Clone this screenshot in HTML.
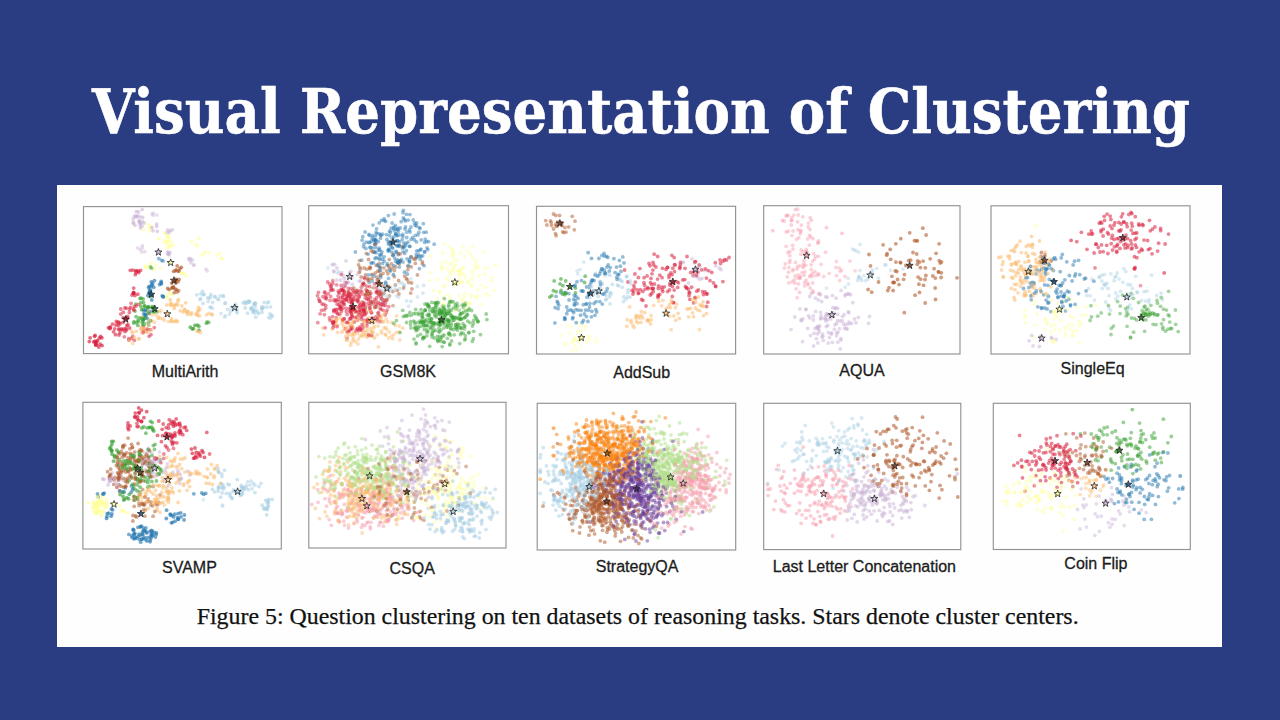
<!DOCTYPE html>
<html lang="en"><head><meta charset="utf-8"><title>Visual Representation of Clustering</title>
<style>
html,body{margin:0;padding:0}
body{width:1280px;height:720px;overflow:hidden;background:#2a3c82;position:relative;font-family:"Liberation Sans",sans-serif}
.panel{position:absolute;left:57px;top:184.5px;width:1165px;height:462.5px;background:#fefefe}
svg{position:absolute;left:0;top:0}
.ttl{stroke:#fff;stroke-width:.5px;font:bold 61px "DejaVu Serif Condensed","DejaVu Serif","Liberation Serif",serif;fill:#fff}
.c0{fill:#c9b1d6;fill-opacity:0.55}.c1{fill:#c9b1d6;fill-opacity:0.4}.c2{fill:#c9b1d6;fill-opacity:0.5}.c3{fill:#ffff99;fill-opacity:0.6}.c4{fill:#ffff99;fill-opacity:0.7}.c5{fill:#ffff99;fill-opacity:0.5}.c6{fill:#ffff99;fill-opacity:0.55}.c7{fill:#d91d3a;fill-opacity:0.6}.c8{fill:#d91d3a;fill-opacity:0.55}.c9{fill:#d91d3a;fill-opacity:0.65}.c10{fill:#d91d3a;fill-opacity:0.5}.c11{fill:#2577b0;fill-opacity:0.65}.c12{fill:#2577b0;fill-opacity:0.6}.c13{fill:#2577b0;fill-opacity:0.5}.c14{fill:#b05a2c;fill-opacity:0.65}.c15{fill:#b05a2c;fill-opacity:0.6}.c16{fill:#37a030;fill-opacity:0.6}.c17{fill:#37a030;fill-opacity:0.55}.c18{fill:#37a030;fill-opacity:0.65}.c19{fill:#37a030;fill-opacity:0.5}.c20{fill:#fbbe72;fill-opacity:0.6}.c21{fill:#fbbe72;fill-opacity:0.55}.c22{fill:#fbbe72;fill-opacity:0.5}.c23{fill:#a6cee3;fill-opacity:0.55}.c24{fill:#a6cee3;fill-opacity:0.5}.c25{fill:#a6cee3;fill-opacity:0.6}.c26{fill:#a6cee3;fill-opacity:0.45}.c27{fill:#ffff99;fill-opacity:0.42}.c28{fill:#a6cee3;fill-opacity:0.4}.c29{fill:#b05a2c;fill-opacity:0.5}.c30{fill:#b05a2c;fill-opacity:0.45}.c31{fill:#2577b0;fill-opacity:0.47}.c32{fill:#2577b0;fill-opacity:0.45}.c33{fill:#d91d3a;fill-opacity:0.48}.c34{fill:#37a030;fill-opacity:0.48}.c35{fill:#ffff99;fill-opacity:0.38}.c36{fill:#f79cab;fill-opacity:0.45}.c37{fill:#f79cab;fill-opacity:0.42}.c38{fill:#f79cab;fill-opacity:0.5}.c39{fill:#ffff99;fill-opacity:0.4}.c40{fill:#b05a2c;fill-opacity:0.55}.c41{fill:#37a030;fill-opacity:0.45}.c42{fill:#d91d3a;fill-opacity:0.4}.c43{fill:#ffff99;fill-opacity:0.65}.c44{fill:#37a030;fill-opacity:0.58}.c45{fill:#2577b0;fill-opacity:0.55}.c46{fill:#b2df8a;fill-opacity:0.5}.c47{fill:#c9b1d6;fill-opacity:0.48}.c48{fill:#6a3d9a;fill-opacity:0.5}.c49{fill:#b05a2c;fill-opacity:0.52}.c50{fill:#f98210;fill-opacity:0.5}.c51{fill:#f98210;fill-opacity:0.6}.c52{fill:#b05a2c;fill-opacity:0.57}.c53{fill:#fbbe72;fill-opacity:0.45}.c54{fill:#c9b1d6;fill-opacity:0.45}
.lab{font:16px "Liberation Sans",sans-serif;fill:#1c1c1c;stroke:#1c1c1c;stroke-width:.3px}
.cap{font:23.87px "Liberation Serif",serif;fill:#111;stroke:#111;stroke-width:.25px}
</style></head><body>
<div class="panel"></div>
<svg width="1280" height="720" viewBox="0 0 1280 720">
<defs><filter id="bl" x="0" y="0" width="100%" height="100%" filterUnits="userSpaceOnUse"><feGaussianBlur stdDeviation="0.45"/></filter></defs>
<text class="ttl" x="92" y="132.5" textLength="1098" lengthAdjust="spacingAndGlyphs">Visual Representation of Clustering</text>
<g class="plots" filter="url(#bl)">
<rect x="83.5" y="206.6" width="198.5" height="147.0" fill="#fff" stroke="#929292" stroke-width="1.15"/>
<g class="c24"><circle cx="262.4" cy="308.0" r="1.9"/><circle cx="266.8" cy="307.2" r="1.9"/></g>
<g class="c16"><circle cx="135.0" cy="311.1" r="1.9"/><circle cx="136.5" cy="322.8" r="1.9"/><circle cx="143.0" cy="320.9" r="1.9"/><circle cx="142.7" cy="317.3" r="1.9"/></g>
<g class="c18"><circle cx="190.3" cy="327.2" r="1.9"/></g>
<g class="c6"><circle cx="160.5" cy="268.6" r="1.9"/><circle cx="155.5" cy="265.3" r="1.9"/><circle cx="145.5" cy="265.9" r="1.9"/><circle cx="147.1" cy="268.0" r="1.9"/><circle cx="145.7" cy="266.9" r="1.9"/><circle cx="148.2" cy="266.7" r="1.9"/></g>
<g class="c8"><circle cx="129.4" cy="312.5" r="1.9"/><circle cx="127.7" cy="318.0" r="1.9"/><circle cx="129.4" cy="309.2" r="1.9"/><circle cx="126.2" cy="308.1" r="1.9"/><circle cx="123.3" cy="312.2" r="1.9"/><circle cx="127.5" cy="316.4" r="1.9"/></g>
<g class="c24"><circle cx="218.7" cy="299.6" r="1.9"/><circle cx="223.0" cy="295.7" r="1.9"/><circle cx="224.9" cy="303.4" r="1.9"/><circle cx="220.1" cy="295.9" r="1.9"/><circle cx="223.5" cy="296.4" r="1.9"/><circle cx="225.4" cy="303.0" r="1.9"/></g>
<g class="c1"><circle cx="151.9" cy="213.9" r="1.9"/><circle cx="153.4" cy="213.1" r="1.9"/><circle cx="156.8" cy="214.9" r="1.9"/><circle cx="153.1" cy="215.3" r="1.9"/></g>
<g class="c21"><circle cx="212.1" cy="314.9" r="1.9"/><circle cx="206.6" cy="314.7" r="1.9"/><circle cx="211.9" cy="314.1" r="1.9"/><circle cx="209.2" cy="313.3" r="1.9"/></g>
<g class="c7"><circle cx="137.8" cy="294.2" r="1.9"/><circle cx="132.0" cy="295.1" r="1.9"/><circle cx="133.4" cy="293.3" r="1.9"/><circle cx="133.6" cy="293.1" r="1.9"/><circle cx="133.9" cy="292.9" r="1.9"/><circle cx="133.7" cy="288.1" r="1.9"/></g>
<g class="c23"><circle cx="252.9" cy="312.1" r="1.9"/><circle cx="254.4" cy="313.0" r="1.9"/><circle cx="255.8" cy="317.2" r="1.9"/><circle cx="253.4" cy="311.1" r="1.9"/><circle cx="253.9" cy="310.3" r="1.9"/><circle cx="247.4" cy="313.2" r="1.9"/></g>
<g class="c21"><circle cx="141.8" cy="333.0" r="1.9"/><circle cx="141.3" cy="329.0" r="1.9"/><circle cx="147.1" cy="328.5" r="1.9"/><circle cx="132.8" cy="332.8" r="1.9"/><circle cx="136.3" cy="331.3" r="1.9"/><circle cx="145.8" cy="331.2" r="1.9"/></g>
<g class="c0"><circle cx="144.2" cy="222.9" r="1.9"/><circle cx="139.7" cy="222.5" r="1.9"/><circle cx="140.4" cy="228.0" r="1.9"/><circle cx="136.0" cy="216.2" r="1.9"/><circle cx="139.1" cy="220.7" r="1.9"/><circle cx="133.4" cy="223.5" r="1.9"/></g>
<g class="c7"><circle cx="135.5" cy="270.8" r="1.9"/><circle cx="138.2" cy="271.2" r="1.9"/><circle cx="136.8" cy="270.8" r="1.9"/></g>
<g class="c10"><circle cx="150.3" cy="329.6" r="1.9"/><circle cx="149.1" cy="336.3" r="1.9"/><circle cx="151.0" cy="334.7" r="1.9"/><circle cx="154.3" cy="327.6" r="1.9"/><circle cx="143.5" cy="326.6" r="1.9"/><circle cx="143.4" cy="329.8" r="1.9"/></g>
<g class="c14"><circle cx="172.7" cy="287.5" r="1.9"/><circle cx="169.2" cy="289.6" r="1.9"/><circle cx="172.8" cy="287.8" r="1.9"/><circle cx="173.6" cy="286.9" r="1.9"/><circle cx="171.9" cy="287.9" r="1.9"/><circle cx="167.7" cy="288.4" r="1.9"/></g>
<g class="c26"><circle cx="229.4" cy="314.2" r="1.9"/><circle cx="220.9" cy="313.6" r="1.9"/><circle cx="225.3" cy="315.9" r="1.9"/><circle cx="224.7" cy="316.9" r="1.9"/></g>
<g class="c24"><circle cx="227.6" cy="309.3" r="1.9"/><circle cx="237.1" cy="312.8" r="1.9"/></g>
<g class="c16"><circle cx="143.5" cy="302.6" r="1.9"/><circle cx="143.0" cy="309.7" r="1.9"/><circle cx="147.1" cy="311.0" r="1.9"/><circle cx="147.2" cy="307.7" r="1.9"/><circle cx="141.0" cy="302.7" r="1.9"/><circle cx="135.8" cy="304.1" r="1.9"/></g>
<g class="c20"><circle cx="183.2" cy="312.1" r="1.9"/><circle cx="191.7" cy="312.9" r="1.9"/><circle cx="187.3" cy="311.7" r="1.9"/><circle cx="186.7" cy="312.5" r="1.9"/><circle cx="187.8" cy="314.4" r="1.9"/><circle cx="197.6" cy="315.3" r="1.9"/></g>
<g class="c7"><circle cx="120.1" cy="323.7" r="1.9"/><circle cx="122.4" cy="329.9" r="1.9"/><circle cx="115.5" cy="334.7" r="1.9"/><circle cx="121.4" cy="329.0" r="1.9"/></g>
<g class="c25"><circle cx="249.3" cy="302.1" r="1.9"/><circle cx="245.3" cy="303.6" r="1.9"/><circle cx="243.2" cy="302.8" r="1.9"/><circle cx="255.3" cy="303.3" r="1.9"/><circle cx="249.4" cy="301.3" r="1.9"/><circle cx="254.8" cy="304.4" r="1.9"/></g>
<g class="c21"><circle cx="131.6" cy="331.4" r="1.9"/><circle cx="142.9" cy="330.2" r="1.9"/><circle cx="147.8" cy="332.3" r="1.9"/><circle cx="143.5" cy="327.9" r="1.9"/><circle cx="141.0" cy="327.5" r="1.9"/><circle cx="141.0" cy="329.0" r="1.9"/></g>
<g class="c16"><circle cx="144.7" cy="306.0" r="1.9"/><circle cx="141.6" cy="309.7" r="1.9"/><circle cx="144.5" cy="306.2" r="1.9"/><circle cx="143.1" cy="299.0" r="1.9"/><circle cx="140.9" cy="306.4" r="1.9"/><circle cx="141.1" cy="298.2" r="1.9"/></g>
<g class="c1"><circle cx="207.1" cy="270.9" r="1.9"/><circle cx="205.9" cy="269.1" r="1.9"/></g>
<g class="c11"><circle cx="161.2" cy="282.8" r="1.9"/><circle cx="161.4" cy="283.8" r="1.9"/><circle cx="161.2" cy="281.3" r="1.9"/><circle cx="159.6" cy="284.5" r="1.9"/></g>
<g class="c13"><circle cx="158.8" cy="258.6" r="1.9"/><circle cx="161.6" cy="260.3" r="1.9"/><circle cx="163.0" cy="260.9" r="1.9"/></g>
<g class="c9"><circle cx="100.1" cy="344.2" r="1.9"/><circle cx="102.1" cy="345.6" r="1.9"/><circle cx="101.9" cy="337.8" r="1.9"/><circle cx="89.3" cy="341.6" r="1.9"/><circle cx="96.4" cy="341.1" r="1.9"/><circle cx="96.1" cy="342.8" r="1.9"/></g>
<g class="c1"><circle cx="193.8" cy="265.2" r="1.9"/><circle cx="193.9" cy="265.0" r="1.9"/></g>
<g class="c3"><circle cx="149.5" cy="230.5" r="1.9"/><circle cx="149.9" cy="227.3" r="1.9"/><circle cx="148.3" cy="224.6" r="1.9"/><circle cx="143.9" cy="229.3" r="1.9"/><circle cx="151.2" cy="226.4" r="1.9"/></g>
<g class="c23"><circle cx="261.9" cy="309.6" r="1.9"/><circle cx="255.2" cy="306.1" r="1.9"/><circle cx="257.5" cy="312.0" r="1.9"/><circle cx="261.7" cy="308.1" r="1.9"/></g>
<g class="c14"><circle cx="175.4" cy="270.8" r="1.9"/><circle cx="178.1" cy="271.0" r="1.9"/></g>
<g class="c3"><circle cx="171.8" cy="294.8" r="1.9"/><circle cx="166.5" cy="296.7" r="1.9"/><circle cx="170.5" cy="293.9" r="1.9"/><circle cx="167.2" cy="297.8" r="1.9"/><circle cx="168.9" cy="292.6" r="1.9"/><circle cx="165.2" cy="296.3" r="1.9"/></g>
<g class="c11"><circle cx="154.4" cy="280.6" r="1.9"/><circle cx="152.0" cy="285.0" r="1.9"/></g>
<g class="c22"><circle cx="154.4" cy="322.2" r="1.9"/><circle cx="151.6" cy="320.8" r="1.9"/><circle cx="142.1" cy="317.6" r="1.9"/><circle cx="162.9" cy="318.7" r="1.9"/></g>
<g class="c18"><circle cx="197.4" cy="325.1" r="1.9"/><circle cx="192.3" cy="329.0" r="1.9"/><circle cx="193.4" cy="328.6" r="1.9"/><circle cx="198.9" cy="326.2" r="1.9"/><circle cx="194.9" cy="325.3" r="1.9"/><circle cx="198.9" cy="330.2" r="1.9"/></g>
<g class="c21"><circle cx="146.4" cy="331.7" r="1.9"/><circle cx="151.4" cy="330.3" r="1.9"/></g>
<g class="c3"><circle cx="191.5" cy="241.3" r="1.9"/><circle cx="198.8" cy="238.5" r="1.9"/><circle cx="196.3" cy="244.4" r="1.9"/><circle cx="196.7" cy="245.6" r="1.9"/></g>
<g class="c10"><circle cx="143.3" cy="332.5" r="1.9"/><circle cx="147.2" cy="329.3" r="1.9"/></g>
<g class="c20"><circle cx="170.8" cy="305.4" r="1.9"/><circle cx="166.8" cy="305.0" r="1.9"/><circle cx="174.9" cy="305.5" r="1.9"/><circle cx="170.3" cy="299.9" r="1.9"/><circle cx="173.8" cy="305.6" r="1.9"/><circle cx="174.2" cy="308.4" r="1.9"/></g>
<g class="c8"><circle cx="120.8" cy="309.0" r="1.9"/><circle cx="133.6" cy="308.9" r="1.9"/><circle cx="120.7" cy="314.1" r="1.9"/><circle cx="130.4" cy="307.5" r="1.9"/><circle cx="123.1" cy="317.7" r="1.9"/><circle cx="124.9" cy="307.9" r="1.9"/></g>
<g class="c23"><circle cx="200.0" cy="299.6" r="1.9"/><circle cx="201.0" cy="293.8" r="1.9"/><circle cx="209.4" cy="298.2" r="1.9"/><circle cx="203.6" cy="294.7" r="1.9"/><circle cx="203.9" cy="294.4" r="1.9"/><circle cx="196.9" cy="294.8" r="1.9"/></g>
<g class="c24"><circle cx="210.4" cy="307.1" r="1.9"/><circle cx="212.7" cy="302.5" r="1.9"/><circle cx="210.3" cy="307.3" r="1.9"/><circle cx="212.3" cy="308.3" r="1.9"/></g>
<g class="c9"><circle cx="94.6" cy="336.3" r="1.9"/><circle cx="95.6" cy="344.9" r="1.9"/><circle cx="94.8" cy="341.5" r="1.9"/><circle cx="97.6" cy="340.9" r="1.9"/><circle cx="93.7" cy="341.9" r="1.9"/><circle cx="98.8" cy="347.0" r="1.9"/></g>
<g class="c23"><circle cx="251.0" cy="308.3" r="1.9"/><circle cx="250.9" cy="309.0" r="1.9"/><circle cx="252.6" cy="308.9" r="1.9"/><circle cx="258.5" cy="313.5" r="1.9"/><circle cx="261.9" cy="312.6" r="1.9"/><circle cx="256.0" cy="310.1" r="1.9"/></g>
<g class="c20"><circle cx="184.5" cy="309.9" r="1.9"/><circle cx="177.9" cy="301.5" r="1.9"/></g>
<g class="c12"><circle cx="145.5" cy="309.9" r="1.9"/><circle cx="143.5" cy="319.5" r="1.9"/><circle cx="146.1" cy="316.1" r="1.9"/><circle cx="143.7" cy="313.8" r="1.9"/></g>
<g class="c17"><circle cx="207.1" cy="322.0" r="1.9"/><circle cx="206.4" cy="323.3" r="1.9"/><circle cx="208.7" cy="322.4" r="1.9"/></g>
<g class="c20"><circle cx="196.6" cy="313.4" r="1.9"/><circle cx="188.3" cy="311.7" r="1.9"/><circle cx="191.1" cy="314.6" r="1.9"/></g>
<g class="c24"><circle cx="210.9" cy="294.5" r="1.9"/><circle cx="210.6" cy="296.6" r="1.9"/><circle cx="215.0" cy="296.4" r="1.9"/><circle cx="217.4" cy="298.9" r="1.9"/><circle cx="214.7" cy="296.9" r="1.9"/><circle cx="208.2" cy="301.6" r="1.9"/></g>
<g class="c22"><circle cx="196.6" cy="331.0" r="1.9"/><circle cx="200.5" cy="332.5" r="1.9"/><circle cx="198.3" cy="331.8" r="1.9"/></g>
<g class="c2"><circle cx="168.6" cy="253.7" r="1.9"/><circle cx="167.5" cy="251.8" r="1.9"/><circle cx="168.2" cy="254.2" r="1.9"/><circle cx="169.2" cy="254.7" r="1.9"/><circle cx="170.0" cy="252.3" r="1.9"/><circle cx="168.0" cy="253.1" r="1.9"/></g>
<g class="c10"><circle cx="134.4" cy="340.3" r="1.9"/><circle cx="128.7" cy="338.6" r="1.9"/><circle cx="132.7" cy="336.3" r="1.9"/><circle cx="128.9" cy="340.1" r="1.9"/><circle cx="131.6" cy="338.5" r="1.9"/><circle cx="124.3" cy="336.8" r="1.9"/></g>
<g class="c7"><circle cx="134.9" cy="295.5" r="1.9"/><circle cx="133.6" cy="292.4" r="1.9"/></g>
<g class="c11"><circle cx="149.7" cy="290.4" r="1.9"/><circle cx="150.6" cy="289.8" r="1.9"/><circle cx="147.9" cy="295.5" r="1.9"/><circle cx="151.8" cy="299.9" r="1.9"/><circle cx="149.9" cy="292.2" r="1.9"/><circle cx="149.6" cy="292.1" r="1.9"/></g>
<g class="c4"><circle cx="164.5" cy="241.0" r="1.9"/><circle cx="167.5" cy="235.3" r="1.9"/><circle cx="158.8" cy="238.8" r="1.9"/><circle cx="167.7" cy="240.7" r="1.9"/><circle cx="164.7" cy="232.9" r="1.9"/><circle cx="166.1" cy="243.4" r="1.9"/></g>
<g class="c17"><circle cx="148.4" cy="322.3" r="1.9"/><circle cx="150.6" cy="320.7" r="1.9"/><circle cx="144.7" cy="323.9" r="1.9"/><circle cx="144.8" cy="318.1" r="1.9"/><circle cx="148.7" cy="325.0" r="1.9"/></g>
<g class="c22"><circle cx="132.7" cy="343.4" r="1.9"/><circle cx="139.1" cy="339.0" r="1.9"/><circle cx="134.3" cy="337.4" r="1.9"/><circle cx="129.2" cy="340.7" r="1.9"/><circle cx="138.7" cy="338.4" r="1.9"/></g>
<g class="c12"><circle cx="148.8" cy="313.0" r="1.9"/><circle cx="145.5" cy="314.4" r="1.9"/><circle cx="144.2" cy="310.7" r="1.9"/><circle cx="150.3" cy="311.5" r="1.9"/><circle cx="145.2" cy="314.8" r="1.9"/><circle cx="147.4" cy="318.6" r="1.9"/></g>
<g class="c24"><circle cx="272.4" cy="316.0" r="1.9"/><circle cx="270.6" cy="318.1" r="1.9"/><circle cx="268.7" cy="317.6" r="1.9"/><circle cx="269.9" cy="313.8" r="1.9"/><circle cx="271.3" cy="315.2" r="1.9"/></g>
<g class="c7"><circle cx="118.8" cy="329.0" r="1.9"/><circle cx="114.7" cy="328.8" r="1.9"/><circle cx="124.2" cy="329.0" r="1.9"/><circle cx="126.7" cy="330.1" r="1.9"/><circle cx="119.9" cy="332.8" r="1.9"/><circle cx="108.4" cy="327.8" r="1.9"/></g>
<g class="c7"><circle cx="123.2" cy="322.3" r="1.9"/><circle cx="126.9" cy="325.4" r="1.9"/><circle cx="119.3" cy="329.8" r="1.9"/><circle cx="125.0" cy="331.5" r="1.9"/><circle cx="110.5" cy="327.0" r="1.9"/><circle cx="115.9" cy="325.0" r="1.9"/></g>
<g class="c2"><circle cx="170.4" cy="230.4" r="1.9"/><circle cx="169.3" cy="232.4" r="1.9"/><circle cx="167.6" cy="229.9" r="1.9"/><circle cx="167.2" cy="232.4" r="1.9"/><circle cx="172.5" cy="229.8" r="1.9"/></g>
<g class="c14"><circle cx="176.1" cy="269.9" r="1.9"/><circle cx="181.3" cy="267.3" r="1.9"/><circle cx="180.0" cy="268.6" r="1.9"/><circle cx="177.2" cy="265.9" r="1.9"/><circle cx="173.7" cy="271.3" r="1.9"/><circle cx="179.1" cy="271.1" r="1.9"/></g>
<g class="c11"><circle cx="151.3" cy="282.0" r="1.9"/><circle cx="148.6" cy="287.6" r="1.9"/><circle cx="151.1" cy="286.2" r="1.9"/><circle cx="153.7" cy="287.2" r="1.9"/><circle cx="152.6" cy="283.4" r="1.9"/><circle cx="149.2" cy="286.5" r="1.9"/></g>
<g class="c0"><circle cx="157.3" cy="231.3" r="1.9"/><circle cx="156.6" cy="226.4" r="1.9"/><circle cx="151.8" cy="227.5" r="1.9"/><circle cx="156.6" cy="224.2" r="1.9"/><circle cx="152.9" cy="230.7" r="1.9"/></g>
<g class="c0"><circle cx="133.4" cy="222.2" r="1.9"/><circle cx="136.3" cy="211.7" r="1.9"/><circle cx="133.3" cy="218.8" r="1.9"/><circle cx="137.7" cy="215.8" r="1.9"/><circle cx="140.5" cy="223.6" r="1.9"/><circle cx="140.2" cy="224.9" r="1.9"/></g>
<g class="c0"><circle cx="138.5" cy="212.0" r="1.9"/><circle cx="140.0" cy="216.9" r="1.9"/><circle cx="134.4" cy="216.2" r="1.9"/><circle cx="142.2" cy="209.6" r="1.9"/></g>
<g class="c11"><circle cx="152.1" cy="295.3" r="1.9"/><circle cx="148.9" cy="292.8" r="1.9"/></g>
<g class="c7"><circle cx="132.9" cy="270.1" r="1.9"/><circle cx="138.8" cy="272.5" r="1.9"/><circle cx="135.3" cy="274.7" r="1.9"/><circle cx="140.6" cy="270.3" r="1.9"/><circle cx="136.1" cy="272.6" r="1.9"/><circle cx="130.3" cy="270.3" r="1.9"/></g>
<g class="c2"><circle cx="190.2" cy="258.4" r="1.9"/><circle cx="189.8" cy="260.2" r="1.9"/><circle cx="190.9" cy="262.8" r="1.9"/><circle cx="192.3" cy="260.0" r="1.9"/><circle cx="188.5" cy="258.7" r="1.9"/></g>
<g class="c25"><circle cx="251.8" cy="307.7" r="1.9"/><circle cx="253.8" cy="303.9" r="1.9"/></g>
<g class="c14"><circle cx="179.0" cy="279.5" r="1.9"/></g>
<g class="c12"><circle cx="163.4" cy="297.0" r="1.9"/><circle cx="163.0" cy="296.4" r="1.9"/><circle cx="162.2" cy="295.8" r="1.9"/></g>
<g class="c21"><circle cx="199.4" cy="315.9" r="1.9"/><circle cx="197.9" cy="310.5" r="1.9"/><circle cx="199.8" cy="309.2" r="1.9"/><circle cx="198.7" cy="311.2" r="1.9"/><circle cx="196.3" cy="314.3" r="1.9"/><circle cx="198.5" cy="307.3" r="1.9"/></g>
<g class="c9"><circle cx="99.3" cy="338.2" r="1.9"/><circle cx="100.6" cy="336.5" r="1.9"/><circle cx="95.1" cy="335.3" r="1.9"/><circle cx="95.9" cy="344.2" r="1.9"/><circle cx="90.1" cy="337.8" r="1.9"/><circle cx="96.1" cy="345.1" r="1.9"/></g>
<g class="c22"><circle cx="148.6" cy="324.9" r="1.9"/><circle cx="158.0" cy="318.2" r="1.9"/><circle cx="148.6" cy="312.4" r="1.9"/><circle cx="164.3" cy="320.3" r="1.9"/><circle cx="160.9" cy="310.5" r="1.9"/><circle cx="168.7" cy="321.6" r="1.9"/></g>
<g class="c20"><circle cx="184.7" cy="309.4" r="1.9"/><circle cx="180.3" cy="310.8" r="1.9"/><circle cx="185.7" cy="302.8" r="1.9"/><circle cx="177.7" cy="304.8" r="1.9"/><circle cx="181.9" cy="306.0" r="1.9"/><circle cx="178.4" cy="299.4" r="1.9"/></g>
<g class="c23"><circle cx="200.7" cy="298.5" r="1.9"/><circle cx="203.0" cy="303.4" r="1.9"/><circle cx="202.5" cy="291.3" r="1.9"/><circle cx="207.6" cy="297.8" r="1.9"/></g>
<g class="c10"><circle cx="138.6" cy="304.3" r="1.9"/><circle cx="134.3" cy="306.3" r="1.9"/><circle cx="136.2" cy="306.1" r="1.9"/><circle cx="131.1" cy="303.3" r="1.9"/></g>
<g class="c6"><circle cx="150.9" cy="263.5" r="1.9"/><circle cx="154.2" cy="269.5" r="1.9"/></g>
<g class="c0"><circle cx="136.6" cy="216.9" r="1.9"/><circle cx="135.0" cy="225.3" r="1.9"/><circle cx="142.3" cy="221.6" r="1.9"/><circle cx="139.4" cy="221.4" r="1.9"/><circle cx="142.0" cy="226.2" r="1.9"/><circle cx="142.7" cy="217.5" r="1.9"/></g>
<g class="c20"><circle cx="172.2" cy="321.6" r="1.9"/><circle cx="177.4" cy="321.7" r="1.9"/><circle cx="176.0" cy="320.5" r="1.9"/><circle cx="174.5" cy="321.6" r="1.9"/><circle cx="171.7" cy="318.6" r="1.9"/><circle cx="170.9" cy="321.0" r="1.9"/></g>
<g class="c19"><circle cx="151.6" cy="268.2" r="1.9"/><circle cx="150.5" cy="266.8" r="1.9"/></g>
<g class="c5"><circle cx="183.4" cy="273.4" r="1.9"/><circle cx="186.2" cy="275.7" r="1.9"/><circle cx="181.6" cy="273.4" r="1.9"/><circle cx="184.0" cy="273.6" r="1.9"/><circle cx="181.5" cy="273.3" r="1.9"/></g>
<g class="c24"><circle cx="237.0" cy="308.9" r="1.9"/><circle cx="236.9" cy="311.3" r="1.9"/><circle cx="235.5" cy="304.2" r="1.9"/><circle cx="231.3" cy="307.2" r="1.9"/><circle cx="230.8" cy="311.2" r="1.9"/><circle cx="234.8" cy="305.5" r="1.9"/></g>
<g class="c7"><circle cx="116.3" cy="321.4" r="1.9"/><circle cx="126.2" cy="328.5" r="1.9"/><circle cx="112.5" cy="324.1" r="1.9"/><circle cx="128.0" cy="324.8" r="1.9"/><circle cx="117.9" cy="322.1" r="1.9"/><circle cx="110.1" cy="328.7" r="1.9"/></g>
<g class="c16"><circle cx="142.2" cy="322.5" r="1.9"/><circle cx="139.4" cy="317.8" r="1.9"/><circle cx="136.1" cy="316.7" r="1.9"/><circle cx="143.0" cy="319.6" r="1.9"/><circle cx="138.0" cy="320.1" r="1.9"/><circle cx="137.9" cy="325.4" r="1.9"/></g>
<g class="c5"><circle cx="221.7" cy="258.2" r="1.9"/><circle cx="222.5" cy="258.8" r="1.9"/><circle cx="219.7" cy="253.6" r="1.9"/><circle cx="216.6" cy="255.1" r="1.9"/></g>
<g class="c16"><circle cx="140.1" cy="298.5" r="1.9"/><circle cx="148.9" cy="307.3" r="1.9"/><circle cx="150.2" cy="296.6" r="1.9"/><circle cx="148.2" cy="307.4" r="1.9"/></g>
<g class="c16"><circle cx="152.3" cy="307.8" r="1.9"/><circle cx="152.0" cy="306.6" r="1.9"/></g>
<g class="c1"><circle cx="137.7" cy="247.8" r="1.9"/><circle cx="142.4" cy="245.7" r="1.9"/><circle cx="142.3" cy="248.0" r="1.9"/><circle cx="140.0" cy="249.4" r="1.9"/><circle cx="141.7" cy="252.0" r="1.9"/><circle cx="144.8" cy="251.7" r="1.9"/></g>
<g class="c24"><circle cx="261.9" cy="306.9" r="1.9"/><circle cx="267.3" cy="302.9" r="1.9"/><circle cx="264.1" cy="302.5" r="1.9"/><circle cx="263.7" cy="307.1" r="1.9"/><circle cx="268.6" cy="302.0" r="1.9"/><circle cx="270.6" cy="306.8" r="1.9"/></g>
<g class="c16"><circle cx="138.2" cy="321.6" r="1.9"/><circle cx="144.9" cy="318.1" r="1.9"/><circle cx="142.8" cy="324.8" r="1.9"/><circle cx="134.1" cy="321.7" r="1.9"/><circle cx="133.7" cy="323.1" r="1.9"/><circle cx="141.3" cy="318.8" r="1.9"/></g>
<g class="c16"><circle cx="148.2" cy="306.7" r="1.9"/><circle cx="149.0" cy="313.4" r="1.9"/><circle cx="154.1" cy="306.7" r="1.9"/><circle cx="157.0" cy="311.7" r="1.9"/><circle cx="154.2" cy="312.0" r="1.9"/><circle cx="153.5" cy="311.7" r="1.9"/></g>
<g class="c5"><circle cx="209.6" cy="252.6" r="1.9"/><circle cx="204.9" cy="252.1" r="1.9"/><circle cx="202.5" cy="255.3" r="1.9"/><circle cx="204.7" cy="252.9" r="1.9"/></g>
<g class="c8"><circle cx="133.8" cy="310.2" r="1.9"/><circle cx="124.8" cy="318.4" r="1.9"/></g>
<g class="c14"><circle cx="176.2" cy="279.5" r="1.9"/><circle cx="171.7" cy="283.1" r="1.9"/><circle cx="175.8" cy="283.0" r="1.9"/><circle cx="178.0" cy="281.7" r="1.9"/><circle cx="174.8" cy="280.8" r="1.9"/><circle cx="176.0" cy="280.9" r="1.9"/></g>
<g class="c7"><circle cx="119.0" cy="322.5" r="1.9"/><circle cx="109.8" cy="327.7" r="1.9"/><circle cx="119.0" cy="335.0" r="1.9"/><circle cx="118.3" cy="325.3" r="1.9"/><circle cx="129.7" cy="328.0" r="1.9"/><circle cx="113.6" cy="331.8" r="1.9"/></g>
<g class="c3"><circle cx="169.7" cy="246.6" r="1.9"/><circle cx="170.6" cy="241.6" r="1.9"/><circle cx="173.1" cy="245.1" r="1.9"/><circle cx="167.4" cy="247.9" r="1.9"/><circle cx="169.6" cy="245.5" r="1.9"/></g>
<g class="c20"><circle cx="175.9" cy="304.3" r="1.9"/><circle cx="171.3" cy="303.6" r="1.9"/><circle cx="170.5" cy="304.0" r="1.9"/></g>
<g class="c4"><circle cx="169.0" cy="237.2" r="1.9"/><circle cx="167.3" cy="236.9" r="1.9"/></g>
<g class="c22"><circle cx="158.9" cy="317.0" r="1.9"/><circle cx="160.1" cy="318.4" r="1.9"/><circle cx="159.5" cy="311.7" r="1.9"/><circle cx="151.9" cy="315.0" r="1.9"/><circle cx="156.0" cy="315.0" r="1.9"/><circle cx="149.1" cy="320.1" r="1.9"/></g>
<g class="c15"><circle cx="178.6" cy="290.7" r="1.9"/><circle cx="175.5" cy="289.2" r="1.9"/><circle cx="176.2" cy="289.7" r="1.9"/><circle cx="174.2" cy="292.7" r="1.9"/><circle cx="177.1" cy="292.0" r="1.9"/></g>
<g class="c25"><circle cx="255.0" cy="302.8" r="1.9"/><circle cx="248.0" cy="301.5" r="1.9"/><circle cx="247.2" cy="302.8" r="1.9"/><circle cx="249.2" cy="301.3" r="1.9"/><circle cx="244.9" cy="301.9" r="1.9"/><circle cx="245.2" cy="307.9" r="1.9"/></g>
<polygon points="158.4,248.5 159.3,251.0 162.0,251.1 159.9,252.7 160.6,255.3 158.4,253.7 156.2,255.3 157.0,252.7 154.9,251.1 157.6,251.0" fill="#c9b1d6" fill-opacity=".85" stroke="#262626" stroke-width=".8"/>
<polygon points="170.7,258.9 171.5,261.5 174.2,261.5 172.1,263.1 172.9,265.7 170.7,264.2 168.5,265.7 169.2,263.1 167.1,261.5 169.8,261.5" fill="#ffff99" fill-opacity=".85" stroke="#262626" stroke-width=".8"/>
<polygon points="174.0,276.7 174.9,279.2 177.6,279.3 175.4,280.9 176.2,283.5 174.0,281.9 171.8,283.5 172.6,280.9 170.4,279.3 173.1,279.2" fill="#6d371b" fill-opacity=".85" stroke="#262626" stroke-width=".8"/>
<polygon points="151.3,290.7 152.2,293.2 154.9,293.3 152.8,294.9 153.5,297.5 151.3,295.9 149.1,297.5 149.9,294.9 147.8,293.3 150.5,293.2" fill="#16496d" fill-opacity=".85" stroke="#262626" stroke-width=".8"/>
<polygon points="154.7,305.1 155.5,307.7 158.2,307.7 156.1,309.4 156.9,311.9 154.7,310.4 152.5,311.9 153.2,309.4 151.1,307.7 153.8,307.7" fill="#22631d" fill-opacity=".85" stroke="#262626" stroke-width=".8"/>
<polygon points="167.3,310.2 168.2,312.8 170.9,312.8 168.8,314.5 169.5,317.0 167.3,315.5 165.1,317.0 165.9,314.5 163.8,312.8 166.5,312.8" fill="#fbbe72" fill-opacity=".85" stroke="#262626" stroke-width=".8"/>
<polygon points="125.8,315.6 126.7,318.1 129.3,318.2 127.2,319.8 128.0,322.4 125.8,320.8 123.6,322.4 124.4,319.8 122.2,318.2 124.9,318.1" fill="#861123" fill-opacity=".85" stroke="#262626" stroke-width=".8"/>
<polygon points="234.7,304.0 235.5,306.6 238.2,306.6 236.1,308.2 236.9,310.8 234.7,309.3 232.5,310.8 233.2,308.2 231.1,306.6 233.8,306.6" fill="#a6cee3" fill-opacity=".85" stroke="#262626" stroke-width=".8"/>
<rect x="308.7" y="205.7" width="199.8" height="148.1" fill="#fff" stroke="#929292" stroke-width="1.15"/>
<g class="c33"><circle cx="376.2" cy="292.1" r="1.9"/><circle cx="352.3" cy="302.6" r="1.9"/><circle cx="364.9" cy="303.4" r="1.9"/><circle cx="367.6" cy="320.4" r="1.9"/><circle cx="370.2" cy="310.1" r="1.9"/><circle cx="342.8" cy="297.7" r="1.9"/></g>
<g class="c33"><circle cx="319.8" cy="301.4" r="1.9"/><circle cx="332.8" cy="280.7" r="1.9"/><circle cx="371.3" cy="312.3" r="1.9"/><circle cx="367.4" cy="291.6" r="1.9"/><circle cx="335.6" cy="299.8" r="1.9"/><circle cx="347.0" cy="332.1" r="1.9"/></g>
<g class="c22"><circle cx="342.5" cy="321.5" r="1.9"/><circle cx="351.2" cy="342.3" r="1.9"/><circle cx="373.4" cy="336.7" r="1.9"/><circle cx="373.6" cy="328.0" r="1.9"/><circle cx="322.8" cy="328.1" r="1.9"/><circle cx="343.7" cy="326.6" r="1.9"/></g>
<g class="c29"><circle cx="366.3" cy="253.6" r="1.9"/><circle cx="407.7" cy="266.1" r="1.9"/><circle cx="395.4" cy="284.9" r="1.9"/><circle cx="400.2" cy="253.9" r="1.9"/><circle cx="376.3" cy="265.4" r="1.9"/><circle cx="394.4" cy="270.5" r="1.9"/></g>
<g class="c30"><circle cx="381.7" cy="294.4" r="1.9"/><circle cx="375.8" cy="301.2" r="1.9"/><circle cx="377.8" cy="313.5" r="1.9"/><circle cx="366.2" cy="294.1" r="1.9"/><circle cx="369.5" cy="293.9" r="1.9"/><circle cx="389.5" cy="296.0" r="1.9"/></g>
<g class="c27"><circle cx="460.6" cy="271.7" r="1.9"/><circle cx="450.4" cy="264.4" r="1.9"/><circle cx="464.7" cy="256.8" r="1.9"/><circle cx="443.7" cy="286.1" r="1.9"/><circle cx="446.1" cy="261.4" r="1.9"/><circle cx="480.7" cy="285.1" r="1.9"/></g>
<g class="c34"><circle cx="457.0" cy="303.3" r="1.9"/><circle cx="441.3" cy="311.1" r="1.9"/><circle cx="449.9" cy="343.9" r="1.9"/><circle cx="423.9" cy="325.6" r="1.9"/><circle cx="454.1" cy="317.9" r="1.9"/><circle cx="439.4" cy="309.0" r="1.9"/></g>
<g class="c31"><circle cx="400.0" cy="261.2" r="1.9"/><circle cx="416.6" cy="222.9" r="1.9"/><circle cx="408.2" cy="220.1" r="1.9"/><circle cx="375.9" cy="243.7" r="1.9"/><circle cx="409.4" cy="261.4" r="1.9"/><circle cx="372.9" cy="247.9" r="1.9"/></g>
<g class="c22"><circle cx="371.5" cy="331.8" r="1.9"/><circle cx="364.3" cy="313.8" r="1.9"/><circle cx="371.4" cy="330.7" r="1.9"/><circle cx="352.2" cy="334.1" r="1.9"/><circle cx="353.8" cy="320.6" r="1.9"/><circle cx="336.1" cy="321.2" r="1.9"/></g>
<g class="c22"><circle cx="335.1" cy="326.2" r="1.9"/><circle cx="368.8" cy="317.7" r="1.9"/><circle cx="356.1" cy="308.8" r="1.9"/><circle cx="402.7" cy="328.2" r="1.9"/><circle cx="347.5" cy="322.4" r="1.9"/><circle cx="348.9" cy="323.7" r="1.9"/></g>
<g class="c33"><circle cx="346.3" cy="322.6" r="1.9"/><circle cx="331.4" cy="285.7" r="1.9"/><circle cx="344.2" cy="294.4" r="1.9"/><circle cx="345.2" cy="286.1" r="1.9"/><circle cx="339.6" cy="301.5" r="1.9"/><circle cx="357.0" cy="294.2" r="1.9"/></g>
<g class="c32"><circle cx="371.8" cy="262.8" r="1.9"/><circle cx="380.3" cy="275.0" r="1.9"/><circle cx="371.2" cy="274.8" r="1.9"/><circle cx="388.5" cy="278.4" r="1.9"/><circle cx="385.6" cy="282.2" r="1.9"/><circle cx="372.3" cy="281.0" r="1.9"/></g>
<g class="c29"><circle cx="376.8" cy="283.1" r="1.9"/><circle cx="370.5" cy="267.8" r="1.9"/><circle cx="383.0" cy="273.4" r="1.9"/><circle cx="380.8" cy="275.4" r="1.9"/><circle cx="394.3" cy="276.7" r="1.9"/><circle cx="383.3" cy="285.9" r="1.9"/></g>
<g class="c33"><circle cx="381.1" cy="309.3" r="1.9"/><circle cx="359.1" cy="297.1" r="1.9"/><circle cx="351.0" cy="326.3" r="1.9"/><circle cx="325.1" cy="298.1" r="1.9"/><circle cx="365.0" cy="314.9" r="1.9"/><circle cx="358.3" cy="312.1" r="1.9"/></g>
<g class="c34"><circle cx="441.3" cy="337.5" r="1.9"/><circle cx="465.3" cy="335.7" r="1.9"/><circle cx="422.7" cy="338.9" r="1.9"/><circle cx="462.1" cy="305.1" r="1.9"/><circle cx="472.3" cy="341.4" r="1.9"/><circle cx="429.0" cy="306.5" r="1.9"/></g>
<g class="c34"><circle cx="430.1" cy="327.7" r="1.9"/><circle cx="455.3" cy="304.8" r="1.9"/><circle cx="440.2" cy="313.4" r="1.9"/><circle cx="431.1" cy="328.6" r="1.9"/><circle cx="438.4" cy="302.7" r="1.9"/><circle cx="445.9" cy="311.0" r="1.9"/></g>
<g class="c33"><circle cx="351.0" cy="298.4" r="1.9"/><circle cx="357.3" cy="301.1" r="1.9"/><circle cx="353.9" cy="292.1" r="1.9"/><circle cx="379.8" cy="303.5" r="1.9"/><circle cx="359.7" cy="306.5" r="1.9"/><circle cx="328.3" cy="293.7" r="1.9"/></g>
<g class="c32"><circle cx="387.2" cy="263.6" r="1.9"/><circle cx="369.3" cy="282.4" r="1.9"/></g>
<g class="c31"><circle cx="415.4" cy="235.4" r="1.9"/><circle cx="395.3" cy="225.4" r="1.9"/><circle cx="402.3" cy="239.4" r="1.9"/><circle cx="410.9" cy="227.0" r="1.9"/><circle cx="403.5" cy="246.5" r="1.9"/><circle cx="413.2" cy="220.0" r="1.9"/></g>
<g class="c29"><circle cx="388.5" cy="286.3" r="1.9"/><circle cx="353.8" cy="288.0" r="1.9"/><circle cx="400.2" cy="261.0" r="1.9"/><circle cx="392.2" cy="268.1" r="1.9"/><circle cx="369.7" cy="295.1" r="1.9"/><circle cx="389.2" cy="267.9" r="1.9"/></g>
<g class="c29"><circle cx="411.2" cy="266.9" r="1.9"/><circle cx="407.2" cy="279.8" r="1.9"/><circle cx="393.0" cy="255.2" r="1.9"/><circle cx="371.3" cy="250.8" r="1.9"/><circle cx="371.9" cy="278.4" r="1.9"/><circle cx="378.0" cy="271.0" r="1.9"/></g>
<g class="c34"><circle cx="435.3" cy="330.2" r="1.9"/><circle cx="460.7" cy="313.7" r="1.9"/><circle cx="444.2" cy="342.3" r="1.9"/><circle cx="443.0" cy="336.0" r="1.9"/><circle cx="444.0" cy="317.1" r="1.9"/><circle cx="437.7" cy="340.3" r="1.9"/></g>
<g class="c33"><circle cx="353.4" cy="299.2" r="1.9"/><circle cx="350.7" cy="318.1" r="1.9"/><circle cx="341.4" cy="311.5" r="1.9"/><circle cx="343.7" cy="302.7" r="1.9"/><circle cx="336.8" cy="300.3" r="1.9"/><circle cx="341.6" cy="309.5" r="1.9"/></g>
<g class="c31"><circle cx="382.5" cy="259.2" r="1.9"/><circle cx="395.7" cy="240.9" r="1.9"/><circle cx="403.8" cy="243.0" r="1.9"/><circle cx="374.1" cy="252.2" r="1.9"/><circle cx="388.9" cy="251.1" r="1.9"/></g>
<g class="c2"><circle cx="359.1" cy="281.1" r="1.9"/><circle cx="359.6" cy="271.5" r="1.9"/><circle cx="334.1" cy="271.9" r="1.9"/><circle cx="352.2" cy="277.2" r="1.9"/><circle cx="344.4" cy="282.0" r="1.9"/><circle cx="341.8" cy="272.6" r="1.9"/></g>
<g class="c33"><circle cx="358.0" cy="299.6" r="1.9"/><circle cx="352.9" cy="290.3" r="1.9"/><circle cx="377.1" cy="293.0" r="1.9"/><circle cx="329.6" cy="283.9" r="1.9"/><circle cx="343.8" cy="285.5" r="1.9"/><circle cx="351.2" cy="311.2" r="1.9"/></g>
<g class="c22"><circle cx="352.7" cy="322.8" r="1.9"/><circle cx="363.6" cy="325.8" r="1.9"/><circle cx="355.7" cy="341.8" r="1.9"/><circle cx="384.3" cy="328.0" r="1.9"/><circle cx="342.2" cy="321.0" r="1.9"/><circle cx="342.3" cy="323.9" r="1.9"/></g>
<g class="c22"><circle cx="363.7" cy="321.8" r="1.9"/><circle cx="368.6" cy="334.4" r="1.9"/><circle cx="323.7" cy="334.8" r="1.9"/><circle cx="382.9" cy="321.7" r="1.9"/><circle cx="353.2" cy="338.7" r="1.9"/><circle cx="335.4" cy="323.3" r="1.9"/></g>
<g class="c29"><circle cx="415.0" cy="259.4" r="1.9"/><circle cx="411.2" cy="256.6" r="1.9"/><circle cx="422.4" cy="261.8" r="1.9"/><circle cx="422.4" cy="263.9" r="1.9"/><circle cx="415.3" cy="263.4" r="1.9"/><circle cx="416.7" cy="256.9" r="1.9"/></g>
<g class="c31"><circle cx="405.0" cy="229.1" r="1.9"/><circle cx="410.0" cy="232.0" r="1.9"/><circle cx="362.2" cy="240.2" r="1.9"/><circle cx="394.1" cy="227.1" r="1.9"/><circle cx="369.0" cy="234.4" r="1.9"/><circle cx="396.3" cy="234.8" r="1.9"/></g>
<g class="c33"><circle cx="348.6" cy="301.6" r="1.9"/><circle cx="334.6" cy="321.4" r="1.9"/><circle cx="336.2" cy="317.8" r="1.9"/><circle cx="370.6" cy="297.5" r="1.9"/><circle cx="385.2" cy="315.1" r="1.9"/><circle cx="342.7" cy="290.4" r="1.9"/></g>
<g class="c31"><circle cx="418.0" cy="234.8" r="1.9"/><circle cx="392.0" cy="242.6" r="1.9"/><circle cx="397.8" cy="228.2" r="1.9"/><circle cx="399.3" cy="267.1" r="1.9"/><circle cx="399.0" cy="245.8" r="1.9"/><circle cx="372.7" cy="235.4" r="1.9"/></g>
<g class="c34"><circle cx="440.4" cy="318.1" r="1.9"/><circle cx="451.0" cy="325.4" r="1.9"/><circle cx="427.9" cy="306.4" r="1.9"/><circle cx="423.6" cy="325.6" r="1.9"/><circle cx="460.1" cy="319.5" r="1.9"/><circle cx="438.5" cy="314.4" r="1.9"/></g>
<g class="c29"><circle cx="365.5" cy="275.0" r="1.9"/><circle cx="369.9" cy="267.1" r="1.9"/><circle cx="398.9" cy="294.0" r="1.9"/><circle cx="411.9" cy="288.9" r="1.9"/><circle cx="392.9" cy="291.5" r="1.9"/><circle cx="417.4" cy="274.9" r="1.9"/></g>
<g class="c31"><circle cx="374.6" cy="244.4" r="1.9"/><circle cx="420.0" cy="228.6" r="1.9"/><circle cx="403.0" cy="262.1" r="1.9"/><circle cx="397.0" cy="235.8" r="1.9"/><circle cx="389.1" cy="249.4" r="1.9"/><circle cx="381.5" cy="220.4" r="1.9"/></g>
<g class="c33"><circle cx="330.0" cy="300.4" r="1.9"/><circle cx="386.2" cy="312.5" r="1.9"/><circle cx="340.8" cy="297.3" r="1.9"/><circle cx="333.7" cy="300.0" r="1.9"/><circle cx="360.4" cy="328.4" r="1.9"/><circle cx="360.7" cy="290.6" r="1.9"/></g>
<g class="c22"><circle cx="386.3" cy="319.1" r="1.9"/><circle cx="342.9" cy="330.7" r="1.9"/><circle cx="362.2" cy="336.3" r="1.9"/><circle cx="354.4" cy="333.0" r="1.9"/><circle cx="381.1" cy="319.3" r="1.9"/><circle cx="362.0" cy="334.6" r="1.9"/></g>
<g class="c22"><circle cx="391.8" cy="322.5" r="1.9"/><circle cx="399.2" cy="331.8" r="1.9"/><circle cx="372.7" cy="321.3" r="1.9"/><circle cx="395.2" cy="325.4" r="1.9"/><circle cx="367.5" cy="330.9" r="1.9"/><circle cx="374.7" cy="338.1" r="1.9"/></g>
<g class="c33"><circle cx="347.1" cy="314.6" r="1.9"/><circle cx="346.3" cy="311.5" r="1.9"/><circle cx="340.7" cy="307.2" r="1.9"/><circle cx="323.7" cy="304.3" r="1.9"/><circle cx="350.9" cy="288.6" r="1.9"/><circle cx="354.5" cy="322.1" r="1.9"/></g>
<g class="c29"><circle cx="389.3" cy="259.6" r="1.9"/><circle cx="359.3" cy="272.4" r="1.9"/><circle cx="368.0" cy="280.5" r="1.9"/><circle cx="402.0" cy="246.6" r="1.9"/><circle cx="368.9" cy="279.7" r="1.9"/><circle cx="378.8" cy="282.2" r="1.9"/></g>
<g class="c27"><circle cx="472.5" cy="275.0" r="1.9"/><circle cx="460.5" cy="282.4" r="1.9"/><circle cx="475.6" cy="266.9" r="1.9"/><circle cx="462.5" cy="273.3" r="1.9"/><circle cx="453.4" cy="254.3" r="1.9"/><circle cx="468.7" cy="281.0" r="1.9"/></g>
<g class="c33"><circle cx="338.7" cy="292.6" r="1.9"/><circle cx="317.8" cy="322.7" r="1.9"/><circle cx="360.3" cy="305.0" r="1.9"/><circle cx="368.2" cy="298.6" r="1.9"/><circle cx="348.5" cy="293.4" r="1.9"/><circle cx="361.3" cy="319.2" r="1.9"/></g>
<g class="c33"><circle cx="338.1" cy="314.3" r="1.9"/><circle cx="348.6" cy="331.4" r="1.9"/><circle cx="320.1" cy="313.8" r="1.9"/><circle cx="331.2" cy="288.4" r="1.9"/><circle cx="352.9" cy="296.2" r="1.9"/><circle cx="326.4" cy="298.9" r="1.9"/></g>
<g class="c34"><circle cx="448.5" cy="313.1" r="1.9"/><circle cx="427.8" cy="331.5" r="1.9"/><circle cx="443.7" cy="328.1" r="1.9"/><circle cx="417.8" cy="329.6" r="1.9"/><circle cx="442.4" cy="312.7" r="1.9"/><circle cx="437.3" cy="302.5" r="1.9"/></g>
<g class="c34"><circle cx="456.6" cy="328.4" r="1.9"/><circle cx="447.8" cy="321.2" r="1.9"/><circle cx="477.6" cy="320.7" r="1.9"/><circle cx="450.1" cy="301.3" r="1.9"/><circle cx="429.7" cy="318.1" r="1.9"/><circle cx="423.8" cy="322.2" r="1.9"/></g>
<g class="c34"><circle cx="443.8" cy="342.0" r="1.9"/><circle cx="430.4" cy="322.0" r="1.9"/><circle cx="444.0" cy="308.8" r="1.9"/><circle cx="457.8" cy="306.1" r="1.9"/><circle cx="396.4" cy="320.6" r="1.9"/><circle cx="445.1" cy="325.0" r="1.9"/></g>
<g class="c26"><circle cx="399.7" cy="288.6" r="1.9"/><circle cx="423.7" cy="285.4" r="1.9"/></g>
<g class="c34"><circle cx="436.5" cy="317.0" r="1.9"/><circle cx="439.4" cy="313.5" r="1.9"/><circle cx="438.5" cy="331.7" r="1.9"/><circle cx="418.5" cy="327.6" r="1.9"/><circle cx="443.1" cy="308.8" r="1.9"/><circle cx="432.0" cy="322.1" r="1.9"/></g>
<g class="c30"><circle cx="371.3" cy="302.6" r="1.9"/><circle cx="352.2" cy="300.9" r="1.9"/><circle cx="375.2" cy="307.6" r="1.9"/><circle cx="382.3" cy="299.2" r="1.9"/><circle cx="362.0" cy="301.8" r="1.9"/><circle cx="371.8" cy="304.3" r="1.9"/></g>
<g class="c22"><circle cx="374.6" cy="326.3" r="1.9"/><circle cx="350.6" cy="345.2" r="1.9"/><circle cx="358.5" cy="339.1" r="1.9"/><circle cx="368.3" cy="336.6" r="1.9"/><circle cx="370.5" cy="335.3" r="1.9"/><circle cx="332.4" cy="329.3" r="1.9"/></g>
<g class="c34"><circle cx="420.3" cy="322.7" r="1.9"/><circle cx="414.0" cy="339.1" r="1.9"/><circle cx="467.1" cy="314.4" r="1.9"/><circle cx="424.0" cy="322.6" r="1.9"/><circle cx="448.6" cy="304.9" r="1.9"/><circle cx="424.2" cy="329.5" r="1.9"/></g>
<g class="c29"><circle cx="388.6" cy="265.7" r="1.9"/><circle cx="379.3" cy="294.3" r="1.9"/><circle cx="378.4" cy="279.9" r="1.9"/><circle cx="360.3" cy="269.2" r="1.9"/><circle cx="387.9" cy="273.7" r="1.9"/><circle cx="372.8" cy="274.3" r="1.9"/></g>
<g class="c33"><circle cx="375.8" cy="316.9" r="1.9"/><circle cx="367.2" cy="321.3" r="1.9"/><circle cx="367.2" cy="295.7" r="1.9"/><circle cx="340.0" cy="305.8" r="1.9"/><circle cx="333.0" cy="322.5" r="1.9"/><circle cx="353.7" cy="299.9" r="1.9"/></g>
<g class="c34"><circle cx="457.3" cy="326.2" r="1.9"/><circle cx="420.4" cy="320.8" r="1.9"/><circle cx="417.3" cy="326.6" r="1.9"/><circle cx="393.8" cy="323.4" r="1.9"/><circle cx="450.5" cy="335.3" r="1.9"/><circle cx="456.0" cy="325.0" r="1.9"/></g>
<g class="c26"><circle cx="390.6" cy="288.0" r="1.9"/><circle cx="381.5" cy="299.4" r="1.9"/><circle cx="417.5" cy="296.9" r="1.9"/><circle cx="410.9" cy="278.8" r="1.9"/><circle cx="422.9" cy="293.1" r="1.9"/><circle cx="403.8" cy="285.8" r="1.9"/></g>
<g class="c34"><circle cx="452.9" cy="320.4" r="1.9"/><circle cx="461.2" cy="318.8" r="1.9"/><circle cx="440.0" cy="323.6" r="1.9"/><circle cx="439.0" cy="328.5" r="1.9"/><circle cx="434.4" cy="311.3" r="1.9"/><circle cx="425.2" cy="310.7" r="1.9"/></g>
<g class="c31"><circle cx="409.4" cy="230.0" r="1.9"/><circle cx="402.7" cy="236.2" r="1.9"/><circle cx="372.0" cy="237.7" r="1.9"/><circle cx="407.1" cy="258.9" r="1.9"/><circle cx="378.3" cy="241.6" r="1.9"/><circle cx="401.4" cy="259.5" r="1.9"/></g>
<g class="c34"><circle cx="418.2" cy="322.5" r="1.9"/><circle cx="447.4" cy="338.3" r="1.9"/><circle cx="435.7" cy="306.8" r="1.9"/><circle cx="426.8" cy="329.9" r="1.9"/><circle cx="467.4" cy="314.8" r="1.9"/><circle cx="425.0" cy="310.2" r="1.9"/></g>
<g class="c31"><circle cx="406.7" cy="232.2" r="1.9"/><circle cx="397.6" cy="240.6" r="1.9"/><circle cx="363.9" cy="244.1" r="1.9"/><circle cx="390.4" cy="232.2" r="1.9"/><circle cx="403.1" cy="251.8" r="1.9"/><circle cx="374.2" cy="240.2" r="1.9"/></g>
<g class="c33"><circle cx="363.3" cy="305.4" r="1.9"/><circle cx="326.3" cy="297.4" r="1.9"/><circle cx="361.3" cy="306.8" r="1.9"/><circle cx="332.8" cy="322.6" r="1.9"/><circle cx="352.0" cy="329.1" r="1.9"/><circle cx="372.0" cy="318.2" r="1.9"/></g>
<g class="c34"><circle cx="465.9" cy="316.5" r="1.9"/><circle cx="480.5" cy="334.7" r="1.9"/><circle cx="441.7" cy="311.7" r="1.9"/><circle cx="435.2" cy="324.4" r="1.9"/><circle cx="442.5" cy="306.0" r="1.9"/><circle cx="448.5" cy="322.0" r="1.9"/></g>
<g class="c34"><circle cx="448.2" cy="325.1" r="1.9"/><circle cx="426.7" cy="319.4" r="1.9"/><circle cx="447.9" cy="327.2" r="1.9"/><circle cx="425.6" cy="325.7" r="1.9"/><circle cx="460.4" cy="319.3" r="1.9"/><circle cx="440.7" cy="310.3" r="1.9"/></g>
<g class="c33"><circle cx="349.5" cy="318.9" r="1.9"/><circle cx="337.2" cy="304.2" r="1.9"/><circle cx="350.4" cy="329.4" r="1.9"/><circle cx="322.8" cy="296.7" r="1.9"/><circle cx="349.0" cy="331.1" r="1.9"/><circle cx="343.4" cy="304.2" r="1.9"/></g>
<g class="c31"><circle cx="421.1" cy="256.3" r="1.9"/><circle cx="402.7" cy="234.5" r="1.9"/><circle cx="373.0" cy="225.1" r="1.9"/><circle cx="388.6" cy="244.3" r="1.9"/><circle cx="387.2" cy="265.3" r="1.9"/><circle cx="405.4" cy="221.0" r="1.9"/></g>
<g class="c34"><circle cx="455.3" cy="327.5" r="1.9"/><circle cx="437.0" cy="305.1" r="1.9"/><circle cx="420.6" cy="334.3" r="1.9"/><circle cx="440.3" cy="321.5" r="1.9"/><circle cx="463.4" cy="307.5" r="1.9"/><circle cx="464.7" cy="339.9" r="1.9"/></g>
<g class="c2"><circle cx="334.6" cy="264.3" r="1.9"/><circle cx="349.5" cy="272.6" r="1.9"/><circle cx="345.9" cy="284.3" r="1.9"/><circle cx="360.5" cy="269.3" r="1.9"/><circle cx="347.4" cy="282.3" r="1.9"/><circle cx="342.9" cy="286.4" r="1.9"/></g>
<g class="c31"><circle cx="399.1" cy="235.0" r="1.9"/><circle cx="395.4" cy="233.8" r="1.9"/><circle cx="420.4" cy="249.9" r="1.9"/><circle cx="389.3" cy="242.8" r="1.9"/><circle cx="374.8" cy="252.0" r="1.9"/><circle cx="409.9" cy="214.6" r="1.9"/></g>
<g class="c22"><circle cx="353.6" cy="340.4" r="1.9"/><circle cx="365.8" cy="334.7" r="1.9"/><circle cx="336.2" cy="319.8" r="1.9"/><circle cx="348.4" cy="335.2" r="1.9"/><circle cx="336.5" cy="319.9" r="1.9"/><circle cx="341.8" cy="332.3" r="1.9"/></g>
<g class="c34"><circle cx="452.4" cy="318.0" r="1.9"/><circle cx="422.6" cy="317.3" r="1.9"/><circle cx="428.0" cy="322.6" r="1.9"/><circle cx="439.7" cy="331.8" r="1.9"/><circle cx="443.9" cy="306.2" r="1.9"/><circle cx="417.6" cy="335.9" r="1.9"/></g>
<g class="c22"><circle cx="337.7" cy="325.1" r="1.9"/><circle cx="349.2" cy="323.7" r="1.9"/><circle cx="368.3" cy="321.1" r="1.9"/><circle cx="373.2" cy="332.5" r="1.9"/><circle cx="379.6" cy="316.8" r="1.9"/><circle cx="370.4" cy="328.3" r="1.9"/></g>
<g class="c26"><circle cx="383.8" cy="303.1" r="1.9"/><circle cx="386.2" cy="285.0" r="1.9"/><circle cx="382.3" cy="295.4" r="1.9"/><circle cx="410.9" cy="301.3" r="1.9"/><circle cx="404.3" cy="285.0" r="1.9"/><circle cx="383.1" cy="301.7" r="1.9"/></g>
<g class="c27"><circle cx="485.0" cy="274.3" r="1.9"/><circle cx="447.7" cy="269.2" r="1.9"/><circle cx="437.5" cy="298.9" r="1.9"/><circle cx="430.2" cy="256.4" r="1.9"/><circle cx="459.5" cy="278.7" r="1.9"/><circle cx="441.4" cy="267.0" r="1.9"/></g>
<g class="c27"><circle cx="457.9" cy="270.4" r="1.9"/><circle cx="481.1" cy="304.6" r="1.9"/><circle cx="471.5" cy="294.8" r="1.9"/><circle cx="444.4" cy="303.1" r="1.9"/><circle cx="450.1" cy="298.2" r="1.9"/><circle cx="494.0" cy="290.3" r="1.9"/></g>
<g class="c34"><circle cx="449.8" cy="345.1" r="1.9"/><circle cx="475.8" cy="317.6" r="1.9"/><circle cx="403.3" cy="316.6" r="1.9"/><circle cx="452.2" cy="317.7" r="1.9"/><circle cx="428.1" cy="304.3" r="1.9"/><circle cx="453.4" cy="308.1" r="1.9"/></g>
<g class="c27"><circle cx="450.2" cy="272.0" r="1.9"/><circle cx="455.4" cy="264.8" r="1.9"/><circle cx="439.5" cy="291.6" r="1.9"/><circle cx="462.8" cy="281.9" r="1.9"/><circle cx="453.9" cy="283.4" r="1.9"/><circle cx="462.0" cy="268.3" r="1.9"/></g>
<g class="c31"><circle cx="427.0" cy="247.8" r="1.9"/><circle cx="411.2" cy="239.4" r="1.9"/><circle cx="392.1" cy="238.2" r="1.9"/><circle cx="395.6" cy="261.3" r="1.9"/><circle cx="408.7" cy="265.9" r="1.9"/><circle cx="386.9" cy="239.5" r="1.9"/></g>
<g class="c34"><circle cx="460.6" cy="327.6" r="1.9"/><circle cx="426.6" cy="325.6" r="1.9"/><circle cx="455.7" cy="317.9" r="1.9"/><circle cx="432.4" cy="331.6" r="1.9"/><circle cx="436.1" cy="309.7" r="1.9"/><circle cx="447.7" cy="324.3" r="1.9"/></g>
<g class="c34"><circle cx="449.6" cy="333.9" r="1.9"/><circle cx="473.6" cy="320.4" r="1.9"/><circle cx="432.5" cy="311.4" r="1.9"/><circle cx="432.8" cy="308.6" r="1.9"/><circle cx="455.5" cy="324.7" r="1.9"/><circle cx="486.9" cy="319.6" r="1.9"/></g>
<g class="c33"><circle cx="318.4" cy="292.4" r="1.9"/><circle cx="360.9" cy="317.1" r="1.9"/><circle cx="334.0" cy="310.3" r="1.9"/><circle cx="332.8" cy="283.4" r="1.9"/><circle cx="347.0" cy="338.3" r="1.9"/><circle cx="359.3" cy="303.2" r="1.9"/></g>
<g class="c27"><circle cx="479.3" cy="296.1" r="1.9"/><circle cx="489.3" cy="295.6" r="1.9"/><circle cx="458.8" cy="273.6" r="1.9"/><circle cx="470.5" cy="303.1" r="1.9"/><circle cx="453.1" cy="250.4" r="1.9"/><circle cx="458.7" cy="270.8" r="1.9"/></g>
<g class="c33"><circle cx="349.2" cy="296.5" r="1.9"/><circle cx="344.8" cy="291.9" r="1.9"/><circle cx="324.8" cy="291.9" r="1.9"/><circle cx="369.6" cy="305.2" r="1.9"/><circle cx="357.6" cy="290.5" r="1.9"/><circle cx="331.9" cy="289.6" r="1.9"/></g>
<g class="c33"><circle cx="351.2" cy="309.5" r="1.9"/><circle cx="376.3" cy="287.8" r="1.9"/><circle cx="367.4" cy="291.0" r="1.9"/><circle cx="339.6" cy="292.9" r="1.9"/><circle cx="342.8" cy="295.6" r="1.9"/><circle cx="364.9" cy="278.7" r="1.9"/></g>
<g class="c31"><circle cx="415.1" cy="225.3" r="1.9"/><circle cx="378.6" cy="250.0" r="1.9"/><circle cx="381.9" cy="251.8" r="1.9"/><circle cx="408.0" cy="242.1" r="1.9"/><circle cx="418.8" cy="232.3" r="1.9"/><circle cx="376.3" cy="257.7" r="1.9"/></g>
<g class="c33"><circle cx="383.2" cy="310.3" r="1.9"/><circle cx="346.4" cy="308.5" r="1.9"/><circle cx="348.4" cy="288.5" r="1.9"/><circle cx="330.7" cy="296.5" r="1.9"/><circle cx="385.4" cy="305.6" r="1.9"/><circle cx="368.5" cy="303.3" r="1.9"/></g>
<g class="c28"><circle cx="328.0" cy="267.9" r="1.9"/><circle cx="337.8" cy="273.2" r="1.9"/><circle cx="338.2" cy="271.7" r="1.9"/><circle cx="333.3" cy="264.6" r="1.9"/></g>
<g class="c26"><circle cx="408.6" cy="306.1" r="1.9"/><circle cx="388.1" cy="297.4" r="1.9"/><circle cx="385.9" cy="289.6" r="1.9"/><circle cx="399.2" cy="282.7" r="1.9"/><circle cx="385.6" cy="295.2" r="1.9"/><circle cx="406.1" cy="271.7" r="1.9"/></g>
<g class="c2"><circle cx="340.5" cy="280.0" r="1.9"/><circle cx="332.2" cy="264.7" r="1.9"/></g>
<g class="c30"><circle cx="369.7" cy="308.0" r="1.9"/><circle cx="348.1" cy="291.9" r="1.9"/><circle cx="355.6" cy="290.4" r="1.9"/><circle cx="365.9" cy="295.2" r="1.9"/><circle cx="361.6" cy="311.5" r="1.9"/><circle cx="393.0" cy="305.7" r="1.9"/></g>
<g class="c29"><circle cx="410.7" cy="293.1" r="1.9"/><circle cx="375.5" cy="272.8" r="1.9"/><circle cx="364.1" cy="268.0" r="1.9"/><circle cx="403.6" cy="288.0" r="1.9"/><circle cx="379.4" cy="271.3" r="1.9"/><circle cx="377.2" cy="277.2" r="1.9"/></g>
<g class="c34"><circle cx="465.3" cy="338.8" r="1.9"/><circle cx="441.4" cy="312.2" r="1.9"/><circle cx="427.5" cy="325.6" r="1.9"/><circle cx="459.0" cy="310.0" r="1.9"/><circle cx="415.7" cy="309.5" r="1.9"/><circle cx="458.9" cy="318.2" r="1.9"/></g>
<g class="c27"><circle cx="471.8" cy="284.6" r="1.9"/><circle cx="476.5" cy="260.4" r="1.9"/><circle cx="495.5" cy="265.8" r="1.9"/><circle cx="439.3" cy="292.6" r="1.9"/><circle cx="458.2" cy="309.1" r="1.9"/><circle cx="451.3" cy="263.1" r="1.9"/></g>
<g class="c33"><circle cx="380.6" cy="305.1" r="1.9"/><circle cx="355.7" cy="311.1" r="1.9"/><circle cx="363.7" cy="283.2" r="1.9"/><circle cx="359.4" cy="310.1" r="1.9"/><circle cx="321.5" cy="310.3" r="1.9"/><circle cx="380.6" cy="293.5" r="1.9"/></g>
<g class="c34"><circle cx="406.5" cy="316.2" r="1.9"/><circle cx="451.5" cy="310.0" r="1.9"/><circle cx="473.3" cy="323.5" r="1.9"/><circle cx="445.1" cy="316.2" r="1.9"/><circle cx="459.0" cy="324.7" r="1.9"/><circle cx="435.8" cy="303.2" r="1.9"/></g>
<g class="c33"><circle cx="334.0" cy="310.0" r="1.9"/><circle cx="327.6" cy="282.0" r="1.9"/><circle cx="364.2" cy="277.6" r="1.9"/><circle cx="351.4" cy="302.9" r="1.9"/><circle cx="364.0" cy="294.6" r="1.9"/><circle cx="371.4" cy="335.5" r="1.9"/></g>
<g class="c33"><circle cx="335.3" cy="301.3" r="1.9"/><circle cx="382.9" cy="302.4" r="1.9"/><circle cx="378.5" cy="295.8" r="1.9"/><circle cx="364.0" cy="309.7" r="1.9"/><circle cx="346.5" cy="282.6" r="1.9"/><circle cx="350.8" cy="318.9" r="1.9"/></g>
<g class="c27"><circle cx="463.9" cy="267.5" r="1.9"/><circle cx="476.0" cy="268.8" r="1.9"/><circle cx="442.5" cy="266.9" r="1.9"/><circle cx="479.1" cy="275.5" r="1.9"/><circle cx="453.2" cy="269.7" r="1.9"/><circle cx="472.4" cy="279.0" r="1.9"/></g>
<g class="c33"><circle cx="345.4" cy="328.7" r="1.9"/><circle cx="357.4" cy="328.5" r="1.9"/><circle cx="339.9" cy="314.2" r="1.9"/><circle cx="324.3" cy="309.9" r="1.9"/><circle cx="378.5" cy="312.5" r="1.9"/><circle cx="352.8" cy="309.5" r="1.9"/></g>
<g class="c26"><circle cx="379.5" cy="289.0" r="1.9"/><circle cx="393.2" cy="274.9" r="1.9"/><circle cx="389.7" cy="291.4" r="1.9"/><circle cx="396.3" cy="295.8" r="1.9"/><circle cx="390.6" cy="287.5" r="1.9"/><circle cx="406.6" cy="300.8" r="1.9"/></g>
<g class="c27"><circle cx="462.0" cy="300.6" r="1.9"/><circle cx="448.2" cy="280.2" r="1.9"/><circle cx="467.0" cy="251.0" r="1.9"/><circle cx="486.3" cy="293.7" r="1.9"/><circle cx="462.1" cy="299.8" r="1.9"/><circle cx="475.4" cy="264.3" r="1.9"/></g>
<g class="c33"><circle cx="344.4" cy="304.5" r="1.9"/><circle cx="374.7" cy="307.0" r="1.9"/><circle cx="387.1" cy="310.1" r="1.9"/><circle cx="343.1" cy="308.0" r="1.9"/><circle cx="357.6" cy="320.0" r="1.9"/><circle cx="318.7" cy="298.9" r="1.9"/></g>
<g class="c27"><circle cx="445.9" cy="278.2" r="1.9"/><circle cx="452.9" cy="253.6" r="1.9"/></g>
<g class="c34"><circle cx="460.5" cy="334.5" r="1.9"/><circle cx="405.1" cy="315.7" r="1.9"/><circle cx="461.3" cy="332.8" r="1.9"/><circle cx="449.5" cy="311.3" r="1.9"/><circle cx="464.5" cy="328.8" r="1.9"/><circle cx="446.0" cy="319.3" r="1.9"/></g>
<g class="c29"><circle cx="383.6" cy="293.2" r="1.9"/><circle cx="406.3" cy="278.4" r="1.9"/></g>
<g class="c31"><circle cx="376.8" cy="233.8" r="1.9"/><circle cx="391.2" cy="228.2" r="1.9"/><circle cx="392.0" cy="247.2" r="1.9"/><circle cx="379.5" cy="254.8" r="1.9"/><circle cx="419.5" cy="227.6" r="1.9"/><circle cx="369.9" cy="247.3" r="1.9"/></g>
<g class="c31"><circle cx="418.6" cy="250.8" r="1.9"/><circle cx="424.4" cy="252.0" r="1.9"/><circle cx="361.7" cy="260.2" r="1.9"/><circle cx="386.4" cy="234.6" r="1.9"/><circle cx="379.4" cy="248.1" r="1.9"/><circle cx="396.1" cy="229.4" r="1.9"/></g>
<g class="c27"><circle cx="454.8" cy="259.7" r="1.9"/><circle cx="459.1" cy="275.3" r="1.9"/><circle cx="470.6" cy="254.2" r="1.9"/><circle cx="457.3" cy="260.1" r="1.9"/><circle cx="429.3" cy="280.3" r="1.9"/><circle cx="441.9" cy="269.0" r="1.9"/></g>
<g class="c33"><circle cx="325.7" cy="295.1" r="1.9"/><circle cx="329.4" cy="318.0" r="1.9"/><circle cx="356.0" cy="331.2" r="1.9"/><circle cx="342.9" cy="299.7" r="1.9"/><circle cx="339.5" cy="308.8" r="1.9"/><circle cx="344.0" cy="318.7" r="1.9"/></g>
<g class="c31"><circle cx="418.8" cy="254.8" r="1.9"/><circle cx="388.4" cy="215.6" r="1.9"/><circle cx="399.8" cy="241.7" r="1.9"/><circle cx="384.1" cy="218.7" r="1.9"/><circle cx="398.0" cy="262.3" r="1.9"/><circle cx="406.1" cy="243.4" r="1.9"/></g>
<g class="c33"><circle cx="341.6" cy="290.2" r="1.9"/><circle cx="345.3" cy="299.4" r="1.9"/><circle cx="355.4" cy="296.6" r="1.9"/><circle cx="361.6" cy="330.5" r="1.9"/><circle cx="380.6" cy="291.4" r="1.9"/><circle cx="332.9" cy="323.3" r="1.9"/></g>
<g class="c27"><circle cx="483.8" cy="268.4" r="1.9"/><circle cx="460.9" cy="253.2" r="1.9"/><circle cx="458.8" cy="296.0" r="1.9"/><circle cx="470.8" cy="297.1" r="1.9"/><circle cx="454.2" cy="266.9" r="1.9"/><circle cx="469.1" cy="303.3" r="1.9"/></g>
<g class="c34"><circle cx="431.6" cy="318.8" r="1.9"/><circle cx="433.3" cy="308.8" r="1.9"/><circle cx="449.6" cy="302.5" r="1.9"/><circle cx="477.8" cy="321.8" r="1.9"/><circle cx="413.6" cy="313.7" r="1.9"/><circle cx="486.2" cy="314.0" r="1.9"/></g>
<g class="c34"><circle cx="434.9" cy="315.9" r="1.9"/><circle cx="464.2" cy="325.9" r="1.9"/><circle cx="441.3" cy="314.3" r="1.9"/><circle cx="429.7" cy="320.7" r="1.9"/><circle cx="414.9" cy="327.8" r="1.9"/><circle cx="478.2" cy="321.6" r="1.9"/></g>
<g class="c31"><circle cx="423.6" cy="232.3" r="1.9"/><circle cx="394.2" cy="214.0" r="1.9"/><circle cx="379.2" cy="233.6" r="1.9"/><circle cx="402.9" cy="212.7" r="1.9"/><circle cx="362.8" cy="236.7" r="1.9"/><circle cx="398.4" cy="231.2" r="1.9"/></g>
<g class="c34"><circle cx="432.7" cy="311.8" r="1.9"/><circle cx="444.5" cy="321.7" r="1.9"/><circle cx="448.4" cy="333.9" r="1.9"/><circle cx="424.9" cy="304.1" r="1.9"/><circle cx="428.1" cy="305.2" r="1.9"/><circle cx="434.3" cy="323.2" r="1.9"/></g>
<g class="c33"><circle cx="349.3" cy="297.8" r="1.9"/><circle cx="364.0" cy="320.1" r="1.9"/><circle cx="376.6" cy="291.6" r="1.9"/><circle cx="388.8" cy="306.6" r="1.9"/><circle cx="361.9" cy="291.8" r="1.9"/><circle cx="324.6" cy="292.6" r="1.9"/></g>
<g class="c29"><circle cx="399.3" cy="263.8" r="1.9"/><circle cx="379.2" cy="263.7" r="1.9"/><circle cx="380.2" cy="267.6" r="1.9"/><circle cx="364.1" cy="285.0" r="1.9"/><circle cx="369.7" cy="268.7" r="1.9"/><circle cx="395.7" cy="267.0" r="1.9"/></g>
<g class="c29"><circle cx="386.6" cy="270.8" r="1.9"/><circle cx="372.8" cy="251.9" r="1.9"/><circle cx="397.2" cy="290.4" r="1.9"/><circle cx="358.5" cy="292.7" r="1.9"/><circle cx="398.6" cy="280.4" r="1.9"/><circle cx="359.6" cy="260.6" r="1.9"/></g>
<g class="c22"><circle cx="366.8" cy="337.2" r="1.9"/><circle cx="366.9" cy="328.1" r="1.9"/><circle cx="370.1" cy="320.6" r="1.9"/><circle cx="340.2" cy="318.0" r="1.9"/><circle cx="381.7" cy="333.1" r="1.9"/><circle cx="378.3" cy="346.8" r="1.9"/></g>
<g class="c32"><circle cx="371.1" cy="263.1" r="1.9"/><circle cx="374.3" cy="276.2" r="1.9"/><circle cx="385.7" cy="283.4" r="1.9"/><circle cx="390.5" cy="271.1" r="1.9"/><circle cx="368.3" cy="274.8" r="1.9"/><circle cx="380.7" cy="277.6" r="1.9"/></g>
<g class="c33"><circle cx="362.4" cy="316.1" r="1.9"/><circle cx="344.1" cy="318.9" r="1.9"/><circle cx="352.0" cy="310.8" r="1.9"/><circle cx="364.4" cy="311.9" r="1.9"/><circle cx="347.5" cy="296.2" r="1.9"/><circle cx="350.1" cy="294.0" r="1.9"/></g>
<g class="c27"><circle cx="464.4" cy="296.4" r="1.9"/><circle cx="464.7" cy="293.3" r="1.9"/><circle cx="492.4" cy="277.4" r="1.9"/><circle cx="471.3" cy="285.8" r="1.9"/><circle cx="485.7" cy="287.3" r="1.9"/><circle cx="492.0" cy="281.0" r="1.9"/></g>
<g class="c34"><circle cx="416.2" cy="330.8" r="1.9"/><circle cx="476.5" cy="318.8" r="1.9"/><circle cx="437.7" cy="339.4" r="1.9"/><circle cx="429.8" cy="310.2" r="1.9"/><circle cx="421.0" cy="309.7" r="1.9"/><circle cx="411.0" cy="315.4" r="1.9"/></g>
<g class="c22"><circle cx="357.5" cy="333.2" r="1.9"/><circle cx="358.0" cy="343.9" r="1.9"/><circle cx="385.8" cy="335.0" r="1.9"/><circle cx="389.4" cy="332.1" r="1.9"/><circle cx="347.0" cy="340.1" r="1.9"/><circle cx="364.0" cy="335.0" r="1.9"/></g>
<g class="c34"><circle cx="461.8" cy="318.8" r="1.9"/><circle cx="427.0" cy="332.3" r="1.9"/><circle cx="432.9" cy="325.2" r="1.9"/><circle cx="439.8" cy="320.6" r="1.9"/><circle cx="439.4" cy="310.7" r="1.9"/><circle cx="459.7" cy="315.7" r="1.9"/></g>
<g class="c33"><circle cx="343.0" cy="288.8" r="1.9"/><circle cx="356.9" cy="317.4" r="1.9"/><circle cx="351.6" cy="314.1" r="1.9"/><circle cx="366.9" cy="286.2" r="1.9"/><circle cx="384.4" cy="300.0" r="1.9"/><circle cx="348.7" cy="292.0" r="1.9"/></g>
<g class="c33"><circle cx="354.9" cy="311.3" r="1.9"/><circle cx="341.7" cy="302.6" r="1.9"/><circle cx="351.8" cy="316.2" r="1.9"/><circle cx="341.0" cy="289.5" r="1.9"/><circle cx="330.6" cy="290.6" r="1.9"/><circle cx="336.6" cy="284.8" r="1.9"/></g>
<g class="c34"><circle cx="414.9" cy="322.2" r="1.9"/><circle cx="410.6" cy="321.6" r="1.9"/><circle cx="429.7" cy="346.3" r="1.9"/><circle cx="431.0" cy="322.1" r="1.9"/><circle cx="463.2" cy="333.3" r="1.9"/><circle cx="472.4" cy="326.1" r="1.9"/></g>
<g class="c33"><circle cx="353.4" cy="308.5" r="1.9"/><circle cx="350.1" cy="295.6" r="1.9"/><circle cx="353.5" cy="307.8" r="1.9"/><circle cx="365.8" cy="306.5" r="1.9"/><circle cx="382.2" cy="304.5" r="1.9"/><circle cx="363.4" cy="302.7" r="1.9"/></g>
<g class="c22"><circle cx="381.4" cy="330.8" r="1.9"/><circle cx="367.5" cy="311.0" r="1.9"/><circle cx="399.2" cy="326.0" r="1.9"/><circle cx="385.3" cy="334.3" r="1.9"/><circle cx="351.6" cy="325.8" r="1.9"/></g>
<g class="c31"><circle cx="404.4" cy="272.2" r="1.9"/><circle cx="414.7" cy="223.2" r="1.9"/><circle cx="426.6" cy="241.4" r="1.9"/><circle cx="399.3" cy="245.1" r="1.9"/><circle cx="434.2" cy="244.2" r="1.9"/><circle cx="418.9" cy="256.3" r="1.9"/></g>
<g class="c31"><circle cx="380.4" cy="270.3" r="1.9"/><circle cx="410.7" cy="257.2" r="1.9"/><circle cx="389.6" cy="231.2" r="1.9"/><circle cx="366.2" cy="242.1" r="1.9"/><circle cx="375.1" cy="242.6" r="1.9"/><circle cx="388.0" cy="250.7" r="1.9"/></g>
<g class="c34"><circle cx="440.7" cy="341.3" r="1.9"/><circle cx="450.9" cy="328.0" r="1.9"/><circle cx="445.6" cy="314.8" r="1.9"/><circle cx="418.9" cy="314.6" r="1.9"/><circle cx="469.9" cy="322.6" r="1.9"/><circle cx="444.0" cy="334.9" r="1.9"/></g>
<g class="c34"><circle cx="448.6" cy="320.8" r="1.9"/><circle cx="429.0" cy="313.9" r="1.9"/><circle cx="455.7" cy="309.3" r="1.9"/><circle cx="468.9" cy="332.8" r="1.9"/><circle cx="411.0" cy="327.9" r="1.9"/><circle cx="460.7" cy="327.9" r="1.9"/></g>
<g class="c2"><circle cx="336.9" cy="268.0" r="1.9"/><circle cx="352.4" cy="284.3" r="1.9"/><circle cx="333.6" cy="270.9" r="1.9"/><circle cx="344.5" cy="278.6" r="1.9"/><circle cx="336.8" cy="280.2" r="1.9"/><circle cx="357.2" cy="274.3" r="1.9"/></g>
<g class="c33"><circle cx="371.5" cy="312.9" r="1.9"/><circle cx="342.5" cy="290.4" r="1.9"/><circle cx="336.0" cy="309.7" r="1.9"/><circle cx="347.7" cy="322.2" r="1.9"/><circle cx="322.0" cy="304.0" r="1.9"/><circle cx="347.8" cy="295.2" r="1.9"/></g>
<g class="c33"><circle cx="333.0" cy="327.6" r="1.9"/><circle cx="357.1" cy="329.4" r="1.9"/><circle cx="361.4" cy="287.2" r="1.9"/><circle cx="353.6" cy="308.6" r="1.9"/><circle cx="367.3" cy="322.9" r="1.9"/><circle cx="346.1" cy="299.0" r="1.9"/></g>
<g class="c34"><circle cx="435.6" cy="306.6" r="1.9"/><circle cx="465.4" cy="302.8" r="1.9"/><circle cx="432.2" cy="333.9" r="1.9"/><circle cx="446.7" cy="327.1" r="1.9"/><circle cx="464.0" cy="304.7" r="1.9"/><circle cx="469.2" cy="308.6" r="1.9"/></g>
<g class="c31"><circle cx="416.6" cy="226.0" r="1.9"/><circle cx="393.9" cy="254.1" r="1.9"/><circle cx="388.2" cy="241.9" r="1.9"/><circle cx="378.8" cy="258.3" r="1.9"/><circle cx="379.2" cy="222.9" r="1.9"/><circle cx="369.3" cy="235.3" r="1.9"/></g>
<g class="c34"><circle cx="443.4" cy="321.7" r="1.9"/><circle cx="420.7" cy="326.4" r="1.9"/><circle cx="434.3" cy="338.0" r="1.9"/><circle cx="454.0" cy="320.3" r="1.9"/></g>
<g class="c22"><circle cx="360.1" cy="336.0" r="1.9"/><circle cx="376.9" cy="322.1" r="1.9"/><circle cx="391.3" cy="336.5" r="1.9"/><circle cx="352.4" cy="335.8" r="1.9"/><circle cx="363.8" cy="331.8" r="1.9"/><circle cx="364.7" cy="321.9" r="1.9"/></g>
<g class="c22"><circle cx="353.1" cy="333.1" r="1.9"/><circle cx="356.7" cy="318.1" r="1.9"/><circle cx="348.7" cy="333.8" r="1.9"/><circle cx="331.0" cy="319.6" r="1.9"/><circle cx="346.2" cy="328.6" r="1.9"/><circle cx="385.6" cy="327.6" r="1.9"/></g>
<g class="c33"><circle cx="366.9" cy="299.1" r="1.9"/><circle cx="342.7" cy="301.7" r="1.9"/><circle cx="337.0" cy="309.3" r="1.9"/><circle cx="333.2" cy="290.2" r="1.9"/><circle cx="350.9" cy="299.6" r="1.9"/><circle cx="332.6" cy="316.6" r="1.9"/></g>
<g class="c34"><circle cx="434.0" cy="331.1" r="1.9"/><circle cx="451.4" cy="301.5" r="1.9"/><circle cx="435.2" cy="312.0" r="1.9"/><circle cx="439.8" cy="336.5" r="1.9"/><circle cx="406.6" cy="322.5" r="1.9"/><circle cx="473.7" cy="331.3" r="1.9"/></g>
<g class="c22"><circle cx="393.6" cy="334.8" r="1.9"/><circle cx="383.0" cy="314.9" r="1.9"/><circle cx="378.1" cy="326.1" r="1.9"/><circle cx="354.4" cy="312.6" r="1.9"/><circle cx="380.9" cy="316.8" r="1.9"/><circle cx="396.4" cy="332.4" r="1.9"/></g>
<g class="c33"><circle cx="346.3" cy="300.1" r="1.9"/><circle cx="381.2" cy="298.8" r="1.9"/><circle cx="325.2" cy="327.8" r="1.9"/><circle cx="338.5" cy="299.1" r="1.9"/><circle cx="363.7" cy="310.9" r="1.9"/><circle cx="367.3" cy="319.4" r="1.9"/></g>
<g class="c27"><circle cx="454.5" cy="285.5" r="1.9"/><circle cx="430.1" cy="272.9" r="1.9"/><circle cx="478.1" cy="266.7" r="1.9"/><circle cx="475.7" cy="296.2" r="1.9"/><circle cx="452.8" cy="250.5" r="1.9"/><circle cx="467.6" cy="282.5" r="1.9"/></g>
<g class="c34"><circle cx="449.2" cy="320.6" r="1.9"/><circle cx="457.4" cy="330.2" r="1.9"/><circle cx="439.6" cy="325.1" r="1.9"/><circle cx="444.7" cy="309.2" r="1.9"/><circle cx="461.8" cy="328.6" r="1.9"/><circle cx="457.6" cy="324.0" r="1.9"/></g>
<g class="c34"><circle cx="429.1" cy="306.9" r="1.9"/><circle cx="440.9" cy="325.0" r="1.9"/><circle cx="448.6" cy="320.2" r="1.9"/><circle cx="446.7" cy="313.5" r="1.9"/><circle cx="445.5" cy="314.4" r="1.9"/><circle cx="422.7" cy="321.9" r="1.9"/></g>
<g class="c34"><circle cx="421.2" cy="322.3" r="1.9"/><circle cx="435.0" cy="314.5" r="1.9"/><circle cx="464.2" cy="317.8" r="1.9"/><circle cx="473.4" cy="338.7" r="1.9"/><circle cx="415.1" cy="327.9" r="1.9"/><circle cx="433.9" cy="323.2" r="1.9"/></g>
<g class="c33"><circle cx="359.0" cy="296.6" r="1.9"/><circle cx="366.3" cy="313.0" r="1.9"/><circle cx="385.5" cy="302.4" r="1.9"/><circle cx="379.1" cy="315.7" r="1.9"/><circle cx="351.6" cy="307.2" r="1.9"/><circle cx="362.0" cy="314.5" r="1.9"/></g>
<g class="c33"><circle cx="349.6" cy="308.6" r="1.9"/><circle cx="340.4" cy="306.6" r="1.9"/><circle cx="346.6" cy="296.2" r="1.9"/><circle cx="356.1" cy="311.8" r="1.9"/><circle cx="343.9" cy="290.9" r="1.9"/><circle cx="377.4" cy="318.6" r="1.9"/></g>
<g class="c33"><circle cx="353.2" cy="309.1" r="1.9"/><circle cx="350.5" cy="307.5" r="1.9"/><circle cx="357.0" cy="291.5" r="1.9"/><circle cx="319.6" cy="301.0" r="1.9"/><circle cx="338.0" cy="295.9" r="1.9"/><circle cx="325.8" cy="308.1" r="1.9"/></g>
<g class="c27"><circle cx="447.9" cy="294.6" r="1.9"/><circle cx="465.7" cy="277.4" r="1.9"/><circle cx="437.4" cy="279.6" r="1.9"/><circle cx="433.7" cy="290.5" r="1.9"/><circle cx="463.1" cy="246.9" r="1.9"/><circle cx="459.5" cy="282.4" r="1.9"/></g>
<g class="c34"><circle cx="464.9" cy="317.4" r="1.9"/><circle cx="431.5" cy="318.8" r="1.9"/><circle cx="448.8" cy="310.0" r="1.9"/><circle cx="441.0" cy="330.1" r="1.9"/><circle cx="415.0" cy="324.1" r="1.9"/><circle cx="440.3" cy="322.5" r="1.9"/></g>
<g class="c31"><circle cx="406.4" cy="250.7" r="1.9"/><circle cx="403.4" cy="210.3" r="1.9"/><circle cx="382.5" cy="263.4" r="1.9"/><circle cx="380.5" cy="238.3" r="1.9"/><circle cx="424.6" cy="242.4" r="1.9"/><circle cx="371.5" cy="240.9" r="1.9"/></g>
<g class="c34"><circle cx="441.7" cy="312.9" r="1.9"/><circle cx="454.3" cy="334.8" r="1.9"/><circle cx="453.0" cy="316.8" r="1.9"/><circle cx="435.8" cy="302.8" r="1.9"/><circle cx="438.0" cy="312.4" r="1.9"/><circle cx="447.8" cy="319.4" r="1.9"/></g>
<g class="c31"><circle cx="425.2" cy="239.1" r="1.9"/><circle cx="390.8" cy="245.8" r="1.9"/><circle cx="398.9" cy="260.7" r="1.9"/><circle cx="392.1" cy="223.0" r="1.9"/><circle cx="416.2" cy="257.7" r="1.9"/><circle cx="424.1" cy="265.7" r="1.9"/></g>
<g class="c27"><circle cx="463.5" cy="274.6" r="1.9"/><circle cx="472.8" cy="246.5" r="1.9"/><circle cx="454.6" cy="310.2" r="1.9"/><circle cx="444.4" cy="243.7" r="1.9"/><circle cx="450.6" cy="274.7" r="1.9"/><circle cx="468.5" cy="304.4" r="1.9"/></g>
<g class="c27"><circle cx="465.5" cy="308.1" r="1.9"/><circle cx="483.9" cy="251.6" r="1.9"/><circle cx="477.7" cy="290.0" r="1.9"/><circle cx="473.0" cy="258.0" r="1.9"/><circle cx="442.5" cy="304.2" r="1.9"/><circle cx="453.0" cy="271.1" r="1.9"/></g>
<g class="c34"><circle cx="444.3" cy="311.9" r="1.9"/><circle cx="452.7" cy="316.9" r="1.9"/><circle cx="422.0" cy="313.5" r="1.9"/><circle cx="437.7" cy="323.0" r="1.9"/><circle cx="439.1" cy="322.7" r="1.9"/><circle cx="426.8" cy="335.8" r="1.9"/></g>
<g class="c22"><circle cx="388.6" cy="338.0" r="1.9"/><circle cx="336.9" cy="319.4" r="1.9"/><circle cx="352.9" cy="322.5" r="1.9"/><circle cx="392.7" cy="338.8" r="1.9"/><circle cx="352.3" cy="325.9" r="1.9"/><circle cx="345.7" cy="336.4" r="1.9"/></g>
<g class="c33"><circle cx="343.9" cy="293.7" r="1.9"/><circle cx="364.6" cy="313.7" r="1.9"/><circle cx="378.2" cy="302.3" r="1.9"/><circle cx="355.2" cy="292.8" r="1.9"/><circle cx="351.5" cy="293.9" r="1.9"/><circle cx="333.6" cy="325.0" r="1.9"/></g>
<g class="c22"><circle cx="387.6" cy="322.0" r="1.9"/><circle cx="396.6" cy="315.9" r="1.9"/><circle cx="387.0" cy="329.4" r="1.9"/><circle cx="357.9" cy="320.7" r="1.9"/><circle cx="357.8" cy="314.8" r="1.9"/><circle cx="346.6" cy="340.2" r="1.9"/></g>
<g class="c29"><circle cx="359.9" cy="267.3" r="1.9"/><circle cx="383.8" cy="267.8" r="1.9"/><circle cx="377.2" cy="280.0" r="1.9"/><circle cx="358.5" cy="264.8" r="1.9"/><circle cx="411.6" cy="283.0" r="1.9"/><circle cx="404.7" cy="276.0" r="1.9"/></g>
<g class="c30"><circle cx="388.1" cy="287.3" r="1.9"/><circle cx="366.8" cy="292.3" r="1.9"/><circle cx="387.9" cy="287.5" r="1.9"/><circle cx="370.0" cy="291.7" r="1.9"/><circle cx="373.2" cy="287.8" r="1.9"/><circle cx="365.4" cy="308.4" r="1.9"/></g>
<g class="c31"><circle cx="397.5" cy="241.2" r="1.9"/><circle cx="379.8" cy="250.2" r="1.9"/><circle cx="393.5" cy="228.2" r="1.9"/><circle cx="404.7" cy="253.4" r="1.9"/><circle cx="398.1" cy="254.7" r="1.9"/><circle cx="428.6" cy="241.7" r="1.9"/></g>
<g class="c34"><circle cx="433.9" cy="322.8" r="1.9"/><circle cx="426.9" cy="304.0" r="1.9"/><circle cx="425.2" cy="310.0" r="1.9"/><circle cx="424.3" cy="337.5" r="1.9"/><circle cx="450.9" cy="329.2" r="1.9"/><circle cx="432.0" cy="337.0" r="1.9"/></g>
<g class="c33"><circle cx="370.7" cy="293.3" r="1.9"/><circle cx="366.9" cy="325.7" r="1.9"/><circle cx="349.9" cy="311.9" r="1.9"/><circle cx="386.3" cy="300.2" r="1.9"/><circle cx="370.9" cy="301.3" r="1.9"/><circle cx="333.7" cy="311.7" r="1.9"/></g>
<g class="c34"><circle cx="442.4" cy="314.8" r="1.9"/><circle cx="402.7" cy="310.3" r="1.9"/><circle cx="400.0" cy="332.6" r="1.9"/><circle cx="468.8" cy="332.4" r="1.9"/><circle cx="450.8" cy="315.9" r="1.9"/><circle cx="440.5" cy="339.3" r="1.9"/></g>
<g class="c22"><circle cx="342.3" cy="319.8" r="1.9"/><circle cx="371.2" cy="311.1" r="1.9"/><circle cx="354.4" cy="334.8" r="1.9"/><circle cx="365.7" cy="331.8" r="1.9"/><circle cx="337.5" cy="332.3" r="1.9"/><circle cx="346.3" cy="329.7" r="1.9"/></g>
<g class="c34"><circle cx="449.0" cy="332.9" r="1.9"/><circle cx="474.7" cy="315.7" r="1.9"/><circle cx="465.9" cy="310.7" r="1.9"/><circle cx="468.3" cy="310.4" r="1.9"/><circle cx="409.9" cy="312.3" r="1.9"/><circle cx="455.9" cy="306.7" r="1.9"/></g>
<g class="c34"><circle cx="422.2" cy="317.2" r="1.9"/><circle cx="453.6" cy="329.6" r="1.9"/><circle cx="448.7" cy="306.6" r="1.9"/><circle cx="416.0" cy="343.9" r="1.9"/><circle cx="431.5" cy="325.2" r="1.9"/><circle cx="453.2" cy="301.9" r="1.9"/></g>
<g class="c27"><circle cx="472.3" cy="271.2" r="1.9"/><circle cx="443.0" cy="253.0" r="1.9"/><circle cx="441.4" cy="262.8" r="1.9"/><circle cx="452.0" cy="256.4" r="1.9"/><circle cx="465.6" cy="302.0" r="1.9"/><circle cx="460.3" cy="270.0" r="1.9"/></g>
<g class="c31"><circle cx="422.7" cy="255.8" r="1.9"/><circle cx="397.6" cy="262.2" r="1.9"/><circle cx="393.7" cy="237.0" r="1.9"/><circle cx="421.2" cy="239.9" r="1.9"/><circle cx="385.7" cy="221.3" r="1.9"/><circle cx="377.5" cy="265.0" r="1.9"/></g>
<g class="c34"><circle cx="418.7" cy="313.1" r="1.9"/><circle cx="421.8" cy="320.9" r="1.9"/><circle cx="416.0" cy="329.2" r="1.9"/><circle cx="437.4" cy="336.5" r="1.9"/><circle cx="431.9" cy="302.4" r="1.9"/><circle cx="442.2" cy="346.6" r="1.9"/></g>
<g class="c31"><circle cx="409.6" cy="246.3" r="1.9"/><circle cx="381.3" cy="254.1" r="1.9"/><circle cx="380.6" cy="235.1" r="1.9"/><circle cx="407.5" cy="274.1" r="1.9"/><circle cx="409.8" cy="246.3" r="1.9"/><circle cx="376.0" cy="252.7" r="1.9"/></g>
<g class="c27"><circle cx="476.3" cy="298.6" r="1.9"/><circle cx="443.4" cy="296.1" r="1.9"/><circle cx="444.8" cy="286.0" r="1.9"/><circle cx="488.1" cy="267.8" r="1.9"/><circle cx="458.1" cy="283.5" r="1.9"/><circle cx="450.3" cy="247.6" r="1.9"/></g>
<g class="c31"><circle cx="396.5" cy="252.1" r="1.9"/><circle cx="397.0" cy="259.6" r="1.9"/><circle cx="384.2" cy="220.6" r="1.9"/><circle cx="403.3" cy="218.0" r="1.9"/><circle cx="426.2" cy="232.2" r="1.9"/><circle cx="389.5" cy="235.4" r="1.9"/></g>
<g class="c22"><circle cx="363.8" cy="325.1" r="1.9"/><circle cx="363.4" cy="321.4" r="1.9"/><circle cx="377.4" cy="320.2" r="1.9"/><circle cx="380.4" cy="318.1" r="1.9"/><circle cx="377.4" cy="334.7" r="1.9"/><circle cx="353.2" cy="327.6" r="1.9"/></g>
<g class="c31"><circle cx="395.8" cy="233.7" r="1.9"/><circle cx="380.8" cy="255.7" r="1.9"/><circle cx="384.2" cy="256.8" r="1.9"/><circle cx="396.6" cy="245.8" r="1.9"/><circle cx="405.6" cy="245.5" r="1.9"/><circle cx="392.8" cy="255.3" r="1.9"/></g>
<g class="c34"><circle cx="410.5" cy="324.6" r="1.9"/><circle cx="416.1" cy="342.8" r="1.9"/><circle cx="447.5" cy="313.9" r="1.9"/><circle cx="425.4" cy="321.1" r="1.9"/><circle cx="455.9" cy="317.4" r="1.9"/><circle cx="445.3" cy="312.8" r="1.9"/></g>
<g class="c34"><circle cx="413.6" cy="321.1" r="1.9"/><circle cx="467.6" cy="321.1" r="1.9"/><circle cx="459.8" cy="343.6" r="1.9"/><circle cx="444.3" cy="298.6" r="1.9"/><circle cx="451.6" cy="340.9" r="1.9"/><circle cx="463.7" cy="312.1" r="1.9"/></g>
<g class="c31"><circle cx="375.2" cy="239.9" r="1.9"/><circle cx="406.7" cy="237.5" r="1.9"/><circle cx="373.8" cy="239.5" r="1.9"/><circle cx="396.0" cy="251.4" r="1.9"/><circle cx="370.6" cy="247.5" r="1.9"/><circle cx="423.3" cy="223.7" r="1.9"/></g>
<g class="c22"><circle cx="372.3" cy="322.8" r="1.9"/><circle cx="384.6" cy="312.9" r="1.9"/><circle cx="399.8" cy="339.8" r="1.9"/><circle cx="383.3" cy="321.8" r="1.9"/><circle cx="347.2" cy="327.1" r="1.9"/><circle cx="372.2" cy="333.0" r="1.9"/></g>
<g class="c31"><circle cx="397.7" cy="263.2" r="1.9"/><circle cx="375.0" cy="258.5" r="1.9"/><circle cx="376.6" cy="228.8" r="1.9"/><circle cx="384.3" cy="261.1" r="1.9"/><circle cx="399.3" cy="262.5" r="1.9"/><circle cx="363.5" cy="246.8" r="1.9"/></g>
<g class="c34"><circle cx="460.6" cy="313.9" r="1.9"/><circle cx="428.7" cy="315.5" r="1.9"/><circle cx="435.0" cy="303.3" r="1.9"/><circle cx="458.1" cy="318.7" r="1.9"/><circle cx="423.6" cy="337.4" r="1.9"/><circle cx="422.9" cy="323.2" r="1.9"/></g>
<g class="c33"><circle cx="365.2" cy="298.1" r="1.9"/><circle cx="337.1" cy="326.7" r="1.9"/><circle cx="377.9" cy="290.9" r="1.9"/><circle cx="379.9" cy="321.7" r="1.9"/><circle cx="333.4" cy="321.4" r="1.9"/><circle cx="363.1" cy="304.5" r="1.9"/></g>
<g class="c34"><circle cx="407.8" cy="315.2" r="1.9"/><circle cx="423.2" cy="337.7" r="1.9"/><circle cx="451.4" cy="315.4" r="1.9"/><circle cx="457.3" cy="327.4" r="1.9"/><circle cx="443.7" cy="317.8" r="1.9"/><circle cx="451.1" cy="323.4" r="1.9"/></g>
<g class="c31"><circle cx="400.3" cy="228.0" r="1.9"/><circle cx="404.4" cy="219.5" r="1.9"/><circle cx="355.4" cy="252.0" r="1.9"/><circle cx="424.8" cy="251.7" r="1.9"/><circle cx="421.0" cy="249.1" r="1.9"/><circle cx="416.7" cy="251.0" r="1.9"/></g>
<g class="c34"><circle cx="443.4" cy="323.2" r="1.9"/><circle cx="429.1" cy="315.1" r="1.9"/><circle cx="471.6" cy="310.5" r="1.9"/><circle cx="415.8" cy="313.7" r="1.9"/><circle cx="438.6" cy="324.7" r="1.9"/><circle cx="422.7" cy="313.1" r="1.9"/></g>
<g class="c31"><circle cx="365.1" cy="232.0" r="1.9"/><circle cx="368.7" cy="242.5" r="1.9"/><circle cx="391.8" cy="252.1" r="1.9"/><circle cx="419.4" cy="268.7" r="1.9"/><circle cx="404.1" cy="247.3" r="1.9"/><circle cx="412.7" cy="237.5" r="1.9"/></g>
<g class="c34"><circle cx="433.0" cy="327.8" r="1.9"/><circle cx="464.9" cy="326.1" r="1.9"/><circle cx="463.0" cy="323.6" r="1.9"/><circle cx="422.3" cy="315.5" r="1.9"/><circle cx="427.2" cy="315.1" r="1.9"/><circle cx="465.4" cy="305.1" r="1.9"/></g>
<g class="c33"><circle cx="346.7" cy="299.5" r="1.9"/><circle cx="360.2" cy="313.0" r="1.9"/><circle cx="372.9" cy="318.3" r="1.9"/><circle cx="336.3" cy="312.3" r="1.9"/><circle cx="351.6" cy="302.9" r="1.9"/><circle cx="355.1" cy="317.3" r="1.9"/></g>
<g class="c26"><circle cx="417.3" cy="286.4" r="1.9"/><circle cx="383.1" cy="290.2" r="1.9"/><circle cx="398.7" cy="297.0" r="1.9"/><circle cx="402.0" cy="283.0" r="1.9"/><circle cx="395.3" cy="285.9" r="1.9"/><circle cx="395.0" cy="289.7" r="1.9"/></g>
<g class="c34"><circle cx="431.9" cy="334.5" r="1.9"/><circle cx="462.1" cy="313.2" r="1.9"/><circle cx="443.4" cy="319.5" r="1.9"/><circle cx="449.9" cy="313.3" r="1.9"/><circle cx="437.9" cy="341.6" r="1.9"/><circle cx="424.2" cy="320.1" r="1.9"/></g>
<g class="c31"><circle cx="368.2" cy="254.1" r="1.9"/><circle cx="376.1" cy="232.2" r="1.9"/><circle cx="382.5" cy="234.2" r="1.9"/><circle cx="393.8" cy="265.7" r="1.9"/><circle cx="397.7" cy="229.5" r="1.9"/><circle cx="414.5" cy="239.9" r="1.9"/></g>
<g class="c30"><circle cx="388.3" cy="287.6" r="1.9"/><circle cx="377.2" cy="305.0" r="1.9"/><circle cx="385.9" cy="289.5" r="1.9"/><circle cx="376.6" cy="307.0" r="1.9"/><circle cx="367.1" cy="291.2" r="1.9"/><circle cx="372.0" cy="301.6" r="1.9"/></g>
<g class="c33"><circle cx="317.5" cy="295.7" r="1.9"/><circle cx="358.0" cy="301.1" r="1.9"/><circle cx="338.7" cy="304.7" r="1.9"/><circle cx="360.1" cy="329.5" r="1.9"/><circle cx="368.6" cy="300.1" r="1.9"/><circle cx="351.5" cy="300.9" r="1.9"/></g>
<g class="c33"><circle cx="340.6" cy="308.4" r="1.9"/><circle cx="360.1" cy="310.0" r="1.9"/><circle cx="358.6" cy="314.9" r="1.9"/><circle cx="363.5" cy="309.9" r="1.9"/><circle cx="374.8" cy="299.4" r="1.9"/><circle cx="364.3" cy="310.4" r="1.9"/></g>
<g class="c33"><circle cx="368.5" cy="335.0" r="1.9"/><circle cx="362.6" cy="308.7" r="1.9"/><circle cx="330.1" cy="320.4" r="1.9"/><circle cx="362.5" cy="284.4" r="1.9"/><circle cx="362.1" cy="324.6" r="1.9"/><circle cx="363.3" cy="283.6" r="1.9"/></g>
<g class="c33"><circle cx="380.2" cy="308.5" r="1.9"/><circle cx="373.4" cy="302.6" r="1.9"/><circle cx="366.0" cy="289.6" r="1.9"/><circle cx="362.9" cy="328.0" r="1.9"/><circle cx="360.2" cy="294.5" r="1.9"/><circle cx="374.6" cy="283.9" r="1.9"/></g>
<g class="c31"><circle cx="405.5" cy="226.9" r="1.9"/><circle cx="402.6" cy="248.2" r="1.9"/><circle cx="388.5" cy="249.4" r="1.9"/><circle cx="375.9" cy="240.0" r="1.9"/><circle cx="416.5" cy="241.9" r="1.9"/><circle cx="376.0" cy="247.6" r="1.9"/></g>
<g class="c31"><circle cx="375.8" cy="240.3" r="1.9"/><circle cx="390.0" cy="270.2" r="1.9"/><circle cx="394.6" cy="258.1" r="1.9"/><circle cx="375.3" cy="236.1" r="1.9"/><circle cx="392.7" cy="248.3" r="1.9"/><circle cx="406.4" cy="214.3" r="1.9"/></g>
<g class="c31"><circle cx="401.2" cy="221.7" r="1.9"/><circle cx="390.7" cy="243.2" r="1.9"/><circle cx="416.2" cy="254.6" r="1.9"/><circle cx="379.8" cy="259.5" r="1.9"/><circle cx="409.4" cy="262.1" r="1.9"/><circle cx="379.1" cy="266.3" r="1.9"/></g>
<g class="c29"><circle cx="367.6" cy="278.3" r="1.9"/><circle cx="413.5" cy="258.7" r="1.9"/><circle cx="407.9" cy="269.7" r="1.9"/><circle cx="408.7" cy="282.4" r="1.9"/><circle cx="378.9" cy="292.5" r="1.9"/><circle cx="361.1" cy="277.0" r="1.9"/></g>
<g class="c29"><circle cx="398.6" cy="253.6" r="1.9"/><circle cx="391.5" cy="263.9" r="1.9"/><circle cx="366.8" cy="269.2" r="1.9"/><circle cx="387.2" cy="299.5" r="1.9"/><circle cx="368.5" cy="259.5" r="1.9"/><circle cx="375.2" cy="244.3" r="1.9"/></g>
<g class="c33"><circle cx="341.1" cy="285.4" r="1.9"/><circle cx="352.5" cy="316.7" r="1.9"/><circle cx="359.8" cy="327.0" r="1.9"/><circle cx="330.6" cy="286.4" r="1.9"/><circle cx="338.3" cy="291.0" r="1.9"/><circle cx="350.1" cy="310.9" r="1.9"/></g>
<g class="c31"><circle cx="373.5" cy="262.8" r="1.9"/><circle cx="394.1" cy="230.3" r="1.9"/><circle cx="397.5" cy="245.3" r="1.9"/><circle cx="370.0" cy="242.4" r="1.9"/><circle cx="365.9" cy="248.5" r="1.9"/><circle cx="420.2" cy="259.2" r="1.9"/></g>
<g class="c31"><circle cx="393.4" cy="274.7" r="1.9"/><circle cx="398.6" cy="246.4" r="1.9"/><circle cx="427.8" cy="249.6" r="1.9"/><circle cx="381.0" cy="235.5" r="1.9"/><circle cx="409.6" cy="259.8" r="1.9"/><circle cx="379.9" cy="267.8" r="1.9"/></g>
<g class="c2"><circle cx="348.4" cy="282.7" r="1.9"/><circle cx="342.4" cy="285.3" r="1.9"/><circle cx="351.0" cy="271.3" r="1.9"/><circle cx="343.6" cy="275.9" r="1.9"/><circle cx="360.7" cy="281.0" r="1.9"/><circle cx="346.0" cy="260.8" r="1.9"/></g>
<g class="c33"><circle cx="356.6" cy="299.8" r="1.9"/><circle cx="325.7" cy="305.3" r="1.9"/><circle cx="370.0" cy="307.9" r="1.9"/><circle cx="341.2" cy="274.6" r="1.9"/><circle cx="324.4" cy="314.7" r="1.9"/><circle cx="369.7" cy="286.7" r="1.9"/></g>
<g class="c33"><circle cx="351.8" cy="327.9" r="1.9"/><circle cx="342.9" cy="319.8" r="1.9"/><circle cx="375.8" cy="304.2" r="1.9"/><circle cx="381.1" cy="296.7" r="1.9"/><circle cx="383.5" cy="305.4" r="1.9"/><circle cx="337.2" cy="313.0" r="1.9"/></g>
<g class="c33"><circle cx="363.1" cy="305.0" r="1.9"/><circle cx="358.1" cy="307.2" r="1.9"/><circle cx="358.8" cy="330.6" r="1.9"/><circle cx="376.5" cy="298.0" r="1.9"/><circle cx="351.5" cy="314.0" r="1.9"/><circle cx="376.9" cy="319.8" r="1.9"/></g>
<polygon points="393.0,238.5 393.9,241.0 396.6,241.1 394.4,242.7 395.2,245.3 393.0,243.7 390.8,245.3 391.6,242.7 389.4,241.1 392.1,241.0" fill="#16496d" fill-opacity=".85" stroke="#262626" stroke-width=".8"/>
<polygon points="349.7,272.9 350.5,275.5 353.2,275.5 351.1,277.1 351.9,279.7 349.7,278.2 347.5,279.7 348.2,277.1 346.1,275.5 348.8,275.5" fill="#c9b1d6" fill-opacity=".85" stroke="#262626" stroke-width=".8"/>
<polygon points="379.2,280.2 380.1,282.8 382.8,282.8 380.6,284.5 381.4,287.0 379.2,285.5 377.0,287.0 377.8,284.5 375.7,282.8 378.3,282.8" fill="#6d371b" fill-opacity=".85" stroke="#262626" stroke-width=".8"/>
<polygon points="387.0,284.7 387.9,287.2 390.6,287.3 388.4,288.9 389.2,291.5 387.0,289.9 384.8,291.5 385.6,288.9 383.4,287.3 386.1,287.2" fill="#a6cee3" fill-opacity=".85" stroke="#262626" stroke-width=".8"/>
<polygon points="454.8,278.5 455.7,281.0 458.3,281.1 456.2,282.7 457.0,285.3 454.8,283.7 452.6,285.3 453.4,282.7 451.2,281.1 453.9,281.0" fill="#ffff99" fill-opacity=".85" stroke="#262626" stroke-width=".8"/>
<polygon points="353.0,302.9 353.9,305.5 356.6,305.5 354.4,307.1 355.2,309.7 353.0,308.2 350.8,309.7 351.6,307.1 349.4,305.5 352.1,305.5" fill="#861123" fill-opacity=".85" stroke="#262626" stroke-width=".8"/>
<polygon points="371.9,316.9 372.8,319.5 375.5,319.5 373.3,321.1 374.1,323.7 371.9,322.2 369.7,323.7 370.5,321.1 368.3,319.5 371.0,319.5" fill="#fbbe72" fill-opacity=".85" stroke="#262626" stroke-width=".8"/>
<polygon points="441.4,316.2 442.3,318.8 445.0,318.8 442.9,320.5 443.6,323.0 441.4,321.5 439.2,323.0 440.0,320.5 437.9,318.8 440.6,318.8" fill="#22631d" fill-opacity=".85" stroke="#262626" stroke-width=".8"/>
<rect x="536.5" y="206.3" width="199.1" height="147.7" fill="#fff" stroke="#929292" stroke-width="1.15"/>
<g class="c21"><circle cx="641.4" cy="311.5" r="1.9"/><circle cx="631.1" cy="320.4" r="1.9"/><circle cx="627.3" cy="319.7" r="1.9"/><circle cx="651.2" cy="319.8" r="1.9"/><circle cx="648.2" cy="320.5" r="1.9"/><circle cx="636.3" cy="321.4" r="1.9"/></g>
<g class="c21"><circle cx="695.6" cy="299.2" r="1.9"/><circle cx="694.9" cy="298.1" r="1.9"/><circle cx="687.0" cy="309.0" r="1.9"/><circle cx="703.5" cy="315.7" r="1.9"/><circle cx="671.3" cy="300.1" r="1.9"/><circle cx="675.8" cy="320.3" r="1.9"/></g>
<g class="c21"><circle cx="701.5" cy="305.9" r="1.9"/><circle cx="669.6" cy="316.2" r="1.9"/><circle cx="690.5" cy="308.3" r="1.9"/><circle cx="692.6" cy="313.0" r="1.9"/><circle cx="669.6" cy="304.3" r="1.9"/><circle cx="665.9" cy="308.8" r="1.9"/></g>
<g class="c13"><circle cx="586.1" cy="304.1" r="1.9"/><circle cx="591.1" cy="282.4" r="1.9"/><circle cx="564.7" cy="319.4" r="1.9"/><circle cx="577.0" cy="303.7" r="1.9"/><circle cx="565.6" cy="292.4" r="1.9"/><circle cx="581.5" cy="280.6" r="1.9"/></g>
<g class="c29"><circle cx="566.0" cy="232.2" r="1.9"/><circle cx="551.2" cy="222.5" r="1.9"/><circle cx="561.9" cy="223.0" r="1.9"/><circle cx="561.8" cy="225.6" r="1.9"/><circle cx="550.5" cy="220.8" r="1.9"/><circle cx="555.5" cy="233.6" r="1.9"/></g>
<g class="c24"><circle cx="604.4" cy="273.9" r="1.9"/><circle cx="626.0" cy="299.1" r="1.9"/><circle cx="628.2" cy="289.7" r="1.9"/><circle cx="600.7" cy="288.9" r="1.9"/><circle cx="610.3" cy="294.9" r="1.9"/><circle cx="611.2" cy="293.1" r="1.9"/></g>
<g class="c8"><circle cx="637.2" cy="289.9" r="1.9"/><circle cx="638.2" cy="293.6" r="1.9"/></g>
<g class="c24"><circle cx="623.5" cy="301.6" r="1.9"/><circle cx="609.4" cy="297.1" r="1.9"/><circle cx="627.9" cy="292.5" r="1.9"/><circle cx="589.9" cy="297.7" r="1.9"/><circle cx="612.4" cy="284.4" r="1.9"/><circle cx="592.4" cy="279.6" r="1.9"/></g>
<g class="c16"><circle cx="585.2" cy="276.2" r="1.9"/><circle cx="584.6" cy="282.5" r="1.9"/></g>
<g class="c8"><circle cx="690.7" cy="272.4" r="1.9"/><circle cx="669.9" cy="285.2" r="1.9"/><circle cx="715.5" cy="286.0" r="1.9"/><circle cx="644.1" cy="277.7" r="1.9"/><circle cx="648.0" cy="288.7" r="1.9"/><circle cx="707.2" cy="293.8" r="1.9"/></g>
<g class="c13"><circle cx="587.9" cy="321.4" r="1.9"/><circle cx="578.2" cy="310.1" r="1.9"/><circle cx="585.5" cy="310.1" r="1.9"/><circle cx="572.5" cy="310.8" r="1.9"/><circle cx="575.2" cy="285.1" r="1.9"/><circle cx="577.0" cy="281.7" r="1.9"/></g>
<g class="c8"><circle cx="715.3" cy="262.7" r="1.9"/><circle cx="698.4" cy="289.9" r="1.9"/><circle cx="693.2" cy="275.4" r="1.9"/><circle cx="685.4" cy="286.5" r="1.9"/><circle cx="658.0" cy="296.0" r="1.9"/><circle cx="689.9" cy="299.4" r="1.9"/></g>
<g class="c8"><circle cx="667.4" cy="267.4" r="1.9"/><circle cx="669.0" cy="277.5" r="1.9"/><circle cx="662.1" cy="277.7" r="1.9"/><circle cx="651.7" cy="284.3" r="1.9"/><circle cx="695.5" cy="261.7" r="1.9"/><circle cx="654.4" cy="284.0" r="1.9"/></g>
<g class="c2"><circle cx="696.2" cy="269.2" r="1.9"/><circle cx="704.3" cy="270.6" r="1.9"/><circle cx="683.5" cy="262.3" r="1.9"/><circle cx="696.1" cy="276.6" r="1.9"/><circle cx="699.4" cy="266.3" r="1.9"/><circle cx="709.7" cy="271.2" r="1.9"/></g>
<g class="c8"><circle cx="657.7" cy="256.5" r="1.9"/><circle cx="678.5" cy="282.8" r="1.9"/><circle cx="651.0" cy="278.4" r="1.9"/><circle cx="652.0" cy="273.8" r="1.9"/><circle cx="674.2" cy="257.6" r="1.9"/><circle cx="682.7" cy="279.9" r="1.9"/></g>
<g class="c8"><circle cx="650.1" cy="265.8" r="1.9"/><circle cx="654.2" cy="254.2" r="1.9"/><circle cx="673.6" cy="282.8" r="1.9"/><circle cx="689.7" cy="292.7" r="1.9"/><circle cx="689.1" cy="292.8" r="1.9"/><circle cx="672.8" cy="268.2" r="1.9"/></g>
<g class="c2"><circle cx="692.1" cy="258.8" r="1.9"/><circle cx="702.1" cy="278.4" r="1.9"/><circle cx="699.7" cy="279.3" r="1.9"/><circle cx="682.1" cy="262.5" r="1.9"/></g>
<g class="c13"><circle cx="557.9" cy="303.0" r="1.9"/><circle cx="572.9" cy="317.3" r="1.9"/><circle cx="560.6" cy="292.5" r="1.9"/><circle cx="575.3" cy="301.0" r="1.9"/><circle cx="583.1" cy="291.2" r="1.9"/><circle cx="586.6" cy="286.9" r="1.9"/></g>
<g class="c24"><circle cx="619.7" cy="278.9" r="1.9"/><circle cx="610.0" cy="275.4" r="1.9"/><circle cx="599.8" cy="286.9" r="1.9"/><circle cx="626.7" cy="276.9" r="1.9"/><circle cx="593.8" cy="294.8" r="1.9"/><circle cx="622.1" cy="281.5" r="1.9"/></g>
<g class="c13"><circle cx="574.3" cy="304.0" r="1.9"/><circle cx="583.3" cy="304.7" r="1.9"/><circle cx="602.9" cy="294.1" r="1.9"/><circle cx="584.5" cy="314.0" r="1.9"/><circle cx="589.5" cy="307.0" r="1.9"/><circle cx="564.6" cy="317.6" r="1.9"/></g>
<g class="c8"><circle cx="706.6" cy="294.0" r="1.9"/><circle cx="706.6" cy="306.5" r="1.9"/><circle cx="707.8" cy="302.2" r="1.9"/><circle cx="705.1" cy="292.0" r="1.9"/></g>
<g class="c28"><circle cx="577.9" cy="273.9" r="1.9"/><circle cx="577.1" cy="270.9" r="1.9"/><circle cx="583.7" cy="262.1" r="1.9"/><circle cx="580.1" cy="269.6" r="1.9"/></g>
<g class="c8"><circle cx="639.9" cy="268.6" r="1.9"/><circle cx="685.0" cy="268.3" r="1.9"/><circle cx="684.8" cy="279.6" r="1.9"/><circle cx="670.8" cy="273.0" r="1.9"/><circle cx="649.0" cy="263.5" r="1.9"/><circle cx="624.6" cy="270.0" r="1.9"/></g>
<g class="c35"><circle cx="577.4" cy="323.4" r="1.9"/><circle cx="589.6" cy="337.0" r="1.9"/><circle cx="578.2" cy="332.0" r="1.9"/><circle cx="587.4" cy="336.5" r="1.9"/><circle cx="565.9" cy="343.6" r="1.9"/><circle cx="573.4" cy="341.0" r="1.9"/></g>
<g class="c35"><circle cx="589.0" cy="340.3" r="1.9"/><circle cx="582.0" cy="336.5" r="1.9"/><circle cx="567.0" cy="325.4" r="1.9"/><circle cx="586.2" cy="341.6" r="1.9"/><circle cx="579.4" cy="331.3" r="1.9"/><circle cx="572.0" cy="327.0" r="1.9"/></g>
<g class="c13"><circle cx="616.5" cy="267.1" r="1.9"/><circle cx="607.7" cy="257.4" r="1.9"/><circle cx="602.3" cy="269.0" r="1.9"/><circle cx="617.2" cy="279.4" r="1.9"/><circle cx="600.2" cy="282.1" r="1.9"/><circle cx="618.8" cy="274.6" r="1.9"/></g>
<g class="c24"><circle cx="620.4" cy="280.3" r="1.9"/><circle cx="626.6" cy="276.2" r="1.9"/><circle cx="617.5" cy="285.1" r="1.9"/><circle cx="602.5" cy="283.5" r="1.9"/><circle cx="595.5" cy="273.5" r="1.9"/><circle cx="630.0" cy="297.1" r="1.9"/></g>
<g class="c8"><circle cx="680.3" cy="265.1" r="1.9"/><circle cx="691.6" cy="287.2" r="1.9"/><circle cx="662.8" cy="291.6" r="1.9"/><circle cx="702.6" cy="291.7" r="1.9"/><circle cx="687.0" cy="256.5" r="1.9"/><circle cx="674.5" cy="271.7" r="1.9"/></g>
<g class="c8"><circle cx="703.5" cy="294.7" r="1.9"/><circle cx="642.9" cy="300.4" r="1.9"/><circle cx="677.7" cy="287.4" r="1.9"/><circle cx="706.4" cy="278.1" r="1.9"/><circle cx="669.5" cy="289.9" r="1.9"/><circle cx="715.7" cy="286.6" r="1.9"/></g>
<g class="c21"><circle cx="644.9" cy="312.6" r="1.9"/><circle cx="647.2" cy="320.5" r="1.9"/><circle cx="650.4" cy="323.9" r="1.9"/><circle cx="632.9" cy="325.4" r="1.9"/><circle cx="638.9" cy="316.0" r="1.9"/><circle cx="636.2" cy="318.1" r="1.9"/></g>
<g class="c13"><circle cx="588.7" cy="293.8" r="1.9"/><circle cx="568.8" cy="293.6" r="1.9"/><circle cx="600.6" cy="284.4" r="1.9"/><circle cx="580.6" cy="315.2" r="1.9"/><circle cx="589.4" cy="287.7" r="1.9"/><circle cx="582.2" cy="322.5" r="1.9"/></g>
<g class="c8"><circle cx="658.4" cy="288.5" r="1.9"/><circle cx="633.9" cy="285.6" r="1.9"/><circle cx="662.2" cy="289.5" r="1.9"/><circle cx="671.9" cy="255.3" r="1.9"/><circle cx="642.8" cy="291.4" r="1.9"/><circle cx="675.1" cy="265.0" r="1.9"/></g>
<g class="c8"><circle cx="680.4" cy="262.5" r="1.9"/><circle cx="635.3" cy="282.1" r="1.9"/><circle cx="641.6" cy="299.4" r="1.9"/><circle cx="644.6" cy="285.2" r="1.9"/><circle cx="722.9" cy="281.6" r="1.9"/><circle cx="627.9" cy="282.0" r="1.9"/></g>
<g class="c8"><circle cx="729.1" cy="257.5" r="1.9"/><circle cx="724.5" cy="259.7" r="1.9"/><circle cx="720.0" cy="259.9" r="1.9"/><circle cx="723.1" cy="261.2" r="1.9"/><circle cx="726.5" cy="260.0" r="1.9"/><circle cx="720.6" cy="263.5" r="1.9"/></g>
<g class="c13"><circle cx="594.1" cy="280.6" r="1.9"/><circle cx="608.2" cy="264.9" r="1.9"/><circle cx="615.1" cy="272.6" r="1.9"/><circle cx="598.9" cy="258.5" r="1.9"/><circle cx="620.4" cy="266.2" r="1.9"/><circle cx="616.8" cy="277.2" r="1.9"/></g>
<g class="c13"><circle cx="570.7" cy="309.9" r="1.9"/><circle cx="557.2" cy="301.4" r="1.9"/><circle cx="591.7" cy="280.6" r="1.9"/><circle cx="591.4" cy="316.8" r="1.9"/><circle cx="582.4" cy="291.1" r="1.9"/><circle cx="573.7" cy="299.2" r="1.9"/></g>
<g class="c22"><circle cx="699.5" cy="329.5" r="1.9"/></g>
<g class="c29"><circle cx="555.8" cy="224.2" r="1.9"/><circle cx="551.5" cy="225.5" r="1.9"/></g>
<g class="c2"><circle cx="715.7" cy="265.8" r="1.9"/><circle cx="719.3" cy="268.0" r="1.9"/><circle cx="721.0" cy="269.7" r="1.9"/></g>
<g class="c16"><circle cx="565.7" cy="280.9" r="1.9"/><circle cx="575.4" cy="288.0" r="1.9"/><circle cx="551.8" cy="295.7" r="1.9"/><circle cx="561.1" cy="290.5" r="1.9"/></g>
<g class="c35"><circle cx="561.3" cy="335.5" r="1.9"/><circle cx="581.8" cy="326.7" r="1.9"/><circle cx="574.0" cy="337.4" r="1.9"/><circle cx="564.9" cy="344.5" r="1.9"/><circle cx="569.7" cy="333.4" r="1.9"/><circle cx="580.7" cy="346.8" r="1.9"/></g>
<g class="c21"><circle cx="670.3" cy="307.7" r="1.9"/><circle cx="703.5" cy="306.6" r="1.9"/><circle cx="695.3" cy="307.9" r="1.9"/><circle cx="678.1" cy="313.3" r="1.9"/><circle cx="693.6" cy="316.8" r="1.9"/><circle cx="688.7" cy="308.8" r="1.9"/></g>
<g class="c13"><circle cx="594.9" cy="315.3" r="1.9"/><circle cx="575.9" cy="309.7" r="1.9"/><circle cx="578.0" cy="298.4" r="1.9"/><circle cx="588.5" cy="310.2" r="1.9"/><circle cx="589.8" cy="285.2" r="1.9"/><circle cx="569.0" cy="300.0" r="1.9"/></g>
<g class="c8"><circle cx="646.0" cy="306.0" r="1.9"/><circle cx="658.3" cy="295.1" r="1.9"/><circle cx="652.9" cy="270.1" r="1.9"/><circle cx="669.9" cy="283.1" r="1.9"/><circle cx="689.0" cy="295.7" r="1.9"/><circle cx="701.6" cy="269.8" r="1.9"/></g>
<g class="c22"><circle cx="671.2" cy="329.7" r="1.9"/></g>
<g class="c24"><circle cx="600.0" cy="281.4" r="1.9"/><circle cx="605.2" cy="275.4" r="1.9"/><circle cx="623.7" cy="297.0" r="1.9"/><circle cx="597.9" cy="275.7" r="1.9"/><circle cx="618.6" cy="285.8" r="1.9"/><circle cx="598.2" cy="296.4" r="1.9"/></g>
<g class="c13"><circle cx="601.6" cy="269.0" r="1.9"/><circle cx="621.0" cy="271.4" r="1.9"/><circle cx="609.3" cy="271.1" r="1.9"/><circle cx="613.9" cy="258.7" r="1.9"/><circle cx="617.9" cy="274.3" r="1.9"/><circle cx="600.7" cy="271.4" r="1.9"/></g>
<g class="c16"><circle cx="562.5" cy="294.1" r="1.9"/><circle cx="566.1" cy="293.3" r="1.9"/><circle cx="554.2" cy="280.9" r="1.9"/><circle cx="549.8" cy="297.1" r="1.9"/><circle cx="553.4" cy="290.7" r="1.9"/><circle cx="564.1" cy="292.8" r="1.9"/></g>
<g class="c8"><circle cx="633.6" cy="291.6" r="1.9"/><circle cx="634.2" cy="288.2" r="1.9"/><circle cx="633.0" cy="294.0" r="1.9"/><circle cx="632.0" cy="290.3" r="1.9"/><circle cx="645.1" cy="289.1" r="1.9"/><circle cx="640.4" cy="289.6" r="1.9"/></g>
<g class="c21"><circle cx="634.1" cy="327.5" r="1.9"/><circle cx="648.1" cy="319.9" r="1.9"/><circle cx="636.1" cy="317.0" r="1.9"/><circle cx="640.9" cy="322.3" r="1.9"/><circle cx="648.5" cy="320.8" r="1.9"/><circle cx="626.8" cy="326.3" r="1.9"/></g>
<g class="c13"><circle cx="593.7" cy="290.8" r="1.9"/><circle cx="592.5" cy="280.2" r="1.9"/></g>
<g class="c13"><circle cx="619.4" cy="260.4" r="1.9"/><circle cx="622.8" cy="256.9" r="1.9"/><circle cx="624.0" cy="262.9" r="1.9"/></g>
<g class="c2"><circle cx="697.8" cy="277.1" r="1.9"/><circle cx="694.5" cy="262.8" r="1.9"/><circle cx="688.5" cy="283.0" r="1.9"/><circle cx="693.6" cy="276.0" r="1.9"/><circle cx="694.2" cy="270.1" r="1.9"/><circle cx="697.1" cy="267.9" r="1.9"/></g>
<g class="c8"><circle cx="655.9" cy="267.0" r="1.9"/><circle cx="674.5" cy="264.6" r="1.9"/><circle cx="647.7" cy="287.6" r="1.9"/><circle cx="651.7" cy="293.7" r="1.9"/><circle cx="653.2" cy="291.4" r="1.9"/><circle cx="676.9" cy="281.6" r="1.9"/></g>
<g class="c21"><circle cx="639.6" cy="318.0" r="1.9"/><circle cx="636.2" cy="315.5" r="1.9"/></g>
<g class="c21"><circle cx="651.0" cy="315.6" r="1.9"/><circle cx="629.7" cy="306.9" r="1.9"/><circle cx="631.1" cy="322.4" r="1.9"/><circle cx="637.9" cy="322.9" r="1.9"/><circle cx="641.6" cy="315.4" r="1.9"/><circle cx="642.7" cy="317.9" r="1.9"/></g>
<g class="c29"><circle cx="556.1" cy="235.7" r="1.9"/><circle cx="553.5" cy="214.0" r="1.9"/><circle cx="575.0" cy="221.2" r="1.9"/><circle cx="556.2" cy="225.9" r="1.9"/><circle cx="564.9" cy="227.5" r="1.9"/><circle cx="557.0" cy="226.2" r="1.9"/></g>
<g class="c8"><circle cx="653.1" cy="288.5" r="1.9"/><circle cx="661.7" cy="287.1" r="1.9"/><circle cx="711.8" cy="272.4" r="1.9"/><circle cx="659.7" cy="294.5" r="1.9"/><circle cx="694.9" cy="261.8" r="1.9"/><circle cx="666.0" cy="269.4" r="1.9"/></g>
<g class="c8"><circle cx="658.0" cy="297.5" r="1.9"/><circle cx="658.5" cy="285.8" r="1.9"/><circle cx="647.1" cy="275.9" r="1.9"/><circle cx="638.8" cy="292.8" r="1.9"/><circle cx="696.5" cy="275.0" r="1.9"/><circle cx="708.1" cy="270.6" r="1.9"/></g>
<g class="c13"><circle cx="606.9" cy="267.1" r="1.9"/><circle cx="599.7" cy="274.1" r="1.9"/></g>
<g class="c24"><circle cx="607.7" cy="273.6" r="1.9"/><circle cx="591.4" cy="286.4" r="1.9"/><circle cx="630.8" cy="283.8" r="1.9"/><circle cx="622.3" cy="287.3" r="1.9"/><circle cx="610.0" cy="303.9" r="1.9"/><circle cx="630.1" cy="280.8" r="1.9"/></g>
<g class="c16"><circle cx="575.4" cy="293.0" r="1.9"/><circle cx="560.0" cy="283.9" r="1.9"/><circle cx="556.2" cy="291.7" r="1.9"/><circle cx="564.8" cy="294.7" r="1.9"/><circle cx="560.9" cy="278.9" r="1.9"/><circle cx="562.9" cy="285.7" r="1.9"/></g>
<g class="c13"><circle cx="604.3" cy="270.2" r="1.9"/><circle cx="595.0" cy="275.1" r="1.9"/><circle cx="605.1" cy="273.0" r="1.9"/><circle cx="605.1" cy="273.4" r="1.9"/><circle cx="604.4" cy="256.1" r="1.9"/><circle cx="610.3" cy="267.6" r="1.9"/></g>
<g class="c13"><circle cx="576.2" cy="296.5" r="1.9"/><circle cx="596.1" cy="301.7" r="1.9"/><circle cx="558.7" cy="305.2" r="1.9"/><circle cx="602.3" cy="304.1" r="1.9"/><circle cx="586.4" cy="303.8" r="1.9"/><circle cx="586.4" cy="316.6" r="1.9"/></g>
<g class="c8"><circle cx="672.3" cy="296.5" r="1.9"/><circle cx="695.1" cy="297.4" r="1.9"/><circle cx="697.9" cy="272.1" r="1.9"/><circle cx="686.4" cy="287.9" r="1.9"/><circle cx="653.0" cy="288.6" r="1.9"/><circle cx="651.4" cy="288.3" r="1.9"/></g>
<g class="c13"><circle cx="574.3" cy="295.4" r="1.9"/><circle cx="583.5" cy="320.5" r="1.9"/><circle cx="576.2" cy="322.7" r="1.9"/><circle cx="607.3" cy="288.7" r="1.9"/><circle cx="572.6" cy="318.8" r="1.9"/><circle cx="581.1" cy="310.3" r="1.9"/></g>
<g class="c8"><circle cx="664.4" cy="286.8" r="1.9"/><circle cx="673.8" cy="302.7" r="1.9"/><circle cx="653.8" cy="265.1" r="1.9"/><circle cx="693.6" cy="302.8" r="1.9"/><circle cx="674.2" cy="290.1" r="1.9"/><circle cx="643.9" cy="282.7" r="1.9"/></g>
<g class="c35"><circle cx="573.8" cy="340.6" r="1.9"/><circle cx="575.8" cy="338.7" r="1.9"/><circle cx="572.2" cy="342.4" r="1.9"/><circle cx="571.9" cy="350.1" r="1.9"/><circle cx="585.4" cy="329.8" r="1.9"/><circle cx="579.4" cy="340.4" r="1.9"/></g>
<g class="c29"><circle cx="562.7" cy="231.8" r="1.9"/><circle cx="553.6" cy="229.0" r="1.9"/><circle cx="555.9" cy="215.4" r="1.9"/><circle cx="559.6" cy="215.5" r="1.9"/><circle cx="572.2" cy="216.3" r="1.9"/><circle cx="568.7" cy="226.9" r="1.9"/></g>
<g class="c8"><circle cx="693.8" cy="272.0" r="1.9"/><circle cx="713.5" cy="282.9" r="1.9"/><circle cx="659.8" cy="275.2" r="1.9"/><circle cx="686.7" cy="287.8" r="1.9"/><circle cx="669.0" cy="275.1" r="1.9"/><circle cx="679.8" cy="268.5" r="1.9"/></g>
<g class="c21"><circle cx="679.4" cy="318.5" r="1.9"/><circle cx="695.7" cy="302.5" r="1.9"/><circle cx="675.4" cy="307.7" r="1.9"/><circle cx="703.0" cy="301.9" r="1.9"/></g>
<g class="c13"><circle cx="574.5" cy="305.2" r="1.9"/><circle cx="573.7" cy="312.6" r="1.9"/><circle cx="588.5" cy="294.1" r="1.9"/><circle cx="566.7" cy="306.9" r="1.9"/><circle cx="567.9" cy="310.4" r="1.9"/><circle cx="555.1" cy="307.7" r="1.9"/></g>
<g class="c22"><circle cx="658.7" cy="301.2" r="1.9"/><circle cx="662.9" cy="300.5" r="1.9"/><circle cx="661.6" cy="305.8" r="1.9"/><circle cx="653.7" cy="305.3" r="1.9"/></g>
<g class="c8"><circle cx="705.3" cy="268.8" r="1.9"/><circle cx="673.0" cy="302.6" r="1.9"/><circle cx="638.4" cy="277.5" r="1.9"/><circle cx="688.5" cy="289.5" r="1.9"/><circle cx="650.3" cy="295.0" r="1.9"/><circle cx="657.6" cy="279.1" r="1.9"/></g>
<g class="c13"><circle cx="596.7" cy="312.0" r="1.9"/><circle cx="594.0" cy="303.4" r="1.9"/><circle cx="595.8" cy="309.6" r="1.9"/><circle cx="599.8" cy="301.6" r="1.9"/><circle cx="589.9" cy="303.5" r="1.9"/><circle cx="554.9" cy="322.9" r="1.9"/></g>
<g class="c21"><circle cx="698.4" cy="297.0" r="1.9"/><circle cx="673.8" cy="315.9" r="1.9"/><circle cx="671.6" cy="302.1" r="1.9"/><circle cx="701.9" cy="305.3" r="1.9"/><circle cx="700.0" cy="305.0" r="1.9"/><circle cx="699.8" cy="310.7" r="1.9"/></g>
<g class="c13"><circle cx="558.1" cy="308.7" r="1.9"/><circle cx="604.1" cy="293.9" r="1.9"/><circle cx="597.4" cy="292.8" r="1.9"/><circle cx="574.1" cy="286.2" r="1.9"/><circle cx="565.1" cy="318.7" r="1.9"/><circle cx="591.9" cy="311.3" r="1.9"/></g>
<g class="c29"><circle cx="574.3" cy="229.8" r="1.9"/><circle cx="546.9" cy="225.0" r="1.9"/><circle cx="563.7" cy="232.6" r="1.9"/><circle cx="561.2" cy="223.5" r="1.9"/><circle cx="545.7" cy="220.6" r="1.9"/><circle cx="557.6" cy="221.8" r="1.9"/></g>
<g class="c24"><circle cx="606.3" cy="299.1" r="1.9"/><circle cx="605.8" cy="299.9" r="1.9"/><circle cx="605.8" cy="295.3" r="1.9"/><circle cx="627.5" cy="296.8" r="1.9"/><circle cx="609.6" cy="292.6" r="1.9"/><circle cx="589.4" cy="287.4" r="1.9"/></g>
<g class="c8"><circle cx="650.5" cy="282.7" r="1.9"/><circle cx="699.2" cy="264.8" r="1.9"/><circle cx="696.8" cy="291.2" r="1.9"/><circle cx="667.6" cy="267.3" r="1.9"/><circle cx="672.0" cy="274.8" r="1.9"/><circle cx="653.0" cy="262.5" r="1.9"/></g>
<g class="c21"><circle cx="676.7" cy="304.1" r="1.9"/><circle cx="668.0" cy="307.2" r="1.9"/><circle cx="697.2" cy="309.8" r="1.9"/><circle cx="706.5" cy="313.6" r="1.9"/><circle cx="692.3" cy="299.8" r="1.9"/><circle cx="688.7" cy="316.9" r="1.9"/></g>
<g class="c13"><circle cx="566.8" cy="313.7" r="1.9"/><circle cx="597.6" cy="276.2" r="1.9"/><circle cx="587.0" cy="297.2" r="1.9"/><circle cx="556.1" cy="296.4" r="1.9"/><circle cx="606.1" cy="291.6" r="1.9"/><circle cx="581.2" cy="290.8" r="1.9"/></g>
<g class="c8"><circle cx="662.5" cy="268.3" r="1.9"/><circle cx="710.0" cy="280.7" r="1.9"/><circle cx="672.5" cy="286.5" r="1.9"/><circle cx="634.9" cy="274.0" r="1.9"/><circle cx="667.6" cy="291.6" r="1.9"/><circle cx="679.8" cy="267.3" r="1.9"/></g>
<g class="c13"><circle cx="588.2" cy="252.7" r="1.9"/><circle cx="604.1" cy="253.4" r="1.9"/><circle cx="601.9" cy="255.4" r="1.9"/><circle cx="591.5" cy="258.4" r="1.9"/><circle cx="606.7" cy="256.3" r="1.9"/></g>
<g class="c35"><circle cx="574.4" cy="345.6" r="1.9"/><circle cx="577.5" cy="340.2" r="1.9"/><circle cx="576.2" cy="350.3" r="1.9"/><circle cx="585.5" cy="326.2" r="1.9"/><circle cx="595.5" cy="342.0" r="1.9"/><circle cx="596.6" cy="338.7" r="1.9"/></g>
<polygon points="559.9,219.6 560.8,222.1 563.5,222.2 561.3,223.8 562.1,226.4 559.9,224.8 557.7,226.4 558.5,223.8 556.3,222.2 559.0,222.1" fill="#6d371b" fill-opacity=".85" stroke="#262626" stroke-width=".8"/>
<polygon points="569.9,282.9 570.8,285.5 573.5,285.5 571.3,287.1 572.1,289.7 569.9,288.2 567.7,289.7 568.5,287.1 566.3,285.5 569.0,285.5" fill="#22631d" fill-opacity=".85" stroke="#262626" stroke-width=".8"/>
<polygon points="590.6,289.6 591.4,292.1 594.1,292.2 592.0,293.8 592.8,296.4 590.6,294.8 588.4,296.4 589.1,293.8 587.0,292.2 589.7,292.1" fill="#16496d" fill-opacity=".85" stroke="#262626" stroke-width=".8"/>
<polygon points="598.8,287.4 599.7,289.9 602.3,290.0 600.2,291.6 601.0,294.1 598.8,292.6 596.6,294.1 597.4,291.6 595.2,290.0 597.9,289.9" fill="#a6cee3" fill-opacity=".85" stroke="#262626" stroke-width=".8"/>
<polygon points="672.8,278.0 673.7,280.6 676.3,280.6 674.2,282.2 675.0,284.8 672.8,283.3 670.6,284.8 671.4,282.2 669.2,280.6 671.9,280.6" fill="#861123" fill-opacity=".85" stroke="#262626" stroke-width=".8"/>
<polygon points="695.4,265.8 696.3,268.3 699.0,268.4 696.9,270.0 697.6,272.6 695.4,271.1 693.2,272.6 694.0,270.0 691.9,268.4 694.6,268.3" fill="#c9b1d6" fill-opacity=".85" stroke="#262626" stroke-width=".8"/>
<polygon points="666.1,309.6 667.0,312.1 669.7,312.2 667.5,313.8 668.3,316.4 666.1,314.8 663.9,316.4 664.7,313.8 662.5,312.2 665.2,312.1" fill="#fbbe72" fill-opacity=".85" stroke="#262626" stroke-width=".8"/>
<polygon points="581.4,334.0 582.3,336.6 585.0,336.6 582.9,338.2 583.6,340.8 581.4,339.3 579.2,340.8 580.0,338.2 577.9,336.6 580.6,336.6" fill="#ffff99" fill-opacity=".85" stroke="#262626" stroke-width=".8"/>
<rect x="763.7" y="205.7" width="196.3" height="148.3" fill="#fff" stroke="#929292" stroke-width="1.15"/>
<g class="c2"><circle cx="832.5" cy="295.6" r="1.9"/><circle cx="828.4" cy="332.5" r="1.9"/><circle cx="824.8" cy="318.2" r="1.9"/><circle cx="842.3" cy="320.8" r="1.9"/><circle cx="847.6" cy="294.0" r="1.9"/><circle cx="826.7" cy="313.7" r="1.9"/></g>
<g class="c36"><circle cx="818.4" cy="240.9" r="1.9"/><circle cx="810.5" cy="275.4" r="1.9"/><circle cx="793.0" cy="249.1" r="1.9"/><circle cx="810.6" cy="237.0" r="1.9"/><circle cx="800.4" cy="231.4" r="1.9"/><circle cx="786.1" cy="246.4" r="1.9"/></g>
<g class="c28"><circle cx="859.1" cy="277.3" r="1.9"/><circle cx="878.5" cy="278.2" r="1.9"/><circle cx="872.5" cy="271.9" r="1.9"/><circle cx="885.9" cy="264.8" r="1.9"/></g>
<g class="c2"><circle cx="817.9" cy="342.9" r="1.9"/><circle cx="810.5" cy="335.6" r="1.9"/><circle cx="837.8" cy="342.2" r="1.9"/><circle cx="827.2" cy="297.1" r="1.9"/><circle cx="841.0" cy="338.7" r="1.9"/><circle cx="833.3" cy="316.6" r="1.9"/></g>
<g class="c36"><circle cx="803.5" cy="265.8" r="1.9"/><circle cx="804.7" cy="282.4" r="1.9"/><circle cx="800.0" cy="265.8" r="1.9"/><circle cx="789.5" cy="262.7" r="1.9"/><circle cx="816.1" cy="275.5" r="1.9"/><circle cx="805.7" cy="265.3" r="1.9"/></g>
<g class="c36"><circle cx="793.9" cy="215.1" r="1.9"/><circle cx="797.5" cy="209.2" r="1.9"/><circle cx="791.9" cy="235.6" r="1.9"/><circle cx="808.2" cy="227.0" r="1.9"/><circle cx="782.3" cy="220.5" r="1.9"/><circle cx="798.2" cy="215.0" r="1.9"/></g>
<g class="c15"><circle cx="939.2" cy="260.6" r="1.9"/><circle cx="925.0" cy="279.5" r="1.9"/><circle cx="920.6" cy="279.2" r="1.9"/><circle cx="903.6" cy="279.3" r="1.9"/><circle cx="895.8" cy="243.8" r="1.9"/><circle cx="918.1" cy="277.1" r="1.9"/></g>
<g class="c2"><circle cx="822.8" cy="336.3" r="1.9"/><circle cx="817.0" cy="327.4" r="1.9"/><circle cx="820.6" cy="318.8" r="1.9"/><circle cx="846.2" cy="328.7" r="1.9"/><circle cx="822.0" cy="337.0" r="1.9"/><circle cx="802.9" cy="318.9" r="1.9"/></g>
<g class="c28"><circle cx="852.6" cy="249.1" r="1.9"/><circle cx="858.6" cy="252.2" r="1.9"/><circle cx="856.3" cy="250.8" r="1.9"/><circle cx="854.2" cy="250.0" r="1.9"/><circle cx="859.9" cy="244.4" r="1.9"/></g>
<g class="c2"><circle cx="827.6" cy="319.7" r="1.9"/><circle cx="837.7" cy="314.5" r="1.9"/><circle cx="848.9" cy="312.7" r="1.9"/><circle cx="825.8" cy="315.5" r="1.9"/><circle cx="839.4" cy="328.7" r="1.9"/><circle cx="815.2" cy="328.5" r="1.9"/></g>
<g class="c2"><circle cx="842.4" cy="316.6" r="1.9"/><circle cx="845.9" cy="324.5" r="1.9"/></g>
<g class="c36"><circle cx="810.1" cy="229.6" r="1.9"/><circle cx="802.9" cy="216.8" r="1.9"/><circle cx="791.3" cy="225.0" r="1.9"/><circle cx="786.2" cy="216.0" r="1.9"/><circle cx="791.4" cy="220.6" r="1.9"/><circle cx="788.2" cy="215.3" r="1.9"/></g>
<g class="c28"><circle cx="857.7" cy="280.4" r="1.9"/><circle cx="859.0" cy="276.1" r="1.9"/><circle cx="858.4" cy="277.7" r="1.9"/><circle cx="890.7" cy="270.4" r="1.9"/><circle cx="872.4" cy="269.8" r="1.9"/><circle cx="848.6" cy="283.9" r="1.9"/></g>
<g class="c36"><circle cx="804.9" cy="271.9" r="1.9"/><circle cx="798.8" cy="237.6" r="1.9"/><circle cx="818.3" cy="256.4" r="1.9"/><circle cx="821.1" cy="264.3" r="1.9"/><circle cx="803.4" cy="251.7" r="1.9"/><circle cx="787.3" cy="276.8" r="1.9"/></g>
<g class="c2"><circle cx="848.2" cy="311.8" r="1.9"/><circle cx="836.5" cy="335.8" r="1.9"/><circle cx="818.3" cy="300.0" r="1.9"/><circle cx="835.1" cy="307.9" r="1.9"/><circle cx="821.3" cy="318.4" r="1.9"/><circle cx="815.5" cy="298.1" r="1.9"/></g>
<g class="c36"><circle cx="818.7" cy="274.8" r="1.9"/><circle cx="800.1" cy="277.9" r="1.9"/><circle cx="788.4" cy="272.2" r="1.9"/><circle cx="813.1" cy="238.7" r="1.9"/><circle cx="790.1" cy="260.4" r="1.9"/><circle cx="812.8" cy="290.8" r="1.9"/></g>
<g class="c15"><circle cx="894.2" cy="282.3" r="1.9"/><circle cx="889.0" cy="287.6" r="1.9"/><circle cx="887.8" cy="290.5" r="1.9"/><circle cx="878.5" cy="282.0" r="1.9"/><circle cx="868.1" cy="289.5" r="1.9"/><circle cx="871.7" cy="292.2" r="1.9"/></g>
<g class="c28"><circle cx="864.1" cy="275.6" r="1.9"/><circle cx="861.1" cy="278.6" r="1.9"/><circle cx="884.8" cy="265.0" r="1.9"/><circle cx="845.1" cy="287.2" r="1.9"/><circle cx="861.6" cy="280.4" r="1.9"/><circle cx="826.6" cy="288.1" r="1.9"/></g>
<g class="c2"><circle cx="856.0" cy="322.7" r="1.9"/><circle cx="854.5" cy="319.0" r="1.9"/><circle cx="821.7" cy="301.6" r="1.9"/><circle cx="840.8" cy="340.1" r="1.9"/><circle cx="869.5" cy="316.5" r="1.9"/><circle cx="844.2" cy="314.7" r="1.9"/></g>
<g class="c36"><circle cx="784.2" cy="221.0" r="1.9"/><circle cx="810.2" cy="217.6" r="1.9"/><circle cx="788.4" cy="231.2" r="1.9"/><circle cx="791.7" cy="217.6" r="1.9"/><circle cx="800.4" cy="233.7" r="1.9"/><circle cx="795.3" cy="209.6" r="1.9"/></g>
<g class="c36"><circle cx="803.1" cy="267.6" r="1.9"/><circle cx="812.4" cy="273.3" r="1.9"/><circle cx="807.0" cy="253.5" r="1.9"/><circle cx="817.9" cy="243.2" r="1.9"/><circle cx="797.8" cy="229.7" r="1.9"/><circle cx="792.7" cy="245.4" r="1.9"/></g>
<g class="c36"><circle cx="792.1" cy="281.9" r="1.9"/><circle cx="801.2" cy="250.0" r="1.9"/><circle cx="818.1" cy="242.4" r="1.9"/><circle cx="811.2" cy="264.8" r="1.9"/><circle cx="797.1" cy="269.0" r="1.9"/><circle cx="793.2" cy="269.3" r="1.9"/></g>
<g class="c15"><circle cx="916.3" cy="240.8" r="1.9"/><circle cx="908.6" cy="260.6" r="1.9"/><circle cx="935.2" cy="288.0" r="1.9"/><circle cx="925.3" cy="267.8" r="1.9"/><circle cx="914.4" cy="240.7" r="1.9"/><circle cx="923.5" cy="285.3" r="1.9"/></g>
<g class="c15"><circle cx="936.1" cy="253.3" r="1.9"/><circle cx="869.0" cy="254.5" r="1.9"/><circle cx="932.8" cy="275.9" r="1.9"/><circle cx="893.1" cy="290.5" r="1.9"/><circle cx="938.5" cy="271.8" r="1.9"/><circle cx="922.8" cy="228.2" r="1.9"/></g>
<g class="c36"><circle cx="808.5" cy="223.1" r="1.9"/><circle cx="797.6" cy="221.8" r="1.9"/><circle cx="811.2" cy="220.2" r="1.9"/><circle cx="786.2" cy="232.0" r="1.9"/><circle cx="787.0" cy="215.3" r="1.9"/><circle cx="791.8" cy="220.2" r="1.9"/></g>
<g class="c15"><circle cx="883.1" cy="244.8" r="1.9"/><circle cx="915.1" cy="295.2" r="1.9"/><circle cx="900.6" cy="262.8" r="1.9"/><circle cx="941.1" cy="277.5" r="1.9"/></g>
<g class="c37"><circle cx="849.9" cy="261.1" r="1.9"/><circle cx="815.5" cy="256.3" r="1.9"/><circle cx="835.9" cy="267.4" r="1.9"/><circle cx="823.7" cy="276.5" r="1.9"/><circle cx="855.1" cy="270.8" r="1.9"/><circle cx="836.6" cy="275.7" r="1.9"/></g>
<g class="c15"><circle cx="904.3" cy="312.7" r="1.9"/></g>
<g class="c2"><circle cx="815.7" cy="311.4" r="1.9"/><circle cx="822.6" cy="334.1" r="1.9"/><circle cx="818.3" cy="328.4" r="1.9"/><circle cx="801.1" cy="320.0" r="1.9"/><circle cx="809.7" cy="296.5" r="1.9"/><circle cx="836.5" cy="323.7" r="1.9"/></g>
<g class="c15"><circle cx="917.4" cy="240.8" r="1.9"/><circle cx="919.6" cy="262.1" r="1.9"/><circle cx="900.4" cy="262.3" r="1.9"/><circle cx="940.2" cy="263.1" r="1.9"/><circle cx="919.5" cy="292.4" r="1.9"/><circle cx="935.3" cy="278.1" r="1.9"/></g>
<g class="c2"><circle cx="851.5" cy="323.5" r="1.9"/><circle cx="813.4" cy="320.0" r="1.9"/><circle cx="825.2" cy="318.9" r="1.9"/><circle cx="827.9" cy="315.5" r="1.9"/><circle cx="828.1" cy="343.1" r="1.9"/><circle cx="794.8" cy="317.0" r="1.9"/></g>
<g class="c15"><circle cx="896.8" cy="271.5" r="1.9"/><circle cx="925.2" cy="303.0" r="1.9"/><circle cx="916.7" cy="254.0" r="1.9"/><circle cx="905.8" cy="265.5" r="1.9"/><circle cx="891.9" cy="276.3" r="1.9"/><circle cx="886.7" cy="255.2" r="1.9"/></g>
<g class="c2"><circle cx="837.6" cy="320.7" r="1.9"/><circle cx="834.2" cy="313.1" r="1.9"/><circle cx="832.3" cy="342.3" r="1.9"/><circle cx="826.4" cy="326.6" r="1.9"/><circle cx="819.8" cy="326.0" r="1.9"/><circle cx="827.4" cy="314.3" r="1.9"/></g>
<g class="c38"><circle cx="826.5" cy="227.6" r="1.9"/></g>
<g class="c15"><circle cx="897.6" cy="279.5" r="1.9"/><circle cx="935.5" cy="299.5" r="1.9"/><circle cx="918.9" cy="284.2" r="1.9"/><circle cx="870.5" cy="265.9" r="1.9"/><circle cx="904.5" cy="274.6" r="1.9"/><circle cx="892.9" cy="282.4" r="1.9"/></g>
<g class="c36"><circle cx="804.2" cy="260.3" r="1.9"/><circle cx="808.3" cy="284.7" r="1.9"/><circle cx="807.6" cy="239.0" r="1.9"/><circle cx="807.5" cy="283.4" r="1.9"/><circle cx="797.2" cy="297.7" r="1.9"/><circle cx="812.5" cy="276.2" r="1.9"/></g>
<g class="c2"><circle cx="834.4" cy="329.3" r="1.9"/><circle cx="821.0" cy="315.8" r="1.9"/><circle cx="802.6" cy="341.6" r="1.9"/><circle cx="838.0" cy="332.3" r="1.9"/><circle cx="836.0" cy="298.2" r="1.9"/><circle cx="848.8" cy="323.9" r="1.9"/></g>
<g class="c2"><circle cx="813.3" cy="315.9" r="1.9"/><circle cx="809.8" cy="317.9" r="1.9"/><circle cx="847.2" cy="329.0" r="1.9"/><circle cx="811.3" cy="293.4" r="1.9"/><circle cx="845.7" cy="294.5" r="1.9"/><circle cx="830.8" cy="318.9" r="1.9"/></g>
<g class="c28"><circle cx="865.6" cy="280.7" r="1.9"/><circle cx="876.8" cy="268.4" r="1.9"/><circle cx="848.1" cy="278.3" r="1.9"/><circle cx="860.0" cy="270.6" r="1.9"/><circle cx="902.9" cy="269.1" r="1.9"/><circle cx="868.0" cy="279.2" r="1.9"/></g>
<g class="c37"><circle cx="836.4" cy="261.5" r="1.9"/><circle cx="841.4" cy="270.1" r="1.9"/><circle cx="839.7" cy="280.5" r="1.9"/><circle cx="829.2" cy="273.3" r="1.9"/><circle cx="840.2" cy="271.3" r="1.9"/><circle cx="818.3" cy="273.6" r="1.9"/></g>
<g class="c2"><circle cx="831.2" cy="334.0" r="1.9"/><circle cx="858.4" cy="317.4" r="1.9"/><circle cx="819.5" cy="293.5" r="1.9"/><circle cx="840.1" cy="321.0" r="1.9"/><circle cx="840.3" cy="348.9" r="1.9"/><circle cx="831.7" cy="333.1" r="1.9"/></g>
<g class="c36"><circle cx="814.9" cy="271.7" r="1.9"/><circle cx="795.4" cy="262.5" r="1.9"/><circle cx="789.0" cy="267.6" r="1.9"/><circle cx="811.3" cy="269.6" r="1.9"/><circle cx="796.1" cy="288.8" r="1.9"/><circle cx="809.4" cy="235.5" r="1.9"/></g>
<g class="c37"><circle cx="839.2" cy="267.8" r="1.9"/><circle cx="845.0" cy="276.4" r="1.9"/></g>
<g class="c38"><circle cx="842.0" cy="233.3" r="1.9"/></g>
<g class="c36"><circle cx="825.6" cy="252.2" r="1.9"/><circle cx="802.1" cy="272.6" r="1.9"/><circle cx="797.7" cy="266.5" r="1.9"/><circle cx="792.6" cy="270.8" r="1.9"/><circle cx="813.4" cy="292.3" r="1.9"/><circle cx="812.7" cy="283.0" r="1.9"/></g>
<g class="c2"><circle cx="835.7" cy="308.4" r="1.9"/><circle cx="808.4" cy="315.8" r="1.9"/><circle cx="835.0" cy="324.8" r="1.9"/><circle cx="823.3" cy="340.4" r="1.9"/><circle cx="817.4" cy="327.1" r="1.9"/><circle cx="868.5" cy="323.3" r="1.9"/></g>
<g class="c2"><circle cx="837.6" cy="308.2" r="1.9"/><circle cx="832.8" cy="307.7" r="1.9"/><circle cx="818.2" cy="326.4" r="1.9"/><circle cx="813.6" cy="346.0" r="1.9"/><circle cx="844.8" cy="295.8" r="1.9"/><circle cx="829.5" cy="337.6" r="1.9"/></g>
<g class="c36"><circle cx="799.6" cy="278.5" r="1.9"/><circle cx="795.0" cy="276.0" r="1.9"/><circle cx="804.7" cy="285.8" r="1.9"/><circle cx="810.3" cy="288.1" r="1.9"/><circle cx="813.7" cy="253.6" r="1.9"/><circle cx="814.8" cy="259.1" r="1.9"/></g>
<g class="c36"><circle cx="806.5" cy="252.6" r="1.9"/><circle cx="809.7" cy="276.7" r="1.9"/><circle cx="798.5" cy="283.8" r="1.9"/><circle cx="800.9" cy="254.3" r="1.9"/><circle cx="793.0" cy="231.0" r="1.9"/><circle cx="818.6" cy="294.1" r="1.9"/></g>
<g class="c15"><circle cx="934.1" cy="268.7" r="1.9"/><circle cx="887.1" cy="253.7" r="1.9"/><circle cx="941.4" cy="272.8" r="1.9"/><circle cx="895.9" cy="262.1" r="1.9"/><circle cx="890.2" cy="249.4" r="1.9"/><circle cx="930.2" cy="258.8" r="1.9"/></g>
<g class="c15"><circle cx="939.1" cy="243.8" r="1.9"/><circle cx="909.7" cy="232.8" r="1.9"/><circle cx="923.2" cy="261.1" r="1.9"/><circle cx="938.5" cy="272.0" r="1.9"/><circle cx="917.3" cy="264.3" r="1.9"/><circle cx="957.0" cy="277.8" r="1.9"/></g>
<g class="c36"><circle cx="804.1" cy="275.3" r="1.9"/><circle cx="788.7" cy="282.8" r="1.9"/><circle cx="795.0" cy="283.2" r="1.9"/><circle cx="806.2" cy="249.4" r="1.9"/><circle cx="803.7" cy="263.3" r="1.9"/><circle cx="806.1" cy="280.1" r="1.9"/></g>
<g class="c2"><circle cx="801.4" cy="320.7" r="1.9"/><circle cx="843.5" cy="324.1" r="1.9"/><circle cx="819.2" cy="332.0" r="1.9"/><circle cx="805.9" cy="309.1" r="1.9"/><circle cx="818.6" cy="329.7" r="1.9"/><circle cx="841.1" cy="290.4" r="1.9"/></g>
<g class="c36"><circle cx="789.8" cy="251.7" r="1.9"/><circle cx="787.9" cy="252.5" r="1.9"/><circle cx="801.4" cy="225.2" r="1.9"/><circle cx="806.5" cy="251.3" r="1.9"/><circle cx="794.1" cy="280.0" r="1.9"/><circle cx="785.3" cy="264.0" r="1.9"/></g>
<g class="c15"><circle cx="895.3" cy="270.9" r="1.9"/><circle cx="893.8" cy="282.7" r="1.9"/><circle cx="913.0" cy="252.5" r="1.9"/><circle cx="926.1" cy="235.0" r="1.9"/><circle cx="900.8" cy="238.7" r="1.9"/><circle cx="920.4" cy="267.6" r="1.9"/></g>
<g class="c38"><circle cx="772.8" cy="230.7" r="1.9"/></g>
<g class="c2"><circle cx="836.6" cy="332.9" r="1.9"/><circle cx="849.0" cy="322.1" r="1.9"/><circle cx="820.6" cy="312.3" r="1.9"/><circle cx="825.9" cy="320.9" r="1.9"/><circle cx="799.9" cy="308.9" r="1.9"/><circle cx="805.9" cy="309.6" r="1.9"/></g>
<g class="c36"><circle cx="812.8" cy="261.1" r="1.9"/><circle cx="800.9" cy="230.5" r="1.9"/><circle cx="799.5" cy="292.4" r="1.9"/><circle cx="809.3" cy="245.1" r="1.9"/></g>
<g class="c36"><circle cx="789.8" cy="255.7" r="1.9"/><circle cx="798.1" cy="274.8" r="1.9"/><circle cx="797.4" cy="277.9" r="1.9"/><circle cx="784.4" cy="268.1" r="1.9"/><circle cx="800.4" cy="276.5" r="1.9"/><circle cx="796.6" cy="239.3" r="1.9"/></g>
<g class="c2"><circle cx="807.7" cy="328.4" r="1.9"/><circle cx="814.0" cy="333.4" r="1.9"/><circle cx="848.9" cy="294.0" r="1.9"/><circle cx="791.1" cy="329.6" r="1.9"/><circle cx="816.4" cy="338.7" r="1.9"/><circle cx="852.8" cy="302.7" r="1.9"/></g>
<g class="c15"><circle cx="925.9" cy="275.5" r="1.9"/><circle cx="941.5" cy="262.0" r="1.9"/><circle cx="899.0" cy="284.6" r="1.9"/><circle cx="910.7" cy="260.1" r="1.9"/><circle cx="890.7" cy="259.3" r="1.9"/><circle cx="917.6" cy="261.0" r="1.9"/></g>
<g class="c2"><circle cx="817.4" cy="333.8" r="1.9"/><circle cx="827.7" cy="325.3" r="1.9"/><circle cx="844.6" cy="328.2" r="1.9"/><circle cx="850.5" cy="294.7" r="1.9"/><circle cx="825.8" cy="296.8" r="1.9"/><circle cx="820.5" cy="294.7" r="1.9"/></g>
<polygon points="806.6,251.8 807.4,254.3 810.1,254.4 808.0,256.0 808.8,258.6 806.6,257.1 804.4,258.6 805.1,256.0 803.0,254.4 805.7,254.3" fill="#f79cab" fill-opacity=".85" stroke="#262626" stroke-width=".8"/>
<polygon points="870.3,271.4 871.2,273.9 873.9,274.0 871.8,275.6 872.5,278.1 870.3,276.6 868.1,278.1 868.9,275.6 866.8,274.0 869.5,273.9" fill="#a6cee3" fill-opacity=".85" stroke="#262626" stroke-width=".8"/>
<polygon points="909.7,261.8 910.5,264.3 913.2,264.4 911.1,266.0 911.9,268.6 909.7,267.1 907.5,268.6 908.2,266.0 906.1,264.4 908.8,264.3" fill="#6d371b" fill-opacity=".85" stroke="#262626" stroke-width=".8"/>
<polygon points="831.9,311.1 832.8,313.7 835.5,313.7 833.3,315.4 834.1,317.9 831.9,316.4 829.7,317.9 830.5,315.4 828.3,313.7 831.0,313.7" fill="#c9b1d6" fill-opacity=".85" stroke="#262626" stroke-width=".8"/>
<rect x="991.0" y="205.8" width="199.0" height="148.2" fill="#fff" stroke="#929292" stroke-width="1.15"/>
<g class="c21"><circle cx="1002.4" cy="264.5" r="1.9"/><circle cx="1040.2" cy="289.0" r="1.9"/><circle cx="1036.0" cy="293.6" r="1.9"/><circle cx="1030.2" cy="245.8" r="1.9"/><circle cx="1030.3" cy="273.4" r="1.9"/><circle cx="1015.3" cy="263.1" r="1.9"/></g>
<g class="c8"><circle cx="1134.4" cy="256.7" r="1.9"/><circle cx="1123.3" cy="240.0" r="1.9"/><circle cx="1098.3" cy="247.5" r="1.9"/><circle cx="1112.0" cy="228.6" r="1.9"/><circle cx="1114.1" cy="239.4" r="1.9"/><circle cx="1092.5" cy="233.7" r="1.9"/></g>
<g class="c26"><circle cx="1135.8" cy="276.3" r="1.9"/><circle cx="1114.9" cy="277.2" r="1.9"/><circle cx="1162.6" cy="299.7" r="1.9"/><circle cx="1120.5" cy="291.4" r="1.9"/><circle cx="1115.7" cy="292.9" r="1.9"/><circle cx="1109.0" cy="295.7" r="1.9"/></g>
<g class="c26"><circle cx="1122.8" cy="282.3" r="1.9"/><circle cx="1101.8" cy="275.2" r="1.9"/><circle cx="1106.8" cy="283.2" r="1.9"/><circle cx="1129.8" cy="304.8" r="1.9"/><circle cx="1108.0" cy="288.5" r="1.9"/><circle cx="1090.1" cy="295.8" r="1.9"/></g>
<g class="c39"><circle cx="1077.2" cy="331.0" r="1.9"/><circle cx="1065.3" cy="301.1" r="1.9"/><circle cx="1076.6" cy="307.5" r="1.9"/><circle cx="1025.3" cy="315.1" r="1.9"/><circle cx="1055.7" cy="311.8" r="1.9"/><circle cx="1081.3" cy="323.1" r="1.9"/></g>
<g class="c21"><circle cx="1014.8" cy="263.5" r="1.9"/><circle cx="1014.7" cy="299.9" r="1.9"/><circle cx="1048.7" cy="264.9" r="1.9"/><circle cx="1039.8" cy="264.1" r="1.9"/><circle cx="1041.9" cy="277.0" r="1.9"/><circle cx="1034.0" cy="270.6" r="1.9"/></g>
<g class="c39"><circle cx="1045.1" cy="319.5" r="1.9"/><circle cx="1033.4" cy="304.4" r="1.9"/><circle cx="1052.5" cy="342.8" r="1.9"/><circle cx="1085.8" cy="315.1" r="1.9"/><circle cx="1025.1" cy="322.9" r="1.9"/><circle cx="1037.1" cy="314.1" r="1.9"/></g>
<g class="c26"><circle cx="1094.5" cy="300.1" r="1.9"/><circle cx="1105.7" cy="302.0" r="1.9"/><circle cx="1127.1" cy="293.9" r="1.9"/><circle cx="1104.4" cy="274.6" r="1.9"/><circle cx="1116.1" cy="276.1" r="1.9"/><circle cx="1144.1" cy="291.6" r="1.9"/></g>
<g class="c13"><circle cx="1046.0" cy="269.8" r="1.9"/><circle cx="1027.5" cy="277.6" r="1.9"/><circle cx="1041.6" cy="269.1" r="1.9"/><circle cx="1036.9" cy="269.8" r="1.9"/><circle cx="1066.1" cy="300.9" r="1.9"/><circle cx="1062.7" cy="283.0" r="1.9"/></g>
<g class="c41"><circle cx="1143.3" cy="315.1" r="1.9"/><circle cx="1154.4" cy="314.9" r="1.9"/><circle cx="1134.5" cy="318.3" r="1.9"/><circle cx="1161.6" cy="323.8" r="1.9"/></g>
<g class="c26"><circle cx="1131.5" cy="308.8" r="1.9"/><circle cx="1123.9" cy="268.6" r="1.9"/><circle cx="1146.8" cy="291.2" r="1.9"/><circle cx="1137.0" cy="292.1" r="1.9"/><circle cx="1099.3" cy="277.3" r="1.9"/><circle cx="1101.8" cy="280.9" r="1.9"/></g>
<g class="c26"><circle cx="1151.6" cy="275.2" r="1.9"/><circle cx="1103.9" cy="284.1" r="1.9"/><circle cx="1145.5" cy="301.1" r="1.9"/><circle cx="1141.6" cy="300.6" r="1.9"/><circle cx="1127.8" cy="284.5" r="1.9"/><circle cx="1104.8" cy="285.5" r="1.9"/></g>
<g class="c41"><circle cx="1156.0" cy="324.7" r="1.9"/><circle cx="1128.0" cy="314.5" r="1.9"/><circle cx="1161.2" cy="297.5" r="1.9"/><circle cx="1144.1" cy="307.0" r="1.9"/><circle cx="1150.9" cy="305.3" r="1.9"/><circle cx="1144.6" cy="331.3" r="1.9"/></g>
<g class="c41"><circle cx="1168.2" cy="314.8" r="1.9"/><circle cx="1153.1" cy="324.3" r="1.9"/><circle cx="1163.5" cy="319.7" r="1.9"/><circle cx="1146.0" cy="319.9" r="1.9"/><circle cx="1166.4" cy="310.1" r="1.9"/><circle cx="1127.7" cy="307.3" r="1.9"/></g>
<g class="c2"><circle cx="1052.1" cy="338.6" r="1.9"/><circle cx="1056.1" cy="339.5" r="1.9"/></g>
<g class="c7"><circle cx="1071.1" cy="240.3" r="1.9"/></g>
<g class="c13"><circle cx="1057.2" cy="289.1" r="1.9"/><circle cx="1032.4" cy="282.3" r="1.9"/><circle cx="1075.1" cy="304.3" r="1.9"/><circle cx="1061.2" cy="257.9" r="1.9"/><circle cx="1030.4" cy="283.2" r="1.9"/><circle cx="1055.6" cy="259.3" r="1.9"/></g>
<g class="c21"><circle cx="1017.3" cy="244.8" r="1.9"/><circle cx="1020.6" cy="280.8" r="1.9"/><circle cx="1045.1" cy="252.1" r="1.9"/><circle cx="1016.0" cy="246.3" r="1.9"/><circle cx="1009.5" cy="256.2" r="1.9"/><circle cx="1020.9" cy="267.0" r="1.9"/></g>
<g class="c8"><circle cx="1113.9" cy="225.3" r="1.9"/><circle cx="1131.1" cy="212.5" r="1.9"/><circle cx="1136.5" cy="247.4" r="1.9"/><circle cx="1131.2" cy="230.1" r="1.9"/><circle cx="1111.2" cy="243.7" r="1.9"/><circle cx="1118.8" cy="230.8" r="1.9"/></g>
<g class="c40"><circle cx="1045.0" cy="255.0" r="1.9"/><circle cx="1042.2" cy="262.5" r="1.9"/><circle cx="1044.5" cy="257.0" r="1.9"/><circle cx="1041.4" cy="260.7" r="1.9"/><circle cx="1039.9" cy="261.9" r="1.9"/><circle cx="1041.4" cy="252.5" r="1.9"/></g>
<g class="c8"><circle cx="1127.4" cy="247.6" r="1.9"/><circle cx="1121.4" cy="216.8" r="1.9"/><circle cx="1103.1" cy="236.0" r="1.9"/><circle cx="1123.9" cy="222.2" r="1.9"/><circle cx="1101.5" cy="244.9" r="1.9"/><circle cx="1106.7" cy="245.3" r="1.9"/></g>
<g class="c39"><circle cx="1095.5" cy="304.8" r="1.9"/><circle cx="1070.1" cy="316.1" r="1.9"/><circle cx="1071.5" cy="299.5" r="1.9"/><circle cx="1052.7" cy="340.8" r="1.9"/><circle cx="1053.3" cy="318.7" r="1.9"/><circle cx="1079.1" cy="342.3" r="1.9"/></g>
<g class="c21"><circle cx="1024.0" cy="280.2" r="1.9"/><circle cx="1041.3" cy="276.0" r="1.9"/><circle cx="1013.3" cy="250.2" r="1.9"/><circle cx="1018.8" cy="269.4" r="1.9"/><circle cx="1014.5" cy="251.7" r="1.9"/><circle cx="1040.1" cy="280.7" r="1.9"/></g>
<g class="c13"><circle cx="1086.1" cy="290.9" r="1.9"/><circle cx="1053.4" cy="270.5" r="1.9"/><circle cx="1072.1" cy="280.9" r="1.9"/><circle cx="1069.1" cy="292.1" r="1.9"/><circle cx="1047.9" cy="303.0" r="1.9"/><circle cx="1031.2" cy="299.8" r="1.9"/></g>
<g class="c41"><circle cx="1109.5" cy="314.1" r="1.9"/><circle cx="1111.4" cy="328.3" r="1.9"/><circle cx="1091.5" cy="316.9" r="1.9"/><circle cx="1130.6" cy="337.1" r="1.9"/><circle cx="1154.3" cy="313.7" r="1.9"/><circle cx="1144.6" cy="313.2" r="1.9"/></g>
<g class="c26"><circle cx="1161.2" cy="293.2" r="1.9"/><circle cx="1115.8" cy="298.9" r="1.9"/><circle cx="1130.5" cy="285.0" r="1.9"/><circle cx="1092.1" cy="279.2" r="1.9"/><circle cx="1125.7" cy="271.6" r="1.9"/><circle cx="1132.3" cy="288.5" r="1.9"/></g>
<g class="c13"><circle cx="1078.6" cy="260.3" r="1.9"/><circle cx="1085.6" cy="278.2" r="1.9"/><circle cx="1046.1" cy="300.1" r="1.9"/><circle cx="1093.9" cy="281.2" r="1.9"/></g>
<g class="c13"><circle cx="1060.6" cy="285.7" r="1.9"/><circle cx="1025.9" cy="277.7" r="1.9"/><circle cx="1032.9" cy="283.6" r="1.9"/><circle cx="1041.4" cy="307.7" r="1.9"/><circle cx="1063.9" cy="296.1" r="1.9"/><circle cx="1049.5" cy="265.2" r="1.9"/></g>
<g class="c19"><circle cx="1145.8" cy="314.7" r="1.9"/><circle cx="1145.8" cy="315.4" r="1.9"/></g>
<g class="c21"><circle cx="1036.7" cy="267.2" r="1.9"/><circle cx="1049.7" cy="259.4" r="1.9"/><circle cx="1030.8" cy="266.5" r="1.9"/><circle cx="1052.8" cy="269.8" r="1.9"/><circle cx="1034.3" cy="288.3" r="1.9"/><circle cx="1025.6" cy="275.7" r="1.9"/></g>
<g class="c41"><circle cx="1126.2" cy="315.9" r="1.9"/><circle cx="1130.5" cy="337.8" r="1.9"/><circle cx="1097.8" cy="316.2" r="1.9"/><circle cx="1125.6" cy="308.8" r="1.9"/><circle cx="1143.3" cy="319.8" r="1.9"/><circle cx="1165.6" cy="331.2" r="1.9"/></g>
<g class="c10"><circle cx="1095.0" cy="267.8" r="1.9"/></g>
<g class="c13"><circle cx="1050.9" cy="311.6" r="1.9"/><circle cx="1060.2" cy="271.7" r="1.9"/><circle cx="1041.7" cy="308.4" r="1.9"/><circle cx="1079.8" cy="274.7" r="1.9"/><circle cx="1064.6" cy="293.9" r="1.9"/><circle cx="1047.7" cy="295.5" r="1.9"/></g>
<g class="c21"><circle cx="1042.1" cy="260.0" r="1.9"/><circle cx="1013.3" cy="271.1" r="1.9"/><circle cx="1034.3" cy="284.8" r="1.9"/><circle cx="1001.0" cy="257.0" r="1.9"/><circle cx="1041.6" cy="266.7" r="1.9"/><circle cx="1033.9" cy="266.8" r="1.9"/></g>
<g class="c13"><circle cx="1048.5" cy="296.4" r="1.9"/><circle cx="1055.8" cy="291.3" r="1.9"/><circle cx="1044.1" cy="268.1" r="1.9"/><circle cx="1074.8" cy="276.1" r="1.9"/><circle cx="1047.2" cy="308.9" r="1.9"/><circle cx="1061.0" cy="291.9" r="1.9"/></g>
<g class="c13"><circle cx="1030.0" cy="272.8" r="1.9"/><circle cx="1047.6" cy="268.4" r="1.9"/><circle cx="1045.7" cy="274.3" r="1.9"/><circle cx="1054.7" cy="257.6" r="1.9"/><circle cx="1028.9" cy="287.5" r="1.9"/><circle cx="1067.4" cy="291.2" r="1.9"/></g>
<g class="c13"><circle cx="1052.8" cy="280.6" r="1.9"/><circle cx="1068.7" cy="299.2" r="1.9"/><circle cx="1048.4" cy="264.1" r="1.9"/><circle cx="1078.5" cy="293.6" r="1.9"/><circle cx="1044.6" cy="284.9" r="1.9"/><circle cx="1069.4" cy="275.5" r="1.9"/></g>
<g class="c8"><circle cx="1131.7" cy="223.2" r="1.9"/><circle cx="1114.4" cy="246.8" r="1.9"/><circle cx="1112.4" cy="235.4" r="1.9"/><circle cx="1135.3" cy="216.7" r="1.9"/><circle cx="1118.8" cy="222.5" r="1.9"/><circle cx="1099.3" cy="223.2" r="1.9"/></g>
<g class="c13"><circle cx="1036.4" cy="291.0" r="1.9"/><circle cx="1073.1" cy="264.9" r="1.9"/><circle cx="1049.3" cy="279.4" r="1.9"/><circle cx="1045.3" cy="272.2" r="1.9"/><circle cx="1065.5" cy="310.9" r="1.9"/><circle cx="1029.9" cy="270.3" r="1.9"/></g>
<g class="c39"><circle cx="1081.5" cy="315.3" r="1.9"/><circle cx="1045.2" cy="319.1" r="1.9"/><circle cx="1072.6" cy="324.9" r="1.9"/><circle cx="1065.6" cy="333.0" r="1.9"/><circle cx="1050.4" cy="332.1" r="1.9"/><circle cx="1054.2" cy="324.8" r="1.9"/></g>
<g class="c21"><circle cx="1001.6" cy="270.0" r="1.9"/><circle cx="1036.3" cy="262.6" r="1.9"/><circle cx="1011.5" cy="265.1" r="1.9"/><circle cx="1044.7" cy="277.3" r="1.9"/><circle cx="1026.0" cy="274.0" r="1.9"/><circle cx="1016.8" cy="264.6" r="1.9"/></g>
<g class="c26"><circle cx="1086.7" cy="295.5" r="1.9"/><circle cx="1102.2" cy="288.7" r="1.9"/><circle cx="1108.9" cy="307.6" r="1.9"/><circle cx="1088.7" cy="288.6" r="1.9"/><circle cx="1110.9" cy="273.8" r="1.9"/><circle cx="1105.6" cy="284.5" r="1.9"/></g>
<g class="c21"><circle cx="1011.4" cy="263.8" r="1.9"/><circle cx="1039.5" cy="241.0" r="1.9"/><circle cx="1024.4" cy="269.0" r="1.9"/><circle cx="1032.8" cy="296.3" r="1.9"/><circle cx="1023.9" cy="295.7" r="1.9"/><circle cx="1041.6" cy="292.4" r="1.9"/></g>
<g class="c39"><circle cx="1024.7" cy="310.3" r="1.9"/><circle cx="1052.9" cy="312.6" r="1.9"/><circle cx="1054.8" cy="329.6" r="1.9"/><circle cx="1059.9" cy="329.7" r="1.9"/><circle cx="1070.0" cy="329.0" r="1.9"/><circle cx="1024.8" cy="317.4" r="1.9"/></g>
<g class="c42"><circle cx="1140.5" cy="285.7" r="1.9"/></g>
<g class="c41"><circle cx="1170.5" cy="328.5" r="1.9"/><circle cx="1162.9" cy="329.2" r="1.9"/><circle cx="1108.4" cy="305.3" r="1.9"/><circle cx="1122.6" cy="295.1" r="1.9"/><circle cx="1168.0" cy="329.2" r="1.9"/><circle cx="1157.4" cy="315.0" r="1.9"/></g>
<g class="c8"><circle cx="1134.5" cy="268.3" r="1.9"/><circle cx="1134.5" cy="269.2" r="1.9"/><circle cx="1135.1" cy="267.3" r="1.9"/></g>
<g class="c41"><circle cx="1141.3" cy="314.7" r="1.9"/><circle cx="1163.5" cy="309.2" r="1.9"/><circle cx="1169.8" cy="322.1" r="1.9"/><circle cx="1136.4" cy="320.1" r="1.9"/><circle cx="1150.4" cy="314.2" r="1.9"/><circle cx="1133.6" cy="332.2" r="1.9"/></g>
<g class="c41"><circle cx="1157.0" cy="300.5" r="1.9"/><circle cx="1090.9" cy="305.7" r="1.9"/><circle cx="1168.6" cy="291.3" r="1.9"/><circle cx="1131.1" cy="293.5" r="1.9"/><circle cx="1120.2" cy="306.1" r="1.9"/><circle cx="1101.2" cy="312.9" r="1.9"/></g>
<g class="c41"><circle cx="1145.0" cy="306.2" r="1.9"/><circle cx="1178.2" cy="331.6" r="1.9"/><circle cx="1113.4" cy="326.1" r="1.9"/><circle cx="1175.7" cy="324.3" r="1.9"/><circle cx="1090.1" cy="320.5" r="1.9"/><circle cx="1120.1" cy="313.6" r="1.9"/></g>
<g class="c8"><circle cx="1132.9" cy="233.4" r="1.9"/><circle cx="1132.2" cy="248.0" r="1.9"/><circle cx="1100.0" cy="252.0" r="1.9"/><circle cx="1108.5" cy="234.1" r="1.9"/><circle cx="1150.1" cy="248.6" r="1.9"/><circle cx="1101.7" cy="223.2" r="1.9"/></g>
<g class="c8"><circle cx="1130.7" cy="240.7" r="1.9"/><circle cx="1088.7" cy="234.1" r="1.9"/><circle cx="1139.1" cy="225.3" r="1.9"/><circle cx="1128.8" cy="214.5" r="1.9"/><circle cx="1150.3" cy="230.8" r="1.9"/><circle cx="1126.0" cy="235.1" r="1.9"/></g>
<g class="c21"><circle cx="1011.6" cy="277.5" r="1.9"/><circle cx="1011.3" cy="288.5" r="1.9"/><circle cx="1028.1" cy="256.1" r="1.9"/><circle cx="1015.5" cy="275.7" r="1.9"/><circle cx="1015.9" cy="262.2" r="1.9"/><circle cx="1050.8" cy="286.8" r="1.9"/></g>
<g class="c13"><circle cx="1063.0" cy="306.5" r="1.9"/><circle cx="1023.5" cy="288.5" r="1.9"/><circle cx="1059.8" cy="309.8" r="1.9"/><circle cx="1051.2" cy="268.6" r="1.9"/><circle cx="1043.7" cy="294.8" r="1.9"/><circle cx="1061.0" cy="296.1" r="1.9"/></g>
<g class="c21"><circle cx="998.7" cy="257.4" r="1.9"/><circle cx="1003.5" cy="277.2" r="1.9"/><circle cx="1025.7" cy="295.7" r="1.9"/><circle cx="1035.7" cy="266.7" r="1.9"/><circle cx="1010.6" cy="270.2" r="1.9"/></g>
<g class="c8"><circle cx="1110.2" cy="216.1" r="1.9"/><circle cx="1094.1" cy="253.0" r="1.9"/><circle cx="1081.4" cy="232.3" r="1.9"/><circle cx="1152.5" cy="229.1" r="1.9"/><circle cx="1121.2" cy="224.0" r="1.9"/><circle cx="1087.0" cy="249.3" r="1.9"/></g>
<g class="c21"><circle cx="1020.3" cy="280.1" r="1.9"/><circle cx="1023.5" cy="270.7" r="1.9"/><circle cx="1020.4" cy="277.1" r="1.9"/><circle cx="1026.0" cy="253.0" r="1.9"/><circle cx="1018.8" cy="261.5" r="1.9"/><circle cx="1031.6" cy="236.5" r="1.9"/></g>
<g class="c13"><circle cx="1070.5" cy="304.8" r="1.9"/><circle cx="1048.8" cy="302.5" r="1.9"/><circle cx="1054.9" cy="281.4" r="1.9"/><circle cx="1037.8" cy="306.8" r="1.9"/><circle cx="1045.0" cy="262.9" r="1.9"/><circle cx="1064.0" cy="297.0" r="1.9"/></g>
<g class="c39"><circle cx="1065.3" cy="327.6" r="1.9"/><circle cx="1047.8" cy="322.4" r="1.9"/><circle cx="1035.1" cy="325.2" r="1.9"/><circle cx="1073.2" cy="317.6" r="1.9"/><circle cx="1054.5" cy="311.8" r="1.9"/><circle cx="1059.7" cy="312.5" r="1.9"/></g>
<g class="c8"><circle cx="1120.6" cy="241.6" r="1.9"/><circle cx="1091.2" cy="231.0" r="1.9"/><circle cx="1123.7" cy="221.8" r="1.9"/><circle cx="1131.3" cy="248.9" r="1.9"/><circle cx="1126.5" cy="223.7" r="1.9"/><circle cx="1157.6" cy="251.1" r="1.9"/></g>
<g class="c13"><circle cx="1057.9" cy="296.8" r="1.9"/><circle cx="1039.4" cy="270.8" r="1.9"/><circle cx="1059.1" cy="285.3" r="1.9"/><circle cx="1063.8" cy="296.2" r="1.9"/><circle cx="1034.1" cy="283.0" r="1.9"/><circle cx="1036.1" cy="273.8" r="1.9"/></g>
<g class="c21"><circle cx="1048.1" cy="273.7" r="1.9"/><circle cx="1018.0" cy="292.8" r="1.9"/><circle cx="1009.6" cy="258.8" r="1.9"/><circle cx="1028.4" cy="261.4" r="1.9"/><circle cx="1046.0" cy="293.7" r="1.9"/><circle cx="1028.4" cy="244.8" r="1.9"/></g>
<g class="c21"><circle cx="1031.9" cy="294.2" r="1.9"/><circle cx="1032.5" cy="244.5" r="1.9"/><circle cx="1028.9" cy="291.3" r="1.9"/><circle cx="1033.5" cy="274.1" r="1.9"/><circle cx="1003.1" cy="276.6" r="1.9"/><circle cx="1021.4" cy="252.6" r="1.9"/></g>
<g class="c26"><circle cx="1110.5" cy="310.3" r="1.9"/></g>
<g class="c39"><circle cx="1058.1" cy="303.6" r="1.9"/><circle cx="1078.8" cy="321.0" r="1.9"/><circle cx="1053.3" cy="340.8" r="1.9"/><circle cx="1073.4" cy="335.7" r="1.9"/><circle cx="1057.0" cy="317.1" r="1.9"/><circle cx="1051.6" cy="301.0" r="1.9"/></g>
<g class="c8"><circle cx="1127.7" cy="238.6" r="1.9"/><circle cx="1138.8" cy="224.0" r="1.9"/><circle cx="1110.9" cy="219.5" r="1.9"/><circle cx="1076.8" cy="241.7" r="1.9"/><circle cx="1107.5" cy="232.6" r="1.9"/><circle cx="1117.5" cy="244.5" r="1.9"/></g>
<g class="c8"><circle cx="1123.9" cy="244.8" r="1.9"/><circle cx="1125.0" cy="238.7" r="1.9"/><circle cx="1112.5" cy="250.1" r="1.9"/><circle cx="1136.8" cy="233.0" r="1.9"/><circle cx="1125.7" cy="243.9" r="1.9"/><circle cx="1154.9" cy="226.9" r="1.9"/></g>
<g class="c8"><circle cx="1122.7" cy="213.8" r="1.9"/><circle cx="1107.1" cy="214.1" r="1.9"/><circle cx="1104.5" cy="220.4" r="1.9"/><circle cx="1125.0" cy="248.1" r="1.9"/><circle cx="1152.0" cy="253.8" r="1.9"/><circle cx="1142.4" cy="224.3" r="1.9"/></g>
<g class="c21"><circle cx="1035.9" cy="259.4" r="1.9"/><circle cx="1041.7" cy="273.2" r="1.9"/><circle cx="1046.6" cy="264.5" r="1.9"/><circle cx="1032.4" cy="247.3" r="1.9"/><circle cx="1030.8" cy="273.8" r="1.9"/><circle cx="1007.9" cy="256.2" r="1.9"/></g>
<g class="c8"><circle cx="1117.1" cy="238.7" r="1.9"/><circle cx="1116.9" cy="246.0" r="1.9"/><circle cx="1135.0" cy="239.7" r="1.9"/><circle cx="1128.1" cy="245.5" r="1.9"/><circle cx="1142.2" cy="250.3" r="1.9"/><circle cx="1131.8" cy="213.7" r="1.9"/></g>
<g class="c41"><circle cx="1160.5" cy="306.3" r="1.9"/><circle cx="1127.1" cy="326.3" r="1.9"/><circle cx="1145.8" cy="313.6" r="1.9"/><circle cx="1133.4" cy="298.3" r="1.9"/><circle cx="1126.8" cy="312.1" r="1.9"/><circle cx="1117.6" cy="301.6" r="1.9"/></g>
<g class="c21"><circle cx="1042.7" cy="270.0" r="1.9"/><circle cx="1016.7" cy="284.5" r="1.9"/><circle cx="1026.2" cy="246.3" r="1.9"/><circle cx="1025.1" cy="291.7" r="1.9"/><circle cx="1039.0" cy="274.9" r="1.9"/><circle cx="1015.0" cy="247.8" r="1.9"/></g>
<g class="c40"><circle cx="1041.1" cy="256.4" r="1.9"/><circle cx="1051.3" cy="261.1" r="1.9"/></g>
<g class="c39"><circle cx="1035.4" cy="301.4" r="1.9"/><circle cx="1047.6" cy="295.3" r="1.9"/><circle cx="1055.3" cy="315.2" r="1.9"/><circle cx="1067.0" cy="309.4" r="1.9"/><circle cx="1067.3" cy="297.5" r="1.9"/><circle cx="1068.6" cy="324.5" r="1.9"/></g>
<g class="c41"><circle cx="1157.5" cy="303.3" r="1.9"/><circle cx="1111.0" cy="334.5" r="1.9"/><circle cx="1175.4" cy="310.0" r="1.9"/><circle cx="1142.2" cy="310.7" r="1.9"/><circle cx="1169.3" cy="315.9" r="1.9"/><circle cx="1150.0" cy="314.7" r="1.9"/></g>
<g class="c5"><circle cx="1036.3" cy="225.6" r="1.9"/></g>
<g class="c8"><circle cx="1147.6" cy="240.5" r="1.9"/><circle cx="1103.2" cy="251.7" r="1.9"/><circle cx="1135.1" cy="233.1" r="1.9"/><circle cx="1144.0" cy="240.1" r="1.9"/><circle cx="1114.9" cy="222.7" r="1.9"/><circle cx="1120.0" cy="248.4" r="1.9"/></g>
<g class="c13"><circle cx="1043.7" cy="263.3" r="1.9"/><circle cx="1031.7" cy="286.1" r="1.9"/><circle cx="1066.8" cy="261.8" r="1.9"/><circle cx="1053.3" cy="258.9" r="1.9"/><circle cx="1074.6" cy="261.2" r="1.9"/><circle cx="1028.1" cy="272.2" r="1.9"/></g>
<g class="c41"><circle cx="1138.6" cy="302.5" r="1.9"/><circle cx="1162.8" cy="327.2" r="1.9"/><circle cx="1171.7" cy="328.6" r="1.9"/><circle cx="1147.6" cy="314.1" r="1.9"/><circle cx="1131.5" cy="318.0" r="1.9"/><circle cx="1147.9" cy="309.2" r="1.9"/></g>
<g class="c8"><circle cx="1120.0" cy="231.0" r="1.9"/><circle cx="1101.0" cy="231.8" r="1.9"/><circle cx="1118.8" cy="238.5" r="1.9"/><circle cx="1141.5" cy="249.2" r="1.9"/><circle cx="1091.4" cy="234.2" r="1.9"/><circle cx="1100.6" cy="222.1" r="1.9"/></g>
<g class="c13"><circle cx="1061.2" cy="285.4" r="1.9"/><circle cx="1064.8" cy="279.8" r="1.9"/><circle cx="1061.9" cy="302.6" r="1.9"/><circle cx="1030.7" cy="295.9" r="1.9"/><circle cx="1046.1" cy="268.9" r="1.9"/><circle cx="1034.6" cy="293.1" r="1.9"/></g>
<g class="c39"><circle cx="1073.2" cy="331.5" r="1.9"/><circle cx="1046.6" cy="323.7" r="1.9"/><circle cx="1055.0" cy="340.8" r="1.9"/><circle cx="1065.0" cy="335.8" r="1.9"/><circle cx="1086.1" cy="307.1" r="1.9"/><circle cx="1051.1" cy="325.8" r="1.9"/></g>
<g class="c19"><circle cx="1157.8" cy="314.8" r="1.9"/><circle cx="1143.3" cy="313.2" r="1.9"/><circle cx="1149.7" cy="312.3" r="1.9"/><circle cx="1148.4" cy="316.0" r="1.9"/><circle cx="1146.2" cy="309.9" r="1.9"/><circle cx="1152.7" cy="313.2" r="1.9"/></g>
<g class="c8"><circle cx="1107.9" cy="253.5" r="1.9"/><circle cx="1095.8" cy="244.2" r="1.9"/><circle cx="1160.6" cy="228.4" r="1.9"/><circle cx="1116.8" cy="251.1" r="1.9"/><circle cx="1143.0" cy="225.5" r="1.9"/><circle cx="1116.7" cy="252.3" r="1.9"/></g>
<g class="c26"><circle cx="1127.6" cy="309.4" r="1.9"/><circle cx="1131.0" cy="297.8" r="1.9"/><circle cx="1117.1" cy="272.9" r="1.9"/><circle cx="1156.7" cy="295.5" r="1.9"/><circle cx="1132.5" cy="294.3" r="1.9"/><circle cx="1149.1" cy="299.6" r="1.9"/></g>
<g class="c13"><circle cx="1040.9" cy="291.1" r="1.9"/><circle cx="1070.5" cy="305.8" r="1.9"/><circle cx="1062.3" cy="254.5" r="1.9"/><circle cx="1056.9" cy="293.2" r="1.9"/><circle cx="1044.7" cy="308.0" r="1.9"/><circle cx="1042.6" cy="258.1" r="1.9"/></g>
<g class="c8"><circle cx="1135.3" cy="245.0" r="1.9"/><circle cx="1160.7" cy="230.7" r="1.9"/><circle cx="1136.9" cy="257.7" r="1.9"/><circle cx="1132.3" cy="226.2" r="1.9"/><circle cx="1104.2" cy="216.3" r="1.9"/><circle cx="1101.1" cy="230.1" r="1.9"/></g>
<g class="c21"><circle cx="1020.0" cy="241.2" r="1.9"/><circle cx="1024.6" cy="293.8" r="1.9"/><circle cx="1026.8" cy="281.6" r="1.9"/><circle cx="1003.2" cy="261.6" r="1.9"/><circle cx="1014.9" cy="289.7" r="1.9"/><circle cx="1013.0" cy="278.2" r="1.9"/></g>
<g class="c8"><circle cx="1139.2" cy="251.8" r="1.9"/><circle cx="1096.3" cy="244.2" r="1.9"/><circle cx="1127.2" cy="226.7" r="1.9"/><circle cx="1131.5" cy="244.0" r="1.9"/><circle cx="1165.1" cy="244.0" r="1.9"/><circle cx="1136.4" cy="238.1" r="1.9"/></g>
<g class="c39"><circle cx="1079.1" cy="325.7" r="1.9"/><circle cx="1072.1" cy="335.5" r="1.9"/><circle cx="1053.8" cy="310.4" r="1.9"/><circle cx="1061.2" cy="320.5" r="1.9"/><circle cx="1033.8" cy="336.9" r="1.9"/><circle cx="1044.7" cy="329.4" r="1.9"/></g>
<g class="c21"><circle cx="1021.2" cy="282.7" r="1.9"/><circle cx="1024.3" cy="273.6" r="1.9"/><circle cx="1014.1" cy="297.4" r="1.9"/><circle cx="1044.0" cy="280.5" r="1.9"/><circle cx="1039.7" cy="257.3" r="1.9"/><circle cx="1011.2" cy="250.6" r="1.9"/></g>
<g class="c21"><circle cx="1032.1" cy="287.4" r="1.9"/><circle cx="1021.2" cy="266.2" r="1.9"/><circle cx="1032.4" cy="244.3" r="1.9"/><circle cx="1041.0" cy="278.0" r="1.9"/><circle cx="1038.5" cy="271.3" r="1.9"/><circle cx="1042.0" cy="260.8" r="1.9"/></g>
<g class="c8"><circle cx="1110.2" cy="226.0" r="1.9"/><circle cx="1111.7" cy="238.2" r="1.9"/></g>
<g class="c7"><circle cx="1164.2" cy="272.9" r="1.9"/></g>
<g class="c26"><circle cx="1119.2" cy="279.1" r="1.9"/><circle cx="1148.8" cy="302.0" r="1.9"/><circle cx="1117.9" cy="296.1" r="1.9"/><circle cx="1114.2" cy="280.7" r="1.9"/><circle cx="1099.3" cy="276.8" r="1.9"/><circle cx="1137.3" cy="292.5" r="1.9"/></g>
<g class="c21"><circle cx="1014.5" cy="284.4" r="1.9"/><circle cx="1038.5" cy="262.7" r="1.9"/><circle cx="1032.4" cy="283.8" r="1.9"/><circle cx="1027.9" cy="256.5" r="1.9"/><circle cx="1042.4" cy="280.3" r="1.9"/><circle cx="1015.8" cy="263.6" r="1.9"/></g>
<g class="c2"><circle cx="1039.3" cy="346.5" r="1.9"/><circle cx="1033.1" cy="345.9" r="1.9"/><circle cx="1040.7" cy="336.5" r="1.9"/><circle cx="1029.2" cy="340.8" r="1.9"/><circle cx="1031.7" cy="335.4" r="1.9"/><circle cx="1051.2" cy="337.4" r="1.9"/></g>
<g class="c13"><circle cx="1075.5" cy="273.9" r="1.9"/><circle cx="1058.0" cy="297.6" r="1.9"/><circle cx="1047.8" cy="285.3" r="1.9"/><circle cx="1061.7" cy="301.5" r="1.9"/><circle cx="1030.4" cy="266.3" r="1.9"/><circle cx="1084.3" cy="279.0" r="1.9"/></g>
<g class="c21"><circle cx="1021.8" cy="269.7" r="1.9"/><circle cx="1020.6" cy="286.4" r="1.9"/><circle cx="1032.8" cy="253.5" r="1.9"/><circle cx="1029.0" cy="260.8" r="1.9"/><circle cx="1023.2" cy="283.2" r="1.9"/><circle cx="1024.9" cy="262.3" r="1.9"/></g>
<g class="c8"><circle cx="1148.3" cy="249.6" r="1.9"/><circle cx="1168.5" cy="234.1" r="1.9"/><circle cx="1103.3" cy="229.1" r="1.9"/><circle cx="1149.5" cy="220.3" r="1.9"/><circle cx="1121.0" cy="229.8" r="1.9"/><circle cx="1158.6" cy="243.2" r="1.9"/></g>
<g class="c21"><circle cx="1026.2" cy="294.9" r="1.9"/><circle cx="1018.4" cy="273.2" r="1.9"/><circle cx="1034.9" cy="254.3" r="1.9"/><circle cx="1031.5" cy="273.2" r="1.9"/><circle cx="1048.4" cy="261.5" r="1.9"/><circle cx="1016.5" cy="272.3" r="1.9"/></g>
<polygon points="1122.8,234.0 1123.7,236.6 1126.3,236.6 1124.2,238.2 1125.0,240.8 1122.8,239.3 1120.6,240.8 1121.4,238.2 1119.2,236.6 1121.9,236.6" fill="#861123" fill-opacity=".85" stroke="#262626" stroke-width=".8"/>
<polygon points="1044.6,256.7 1045.4,259.2 1048.1,259.3 1046.0,260.9 1046.8,263.5 1044.6,261.9 1042.4,263.5 1043.1,260.9 1041.0,259.3 1043.7,259.2" fill="#6d371b" fill-opacity=".85" stroke="#262626" stroke-width=".8"/>
<polygon points="1028.3,267.8 1029.2,270.3 1031.9,270.4 1029.8,272.0 1030.5,274.6 1028.3,273.1 1026.1,274.6 1026.9,272.0 1024.8,270.4 1027.5,270.3" fill="#fbbe72" fill-opacity=".85" stroke="#262626" stroke-width=".8"/>
<polygon points="1053.9,278.0 1054.8,280.6 1057.5,280.6 1055.3,282.2 1056.1,284.8 1053.9,283.3 1051.7,284.8 1052.5,282.2 1050.3,280.6 1053.0,280.6" fill="#16496d" fill-opacity=".85" stroke="#262626" stroke-width=".8"/>
<polygon points="1059.4,305.6 1060.3,308.1 1063.0,308.2 1060.9,309.8 1061.6,312.4 1059.4,310.8 1057.2,312.4 1058.0,309.8 1055.9,308.2 1058.6,308.1" fill="#ffff99" fill-opacity=".85" stroke="#262626" stroke-width=".8"/>
<polygon points="1041.7,334.5 1042.5,337.0 1045.2,337.1 1043.1,338.7 1043.9,341.3 1041.7,339.7 1039.5,341.3 1040.2,338.7 1038.1,337.1 1040.8,337.0" fill="#c9b1d6" fill-opacity=".85" stroke="#262626" stroke-width=".8"/>
<polygon points="1126.8,293.4 1127.7,295.9 1130.3,296.0 1128.2,297.6 1129.0,300.1 1126.8,298.6 1124.6,300.1 1125.4,297.6 1123.2,296.0 1125.9,295.9" fill="#a6cee3" fill-opacity=".85" stroke="#262626" stroke-width=".8"/>
<polygon points="1141.2,314.0 1142.1,316.6 1144.8,316.6 1142.6,318.2 1143.4,320.8 1141.2,319.3 1139.0,320.8 1139.8,318.2 1137.7,316.6 1140.3,316.6" fill="#22631d" fill-opacity=".85" stroke="#262626" stroke-width=".8"/>
<rect x="82.9" y="402.3" width="198.4" height="146.7" fill="#fff" stroke="#929292" stroke-width="1.15"/>
<g class="c40"><circle cx="128.6" cy="460.4" r="1.9"/><circle cx="128.4" cy="463.5" r="1.9"/><circle cx="148.7" cy="471.1" r="1.9"/><circle cx="135.8" cy="465.1" r="1.9"/><circle cx="130.4" cy="459.3" r="1.9"/><circle cx="128.1" cy="438.1" r="1.9"/></g>
<g class="c21"><circle cx="167.7" cy="476.0" r="1.9"/><circle cx="180.0" cy="479.0" r="1.9"/><circle cx="178.0" cy="453.4" r="1.9"/><circle cx="174.4" cy="461.2" r="1.9"/><circle cx="172.4" cy="474.6" r="1.9"/><circle cx="179.6" cy="464.3" r="1.9"/></g>
<g class="c21"><circle cx="138.3" cy="494.9" r="1.9"/><circle cx="155.9" cy="502.4" r="1.9"/><circle cx="149.1" cy="501.3" r="1.9"/><circle cx="169.4" cy="491.7" r="1.9"/><circle cx="168.6" cy="498.6" r="1.9"/><circle cx="155.5" cy="490.4" r="1.9"/></g>
<g class="c2"><circle cx="148.5" cy="457.6" r="1.9"/><circle cx="151.4" cy="462.5" r="1.9"/><circle cx="166.3" cy="467.5" r="1.9"/><circle cx="167.4" cy="463.9" r="1.9"/><circle cx="151.8" cy="452.9" r="1.9"/><circle cx="160.2" cy="461.8" r="1.9"/></g>
<g class="c21"><circle cx="175.9" cy="483.0" r="1.9"/><circle cx="153.2" cy="494.0" r="1.9"/><circle cx="162.2" cy="481.4" r="1.9"/><circle cx="164.1" cy="497.0" r="1.9"/><circle cx="166.9" cy="500.1" r="1.9"/><circle cx="168.2" cy="497.5" r="1.9"/></g>
<g class="c25"><circle cx="265.7" cy="500.4" r="1.9"/><circle cx="266.0" cy="509.3" r="1.9"/><circle cx="267.5" cy="507.2" r="1.9"/><circle cx="267.4" cy="509.4" r="1.9"/><circle cx="266.7" cy="514.8" r="1.9"/><circle cx="268.5" cy="502.3" r="1.9"/></g>
<g class="c43"><circle cx="103.6" cy="512.0" r="1.9"/><circle cx="104.5" cy="507.7" r="1.9"/><circle cx="106.8" cy="499.9" r="1.9"/><circle cx="92.7" cy="507.4" r="1.9"/><circle cx="99.2" cy="495.7" r="1.9"/><circle cx="104.2" cy="503.6" r="1.9"/></g>
<g class="c11"><circle cx="171.8" cy="515.5" r="1.9"/><circle cx="170.3" cy="514.1" r="1.9"/><circle cx="184.4" cy="515.0" r="1.9"/><circle cx="166.3" cy="518.5" r="1.9"/><circle cx="175.1" cy="521.2" r="1.9"/><circle cx="171.4" cy="522.8" r="1.9"/></g>
<g class="c44"><circle cx="140.2" cy="487.2" r="1.9"/><circle cx="140.0" cy="492.0" r="1.9"/><circle cx="131.5" cy="477.0" r="1.9"/><circle cx="151.3" cy="462.5" r="1.9"/><circle cx="134.3" cy="456.0" r="1.9"/><circle cx="154.9" cy="465.1" r="1.9"/></g>
<g class="c0"><circle cx="119.7" cy="477.6" r="1.9"/><circle cx="118.1" cy="480.5" r="1.9"/><circle cx="110.5" cy="475.2" r="1.9"/><circle cx="117.0" cy="486.7" r="1.9"/><circle cx="112.2" cy="473.0" r="1.9"/><circle cx="112.7" cy="479.7" r="1.9"/></g>
<g class="c21"><circle cx="159.6" cy="456.4" r="1.9"/><circle cx="177.4" cy="474.1" r="1.9"/><circle cx="171.5" cy="466.3" r="1.9"/><circle cx="168.4" cy="467.1" r="1.9"/><circle cx="157.0" cy="468.4" r="1.9"/><circle cx="173.9" cy="459.7" r="1.9"/></g>
<g class="c43"><circle cx="99.7" cy="511.5" r="1.9"/><circle cx="102.4" cy="497.1" r="1.9"/><circle cx="98.0" cy="495.9" r="1.9"/><circle cx="99.4" cy="500.5" r="1.9"/><circle cx="101.8" cy="501.4" r="1.9"/><circle cx="99.2" cy="503.6" r="1.9"/></g>
<g class="c7"><circle cx="174.0" cy="422.0" r="1.9"/><circle cx="176.2" cy="418.9" r="1.9"/><circle cx="177.5" cy="424.2" r="1.9"/><circle cx="180.9" cy="432.3" r="1.9"/><circle cx="172.8" cy="424.2" r="1.9"/><circle cx="169.3" cy="419.8" r="1.9"/></g>
<g class="c21"><circle cx="148.3" cy="490.3" r="1.9"/><circle cx="141.6" cy="501.3" r="1.9"/></g>
<g class="c40"><circle cx="119.6" cy="491.0" r="1.9"/><circle cx="113.8" cy="484.4" r="1.9"/><circle cx="111.4" cy="478.4" r="1.9"/><circle cx="117.5" cy="472.8" r="1.9"/><circle cx="110.3" cy="474.3" r="1.9"/><circle cx="118.8" cy="474.6" r="1.9"/></g>
<g class="c12"><circle cx="151.5" cy="534.9" r="1.9"/><circle cx="140.3" cy="535.3" r="1.9"/><circle cx="144.2" cy="530.8" r="1.9"/><circle cx="142.9" cy="534.2" r="1.9"/><circle cx="149.9" cy="536.8" r="1.9"/><circle cx="154.3" cy="532.5" r="1.9"/></g>
<g class="c5"><circle cx="122.5" cy="509.8" r="1.9"/><circle cx="124.5" cy="512.1" r="1.9"/><circle cx="122.7" cy="511.2" r="1.9"/><circle cx="127.7" cy="512.8" r="1.9"/><circle cx="119.7" cy="505.6" r="1.9"/><circle cx="121.8" cy="510.5" r="1.9"/></g>
<g class="c44"><circle cx="147.1" cy="471.5" r="1.9"/><circle cx="130.8" cy="463.0" r="1.9"/><circle cx="149.9" cy="486.5" r="1.9"/><circle cx="134.0" cy="467.9" r="1.9"/><circle cx="146.4" cy="463.7" r="1.9"/><circle cx="143.4" cy="476.6" r="1.9"/></g>
<g class="c40"><circle cx="118.9" cy="484.7" r="1.9"/><circle cx="110.0" cy="475.7" r="1.9"/><circle cx="125.4" cy="469.1" r="1.9"/><circle cx="109.4" cy="478.6" r="1.9"/><circle cx="116.4" cy="465.5" r="1.9"/><circle cx="114.2" cy="479.7" r="1.9"/></g>
<g class="c12"><circle cx="156.1" cy="534.4" r="1.9"/><circle cx="150.1" cy="541.8" r="1.9"/><circle cx="135.2" cy="537.2" r="1.9"/><circle cx="150.2" cy="540.2" r="1.9"/><circle cx="133.7" cy="530.6" r="1.9"/><circle cx="146.6" cy="532.1" r="1.9"/></g>
<g class="c7"><circle cx="128.7" cy="429.7" r="1.9"/><circle cx="130.2" cy="426.0" r="1.9"/><circle cx="128.0" cy="425.6" r="1.9"/><circle cx="127.9" cy="428.1" r="1.9"/><circle cx="128.0" cy="422.9" r="1.9"/></g>
<g class="c12"><circle cx="143.5" cy="530.3" r="1.9"/></g>
<g class="c12"><circle cx="134.9" cy="533.4" r="1.9"/><circle cx="134.9" cy="538.2" r="1.9"/><circle cx="133.9" cy="534.4" r="1.9"/><circle cx="155.5" cy="537.1" r="1.9"/><circle cx="145.9" cy="539.8" r="1.9"/><circle cx="150.9" cy="538.2" r="1.9"/></g>
<g class="c12"><circle cx="97.5" cy="493.8" r="1.9"/><circle cx="103.2" cy="494.2" r="1.9"/><circle cx="104.3" cy="493.1" r="1.9"/><circle cx="98.1" cy="497.1" r="1.9"/><circle cx="103.0" cy="493.8" r="1.9"/></g>
<g class="c44"><circle cx="133.8" cy="457.7" r="1.9"/><circle cx="151.3" cy="470.4" r="1.9"/><circle cx="148.7" cy="475.8" r="1.9"/><circle cx="148.9" cy="463.4" r="1.9"/><circle cx="139.6" cy="454.9" r="1.9"/><circle cx="125.4" cy="460.7" r="1.9"/></g>
<g class="c23"><circle cx="240.4" cy="492.2" r="1.9"/><circle cx="218.5" cy="487.7" r="1.9"/><circle cx="242.5" cy="493.4" r="1.9"/><circle cx="229.2" cy="484.8" r="1.9"/><circle cx="224.4" cy="487.7" r="1.9"/><circle cx="223.0" cy="489.0" r="1.9"/></g>
<g class="c40"><circle cx="127.1" cy="478.4" r="1.9"/><circle cx="138.0" cy="460.0" r="1.9"/><circle cx="138.1" cy="443.5" r="1.9"/><circle cx="128.3" cy="471.7" r="1.9"/><circle cx="132.9" cy="457.3" r="1.9"/><circle cx="124.2" cy="464.2" r="1.9"/></g>
<g class="c40"><circle cx="120.1" cy="462.1" r="1.9"/><circle cx="129.5" cy="476.8" r="1.9"/><circle cx="136.8" cy="479.2" r="1.9"/><circle cx="125.7" cy="472.1" r="1.9"/><circle cx="124.8" cy="454.5" r="1.9"/><circle cx="127.5" cy="482.5" r="1.9"/></g>
<g class="c40"><circle cx="134.6" cy="464.3" r="1.9"/><circle cx="123.0" cy="446.4" r="1.9"/><circle cx="149.1" cy="472.5" r="1.9"/><circle cx="155.1" cy="459.5" r="1.9"/><circle cx="141.9" cy="460.3" r="1.9"/><circle cx="154.6" cy="457.9" r="1.9"/></g>
<g class="c40"><circle cx="122.8" cy="447.7" r="1.9"/><circle cx="151.7" cy="464.0" r="1.9"/></g>
<g class="c23"><circle cx="231.5" cy="497.6" r="1.9"/><circle cx="235.8" cy="492.6" r="1.9"/><circle cx="222.8" cy="484.6" r="1.9"/><circle cx="221.0" cy="483.3" r="1.9"/><circle cx="227.9" cy="484.1" r="1.9"/><circle cx="212.4" cy="489.3" r="1.9"/></g>
<g class="c43"><circle cx="93.8" cy="501.8" r="1.9"/><circle cx="94.4" cy="507.0" r="1.9"/><circle cx="95.7" cy="507.3" r="1.9"/><circle cx="97.0" cy="508.1" r="1.9"/><circle cx="98.1" cy="504.7" r="1.9"/><circle cx="93.9" cy="503.3" r="1.9"/></g>
<g class="c0"><circle cx="123.0" cy="480.0" r="1.9"/><circle cx="109.5" cy="481.6" r="1.9"/></g>
<g class="c45"><circle cx="133.1" cy="488.4" r="1.9"/><circle cx="131.4" cy="485.9" r="1.9"/><circle cx="132.4" cy="489.9" r="1.9"/></g>
<g class="c7"><circle cx="165.5" cy="445.8" r="1.9"/><circle cx="175.0" cy="433.0" r="1.9"/><circle cx="166.4" cy="433.4" r="1.9"/><circle cx="171.4" cy="441.0" r="1.9"/><circle cx="161.4" cy="441.7" r="1.9"/><circle cx="172.3" cy="443.0" r="1.9"/></g>
<g class="c8"><circle cx="138.2" cy="426.5" r="1.9"/><circle cx="137.1" cy="426.6" r="1.9"/><circle cx="136.9" cy="423.3" r="1.9"/></g>
<g class="c7"><circle cx="179.5" cy="424.3" r="1.9"/><circle cx="178.9" cy="432.0" r="1.9"/><circle cx="165.8" cy="433.4" r="1.9"/><circle cx="174.5" cy="423.1" r="1.9"/><circle cx="184.1" cy="427.7" r="1.9"/><circle cx="172.1" cy="421.3" r="1.9"/></g>
<g class="c2"><circle cx="148.5" cy="448.4" r="1.9"/><circle cx="144.9" cy="452.8" r="1.9"/><circle cx="159.5" cy="451.9" r="1.9"/><circle cx="147.0" cy="453.0" r="1.9"/><circle cx="148.4" cy="449.6" r="1.9"/><circle cx="149.4" cy="449.8" r="1.9"/></g>
<g class="c9"><circle cx="194.5" cy="457.9" r="1.9"/><circle cx="199.1" cy="454.7" r="1.9"/></g>
<g class="c0"><circle cx="102.8" cy="479.0" r="1.9"/><circle cx="115.6" cy="483.2" r="1.9"/><circle cx="111.7" cy="477.2" r="1.9"/><circle cx="118.6" cy="478.3" r="1.9"/><circle cx="104.1" cy="479.3" r="1.9"/><circle cx="110.5" cy="481.2" r="1.9"/></g>
<g class="c12"><circle cx="141.9" cy="539.3" r="1.9"/><circle cx="140.5" cy="526.7" r="1.9"/><circle cx="137.9" cy="527.3" r="1.9"/><circle cx="143.5" cy="528.1" r="1.9"/><circle cx="152.2" cy="535.9" r="1.9"/><circle cx="139.5" cy="539.5" r="1.9"/></g>
<g class="c44"><circle cx="139.9" cy="480.9" r="1.9"/><circle cx="138.4" cy="459.6" r="1.9"/><circle cx="134.2" cy="465.6" r="1.9"/><circle cx="150.5" cy="472.8" r="1.9"/><circle cx="145.3" cy="477.4" r="1.9"/><circle cx="159.2" cy="474.1" r="1.9"/></g>
<g class="c21"><circle cx="191.2" cy="473.3" r="1.9"/><circle cx="212.4" cy="484.5" r="1.9"/><circle cx="206.2" cy="483.2" r="1.9"/><circle cx="207.5" cy="477.6" r="1.9"/><circle cx="214.7" cy="468.3" r="1.9"/><circle cx="220.5" cy="483.4" r="1.9"/></g>
<g class="c40"><circle cx="149.2" cy="460.7" r="1.9"/><circle cx="146.0" cy="462.7" r="1.9"/><circle cx="117.4" cy="461.9" r="1.9"/><circle cx="139.0" cy="461.9" r="1.9"/><circle cx="148.4" cy="466.0" r="1.9"/><circle cx="143.8" cy="458.6" r="1.9"/></g>
<g class="c21"><circle cx="211.4" cy="464.5" r="1.9"/><circle cx="214.8" cy="469.2" r="1.9"/><circle cx="218.5" cy="471.9" r="1.9"/><circle cx="195.3" cy="473.5" r="1.9"/><circle cx="200.2" cy="473.9" r="1.9"/><circle cx="214.1" cy="477.7" r="1.9"/></g>
<g class="c23"><circle cx="240.4" cy="495.4" r="1.9"/><circle cx="233.5" cy="490.0" r="1.9"/><circle cx="218.7" cy="486.3" r="1.9"/><circle cx="233.1" cy="491.5" r="1.9"/><circle cx="218.1" cy="491.4" r="1.9"/><circle cx="246.1" cy="487.8" r="1.9"/></g>
<g class="c43"><circle cx="95.4" cy="507.8" r="1.9"/><circle cx="104.4" cy="504.6" r="1.9"/><circle cx="105.4" cy="504.2" r="1.9"/><circle cx="95.6" cy="504.8" r="1.9"/><circle cx="99.3" cy="501.7" r="1.9"/><circle cx="101.3" cy="504.5" r="1.9"/></g>
<g class="c10"><circle cx="168.6" cy="450.1" r="1.9"/><circle cx="173.5" cy="448.4" r="1.9"/><circle cx="172.5" cy="444.5" r="1.9"/></g>
<g class="c9"><circle cx="196.3" cy="452.3" r="1.9"/><circle cx="195.0" cy="448.0" r="1.9"/><circle cx="196.8" cy="457.6" r="1.9"/><circle cx="195.7" cy="455.8" r="1.9"/><circle cx="204.5" cy="457.4" r="1.9"/><circle cx="199.0" cy="453.0" r="1.9"/></g>
<g class="c43"><circle cx="96.6" cy="513.2" r="1.9"/><circle cx="101.4" cy="511.5" r="1.9"/><circle cx="101.1" cy="500.8" r="1.9"/><circle cx="98.4" cy="508.2" r="1.9"/><circle cx="98.0" cy="501.3" r="1.9"/><circle cx="97.8" cy="510.2" r="1.9"/></g>
<g class="c18"><circle cx="120.1" cy="494.5" r="1.9"/><circle cx="126.9" cy="497.7" r="1.9"/><circle cx="137.3" cy="497.7" r="1.9"/><circle cx="133.9" cy="496.3" r="1.9"/><circle cx="124.7" cy="499.2" r="1.9"/><circle cx="123.1" cy="496.5" r="1.9"/></g>
<g class="c9"><circle cx="202.0" cy="450.6" r="1.9"/><circle cx="193.6" cy="458.3" r="1.9"/><circle cx="191.4" cy="449.1" r="1.9"/><circle cx="203.0" cy="452.4" r="1.9"/><circle cx="200.4" cy="456.0" r="1.9"/><circle cx="192.4" cy="453.3" r="1.9"/></g>
<g class="c44"><circle cx="137.4" cy="491.0" r="1.9"/><circle cx="140.8" cy="455.2" r="1.9"/><circle cx="129.1" cy="467.4" r="1.9"/><circle cx="147.9" cy="482.7" r="1.9"/><circle cx="141.6" cy="475.3" r="1.9"/><circle cx="134.4" cy="468.6" r="1.9"/></g>
<g class="c40"><circle cx="117.1" cy="458.5" r="1.9"/><circle cx="127.8" cy="457.6" r="1.9"/><circle cx="149.6" cy="467.4" r="1.9"/><circle cx="131.5" cy="444.3" r="1.9"/><circle cx="123.1" cy="470.5" r="1.9"/><circle cx="119.9" cy="470.4" r="1.9"/></g>
<g class="c40"><circle cx="116.9" cy="487.4" r="1.9"/><circle cx="109.3" cy="476.6" r="1.9"/><circle cx="110.7" cy="469.1" r="1.9"/><circle cx="119.9" cy="478.6" r="1.9"/><circle cx="123.7" cy="478.4" r="1.9"/><circle cx="118.1" cy="478.6" r="1.9"/></g>
<g class="c21"><circle cx="168.0" cy="478.2" r="1.9"/><circle cx="185.0" cy="457.9" r="1.9"/></g>
<g class="c2"><circle cx="143.3" cy="471.3" r="1.9"/><circle cx="145.5" cy="458.7" r="1.9"/><circle cx="152.1" cy="471.3" r="1.9"/><circle cx="151.6" cy="462.9" r="1.9"/><circle cx="145.5" cy="469.4" r="1.9"/><circle cx="147.6" cy="473.6" r="1.9"/></g>
<g class="c16"><circle cx="118.9" cy="465.2" r="1.9"/><circle cx="119.3" cy="459.7" r="1.9"/><circle cx="122.3" cy="466.9" r="1.9"/><circle cx="123.0" cy="461.2" r="1.9"/></g>
<g class="c44"><circle cx="139.2" cy="460.4" r="1.9"/><circle cx="127.7" cy="470.1" r="1.9"/><circle cx="138.7" cy="461.2" r="1.9"/><circle cx="148.6" cy="456.3" r="1.9"/><circle cx="137.6" cy="461.4" r="1.9"/><circle cx="140.0" cy="478.8" r="1.9"/></g>
<g class="c40"><circle cx="124.5" cy="455.8" r="1.9"/><circle cx="123.9" cy="454.9" r="1.9"/><circle cx="142.0" cy="471.2" r="1.9"/><circle cx="120.0" cy="453.8" r="1.9"/><circle cx="134.7" cy="460.4" r="1.9"/><circle cx="141.8" cy="475.7" r="1.9"/></g>
<g class="c21"><circle cx="189.6" cy="486.7" r="1.9"/><circle cx="183.7" cy="485.5" r="1.9"/></g>
<g class="c29"><circle cx="145.6" cy="509.8" r="1.9"/><circle cx="144.9" cy="516.2" r="1.9"/><circle cx="153.1" cy="516.2" r="1.9"/><circle cx="160.1" cy="495.0" r="1.9"/><circle cx="147.6" cy="501.7" r="1.9"/><circle cx="140.1" cy="494.7" r="1.9"/></g>
<g class="c40"><circle cx="135.5" cy="516.0" r="1.9"/><circle cx="136.4" cy="516.9" r="1.9"/><circle cx="132.9" cy="521.0" r="1.9"/><circle cx="133.0" cy="515.5" r="1.9"/></g>
<g class="c11"><circle cx="177.6" cy="517.7" r="1.9"/><circle cx="178.2" cy="519.3" r="1.9"/><circle cx="184.1" cy="519.9" r="1.9"/><circle cx="174.7" cy="514.2" r="1.9"/><circle cx="173.6" cy="516.9" r="1.9"/><circle cx="178.3" cy="519.0" r="1.9"/></g>
<g class="c21"><circle cx="217.2" cy="465.7" r="1.9"/><circle cx="197.9" cy="473.6" r="1.9"/><circle cx="207.4" cy="468.9" r="1.9"/><circle cx="206.7" cy="477.1" r="1.9"/><circle cx="209.3" cy="483.5" r="1.9"/><circle cx="210.7" cy="474.0" r="1.9"/></g>
<g class="c7"><circle cx="173.4" cy="426.3" r="1.9"/><circle cx="180.0" cy="430.0" r="1.9"/><circle cx="158.8" cy="421.0" r="1.9"/><circle cx="180.4" cy="426.2" r="1.9"/><circle cx="168.6" cy="428.2" r="1.9"/><circle cx="182.8" cy="434.7" r="1.9"/></g>
<g class="c21"><circle cx="204.1" cy="476.3" r="1.9"/><circle cx="214.1" cy="475.9" r="1.9"/></g>
<g class="c40"><circle cx="134.9" cy="461.1" r="1.9"/><circle cx="121.3" cy="451.5" r="1.9"/><circle cx="140.0" cy="482.0" r="1.9"/><circle cx="122.5" cy="464.1" r="1.9"/><circle cx="143.5" cy="480.8" r="1.9"/><circle cx="142.6" cy="475.5" r="1.9"/></g>
<g class="c12"><circle cx="131.1" cy="492.4" r="1.9"/><circle cx="122.6" cy="491.9" r="1.9"/><circle cx="119.8" cy="490.9" r="1.9"/><circle cx="125.3" cy="487.9" r="1.9"/><circle cx="124.2" cy="492.0" r="1.9"/></g>
<g class="c44"><circle cx="148.4" cy="479.4" r="1.9"/><circle cx="132.1" cy="463.7" r="1.9"/><circle cx="132.1" cy="469.6" r="1.9"/><circle cx="137.9" cy="481.5" r="1.9"/><circle cx="135.1" cy="489.5" r="1.9"/><circle cx="151.8" cy="481.4" r="1.9"/></g>
<g class="c43"><circle cx="106.7" cy="507.1" r="1.9"/><circle cx="96.4" cy="510.9" r="1.9"/><circle cx="93.5" cy="511.6" r="1.9"/><circle cx="101.2" cy="501.9" r="1.9"/><circle cx="97.5" cy="497.4" r="1.9"/><circle cx="99.4" cy="506.1" r="1.9"/></g>
<g class="c2"><circle cx="153.6" cy="473.1" r="1.9"/><circle cx="154.2" cy="461.6" r="1.9"/><circle cx="154.5" cy="476.8" r="1.9"/><circle cx="149.4" cy="472.8" r="1.9"/><circle cx="142.3" cy="465.6" r="1.9"/><circle cx="164.9" cy="470.1" r="1.9"/></g>
<g class="c25"><circle cx="264.4" cy="507.8" r="1.9"/><circle cx="267.7" cy="501.0" r="1.9"/></g>
<g class="c10"><circle cx="160.9" cy="462.7" r="1.9"/><circle cx="156.6" cy="458.3" r="1.9"/><circle cx="155.3" cy="458.5" r="1.9"/><circle cx="163.8" cy="454.0" r="1.9"/><circle cx="163.7" cy="458.4" r="1.9"/><circle cx="156.4" cy="458.6" r="1.9"/></g>
<g class="c40"><circle cx="120.9" cy="486.2" r="1.9"/><circle cx="125.8" cy="486.3" r="1.9"/><circle cx="119.2" cy="476.2" r="1.9"/><circle cx="118.3" cy="477.7" r="1.9"/><circle cx="115.0" cy="477.5" r="1.9"/><circle cx="118.7" cy="480.1" r="1.9"/></g>
<g class="c21"><circle cx="179.4" cy="491.0" r="1.9"/><circle cx="178.1" cy="502.5" r="1.9"/><circle cx="158.9" cy="485.9" r="1.9"/><circle cx="164.2" cy="481.3" r="1.9"/><circle cx="162.3" cy="477.6" r="1.9"/><circle cx="168.6" cy="499.4" r="1.9"/></g>
<g class="c16"><circle cx="147.1" cy="427.8" r="1.9"/><circle cx="153.8" cy="431.1" r="1.9"/><circle cx="150.5" cy="421.3" r="1.9"/><circle cx="151.7" cy="427.2" r="1.9"/><circle cx="149.4" cy="427.6" r="1.9"/><circle cx="143.8" cy="427.0" r="1.9"/></g>
<g class="c43"><circle cx="94.7" cy="504.6" r="1.9"/><circle cx="96.0" cy="513.2" r="1.9"/><circle cx="94.6" cy="507.2" r="1.9"/><circle cx="88.1" cy="502.7" r="1.9"/><circle cx="95.7" cy="504.1" r="1.9"/><circle cx="95.8" cy="503.8" r="1.9"/></g>
<g class="c7"><circle cx="175.5" cy="425.3" r="1.9"/><circle cx="175.0" cy="436.0" r="1.9"/><circle cx="168.9" cy="433.9" r="1.9"/><circle cx="186.7" cy="430.4" r="1.9"/><circle cx="179.8" cy="433.8" r="1.9"/><circle cx="163.2" cy="424.0" r="1.9"/></g>
<g class="c40"><circle cx="119.8" cy="468.9" r="1.9"/><circle cx="151.8" cy="463.3" r="1.9"/><circle cx="118.8" cy="473.3" r="1.9"/><circle cx="142.3" cy="473.8" r="1.9"/><circle cx="128.4" cy="471.6" r="1.9"/><circle cx="139.9" cy="474.3" r="1.9"/></g>
<g class="c29"><circle cx="151.1" cy="502.1" r="1.9"/><circle cx="141.4" cy="504.0" r="1.9"/><circle cx="137.8" cy="499.5" r="1.9"/><circle cx="158.5" cy="502.5" r="1.9"/><circle cx="155.9" cy="504.0" r="1.9"/><circle cx="143.1" cy="504.2" r="1.9"/></g>
<g class="c18"><circle cx="123.0" cy="492.4" r="1.9"/><circle cx="129.3" cy="494.3" r="1.9"/><circle cx="137.5" cy="497.7" r="1.9"/><circle cx="134.9" cy="500.1" r="1.9"/><circle cx="128.6" cy="498.8" r="1.9"/><circle cx="123.7" cy="500.0" r="1.9"/></g>
<g class="c7"><circle cx="206.8" cy="432.4" r="1.9"/></g>
<g class="c9"><circle cx="135.3" cy="413.1" r="1.9"/><circle cx="139.1" cy="412.5" r="1.9"/></g>
<g class="c23"><circle cx="243.7" cy="487.9" r="1.9"/><circle cx="230.0" cy="496.0" r="1.9"/><circle cx="242.1" cy="490.8" r="1.9"/><circle cx="244.2" cy="489.7" r="1.9"/><circle cx="222.9" cy="486.4" r="1.9"/><circle cx="241.9" cy="486.8" r="1.9"/></g>
<g class="c28"><circle cx="203.3" cy="499.7" r="1.9"/></g>
<g class="c21"><circle cx="187.0" cy="490.3" r="1.9"/><circle cx="187.3" cy="482.8" r="1.9"/><circle cx="189.5" cy="480.3" r="1.9"/><circle cx="178.3" cy="481.5" r="1.9"/><circle cx="188.3" cy="481.5" r="1.9"/><circle cx="183.6" cy="483.8" r="1.9"/></g>
<g class="c44"><circle cx="157.8" cy="467.2" r="1.9"/><circle cx="135.2" cy="472.8" r="1.9"/><circle cx="124.8" cy="466.0" r="1.9"/><circle cx="135.2" cy="468.7" r="1.9"/><circle cx="139.4" cy="454.8" r="1.9"/><circle cx="135.5" cy="477.3" r="1.9"/></g>
<g class="c24"><circle cx="219.0" cy="472.6" r="1.9"/><circle cx="224.5" cy="470.2" r="1.9"/><circle cx="218.0" cy="468.3" r="1.9"/><circle cx="221.8" cy="473.8" r="1.9"/><circle cx="218.1" cy="471.0" r="1.9"/><circle cx="221.9" cy="476.5" r="1.9"/></g>
<g class="c22"><circle cx="197.7" cy="471.9" r="1.9"/><circle cx="197.7" cy="473.8" r="1.9"/><circle cx="189.1" cy="472.2" r="1.9"/><circle cx="195.8" cy="471.1" r="1.9"/></g>
<g class="c18"><circle cx="112.0" cy="450.8" r="1.9"/><circle cx="111.9" cy="444.3" r="1.9"/></g>
<g class="c9"><circle cx="143.9" cy="417.7" r="1.9"/><circle cx="138.7" cy="407.9" r="1.9"/><circle cx="146.7" cy="411.7" r="1.9"/><circle cx="139.1" cy="412.9" r="1.9"/><circle cx="141.6" cy="421.4" r="1.9"/><circle cx="137.6" cy="416.8" r="1.9"/></g>
<g class="c43"><circle cx="106.9" cy="503.5" r="1.9"/><circle cx="97.2" cy="512.1" r="1.9"/><circle cx="97.4" cy="501.9" r="1.9"/><circle cx="102.7" cy="503.1" r="1.9"/><circle cx="101.3" cy="515.5" r="1.9"/><circle cx="96.6" cy="513.4" r="1.9"/></g>
<g class="c44"><circle cx="141.3" cy="469.6" r="1.9"/></g>
<g class="c40"><circle cx="123.3" cy="454.0" r="1.9"/><circle cx="151.8" cy="476.5" r="1.9"/><circle cx="132.3" cy="447.7" r="1.9"/><circle cx="130.0" cy="453.3" r="1.9"/><circle cx="144.2" cy="463.0" r="1.9"/><circle cx="118.5" cy="452.5" r="1.9"/></g>
<g class="c23"><circle cx="222.2" cy="492.8" r="1.9"/><circle cx="226.3" cy="493.4" r="1.9"/><circle cx="254.9" cy="492.6" r="1.9"/><circle cx="243.2" cy="487.7" r="1.9"/><circle cx="214.5" cy="491.8" r="1.9"/><circle cx="248.5" cy="489.7" r="1.9"/></g>
<g class="c44"><circle cx="156.4" cy="481.0" r="1.9"/><circle cx="137.3" cy="478.8" r="1.9"/><circle cx="147.7" cy="487.1" r="1.9"/><circle cx="147.5" cy="463.2" r="1.9"/><circle cx="141.5" cy="480.1" r="1.9"/><circle cx="137.5" cy="484.9" r="1.9"/></g>
<g class="c12"><circle cx="152.7" cy="535.5" r="1.9"/><circle cx="131.7" cy="535.9" r="1.9"/><circle cx="144.3" cy="537.3" r="1.9"/><circle cx="133.0" cy="529.4" r="1.9"/><circle cx="151.2" cy="530.3" r="1.9"/><circle cx="140.2" cy="526.9" r="1.9"/></g>
<g class="c0"><circle cx="110.2" cy="479.1" r="1.9"/><circle cx="117.4" cy="484.7" r="1.9"/><circle cx="121.1" cy="475.6" r="1.9"/><circle cx="108.1" cy="484.9" r="1.9"/><circle cx="114.5" cy="478.9" r="1.9"/><circle cx="109.4" cy="479.9" r="1.9"/></g>
<g class="c44"><circle cx="152.0" cy="455.6" r="1.9"/><circle cx="125.0" cy="464.9" r="1.9"/><circle cx="139.8" cy="451.9" r="1.9"/><circle cx="157.4" cy="473.9" r="1.9"/><circle cx="126.4" cy="468.5" r="1.9"/><circle cx="133.8" cy="486.0" r="1.9"/></g>
<g class="c12"><circle cx="147.0" cy="541.1" r="1.9"/><circle cx="152.2" cy="531.0" r="1.9"/><circle cx="142.3" cy="532.2" r="1.9"/><circle cx="156.5" cy="532.9" r="1.9"/><circle cx="133.5" cy="529.7" r="1.9"/><circle cx="149.9" cy="531.6" r="1.9"/></g>
<g class="c2"><circle cx="187.6" cy="471.2" r="1.9"/><circle cx="180.4" cy="474.7" r="1.9"/><circle cx="181.3" cy="478.3" r="1.9"/><circle cx="189.8" cy="475.1" r="1.9"/><circle cx="177.6" cy="470.3" r="1.9"/><circle cx="178.8" cy="472.7" r="1.9"/></g>
<g class="c40"><circle cx="126.6" cy="452.8" r="1.9"/><circle cx="136.4" cy="470.3" r="1.9"/><circle cx="134.5" cy="483.9" r="1.9"/><circle cx="130.5" cy="468.6" r="1.9"/><circle cx="146.3" cy="471.7" r="1.9"/><circle cx="126.9" cy="480.1" r="1.9"/></g>
<g class="c44"><circle cx="127.4" cy="463.5" r="1.9"/><circle cx="150.1" cy="476.6" r="1.9"/><circle cx="150.1" cy="467.4" r="1.9"/><circle cx="159.5" cy="468.3" r="1.9"/><circle cx="145.6" cy="481.2" r="1.9"/><circle cx="138.9" cy="451.8" r="1.9"/></g>
<g class="c23"><circle cx="229.8" cy="493.4" r="1.9"/><circle cx="221.1" cy="487.6" r="1.9"/><circle cx="220.6" cy="497.2" r="1.9"/><circle cx="241.2" cy="485.5" r="1.9"/><circle cx="237.2" cy="479.6" r="1.9"/><circle cx="218.3" cy="488.8" r="1.9"/></g>
<g class="c21"><circle cx="160.0" cy="512.5" r="1.9"/><circle cx="141.0" cy="493.3" r="1.9"/><circle cx="168.3" cy="491.4" r="1.9"/><circle cx="146.3" cy="501.7" r="1.9"/><circle cx="150.8" cy="491.9" r="1.9"/><circle cx="159.5" cy="485.6" r="1.9"/></g>
<g class="c21"><circle cx="156.9" cy="508.0" r="1.9"/><circle cx="164.2" cy="505.1" r="1.9"/><circle cx="154.4" cy="502.0" r="1.9"/><circle cx="148.3" cy="508.3" r="1.9"/><circle cx="144.8" cy="510.8" r="1.9"/><circle cx="146.3" cy="494.2" r="1.9"/></g>
<g class="c40"><circle cx="134.7" cy="452.1" r="1.9"/><circle cx="139.4" cy="457.1" r="1.9"/><circle cx="141.5" cy="456.8" r="1.9"/><circle cx="145.2" cy="456.3" r="1.9"/><circle cx="135.2" cy="477.6" r="1.9"/><circle cx="124.6" cy="445.2" r="1.9"/></g>
<g class="c11"><circle cx="111.4" cy="509.1" r="1.9"/><circle cx="106.9" cy="516.4" r="1.9"/></g>
<g class="c21"><circle cx="160.8" cy="503.1" r="1.9"/><circle cx="142.2" cy="497.4" r="1.9"/><circle cx="166.7" cy="487.2" r="1.9"/><circle cx="138.6" cy="497.3" r="1.9"/><circle cx="144.8" cy="497.1" r="1.9"/><circle cx="157.1" cy="485.4" r="1.9"/></g>
<g class="c40"><circle cx="151.1" cy="467.2" r="1.9"/><circle cx="149.0" cy="474.1" r="1.9"/><circle cx="136.6" cy="461.3" r="1.9"/><circle cx="135.1" cy="473.9" r="1.9"/><circle cx="130.7" cy="457.6" r="1.9"/><circle cx="141.8" cy="451.0" r="1.9"/></g>
<g class="c18"><circle cx="113.6" cy="461.2" r="1.9"/><circle cx="111.7" cy="441.5" r="1.9"/><circle cx="109.7" cy="448.4" r="1.9"/><circle cx="118.5" cy="452.5" r="1.9"/><circle cx="111.5" cy="451.0" r="1.9"/><circle cx="112.1" cy="454.2" r="1.9"/></g>
<g class="c40"><circle cx="142.7" cy="463.7" r="1.9"/><circle cx="146.2" cy="460.9" r="1.9"/><circle cx="131.7" cy="454.2" r="1.9"/><circle cx="147.6" cy="462.5" r="1.9"/><circle cx="129.9" cy="448.8" r="1.9"/><circle cx="130.7" cy="469.8" r="1.9"/></g>
<g class="c44"><circle cx="141.2" cy="467.6" r="1.9"/><circle cx="136.5" cy="466.8" r="1.9"/><circle cx="122.7" cy="467.9" r="1.9"/><circle cx="132.4" cy="484.4" r="1.9"/><circle cx="160.2" cy="459.9" r="1.9"/><circle cx="136.2" cy="467.2" r="1.9"/></g>
<g class="c2"><circle cx="174.5" cy="475.0" r="1.9"/><circle cx="168.5" cy="485.5" r="1.9"/><circle cx="163.2" cy="472.7" r="1.9"/><circle cx="167.2" cy="475.1" r="1.9"/><circle cx="164.2" cy="479.2" r="1.9"/><circle cx="179.0" cy="479.6" r="1.9"/></g>
<g class="c8"><circle cx="209.6" cy="454.0" r="1.9"/></g>
<g class="c40"><circle cx="150.4" cy="476.8" r="1.9"/><circle cx="116.7" cy="456.1" r="1.9"/><circle cx="149.6" cy="450.9" r="1.9"/><circle cx="120.7" cy="472.9" r="1.9"/><circle cx="146.6" cy="454.7" r="1.9"/><circle cx="117.4" cy="457.2" r="1.9"/></g>
<g class="c21"><circle cx="167.0" cy="490.6" r="1.9"/><circle cx="173.3" cy="492.8" r="1.9"/><circle cx="168.6" cy="502.2" r="1.9"/><circle cx="179.3" cy="479.2" r="1.9"/><circle cx="168.8" cy="492.5" r="1.9"/><circle cx="168.2" cy="496.9" r="1.9"/></g>
<g class="c44"><circle cx="140.7" cy="474.6" r="1.9"/><circle cx="130.7" cy="455.6" r="1.9"/><circle cx="129.0" cy="480.6" r="1.9"/><circle cx="130.5" cy="461.5" r="1.9"/><circle cx="133.3" cy="455.7" r="1.9"/><circle cx="127.1" cy="460.8" r="1.9"/></g>
<g class="c11"><circle cx="111.9" cy="514.0" r="1.9"/><circle cx="108.8" cy="513.1" r="1.9"/><circle cx="112.6" cy="509.8" r="1.9"/><circle cx="111.1" cy="516.2" r="1.9"/><circle cx="107.3" cy="513.6" r="1.9"/><circle cx="106.6" cy="518.4" r="1.9"/></g>
<g class="c12"><circle cx="201.8" cy="492.9" r="1.9"/><circle cx="203.6" cy="494.3" r="1.9"/><circle cx="193.8" cy="493.8" r="1.9"/><circle cx="205.7" cy="493.4" r="1.9"/></g>
<g class="c21"><circle cx="163.1" cy="485.7" r="1.9"/><circle cx="161.9" cy="496.7" r="1.9"/><circle cx="156.7" cy="495.5" r="1.9"/><circle cx="172.7" cy="475.4" r="1.9"/><circle cx="171.3" cy="477.7" r="1.9"/><circle cx="166.4" cy="491.4" r="1.9"/></g>
<g class="c28"><circle cx="222.3" cy="505.1" r="1.9"/><circle cx="222.7" cy="506.2" r="1.9"/></g>
<g class="c2"><circle cx="180.8" cy="479.3" r="1.9"/><circle cx="172.8" cy="472.2" r="1.9"/><circle cx="179.9" cy="483.7" r="1.9"/><circle cx="168.4" cy="478.5" r="1.9"/></g>
<g class="c17"><circle cx="153.3" cy="445.6" r="1.9"/><circle cx="154.5" cy="449.4" r="1.9"/><circle cx="148.1" cy="449.5" r="1.9"/><circle cx="155.0" cy="444.4" r="1.9"/></g>
<g class="c7"><circle cx="157.5" cy="435.4" r="1.9"/><circle cx="162.6" cy="435.7" r="1.9"/><circle cx="172.3" cy="436.0" r="1.9"/><circle cx="167.0" cy="436.8" r="1.9"/></g>
<g class="c21"><circle cx="169.8" cy="483.2" r="1.9"/><circle cx="163.0" cy="502.2" r="1.9"/><circle cx="169.2" cy="493.6" r="1.9"/><circle cx="163.2" cy="487.8" r="1.9"/><circle cx="170.7" cy="473.9" r="1.9"/><circle cx="172.2" cy="491.3" r="1.9"/></g>
<g class="c16"><circle cx="152.3" cy="422.6" r="1.9"/><circle cx="152.8" cy="428.9" r="1.9"/><circle cx="152.9" cy="430.0" r="1.9"/><circle cx="149.7" cy="427.3" r="1.9"/><circle cx="141.8" cy="427.9" r="1.9"/><circle cx="145.9" cy="433.2" r="1.9"/></g>
<g class="c18"><circle cx="114.4" cy="457.0" r="1.9"/><circle cx="114.5" cy="455.6" r="1.9"/><circle cx="113.3" cy="441.3" r="1.9"/><circle cx="110.7" cy="447.0" r="1.9"/><circle cx="111.3" cy="449.9" r="1.9"/><circle cx="116.9" cy="450.2" r="1.9"/></g>
<g class="c29"><circle cx="157.0" cy="502.4" r="1.9"/><circle cx="133.5" cy="500.1" r="1.9"/><circle cx="134.3" cy="497.0" r="1.9"/><circle cx="152.6" cy="505.9" r="1.9"/><circle cx="157.7" cy="504.7" r="1.9"/><circle cx="138.9" cy="503.2" r="1.9"/></g>
<g class="c7"><circle cx="172.3" cy="437.5" r="1.9"/><circle cx="173.8" cy="442.5" r="1.9"/><circle cx="167.0" cy="447.6" r="1.9"/><circle cx="171.5" cy="437.2" r="1.9"/><circle cx="171.2" cy="434.4" r="1.9"/><circle cx="176.8" cy="442.8" r="1.9"/></g>
<g class="c24"><circle cx="253.3" cy="483.5" r="1.9"/><circle cx="250.9" cy="481.1" r="1.9"/><circle cx="247.6" cy="481.8" r="1.9"/><circle cx="261.0" cy="483.3" r="1.9"/></g>
<g class="c29"><circle cx="150.9" cy="504.9" r="1.9"/><circle cx="148.1" cy="498.9" r="1.9"/><circle cx="139.2" cy="505.7" r="1.9"/><circle cx="153.2" cy="486.6" r="1.9"/><circle cx="144.1" cy="505.4" r="1.9"/><circle cx="134.2" cy="506.4" r="1.9"/></g>
<g class="c9"><circle cx="141.4" cy="421.5" r="1.9"/><circle cx="137.5" cy="419.3" r="1.9"/><circle cx="138.7" cy="420.4" r="1.9"/><circle cx="134.7" cy="416.9" r="1.9"/><circle cx="141.5" cy="410.1" r="1.9"/><circle cx="135.2" cy="417.0" r="1.9"/></g>
<g class="c21"><circle cx="182.9" cy="459.0" r="1.9"/><circle cx="170.2" cy="460.8" r="1.9"/><circle cx="169.5" cy="476.5" r="1.9"/><circle cx="172.0" cy="461.9" r="1.9"/><circle cx="156.8" cy="475.4" r="1.9"/><circle cx="180.3" cy="459.1" r="1.9"/></g>
<g class="c2"><circle cx="148.6" cy="460.0" r="1.9"/><circle cx="146.2" cy="464.7" r="1.9"/><circle cx="152.6" cy="460.8" r="1.9"/><circle cx="146.4" cy="463.0" r="1.9"/><circle cx="160.7" cy="460.1" r="1.9"/><circle cx="154.8" cy="458.3" r="1.9"/></g>
<g class="c21"><circle cx="167.2" cy="476.9" r="1.9"/><circle cx="177.6" cy="474.1" r="1.9"/><circle cx="166.0" cy="472.3" r="1.9"/><circle cx="175.8" cy="466.9" r="1.9"/><circle cx="181.7" cy="468.7" r="1.9"/><circle cx="175.1" cy="457.9" r="1.9"/></g>
<g class="c23"><circle cx="232.2" cy="498.7" r="1.9"/><circle cx="241.6" cy="494.5" r="1.9"/></g>
<g class="c21"><circle cx="172.3" cy="465.6" r="1.9"/><circle cx="166.7" cy="457.4" r="1.9"/><circle cx="184.8" cy="472.1" r="1.9"/><circle cx="177.9" cy="466.7" r="1.9"/><circle cx="190.7" cy="474.2" r="1.9"/><circle cx="170.5" cy="475.1" r="1.9"/></g>
<g class="c21"><circle cx="154.5" cy="499.3" r="1.9"/><circle cx="172.0" cy="488.0" r="1.9"/><circle cx="156.3" cy="500.6" r="1.9"/><circle cx="156.4" cy="498.1" r="1.9"/><circle cx="161.8" cy="492.5" r="1.9"/><circle cx="159.7" cy="503.1" r="1.9"/></g>
<g class="c21"><circle cx="158.1" cy="502.6" r="1.9"/><circle cx="167.7" cy="493.3" r="1.9"/><circle cx="153.5" cy="484.7" r="1.9"/><circle cx="158.8" cy="498.6" r="1.9"/><circle cx="176.9" cy="476.0" r="1.9"/><circle cx="156.3" cy="502.3" r="1.9"/></g>
<g class="c21"><circle cx="147.2" cy="490.1" r="1.9"/><circle cx="153.3" cy="503.5" r="1.9"/><circle cx="148.9" cy="487.9" r="1.9"/><circle cx="145.4" cy="492.8" r="1.9"/><circle cx="146.5" cy="501.5" r="1.9"/><circle cx="157.2" cy="510.4" r="1.9"/></g>
<g class="c40"><circle cx="137.1" cy="467.2" r="1.9"/><circle cx="148.6" cy="471.1" r="1.9"/><circle cx="131.4" cy="478.0" r="1.9"/><circle cx="142.1" cy="458.9" r="1.9"/><circle cx="122.2" cy="457.3" r="1.9"/><circle cx="144.4" cy="461.9" r="1.9"/></g>
<g class="c40"><circle cx="125.5" cy="486.4" r="1.9"/><circle cx="125.6" cy="481.6" r="1.9"/><circle cx="121.8" cy="465.3" r="1.9"/><circle cx="107.6" cy="471.7" r="1.9"/><circle cx="121.8" cy="471.8" r="1.9"/><circle cx="123.4" cy="487.1" r="1.9"/></g>
<g class="c7"><circle cx="185.6" cy="427.1" r="1.9"/><circle cx="180.2" cy="431.0" r="1.9"/><circle cx="162.2" cy="429.3" r="1.9"/><circle cx="179.7" cy="423.1" r="1.9"/><circle cx="166.2" cy="427.6" r="1.9"/><circle cx="168.6" cy="424.8" r="1.9"/></g>
<g class="c12"><circle cx="136.9" cy="538.0" r="1.9"/><circle cx="147.4" cy="537.6" r="1.9"/><circle cx="138.9" cy="534.1" r="1.9"/><circle cx="132.2" cy="537.6" r="1.9"/><circle cx="140.7" cy="542.2" r="1.9"/><circle cx="142.1" cy="534.5" r="1.9"/></g>
<g class="c29"><circle cx="145.0" cy="496.9" r="1.9"/><circle cx="144.7" cy="504.0" r="1.9"/><circle cx="142.8" cy="504.0" r="1.9"/><circle cx="154.9" cy="511.5" r="1.9"/><circle cx="143.3" cy="509.9" r="1.9"/><circle cx="142.7" cy="489.6" r="1.9"/></g>
<g class="c24"><circle cx="246.2" cy="485.6" r="1.9"/><circle cx="241.4" cy="488.0" r="1.9"/><circle cx="249.8" cy="485.1" r="1.9"/><circle cx="259.0" cy="486.5" r="1.9"/><circle cx="252.2" cy="488.7" r="1.9"/><circle cx="255.0" cy="485.2" r="1.9"/></g>
<g class="c12"><circle cx="146.8" cy="533.0" r="1.9"/><circle cx="145.3" cy="531.0" r="1.9"/><circle cx="151.3" cy="534.1" r="1.9"/><circle cx="152.1" cy="532.3" r="1.9"/><circle cx="141.9" cy="539.1" r="1.9"/><circle cx="134.0" cy="538.9" r="1.9"/></g>
<g class="c44"><circle cx="160.8" cy="471.4" r="1.9"/><circle cx="125.4" cy="464.0" r="1.9"/><circle cx="148.8" cy="471.1" r="1.9"/><circle cx="152.1" cy="465.6" r="1.9"/><circle cx="161.0" cy="469.6" r="1.9"/><circle cx="158.9" cy="474.3" r="1.9"/></g>
<g class="c2"><circle cx="150.6" cy="465.6" r="1.9"/><circle cx="142.5" cy="461.5" r="1.9"/><circle cx="148.2" cy="474.9" r="1.9"/><circle cx="157.2" cy="475.3" r="1.9"/><circle cx="152.2" cy="462.4" r="1.9"/><circle cx="158.0" cy="461.6" r="1.9"/></g>
<g class="c40"><circle cx="130.3" cy="475.1" r="1.9"/><circle cx="141.3" cy="450.2" r="1.9"/><circle cx="118.4" cy="467.5" r="1.9"/><circle cx="140.0" cy="450.0" r="1.9"/><circle cx="135.2" cy="479.3" r="1.9"/><circle cx="117.5" cy="463.9" r="1.9"/></g>
<g class="c12"><circle cx="143.7" cy="538.4" r="1.9"/><circle cx="128.9" cy="534.4" r="1.9"/><circle cx="138.1" cy="536.4" r="1.9"/><circle cx="145.9" cy="528.0" r="1.9"/><circle cx="134.1" cy="533.9" r="1.9"/><circle cx="141.7" cy="526.1" r="1.9"/></g>
<g class="c40"><circle cx="123.1" cy="445.7" r="1.9"/><circle cx="138.3" cy="460.9" r="1.9"/><circle cx="119.8" cy="476.3" r="1.9"/><circle cx="140.4" cy="481.4" r="1.9"/><circle cx="132.5" cy="447.1" r="1.9"/><circle cx="148.7" cy="457.7" r="1.9"/></g>
<g class="c7"><circle cx="174.6" cy="434.8" r="1.9"/><circle cx="170.9" cy="423.1" r="1.9"/></g>
<g class="c11"><circle cx="166.6" cy="510.2" r="1.9"/><circle cx="180.7" cy="512.8" r="1.9"/><circle cx="181.0" cy="516.9" r="1.9"/><circle cx="178.0" cy="513.6" r="1.9"/><circle cx="172.6" cy="522.4" r="1.9"/><circle cx="170.4" cy="514.9" r="1.9"/></g>
<g class="c25"><circle cx="268.4" cy="505.9" r="1.9"/><circle cx="268.7" cy="499.4" r="1.9"/><circle cx="267.4" cy="503.3" r="1.9"/><circle cx="272.1" cy="499.4" r="1.9"/><circle cx="262.2" cy="505.2" r="1.9"/><circle cx="263.5" cy="508.8" r="1.9"/></g>
<polygon points="166.9,433.4 167.8,435.9 170.5,436.0 168.3,437.6 169.1,440.1 166.9,438.6 164.7,440.1 165.5,437.6 163.3,436.0 166.0,435.9" fill="#861123" fill-opacity=".85" stroke="#262626" stroke-width=".8"/>
<polygon points="137.6,464.5 138.4,467.0 141.1,467.1 139.0,468.7 139.8,471.3 137.6,469.7 135.4,471.3 136.1,468.7 134.0,467.1 136.7,467.0" fill="#22631d" fill-opacity=".85" stroke="#262626" stroke-width=".8"/>
<polygon points="140.2,468.9 141.1,471.5 143.8,471.5 141.6,473.1 142.4,475.7 140.2,474.2 138.0,475.7 138.8,473.1 136.7,471.5 139.3,471.5" fill="#6d371b" fill-opacity=".85" stroke="#262626" stroke-width=".8"/>
<polygon points="154.7,464.5 155.5,467.0 158.2,467.1 156.1,468.7 156.9,471.3 154.7,469.7 152.5,471.3 153.2,468.7 151.1,467.1 153.8,467.0" fill="#c9b1d6" fill-opacity=".85" stroke="#262626" stroke-width=".8"/>
<polygon points="168.0,476.0 168.9,478.6 171.6,478.6 169.4,480.2 170.2,482.8 168.0,481.3 165.8,482.8 166.6,480.2 164.4,478.6 167.1,478.6" fill="#fbbe72" fill-opacity=".85" stroke="#262626" stroke-width=".8"/>
<polygon points="237.6,487.8 238.4,490.3 241.1,490.4 239.0,492.0 239.8,494.6 237.6,493.1 235.4,494.6 236.1,492.0 234.0,490.4 236.7,490.3" fill="#a6cee3" fill-opacity=".85" stroke="#262626" stroke-width=".8"/>
<polygon points="114.0,500.5 114.9,503.0 117.6,503.1 115.4,504.7 116.2,507.3 114.0,505.7 111.8,507.3 112.6,504.7 110.4,503.1 113.1,503.0" fill="#ffff99" fill-opacity=".85" stroke="#262626" stroke-width=".8"/>
<polygon points="140.9,510.0 141.8,512.6 144.5,512.6 142.3,514.2 143.1,516.8 140.9,515.3 138.7,516.8 139.5,514.2 137.3,512.6 140.0,512.6" fill="#16496d" fill-opacity=".85" stroke="#262626" stroke-width=".8"/>
<rect x="308.8" y="402.3" width="197.2" height="145.7" fill="#fff" stroke="#929292" stroke-width="1.15"/>
<g class="c30"><circle cx="424.7" cy="492.9" r="1.9"/><circle cx="382.2" cy="495.7" r="1.9"/><circle cx="396.1" cy="467.8" r="1.9"/><circle cx="369.4" cy="511.5" r="1.9"/><circle cx="387.8" cy="469.2" r="1.9"/><circle cx="437.2" cy="484.5" r="1.9"/></g>
<g class="c47"><circle cx="426.2" cy="474.5" r="1.9"/><circle cx="395.2" cy="466.7" r="1.9"/><circle cx="419.9" cy="491.3" r="1.9"/><circle cx="416.5" cy="481.0" r="1.9"/><circle cx="420.5" cy="465.5" r="1.9"/><circle cx="409.6" cy="464.2" r="1.9"/></g>
<g class="c46"><circle cx="386.4" cy="493.2" r="1.9"/><circle cx="380.3" cy="466.2" r="1.9"/><circle cx="368.2" cy="485.9" r="1.9"/><circle cx="341.8" cy="483.3" r="1.9"/><circle cx="362.2" cy="472.2" r="1.9"/><circle cx="366.1" cy="478.2" r="1.9"/></g>
<g class="c22"><circle cx="361.5" cy="481.4" r="1.9"/><circle cx="367.7" cy="492.0" r="1.9"/><circle cx="348.0" cy="495.5" r="1.9"/><circle cx="317.3" cy="483.9" r="1.9"/><circle cx="328.5" cy="471.2" r="1.9"/><circle cx="392.2" cy="481.1" r="1.9"/></g>
<g class="c22"><circle cx="348.4" cy="490.0" r="1.9"/><circle cx="377.8" cy="499.4" r="1.9"/><circle cx="330.9" cy="503.7" r="1.9"/><circle cx="357.0" cy="500.5" r="1.9"/><circle cx="350.1" cy="492.0" r="1.9"/><circle cx="349.6" cy="504.2" r="1.9"/></g>
<g class="c46"><circle cx="393.5" cy="446.8" r="1.9"/><circle cx="404.9" cy="461.1" r="1.9"/><circle cx="388.9" cy="438.7" r="1.9"/><circle cx="394.1" cy="457.4" r="1.9"/><circle cx="403.0" cy="473.9" r="1.9"/><circle cx="381.1" cy="469.7" r="1.9"/></g>
<g class="c46"><circle cx="355.1" cy="463.3" r="1.9"/><circle cx="400.4" cy="479.5" r="1.9"/><circle cx="330.5" cy="480.6" r="1.9"/><circle cx="383.1" cy="498.5" r="1.9"/><circle cx="365.1" cy="468.4" r="1.9"/><circle cx="381.1" cy="480.0" r="1.9"/></g>
<g class="c22"><circle cx="365.4" cy="502.7" r="1.9"/><circle cx="348.3" cy="495.0" r="1.9"/><circle cx="357.3" cy="503.1" r="1.9"/><circle cx="346.3" cy="493.4" r="1.9"/><circle cx="387.6" cy="514.8" r="1.9"/><circle cx="358.2" cy="488.7" r="1.9"/></g>
<g class="c38"><circle cx="365.0" cy="525.6" r="1.9"/><circle cx="380.0" cy="522.3" r="1.9"/><circle cx="347.8" cy="507.7" r="1.9"/><circle cx="373.1" cy="493.4" r="1.9"/><circle cx="400.7" cy="512.9" r="1.9"/><circle cx="382.2" cy="508.1" r="1.9"/></g>
<g class="c47"><circle cx="448.1" cy="466.0" r="1.9"/><circle cx="411.6" cy="475.8" r="1.9"/><circle cx="403.7" cy="455.8" r="1.9"/><circle cx="435.3" cy="474.6" r="1.9"/><circle cx="428.2" cy="434.9" r="1.9"/><circle cx="416.7" cy="436.6" r="1.9"/></g>
<g class="c47"><circle cx="434.4" cy="425.6" r="1.9"/><circle cx="401.4" cy="475.6" r="1.9"/><circle cx="435.7" cy="438.0" r="1.9"/><circle cx="424.1" cy="471.3" r="1.9"/><circle cx="401.5" cy="452.2" r="1.9"/><circle cx="417.7" cy="452.2" r="1.9"/></g>
<g class="c22"><circle cx="324.7" cy="470.5" r="1.9"/><circle cx="322.5" cy="474.4" r="1.9"/><circle cx="363.1" cy="473.1" r="1.9"/><circle cx="329.5" cy="468.9" r="1.9"/><circle cx="361.2" cy="488.3" r="1.9"/><circle cx="363.5" cy="486.2" r="1.9"/></g>
<g class="c30"><circle cx="392.6" cy="467.5" r="1.9"/><circle cx="381.2" cy="474.6" r="1.9"/><circle cx="434.2" cy="485.3" r="1.9"/><circle cx="416.8" cy="495.5" r="1.9"/><circle cx="354.7" cy="471.5" r="1.9"/><circle cx="376.1" cy="479.5" r="1.9"/></g>
<g class="c30"><circle cx="439.3" cy="467.3" r="1.9"/><circle cx="459.0" cy="497.9" r="1.9"/><circle cx="416.1" cy="491.3" r="1.9"/><circle cx="361.0" cy="494.2" r="1.9"/><circle cx="398.8" cy="490.6" r="1.9"/><circle cx="358.8" cy="478.5" r="1.9"/></g>
<g class="c22"><circle cx="357.5" cy="481.3" r="1.9"/><circle cx="384.4" cy="495.1" r="1.9"/><circle cx="352.0" cy="494.7" r="1.9"/><circle cx="357.5" cy="494.3" r="1.9"/><circle cx="339.3" cy="522.3" r="1.9"/><circle cx="349.3" cy="480.4" r="1.9"/></g>
<g class="c22"><circle cx="335.6" cy="503.2" r="1.9"/><circle cx="360.6" cy="505.2" r="1.9"/><circle cx="348.6" cy="496.0" r="1.9"/><circle cx="338.1" cy="520.4" r="1.9"/><circle cx="374.9" cy="496.8" r="1.9"/><circle cx="349.5" cy="503.9" r="1.9"/></g>
<g class="c47"><circle cx="422.2" cy="439.7" r="1.9"/><circle cx="458.5" cy="449.5" r="1.9"/><circle cx="428.5" cy="469.6" r="1.9"/><circle cx="406.6" cy="452.8" r="1.9"/><circle cx="400.9" cy="451.1" r="1.9"/><circle cx="426.4" cy="431.4" r="1.9"/></g>
<g class="c46"><circle cx="386.0" cy="467.0" r="1.9"/><circle cx="385.9" cy="451.9" r="1.9"/><circle cx="395.3" cy="461.4" r="1.9"/><circle cx="376.3" cy="457.5" r="1.9"/><circle cx="406.0" cy="480.7" r="1.9"/><circle cx="402.7" cy="468.1" r="1.9"/></g>
<g class="c47"><circle cx="425.2" cy="449.4" r="1.9"/><circle cx="412.4" cy="475.4" r="1.9"/><circle cx="399.6" cy="428.8" r="1.9"/><circle cx="428.9" cy="464.9" r="1.9"/><circle cx="427.5" cy="423.3" r="1.9"/><circle cx="427.6" cy="452.0" r="1.9"/></g>
<g class="c30"><circle cx="400.4" cy="505.2" r="1.9"/><circle cx="456.9" cy="473.7" r="1.9"/><circle cx="423.9" cy="520.3" r="1.9"/></g>
<g class="c22"><circle cx="382.8" cy="488.2" r="1.9"/><circle cx="384.8" cy="517.5" r="1.9"/><circle cx="363.7" cy="504.3" r="1.9"/><circle cx="377.4" cy="517.4" r="1.9"/><circle cx="381.5" cy="478.3" r="1.9"/><circle cx="343.2" cy="495.5" r="1.9"/></g>
<g class="c22"><circle cx="380.1" cy="491.4" r="1.9"/><circle cx="388.0" cy="520.9" r="1.9"/><circle cx="370.6" cy="484.6" r="1.9"/><circle cx="382.8" cy="515.2" r="1.9"/><circle cx="396.7" cy="500.5" r="1.9"/><circle cx="374.3" cy="491.8" r="1.9"/></g>
<g class="c22"><circle cx="354.6" cy="505.7" r="1.9"/><circle cx="364.7" cy="498.6" r="1.9"/><circle cx="353.7" cy="493.5" r="1.9"/><circle cx="343.2" cy="493.2" r="1.9"/><circle cx="392.4" cy="499.4" r="1.9"/><circle cx="397.3" cy="511.5" r="1.9"/></g>
<g class="c24"><circle cx="462.8" cy="506.1" r="1.9"/><circle cx="484.3" cy="507.6" r="1.9"/><circle cx="441.1" cy="515.0" r="1.9"/><circle cx="454.2" cy="519.7" r="1.9"/><circle cx="480.1" cy="492.5" r="1.9"/><circle cx="469.4" cy="529.7" r="1.9"/></g>
<g class="c38"><circle cx="371.4" cy="496.7" r="1.9"/><circle cx="355.1" cy="514.2" r="1.9"/><circle cx="344.5" cy="488.9" r="1.9"/><circle cx="380.5" cy="514.0" r="1.9"/><circle cx="389.8" cy="502.0" r="1.9"/><circle cx="374.7" cy="516.0" r="1.9"/></g>
<g class="c47"><circle cx="412.1" cy="415.1" r="1.9"/><circle cx="439.9" cy="474.8" r="1.9"/><circle cx="423.4" cy="429.6" r="1.9"/><circle cx="403.7" cy="436.4" r="1.9"/><circle cx="458.6" cy="467.2" r="1.9"/><circle cx="415.8" cy="440.6" r="1.9"/></g>
<g class="c24"><circle cx="468.6" cy="513.1" r="1.9"/><circle cx="455.0" cy="521.5" r="1.9"/><circle cx="436.7" cy="518.5" r="1.9"/><circle cx="462.5" cy="511.3" r="1.9"/><circle cx="443.6" cy="505.0" r="1.9"/><circle cx="461.9" cy="510.1" r="1.9"/></g>
<g class="c24"><circle cx="486.1" cy="488.4" r="1.9"/><circle cx="461.0" cy="517.8" r="1.9"/><circle cx="430.0" cy="529.2" r="1.9"/><circle cx="433.5" cy="516.9" r="1.9"/><circle cx="477.5" cy="508.2" r="1.9"/><circle cx="497.3" cy="512.4" r="1.9"/></g>
<g class="c47"><circle cx="426.8" cy="460.3" r="1.9"/><circle cx="423.7" cy="460.0" r="1.9"/><circle cx="420.8" cy="453.9" r="1.9"/><circle cx="419.7" cy="433.6" r="1.9"/><circle cx="392.9" cy="466.0" r="1.9"/><circle cx="417.5" cy="456.5" r="1.9"/></g>
<g class="c38"><circle cx="341.5" cy="494.3" r="1.9"/><circle cx="334.6" cy="512.0" r="1.9"/><circle cx="367.0" cy="509.7" r="1.9"/><circle cx="337.5" cy="513.4" r="1.9"/><circle cx="371.2" cy="509.6" r="1.9"/><circle cx="377.0" cy="499.2" r="1.9"/></g>
<g class="c38"><circle cx="388.4" cy="498.4" r="1.9"/><circle cx="362.8" cy="497.0" r="1.9"/><circle cx="383.0" cy="480.7" r="1.9"/><circle cx="389.3" cy="504.9" r="1.9"/><circle cx="413.6" cy="520.6" r="1.9"/><circle cx="394.5" cy="512.3" r="1.9"/></g>
<g class="c22"><circle cx="338.8" cy="478.7" r="1.9"/><circle cx="322.0" cy="492.3" r="1.9"/><circle cx="365.5" cy="491.9" r="1.9"/><circle cx="394.0" cy="502.4" r="1.9"/><circle cx="335.6" cy="484.3" r="1.9"/><circle cx="369.3" cy="498.5" r="1.9"/></g>
<g class="c46"><circle cx="379.6" cy="463.1" r="1.9"/><circle cx="372.1" cy="445.1" r="1.9"/><circle cx="374.3" cy="481.7" r="1.9"/><circle cx="343.9" cy="444.3" r="1.9"/><circle cx="365.7" cy="460.5" r="1.9"/><circle cx="378.9" cy="472.4" r="1.9"/></g>
<g class="c24"><circle cx="466.7" cy="506.3" r="1.9"/><circle cx="492.0" cy="516.3" r="1.9"/><circle cx="446.7" cy="520.2" r="1.9"/><circle cx="448.0" cy="495.1" r="1.9"/><circle cx="467.8" cy="485.7" r="1.9"/><circle cx="473.5" cy="491.5" r="1.9"/></g>
<g class="c27"><circle cx="445.3" cy="478.1" r="1.9"/><circle cx="441.6" cy="478.1" r="1.9"/><circle cx="460.9" cy="488.3" r="1.9"/><circle cx="451.2" cy="487.5" r="1.9"/><circle cx="435.5" cy="486.4" r="1.9"/><circle cx="407.2" cy="466.1" r="1.9"/></g>
<g class="c46"><circle cx="390.1" cy="460.9" r="1.9"/><circle cx="370.7" cy="456.8" r="1.9"/><circle cx="354.5" cy="456.9" r="1.9"/><circle cx="381.4" cy="456.2" r="1.9"/><circle cx="364.5" cy="457.3" r="1.9"/><circle cx="338.6" cy="461.1" r="1.9"/></g>
<g class="c27"><circle cx="420.0" cy="517.4" r="1.9"/><circle cx="423.3" cy="489.6" r="1.9"/><circle cx="451.4" cy="480.1" r="1.9"/><circle cx="447.7" cy="471.2" r="1.9"/><circle cx="426.0" cy="494.5" r="1.9"/><circle cx="421.2" cy="479.0" r="1.9"/></g>
<g class="c47"><circle cx="419.9" cy="451.1" r="1.9"/><circle cx="399.2" cy="471.1" r="1.9"/><circle cx="432.0" cy="460.2" r="1.9"/><circle cx="419.0" cy="431.5" r="1.9"/><circle cx="421.3" cy="467.6" r="1.9"/><circle cx="404.9" cy="459.8" r="1.9"/></g>
<g class="c38"><circle cx="400.8" cy="504.3" r="1.9"/><circle cx="363.1" cy="500.5" r="1.9"/><circle cx="341.8" cy="484.7" r="1.9"/><circle cx="372.5" cy="492.0" r="1.9"/><circle cx="336.3" cy="513.2" r="1.9"/><circle cx="365.9" cy="512.7" r="1.9"/></g>
<g class="c22"><circle cx="314.0" cy="487.5" r="1.9"/><circle cx="358.5" cy="502.9" r="1.9"/><circle cx="373.3" cy="497.9" r="1.9"/><circle cx="387.1" cy="487.7" r="1.9"/><circle cx="340.1" cy="496.1" r="1.9"/><circle cx="389.5" cy="517.2" r="1.9"/></g>
<g class="c27"><circle cx="463.3" cy="480.9" r="1.9"/><circle cx="459.6" cy="511.5" r="1.9"/><circle cx="458.8" cy="497.1" r="1.9"/><circle cx="448.0" cy="516.3" r="1.9"/><circle cx="444.3" cy="508.2" r="1.9"/><circle cx="453.5" cy="508.0" r="1.9"/></g>
<g class="c46"><circle cx="396.0" cy="479.2" r="1.9"/><circle cx="396.6" cy="471.4" r="1.9"/><circle cx="397.6" cy="432.0" r="1.9"/><circle cx="377.4" cy="449.4" r="1.9"/><circle cx="385.6" cy="462.0" r="1.9"/><circle cx="402.7" cy="453.1" r="1.9"/></g>
<g class="c46"><circle cx="376.0" cy="480.5" r="1.9"/><circle cx="337.5" cy="460.8" r="1.9"/><circle cx="358.5" cy="466.2" r="1.9"/><circle cx="323.8" cy="479.4" r="1.9"/><circle cx="348.4" cy="473.2" r="1.9"/><circle cx="366.8" cy="454.5" r="1.9"/></g>
<g class="c47"><circle cx="433.7" cy="458.2" r="1.9"/><circle cx="412.7" cy="487.6" r="1.9"/><circle cx="457.5" cy="451.7" r="1.9"/><circle cx="444.3" cy="453.6" r="1.9"/><circle cx="441.9" cy="420.5" r="1.9"/><circle cx="423.2" cy="456.5" r="1.9"/></g>
<g class="c47"><circle cx="400.7" cy="482.6" r="1.9"/><circle cx="388.4" cy="443.8" r="1.9"/><circle cx="409.5" cy="471.0" r="1.9"/><circle cx="435.6" cy="454.0" r="1.9"/><circle cx="424.2" cy="471.1" r="1.9"/><circle cx="409.3" cy="440.0" r="1.9"/></g>
<g class="c38"><circle cx="350.9" cy="503.3" r="1.9"/><circle cx="351.0" cy="511.1" r="1.9"/><circle cx="404.4" cy="492.5" r="1.9"/><circle cx="391.0" cy="499.8" r="1.9"/><circle cx="386.2" cy="515.3" r="1.9"/><circle cx="386.3" cy="510.8" r="1.9"/></g>
<g class="c22"><circle cx="385.5" cy="494.7" r="1.9"/><circle cx="356.2" cy="495.4" r="1.9"/><circle cx="377.7" cy="487.9" r="1.9"/><circle cx="335.5" cy="465.6" r="1.9"/><circle cx="347.8" cy="462.1" r="1.9"/><circle cx="335.2" cy="470.3" r="1.9"/></g>
<g class="c30"><circle cx="368.3" cy="489.5" r="1.9"/><circle cx="437.9" cy="460.2" r="1.9"/><circle cx="425.9" cy="500.2" r="1.9"/><circle cx="425.4" cy="460.8" r="1.9"/><circle cx="445.5" cy="490.5" r="1.9"/><circle cx="391.2" cy="515.8" r="1.9"/></g>
<g class="c22"><circle cx="370.4" cy="501.2" r="1.9"/><circle cx="357.9" cy="497.0" r="1.9"/><circle cx="391.8" cy="494.7" r="1.9"/><circle cx="380.3" cy="488.0" r="1.9"/><circle cx="324.8" cy="482.5" r="1.9"/><circle cx="390.7" cy="482.4" r="1.9"/></g>
<g class="c47"><circle cx="436.2" cy="462.2" r="1.9"/><circle cx="425.2" cy="420.1" r="1.9"/><circle cx="425.2" cy="440.8" r="1.9"/><circle cx="417.0" cy="459.2" r="1.9"/><circle cx="403.2" cy="458.0" r="1.9"/><circle cx="396.6" cy="486.8" r="1.9"/></g>
<g class="c47"><circle cx="412.2" cy="492.1" r="1.9"/><circle cx="389.2" cy="466.8" r="1.9"/></g>
<g class="c46"><circle cx="385.1" cy="477.9" r="1.9"/><circle cx="344.7" cy="442.9" r="1.9"/><circle cx="357.7" cy="454.5" r="1.9"/><circle cx="366.8" cy="462.5" r="1.9"/><circle cx="346.5" cy="459.7" r="1.9"/><circle cx="385.8" cy="451.9" r="1.9"/></g>
<g class="c24"><circle cx="459.6" cy="506.1" r="1.9"/><circle cx="442.5" cy="514.0" r="1.9"/><circle cx="472.4" cy="520.0" r="1.9"/><circle cx="484.8" cy="492.4" r="1.9"/><circle cx="484.6" cy="504.8" r="1.9"/><circle cx="476.0" cy="508.6" r="1.9"/></g>
<g class="c47"><circle cx="388.0" cy="458.7" r="1.9"/><circle cx="423.6" cy="467.7" r="1.9"/><circle cx="435.1" cy="474.7" r="1.9"/><circle cx="418.9" cy="473.1" r="1.9"/><circle cx="424.6" cy="461.0" r="1.9"/><circle cx="437.2" cy="459.2" r="1.9"/></g>
<g class="c22"><circle cx="363.3" cy="493.8" r="1.9"/><circle cx="379.6" cy="499.8" r="1.9"/><circle cx="372.3" cy="495.6" r="1.9"/><circle cx="339.3" cy="497.5" r="1.9"/><circle cx="396.5" cy="477.9" r="1.9"/><circle cx="337.4" cy="481.5" r="1.9"/></g>
<g class="c22"><circle cx="380.8" cy="494.3" r="1.9"/><circle cx="385.9" cy="498.4" r="1.9"/><circle cx="361.2" cy="490.7" r="1.9"/><circle cx="402.4" cy="493.1" r="1.9"/><circle cx="327.3" cy="491.9" r="1.9"/><circle cx="333.1" cy="475.1" r="1.9"/></g>
<g class="c27"><circle cx="411.2" cy="465.2" r="1.9"/><circle cx="447.6" cy="463.7" r="1.9"/><circle cx="448.5" cy="459.5" r="1.9"/><circle cx="434.7" cy="475.2" r="1.9"/><circle cx="432.9" cy="460.6" r="1.9"/><circle cx="445.4" cy="438.3" r="1.9"/></g>
<g class="c46"><circle cx="372.2" cy="483.7" r="1.9"/><circle cx="390.5" cy="492.4" r="1.9"/><circle cx="376.6" cy="474.5" r="1.9"/><circle cx="371.1" cy="471.8" r="1.9"/><circle cx="385.3" cy="493.7" r="1.9"/><circle cx="357.8" cy="476.3" r="1.9"/></g>
<g class="c22"><circle cx="380.4" cy="494.6" r="1.9"/><circle cx="367.4" cy="492.4" r="1.9"/><circle cx="355.4" cy="507.9" r="1.9"/><circle cx="363.0" cy="491.8" r="1.9"/><circle cx="403.1" cy="484.7" r="1.9"/><circle cx="344.5" cy="478.2" r="1.9"/></g>
<g class="c46"><circle cx="371.3" cy="460.0" r="1.9"/><circle cx="374.7" cy="465.9" r="1.9"/><circle cx="354.2" cy="456.8" r="1.9"/><circle cx="358.9" cy="465.2" r="1.9"/><circle cx="352.7" cy="483.1" r="1.9"/><circle cx="359.3" cy="464.7" r="1.9"/></g>
<g class="c47"><circle cx="398.5" cy="469.1" r="1.9"/><circle cx="397.2" cy="459.3" r="1.9"/><circle cx="401.5" cy="485.9" r="1.9"/><circle cx="395.0" cy="461.6" r="1.9"/><circle cx="412.8" cy="459.3" r="1.9"/><circle cx="405.7" cy="448.9" r="1.9"/></g>
<g class="c24"><circle cx="469.4" cy="524.7" r="1.9"/><circle cx="471.8" cy="508.9" r="1.9"/><circle cx="466.1" cy="496.3" r="1.9"/><circle cx="482.9" cy="504.1" r="1.9"/><circle cx="475.6" cy="535.9" r="1.9"/><circle cx="489.2" cy="506.3" r="1.9"/></g>
<g class="c27"><circle cx="426.8" cy="489.0" r="1.9"/><circle cx="438.6" cy="475.0" r="1.9"/><circle cx="462.0" cy="447.6" r="1.9"/><circle cx="418.2" cy="477.9" r="1.9"/><circle cx="452.7" cy="472.5" r="1.9"/><circle cx="448.5" cy="441.4" r="1.9"/></g>
<g class="c24"><circle cx="472.7" cy="512.5" r="1.9"/><circle cx="471.0" cy="502.1" r="1.9"/><circle cx="469.5" cy="514.0" r="1.9"/><circle cx="459.8" cy="530.9" r="1.9"/><circle cx="428.4" cy="508.3" r="1.9"/><circle cx="440.3" cy="511.3" r="1.9"/></g>
<g class="c24"><circle cx="470.6" cy="509.2" r="1.9"/><circle cx="482.3" cy="504.5" r="1.9"/><circle cx="486.2" cy="503.0" r="1.9"/><circle cx="493.0" cy="498.5" r="1.9"/><circle cx="456.1" cy="509.7" r="1.9"/><circle cx="473.6" cy="519.0" r="1.9"/></g>
<g class="c22"><circle cx="365.6" cy="482.7" r="1.9"/><circle cx="350.7" cy="476.8" r="1.9"/><circle cx="329.9" cy="461.9" r="1.9"/><circle cx="345.1" cy="467.3" r="1.9"/><circle cx="334.0" cy="483.2" r="1.9"/><circle cx="362.9" cy="471.0" r="1.9"/></g>
<g class="c47"><circle cx="444.6" cy="449.1" r="1.9"/><circle cx="426.4" cy="469.8" r="1.9"/><circle cx="414.0" cy="447.0" r="1.9"/><circle cx="423.2" cy="443.3" r="1.9"/><circle cx="419.6" cy="439.8" r="1.9"/><circle cx="402.8" cy="461.0" r="1.9"/></g>
<g class="c27"><circle cx="456.8" cy="502.7" r="1.9"/><circle cx="458.1" cy="486.8" r="1.9"/><circle cx="465.9" cy="483.6" r="1.9"/><circle cx="457.4" cy="497.9" r="1.9"/><circle cx="442.8" cy="493.7" r="1.9"/><circle cx="432.1" cy="507.0" r="1.9"/></g>
<g class="c24"><circle cx="464.4" cy="538.6" r="1.9"/><circle cx="481.7" cy="524.0" r="1.9"/><circle cx="481.4" cy="512.7" r="1.9"/><circle cx="459.6" cy="509.4" r="1.9"/><circle cx="482.2" cy="520.1" r="1.9"/><circle cx="451.1" cy="507.0" r="1.9"/></g>
<g class="c27"><circle cx="461.3" cy="477.8" r="1.9"/><circle cx="438.2" cy="497.2" r="1.9"/><circle cx="452.6" cy="482.2" r="1.9"/><circle cx="448.6" cy="485.4" r="1.9"/><circle cx="456.0" cy="488.8" r="1.9"/><circle cx="440.8" cy="487.7" r="1.9"/></g>
<g class="c30"><circle cx="437.7" cy="490.9" r="1.9"/><circle cx="415.7" cy="498.6" r="1.9"/><circle cx="385.7" cy="503.1" r="1.9"/><circle cx="417.1" cy="470.5" r="1.9"/><circle cx="356.0" cy="492.6" r="1.9"/><circle cx="442.1" cy="481.6" r="1.9"/></g>
<g class="c22"><circle cx="364.6" cy="504.6" r="1.9"/><circle cx="351.1" cy="493.3" r="1.9"/><circle cx="351.1" cy="491.1" r="1.9"/><circle cx="381.4" cy="491.1" r="1.9"/><circle cx="352.8" cy="503.5" r="1.9"/><circle cx="319.6" cy="518.6" r="1.9"/></g>
<g class="c46"><circle cx="381.8" cy="459.9" r="1.9"/><circle cx="379.4" cy="492.4" r="1.9"/><circle cx="371.4" cy="472.4" r="1.9"/><circle cx="331.8" cy="485.3" r="1.9"/><circle cx="369.6" cy="473.5" r="1.9"/><circle cx="386.2" cy="473.6" r="1.9"/></g>
<g class="c22"><circle cx="347.7" cy="467.8" r="1.9"/><circle cx="376.4" cy="483.0" r="1.9"/><circle cx="377.8" cy="508.4" r="1.9"/><circle cx="404.5" cy="514.4" r="1.9"/><circle cx="359.6" cy="483.0" r="1.9"/><circle cx="350.3" cy="497.0" r="1.9"/></g>
<g class="c24"><circle cx="459.2" cy="504.8" r="1.9"/><circle cx="455.4" cy="522.8" r="1.9"/><circle cx="468.2" cy="483.9" r="1.9"/><circle cx="443.3" cy="505.2" r="1.9"/><circle cx="491.0" cy="519.2" r="1.9"/><circle cx="449.8" cy="505.9" r="1.9"/></g>
<g class="c47"><circle cx="458.9" cy="462.8" r="1.9"/><circle cx="409.6" cy="455.4" r="1.9"/><circle cx="412.2" cy="444.1" r="1.9"/><circle cx="428.6" cy="444.6" r="1.9"/><circle cx="435.7" cy="465.8" r="1.9"/><circle cx="445.9" cy="441.1" r="1.9"/></g>
<g class="c38"><circle cx="338.9" cy="493.1" r="1.9"/><circle cx="358.3" cy="506.2" r="1.9"/><circle cx="324.3" cy="482.7" r="1.9"/><circle cx="401.5" cy="508.0" r="1.9"/><circle cx="347.4" cy="485.0" r="1.9"/><circle cx="404.0" cy="511.1" r="1.9"/></g>
<g class="c27"><circle cx="426.9" cy="501.1" r="1.9"/><circle cx="438.0" cy="478.6" r="1.9"/><circle cx="479.2" cy="497.3" r="1.9"/><circle cx="483.1" cy="488.1" r="1.9"/><circle cx="450.9" cy="495.3" r="1.9"/><circle cx="450.4" cy="497.4" r="1.9"/></g>
<g class="c30"><circle cx="421.0" cy="518.8" r="1.9"/><circle cx="443.3" cy="485.8" r="1.9"/><circle cx="466.1" cy="466.4" r="1.9"/><circle cx="390.0" cy="495.1" r="1.9"/><circle cx="437.8" cy="488.6" r="1.9"/><circle cx="409.2" cy="473.7" r="1.9"/></g>
<g class="c46"><circle cx="403.2" cy="462.5" r="1.9"/><circle cx="384.5" cy="494.0" r="1.9"/><circle cx="391.5" cy="483.2" r="1.9"/><circle cx="380.0" cy="474.5" r="1.9"/></g>
<g class="c46"><circle cx="362.0" cy="460.2" r="1.9"/><circle cx="364.4" cy="462.8" r="1.9"/><circle cx="366.0" cy="458.5" r="1.9"/><circle cx="381.1" cy="458.4" r="1.9"/><circle cx="375.4" cy="475.2" r="1.9"/><circle cx="385.4" cy="463.8" r="1.9"/></g>
<g class="c46"><circle cx="354.7" cy="478.0" r="1.9"/><circle cx="369.8" cy="474.5" r="1.9"/><circle cx="352.6" cy="469.9" r="1.9"/><circle cx="385.8" cy="465.0" r="1.9"/><circle cx="362.8" cy="457.9" r="1.9"/><circle cx="357.5" cy="450.9" r="1.9"/></g>
<g class="c22"><circle cx="376.9" cy="493.9" r="1.9"/><circle cx="390.0" cy="503.2" r="1.9"/><circle cx="367.2" cy="475.5" r="1.9"/><circle cx="327.6" cy="470.9" r="1.9"/><circle cx="366.0" cy="485.9" r="1.9"/><circle cx="336.1" cy="502.8" r="1.9"/></g>
<g class="c46"><circle cx="349.9" cy="466.2" r="1.9"/><circle cx="357.3" cy="474.8" r="1.9"/><circle cx="368.9" cy="471.1" r="1.9"/><circle cx="377.8" cy="468.1" r="1.9"/><circle cx="327.7" cy="481.3" r="1.9"/><circle cx="366.8" cy="470.3" r="1.9"/></g>
<g class="c38"><circle cx="394.8" cy="500.6" r="1.9"/><circle cx="380.2" cy="496.7" r="1.9"/><circle cx="408.4" cy="504.5" r="1.9"/><circle cx="331.2" cy="484.7" r="1.9"/><circle cx="406.0" cy="499.7" r="1.9"/><circle cx="380.7" cy="522.4" r="1.9"/></g>
<g class="c22"><circle cx="366.2" cy="478.6" r="1.9"/><circle cx="397.7" cy="486.2" r="1.9"/><circle cx="393.1" cy="483.6" r="1.9"/><circle cx="348.5" cy="485.7" r="1.9"/><circle cx="365.8" cy="490.4" r="1.9"/><circle cx="398.4" cy="495.6" r="1.9"/></g>
<g class="c22"><circle cx="352.6" cy="487.6" r="1.9"/><circle cx="339.0" cy="457.3" r="1.9"/><circle cx="371.7" cy="485.9" r="1.9"/><circle cx="349.0" cy="482.0" r="1.9"/><circle cx="333.8" cy="489.9" r="1.9"/><circle cx="374.9" cy="479.5" r="1.9"/></g>
<g class="c38"><circle cx="336.3" cy="508.0" r="1.9"/><circle cx="346.3" cy="510.4" r="1.9"/><circle cx="346.7" cy="517.2" r="1.9"/><circle cx="375.4" cy="509.1" r="1.9"/><circle cx="370.4" cy="528.8" r="1.9"/><circle cx="341.0" cy="510.2" r="1.9"/></g>
<g class="c46"><circle cx="383.0" cy="469.7" r="1.9"/><circle cx="365.9" cy="471.3" r="1.9"/><circle cx="402.3" cy="474.2" r="1.9"/><circle cx="361.8" cy="450.1" r="1.9"/><circle cx="349.3" cy="458.1" r="1.9"/><circle cx="358.0" cy="467.5" r="1.9"/></g>
<g class="c46"><circle cx="351.5" cy="477.1" r="1.9"/><circle cx="366.2" cy="490.2" r="1.9"/><circle cx="407.5" cy="494.2" r="1.9"/><circle cx="385.1" cy="475.2" r="1.9"/><circle cx="381.2" cy="488.3" r="1.9"/><circle cx="370.2" cy="471.2" r="1.9"/></g>
<g class="c38"><circle cx="339.8" cy="494.7" r="1.9"/><circle cx="387.7" cy="521.6" r="1.9"/><circle cx="383.4" cy="526.2" r="1.9"/><circle cx="361.6" cy="527.3" r="1.9"/><circle cx="378.9" cy="496.5" r="1.9"/><circle cx="362.5" cy="524.7" r="1.9"/></g>
<g class="c47"><circle cx="458.8" cy="449.5" r="1.9"/><circle cx="416.3" cy="460.7" r="1.9"/><circle cx="457.8" cy="458.8" r="1.9"/><circle cx="438.2" cy="456.6" r="1.9"/><circle cx="420.8" cy="480.0" r="1.9"/><circle cx="411.8" cy="473.4" r="1.9"/></g>
<g class="c46"><circle cx="371.0" cy="487.8" r="1.9"/><circle cx="340.0" cy="474.6" r="1.9"/><circle cx="335.8" cy="496.5" r="1.9"/><circle cx="379.6" cy="468.0" r="1.9"/><circle cx="358.1" cy="460.7" r="1.9"/><circle cx="376.8" cy="479.2" r="1.9"/></g>
<g class="c27"><circle cx="446.1" cy="466.4" r="1.9"/><circle cx="421.7" cy="500.4" r="1.9"/><circle cx="414.7" cy="502.2" r="1.9"/><circle cx="430.8" cy="445.3" r="1.9"/><circle cx="444.1" cy="466.4" r="1.9"/><circle cx="441.9" cy="488.8" r="1.9"/></g>
<g class="c46"><circle cx="400.0" cy="476.7" r="1.9"/><circle cx="360.7" cy="470.2" r="1.9"/><circle cx="366.7" cy="488.1" r="1.9"/><circle cx="365.8" cy="448.2" r="1.9"/><circle cx="352.9" cy="477.2" r="1.9"/><circle cx="342.9" cy="458.3" r="1.9"/></g>
<g class="c22"><circle cx="407.5" cy="514.4" r="1.9"/><circle cx="379.0" cy="496.0" r="1.9"/><circle cx="340.9" cy="471.9" r="1.9"/><circle cx="360.0" cy="491.3" r="1.9"/><circle cx="350.8" cy="502.1" r="1.9"/><circle cx="353.9" cy="497.6" r="1.9"/></g>
<g class="c46"><circle cx="349.2" cy="460.0" r="1.9"/><circle cx="380.4" cy="488.1" r="1.9"/><circle cx="355.8" cy="462.9" r="1.9"/><circle cx="342.2" cy="484.6" r="1.9"/><circle cx="350.6" cy="458.1" r="1.9"/><circle cx="352.4" cy="464.3" r="1.9"/></g>
<g class="c47"><circle cx="419.1" cy="431.6" r="1.9"/><circle cx="400.7" cy="433.6" r="1.9"/><circle cx="422.7" cy="455.8" r="1.9"/><circle cx="390.4" cy="454.6" r="1.9"/><circle cx="433.7" cy="439.2" r="1.9"/><circle cx="411.3" cy="480.2" r="1.9"/></g>
<g class="c27"><circle cx="410.0" cy="493.4" r="1.9"/><circle cx="416.0" cy="517.1" r="1.9"/><circle cx="391.8" cy="497.0" r="1.9"/><circle cx="411.9" cy="518.7" r="1.9"/><circle cx="409.5" cy="476.1" r="1.9"/><circle cx="407.1" cy="497.1" r="1.9"/></g>
<g class="c38"><circle cx="337.4" cy="506.3" r="1.9"/><circle cx="388.0" cy="485.0" r="1.9"/><circle cx="329.4" cy="501.5" r="1.9"/><circle cx="394.7" cy="508.5" r="1.9"/><circle cx="373.7" cy="495.6" r="1.9"/><circle cx="362.9" cy="509.8" r="1.9"/></g>
<g class="c24"><circle cx="471.1" cy="512.9" r="1.9"/><circle cx="471.4" cy="504.1" r="1.9"/><circle cx="450.5" cy="513.9" r="1.9"/><circle cx="446.4" cy="522.9" r="1.9"/><circle cx="441.9" cy="529.6" r="1.9"/><circle cx="463.1" cy="506.0" r="1.9"/></g>
<g class="c22"><circle cx="354.9" cy="484.7" r="1.9"/><circle cx="389.6" cy="481.4" r="1.9"/><circle cx="346.0" cy="480.6" r="1.9"/><circle cx="356.1" cy="492.5" r="1.9"/><circle cx="339.1" cy="462.5" r="1.9"/><circle cx="352.0" cy="483.6" r="1.9"/></g>
<g class="c24"><circle cx="448.5" cy="521.7" r="1.9"/><circle cx="492.7" cy="511.7" r="1.9"/><circle cx="472.1" cy="514.6" r="1.9"/><circle cx="470.1" cy="497.0" r="1.9"/><circle cx="462.6" cy="532.1" r="1.9"/><circle cx="464.1" cy="523.8" r="1.9"/></g>
<g class="c46"><circle cx="363.4" cy="461.9" r="1.9"/><circle cx="356.0" cy="485.6" r="1.9"/><circle cx="339.1" cy="468.1" r="1.9"/><circle cx="373.6" cy="487.0" r="1.9"/><circle cx="319.2" cy="492.7" r="1.9"/><circle cx="382.4" cy="460.4" r="1.9"/></g>
<g class="c47"><circle cx="403.4" cy="479.9" r="1.9"/><circle cx="400.5" cy="489.4" r="1.9"/><circle cx="409.6" cy="483.4" r="1.9"/><circle cx="391.0" cy="478.1" r="1.9"/><circle cx="396.3" cy="479.5" r="1.9"/><circle cx="399.4" cy="496.2" r="1.9"/></g>
<g class="c38"><circle cx="317.7" cy="489.7" r="1.9"/><circle cx="389.6" cy="485.2" r="1.9"/><circle cx="369.2" cy="499.3" r="1.9"/><circle cx="368.1" cy="522.1" r="1.9"/><circle cx="334.4" cy="489.6" r="1.9"/><circle cx="356.8" cy="519.7" r="1.9"/></g>
<g class="c30"><circle cx="418.4" cy="478.9" r="1.9"/><circle cx="408.3" cy="507.2" r="1.9"/><circle cx="414.2" cy="502.0" r="1.9"/><circle cx="446.4" cy="480.1" r="1.9"/><circle cx="395.9" cy="476.6" r="1.9"/><circle cx="387.9" cy="458.2" r="1.9"/></g>
<g class="c22"><circle cx="360.5" cy="504.0" r="1.9"/><circle cx="355.8" cy="495.2" r="1.9"/><circle cx="370.2" cy="485.0" r="1.9"/><circle cx="353.4" cy="516.3" r="1.9"/><circle cx="334.2" cy="501.5" r="1.9"/><circle cx="347.9" cy="503.5" r="1.9"/></g>
<g class="c47"><circle cx="428.9" cy="457.0" r="1.9"/><circle cx="417.2" cy="444.3" r="1.9"/><circle cx="390.8" cy="457.3" r="1.9"/><circle cx="424.0" cy="484.7" r="1.9"/><circle cx="432.0" cy="496.9" r="1.9"/><circle cx="428.7" cy="493.1" r="1.9"/></g>
<g class="c47"><circle cx="408.1" cy="437.0" r="1.9"/><circle cx="380.2" cy="431.0" r="1.9"/><circle cx="415.7" cy="455.4" r="1.9"/><circle cx="399.8" cy="465.7" r="1.9"/><circle cx="425.5" cy="414.9" r="1.9"/><circle cx="399.0" cy="453.9" r="1.9"/></g>
<g class="c46"><circle cx="382.7" cy="477.2" r="1.9"/><circle cx="362.0" cy="466.3" r="1.9"/><circle cx="376.0" cy="486.6" r="1.9"/><circle cx="357.1" cy="494.0" r="1.9"/><circle cx="379.9" cy="480.7" r="1.9"/><circle cx="396.0" cy="490.3" r="1.9"/></g>
<g class="c22"><circle cx="358.8" cy="515.1" r="1.9"/><circle cx="355.7" cy="494.9" r="1.9"/><circle cx="330.3" cy="487.9" r="1.9"/><circle cx="361.8" cy="510.1" r="1.9"/><circle cx="339.5" cy="512.8" r="1.9"/><circle cx="366.2" cy="491.7" r="1.9"/></g>
<g class="c47"><circle cx="382.6" cy="446.1" r="1.9"/><circle cx="417.1" cy="433.4" r="1.9"/><circle cx="438.9" cy="461.3" r="1.9"/><circle cx="437.5" cy="421.7" r="1.9"/><circle cx="451.0" cy="450.1" r="1.9"/><circle cx="427.1" cy="454.4" r="1.9"/></g>
<g class="c22"><circle cx="377.1" cy="495.2" r="1.9"/><circle cx="361.7" cy="505.9" r="1.9"/><circle cx="363.7" cy="498.7" r="1.9"/><circle cx="341.4" cy="483.3" r="1.9"/><circle cx="376.9" cy="488.3" r="1.9"/><circle cx="381.3" cy="518.0" r="1.9"/></g>
<g class="c22"><circle cx="392.4" cy="505.5" r="1.9"/><circle cx="348.5" cy="499.9" r="1.9"/><circle cx="370.9" cy="487.2" r="1.9"/><circle cx="352.4" cy="509.9" r="1.9"/><circle cx="358.0" cy="480.1" r="1.9"/><circle cx="356.5" cy="503.8" r="1.9"/></g>
<g class="c47"><circle cx="427.2" cy="453.1" r="1.9"/><circle cx="409.9" cy="449.7" r="1.9"/><circle cx="450.2" cy="442.5" r="1.9"/><circle cx="411.3" cy="443.3" r="1.9"/><circle cx="401.4" cy="434.9" r="1.9"/><circle cx="413.4" cy="443.1" r="1.9"/></g>
<g class="c47"><circle cx="422.9" cy="466.5" r="1.9"/><circle cx="413.9" cy="450.5" r="1.9"/><circle cx="408.0" cy="436.0" r="1.9"/><circle cx="401.9" cy="420.5" r="1.9"/><circle cx="431.9" cy="463.5" r="1.9"/><circle cx="421.0" cy="418.9" r="1.9"/></g>
<g class="c46"><circle cx="378.2" cy="463.7" r="1.9"/><circle cx="366.5" cy="458.3" r="1.9"/><circle cx="338.0" cy="472.3" r="1.9"/><circle cx="351.1" cy="465.9" r="1.9"/><circle cx="380.3" cy="459.9" r="1.9"/><circle cx="329.6" cy="467.0" r="1.9"/></g>
<g class="c24"><circle cx="483.8" cy="505.7" r="1.9"/><circle cx="469.6" cy="520.3" r="1.9"/><circle cx="469.6" cy="519.6" r="1.9"/><circle cx="442.5" cy="532.7" r="1.9"/><circle cx="435.2" cy="531.6" r="1.9"/><circle cx="441.6" cy="527.6" r="1.9"/></g>
<g class="c38"><circle cx="375.1" cy="509.6" r="1.9"/><circle cx="375.7" cy="495.3" r="1.9"/><circle cx="387.5" cy="501.7" r="1.9"/><circle cx="386.4" cy="506.0" r="1.9"/><circle cx="324.9" cy="498.7" r="1.9"/><circle cx="367.9" cy="510.5" r="1.9"/></g>
<g class="c46"><circle cx="403.4" cy="441.2" r="1.9"/><circle cx="387.0" cy="466.7" r="1.9"/><circle cx="394.2" cy="458.3" r="1.9"/><circle cx="374.9" cy="459.9" r="1.9"/><circle cx="404.0" cy="462.6" r="1.9"/><circle cx="355.7" cy="481.5" r="1.9"/></g>
<g class="c22"><circle cx="353.6" cy="513.3" r="1.9"/><circle cx="366.6" cy="492.3" r="1.9"/><circle cx="394.8" cy="469.3" r="1.9"/><circle cx="354.4" cy="515.9" r="1.9"/><circle cx="362.2" cy="532.9" r="1.9"/><circle cx="361.9" cy="487.6" r="1.9"/></g>
<g class="c22"><circle cx="375.2" cy="490.5" r="1.9"/><circle cx="375.4" cy="479.6" r="1.9"/><circle cx="349.7" cy="486.9" r="1.9"/><circle cx="404.5" cy="513.2" r="1.9"/><circle cx="325.0" cy="511.9" r="1.9"/><circle cx="363.5" cy="480.5" r="1.9"/></g>
<g class="c24"><circle cx="454.7" cy="529.3" r="1.9"/><circle cx="462.7" cy="536.8" r="1.9"/><circle cx="468.4" cy="493.7" r="1.9"/><circle cx="445.7" cy="523.0" r="1.9"/><circle cx="462.2" cy="528.4" r="1.9"/><circle cx="441.3" cy="530.8" r="1.9"/></g>
<g class="c30"><circle cx="447.0" cy="511.0" r="1.9"/><circle cx="377.2" cy="487.4" r="1.9"/><circle cx="447.5" cy="470.0" r="1.9"/><circle cx="400.5" cy="498.9" r="1.9"/><circle cx="410.9" cy="473.9" r="1.9"/><circle cx="428.8" cy="482.2" r="1.9"/></g>
<g class="c46"><circle cx="333.5" cy="457.2" r="1.9"/><circle cx="385.4" cy="460.3" r="1.9"/><circle cx="357.1" cy="472.5" r="1.9"/><circle cx="367.8" cy="481.8" r="1.9"/><circle cx="316.1" cy="476.9" r="1.9"/><circle cx="366.0" cy="473.5" r="1.9"/></g>
<g class="c22"><circle cx="352.4" cy="499.7" r="1.9"/><circle cx="401.6" cy="504.4" r="1.9"/><circle cx="374.2" cy="509.5" r="1.9"/><circle cx="349.3" cy="482.7" r="1.9"/><circle cx="338.5" cy="520.4" r="1.9"/><circle cx="362.2" cy="498.5" r="1.9"/></g>
<g class="c38"><circle cx="344.6" cy="494.8" r="1.9"/><circle cx="388.2" cy="493.4" r="1.9"/><circle cx="387.6" cy="519.7" r="1.9"/><circle cx="366.8" cy="522.8" r="1.9"/><circle cx="329.3" cy="498.6" r="1.9"/><circle cx="376.5" cy="516.3" r="1.9"/></g>
<g class="c24"><circle cx="474.7" cy="505.4" r="1.9"/><circle cx="480.6" cy="510.8" r="1.9"/><circle cx="489.3" cy="517.5" r="1.9"/><circle cx="472.1" cy="489.9" r="1.9"/><circle cx="448.4" cy="520.1" r="1.9"/><circle cx="434.4" cy="515.5" r="1.9"/></g>
<g class="c46"><circle cx="413.9" cy="477.3" r="1.9"/><circle cx="379.8" cy="466.5" r="1.9"/><circle cx="387.0" cy="483.6" r="1.9"/><circle cx="363.5" cy="468.8" r="1.9"/><circle cx="378.7" cy="487.0" r="1.9"/><circle cx="343.7" cy="463.8" r="1.9"/></g>
<g class="c47"><circle cx="403.7" cy="451.5" r="1.9"/><circle cx="426.5" cy="467.3" r="1.9"/><circle cx="434.2" cy="452.2" r="1.9"/><circle cx="424.1" cy="448.7" r="1.9"/><circle cx="442.8" cy="430.0" r="1.9"/><circle cx="395.4" cy="451.7" r="1.9"/></g>
<g class="c38"><circle cx="359.0" cy="510.4" r="1.9"/><circle cx="354.0" cy="523.6" r="1.9"/><circle cx="360.0" cy="509.5" r="1.9"/><circle cx="338.2" cy="513.2" r="1.9"/><circle cx="380.7" cy="509.9" r="1.9"/><circle cx="376.4" cy="479.3" r="1.9"/></g>
<g class="c38"><circle cx="342.9" cy="497.2" r="1.9"/><circle cx="344.6" cy="525.1" r="1.9"/><circle cx="348.2" cy="494.8" r="1.9"/><circle cx="352.5" cy="501.0" r="1.9"/><circle cx="374.1" cy="510.5" r="1.9"/><circle cx="386.2" cy="491.5" r="1.9"/></g>
<g class="c47"><circle cx="409.7" cy="480.7" r="1.9"/><circle cx="365.4" cy="439.5" r="1.9"/><circle cx="400.1" cy="474.0" r="1.9"/><circle cx="395.5" cy="458.8" r="1.9"/><circle cx="397.3" cy="460.6" r="1.9"/><circle cx="399.8" cy="452.1" r="1.9"/></g>
<g class="c46"><circle cx="376.5" cy="449.6" r="1.9"/><circle cx="367.3" cy="488.7" r="1.9"/><circle cx="379.4" cy="446.2" r="1.9"/><circle cx="356.6" cy="473.3" r="1.9"/><circle cx="324.8" cy="458.1" r="1.9"/><circle cx="351.6" cy="456.8" r="1.9"/></g>
<g class="c24"><circle cx="411.9" cy="516.9" r="1.9"/><circle cx="410.8" cy="492.0" r="1.9"/><circle cx="422.6" cy="485.9" r="1.9"/><circle cx="451.3" cy="467.0" r="1.9"/><circle cx="428.7" cy="524.5" r="1.9"/><circle cx="477.0" cy="505.4" r="1.9"/></g>
<g class="c46"><circle cx="378.8" cy="489.4" r="1.9"/><circle cx="394.0" cy="484.6" r="1.9"/><circle cx="379.5" cy="473.9" r="1.9"/><circle cx="341.8" cy="484.1" r="1.9"/><circle cx="345.5" cy="470.5" r="1.9"/><circle cx="387.3" cy="478.0" r="1.9"/></g>
<g class="c27"><circle cx="459.6" cy="496.1" r="1.9"/><circle cx="433.0" cy="514.5" r="1.9"/><circle cx="434.1" cy="522.3" r="1.9"/><circle cx="469.3" cy="482.7" r="1.9"/><circle cx="451.0" cy="492.9" r="1.9"/><circle cx="445.1" cy="487.5" r="1.9"/></g>
<g class="c22"><circle cx="392.9" cy="483.2" r="1.9"/><circle cx="347.7" cy="510.5" r="1.9"/><circle cx="349.9" cy="516.0" r="1.9"/><circle cx="353.4" cy="508.5" r="1.9"/><circle cx="373.5" cy="503.1" r="1.9"/><circle cx="383.7" cy="483.0" r="1.9"/></g>
<g class="c27"><circle cx="462.8" cy="489.4" r="1.9"/><circle cx="474.6" cy="503.5" r="1.9"/><circle cx="491.6" cy="499.8" r="1.9"/><circle cx="432.2" cy="491.4" r="1.9"/><circle cx="452.6" cy="496.2" r="1.9"/><circle cx="446.1" cy="501.2" r="1.9"/></g>
<g class="c38"><circle cx="361.5" cy="489.7" r="1.9"/><circle cx="382.7" cy="492.9" r="1.9"/><circle cx="374.4" cy="502.8" r="1.9"/><circle cx="328.8" cy="490.5" r="1.9"/><circle cx="408.9" cy="509.1" r="1.9"/><circle cx="394.9" cy="501.6" r="1.9"/></g>
<g class="c38"><circle cx="336.0" cy="481.6" r="1.9"/><circle cx="330.2" cy="475.7" r="1.9"/><circle cx="347.6" cy="490.3" r="1.9"/><circle cx="325.5" cy="489.3" r="1.9"/><circle cx="417.9" cy="512.4" r="1.9"/><circle cx="413.6" cy="495.6" r="1.9"/></g>
<g class="c22"><circle cx="395.6" cy="519.6" r="1.9"/><circle cx="365.9" cy="492.3" r="1.9"/><circle cx="391.7" cy="500.4" r="1.9"/><circle cx="377.8" cy="480.9" r="1.9"/><circle cx="389.8" cy="458.1" r="1.9"/><circle cx="399.3" cy="496.9" r="1.9"/></g>
<g class="c38"><circle cx="371.0" cy="522.3" r="1.9"/><circle cx="359.7" cy="505.3" r="1.9"/><circle cx="348.0" cy="489.7" r="1.9"/><circle cx="361.9" cy="518.1" r="1.9"/><circle cx="337.0" cy="513.0" r="1.9"/><circle cx="402.5" cy="506.5" r="1.9"/></g>
<g class="c24"><circle cx="463.2" cy="504.1" r="1.9"/><circle cx="460.5" cy="503.9" r="1.9"/><circle cx="460.1" cy="520.8" r="1.9"/><circle cx="459.9" cy="521.1" r="1.9"/><circle cx="469.1" cy="506.6" r="1.9"/><circle cx="474.1" cy="497.2" r="1.9"/></g>
<g class="c22"><circle cx="364.6" cy="508.1" r="1.9"/><circle cx="357.2" cy="511.5" r="1.9"/><circle cx="351.7" cy="486.8" r="1.9"/><circle cx="370.7" cy="494.6" r="1.9"/><circle cx="378.4" cy="494.3" r="1.9"/><circle cx="334.5" cy="513.9" r="1.9"/></g>
<g class="c47"><circle cx="407.5" cy="468.5" r="1.9"/><circle cx="388.1" cy="436.5" r="1.9"/><circle cx="399.8" cy="457.3" r="1.9"/><circle cx="413.5" cy="488.6" r="1.9"/><circle cx="412.2" cy="442.4" r="1.9"/><circle cx="444.7" cy="440.7" r="1.9"/></g>
<g class="c46"><circle cx="407.7" cy="484.6" r="1.9"/><circle cx="373.1" cy="499.2" r="1.9"/><circle cx="357.4" cy="467.4" r="1.9"/><circle cx="375.4" cy="496.2" r="1.9"/><circle cx="384.0" cy="497.5" r="1.9"/><circle cx="398.5" cy="476.1" r="1.9"/></g>
<g class="c22"><circle cx="400.0" cy="501.4" r="1.9"/><circle cx="393.2" cy="474.1" r="1.9"/><circle cx="379.3" cy="500.2" r="1.9"/></g>
<g class="c27"><circle cx="469.9" cy="456.1" r="1.9"/><circle cx="461.0" cy="454.4" r="1.9"/><circle cx="432.0" cy="468.8" r="1.9"/><circle cx="435.4" cy="436.1" r="1.9"/><circle cx="446.7" cy="447.0" r="1.9"/><circle cx="432.0" cy="478.4" r="1.9"/></g>
<g class="c27"><circle cx="467.6" cy="494.7" r="1.9"/><circle cx="461.2" cy="493.8" r="1.9"/><circle cx="438.3" cy="496.3" r="1.9"/><circle cx="436.4" cy="492.6" r="1.9"/><circle cx="430.1" cy="509.0" r="1.9"/><circle cx="449.6" cy="492.8" r="1.9"/></g>
<g class="c22"><circle cx="383.0" cy="496.4" r="1.9"/><circle cx="357.0" cy="489.3" r="1.9"/><circle cx="382.7" cy="506.4" r="1.9"/><circle cx="331.0" cy="482.9" r="1.9"/><circle cx="357.4" cy="498.6" r="1.9"/><circle cx="377.4" cy="506.4" r="1.9"/></g>
<g class="c46"><circle cx="331.4" cy="489.2" r="1.9"/><circle cx="390.2" cy="480.5" r="1.9"/><circle cx="364.9" cy="474.3" r="1.9"/><circle cx="350.8" cy="478.5" r="1.9"/><circle cx="361.7" cy="465.9" r="1.9"/><circle cx="361.5" cy="474.9" r="1.9"/></g>
<g class="c46"><circle cx="409.7" cy="496.2" r="1.9"/><circle cx="392.5" cy="477.6" r="1.9"/><circle cx="379.7" cy="489.9" r="1.9"/><circle cx="352.1" cy="486.1" r="1.9"/><circle cx="380.6" cy="481.9" r="1.9"/><circle cx="354.2" cy="493.8" r="1.9"/></g>
<g class="c47"><circle cx="415.4" cy="471.1" r="1.9"/><circle cx="429.0" cy="449.5" r="1.9"/><circle cx="440.3" cy="481.1" r="1.9"/><circle cx="422.8" cy="454.2" r="1.9"/><circle cx="418.2" cy="430.2" r="1.9"/><circle cx="438.6" cy="461.3" r="1.9"/></g>
<g class="c27"><circle cx="470.7" cy="479.1" r="1.9"/><circle cx="447.3" cy="506.8" r="1.9"/><circle cx="472.8" cy="476.3" r="1.9"/><circle cx="460.2" cy="483.4" r="1.9"/><circle cx="474.2" cy="485.9" r="1.9"/><circle cx="451.7" cy="504.9" r="1.9"/></g>
<g class="c46"><circle cx="350.5" cy="492.9" r="1.9"/><circle cx="371.6" cy="479.4" r="1.9"/><circle cx="382.3" cy="484.8" r="1.9"/><circle cx="402.5" cy="502.3" r="1.9"/><circle cx="347.5" cy="507.5" r="1.9"/><circle cx="357.4" cy="463.3" r="1.9"/></g>
<g class="c47"><circle cx="447.2" cy="451.0" r="1.9"/><circle cx="419.2" cy="484.1" r="1.9"/><circle cx="439.9" cy="444.0" r="1.9"/><circle cx="424.3" cy="439.0" r="1.9"/><circle cx="412.9" cy="483.7" r="1.9"/><circle cx="430.4" cy="426.6" r="1.9"/></g>
<g class="c38"><circle cx="390.5" cy="512.0" r="1.9"/><circle cx="349.4" cy="509.2" r="1.9"/><circle cx="378.9" cy="525.3" r="1.9"/><circle cx="373.3" cy="517.8" r="1.9"/><circle cx="378.2" cy="504.6" r="1.9"/><circle cx="407.7" cy="508.6" r="1.9"/></g>
<g class="c24"><circle cx="441.4" cy="489.3" r="1.9"/><circle cx="470.5" cy="510.0" r="1.9"/><circle cx="464.4" cy="497.9" r="1.9"/><circle cx="450.3" cy="512.9" r="1.9"/><circle cx="481.2" cy="521.5" r="1.9"/><circle cx="459.3" cy="498.1" r="1.9"/></g>
<g class="c47"><circle cx="394.9" cy="476.8" r="1.9"/><circle cx="407.1" cy="490.6" r="1.9"/><circle cx="404.5" cy="469.6" r="1.9"/><circle cx="401.1" cy="478.9" r="1.9"/><circle cx="392.6" cy="477.2" r="1.9"/><circle cx="407.9" cy="472.5" r="1.9"/></g>
<g class="c24"><circle cx="459.0" cy="510.4" r="1.9"/><circle cx="459.5" cy="500.0" r="1.9"/><circle cx="470.3" cy="495.6" r="1.9"/><circle cx="479.3" cy="537.9" r="1.9"/><circle cx="451.7" cy="506.1" r="1.9"/><circle cx="447.9" cy="521.1" r="1.9"/></g>
<g class="c38"><circle cx="363.7" cy="512.4" r="1.9"/><circle cx="379.2" cy="510.4" r="1.9"/><circle cx="373.6" cy="508.0" r="1.9"/><circle cx="390.9" cy="503.5" r="1.9"/><circle cx="343.8" cy="521.2" r="1.9"/><circle cx="323.5" cy="488.7" r="1.9"/></g>
<g class="c22"><circle cx="374.0" cy="518.1" r="1.9"/><circle cx="370.7" cy="502.5" r="1.9"/><circle cx="342.0" cy="511.4" r="1.9"/><circle cx="375.7" cy="494.7" r="1.9"/><circle cx="398.2" cy="517.9" r="1.9"/><circle cx="352.6" cy="507.7" r="1.9"/></g>
<g class="c24"><circle cx="467.3" cy="502.2" r="1.9"/><circle cx="474.2" cy="536.4" r="1.9"/><circle cx="451.9" cy="492.5" r="1.9"/><circle cx="463.2" cy="523.6" r="1.9"/><circle cx="486.0" cy="529.6" r="1.9"/><circle cx="495.2" cy="489.4" r="1.9"/></g>
<g class="c22"><circle cx="359.2" cy="506.2" r="1.9"/><circle cx="396.8" cy="524.3" r="1.9"/><circle cx="397.6" cy="489.0" r="1.9"/><circle cx="390.1" cy="488.0" r="1.9"/><circle cx="369.3" cy="488.3" r="1.9"/><circle cx="360.8" cy="511.4" r="1.9"/></g>
<g class="c27"><circle cx="449.5" cy="469.6" r="1.9"/><circle cx="462.5" cy="451.2" r="1.9"/><circle cx="449.2" cy="457.5" r="1.9"/><circle cx="413.1" cy="476.3" r="1.9"/><circle cx="436.7" cy="469.5" r="1.9"/><circle cx="430.6" cy="482.0" r="1.9"/></g>
<g class="c38"><circle cx="387.9" cy="482.8" r="1.9"/><circle cx="391.9" cy="497.9" r="1.9"/><circle cx="400.9" cy="499.0" r="1.9"/><circle cx="388.1" cy="482.3" r="1.9"/><circle cx="379.1" cy="490.4" r="1.9"/><circle cx="386.8" cy="492.2" r="1.9"/></g>
<g class="c22"><circle cx="355.0" cy="484.4" r="1.9"/><circle cx="340.0" cy="466.3" r="1.9"/><circle cx="385.2" cy="490.3" r="1.9"/><circle cx="346.7" cy="476.1" r="1.9"/><circle cx="388.1" cy="473.5" r="1.9"/><circle cx="386.2" cy="483.7" r="1.9"/></g>
<g class="c46"><circle cx="366.7" cy="458.2" r="1.9"/><circle cx="348.5" cy="447.4" r="1.9"/><circle cx="361.0" cy="470.6" r="1.9"/><circle cx="355.3" cy="446.6" r="1.9"/><circle cx="366.2" cy="473.0" r="1.9"/><circle cx="373.3" cy="467.2" r="1.9"/></g>
<g class="c38"><circle cx="372.1" cy="511.0" r="1.9"/><circle cx="371.1" cy="508.7" r="1.9"/><circle cx="362.9" cy="517.3" r="1.9"/><circle cx="390.4" cy="497.5" r="1.9"/><circle cx="342.2" cy="513.4" r="1.9"/><circle cx="357.3" cy="521.9" r="1.9"/></g>
<g class="c27"><circle cx="436.1" cy="528.7" r="1.9"/><circle cx="449.7" cy="490.5" r="1.9"/><circle cx="446.9" cy="483.7" r="1.9"/><circle cx="478.7" cy="474.2" r="1.9"/><circle cx="480.3" cy="508.1" r="1.9"/><circle cx="451.0" cy="498.2" r="1.9"/></g>
<g class="c27"><circle cx="417.9" cy="488.3" r="1.9"/><circle cx="414.9" cy="498.0" r="1.9"/><circle cx="426.4" cy="481.6" r="1.9"/><circle cx="404.9" cy="498.9" r="1.9"/><circle cx="427.3" cy="504.6" r="1.9"/><circle cx="441.3" cy="490.0" r="1.9"/></g>
<g class="c38"><circle cx="329.2" cy="519.6" r="1.9"/><circle cx="370.2" cy="526.8" r="1.9"/><circle cx="356.9" cy="503.9" r="1.9"/><circle cx="344.3" cy="504.5" r="1.9"/><circle cx="376.5" cy="503.4" r="1.9"/><circle cx="386.4" cy="489.4" r="1.9"/></g>
<g class="c46"><circle cx="396.0" cy="469.7" r="1.9"/><circle cx="340.2" cy="474.8" r="1.9"/><circle cx="336.5" cy="471.1" r="1.9"/><circle cx="368.8" cy="459.9" r="1.9"/><circle cx="330.0" cy="456.7" r="1.9"/><circle cx="365.2" cy="460.0" r="1.9"/></g>
<g class="c22"><circle cx="353.7" cy="500.2" r="1.9"/><circle cx="373.3" cy="490.1" r="1.9"/><circle cx="359.8" cy="499.6" r="1.9"/><circle cx="315.3" cy="508.3" r="1.9"/><circle cx="362.8" cy="486.7" r="1.9"/><circle cx="365.4" cy="502.4" r="1.9"/></g>
<g class="c46"><circle cx="336.9" cy="462.2" r="1.9"/><circle cx="379.8" cy="470.1" r="1.9"/><circle cx="378.1" cy="453.4" r="1.9"/><circle cx="354.8" cy="472.0" r="1.9"/><circle cx="362.0" cy="438.6" r="1.9"/><circle cx="353.3" cy="479.0" r="1.9"/></g>
<g class="c22"><circle cx="369.8" cy="494.1" r="1.9"/><circle cx="360.2" cy="496.6" r="1.9"/><circle cx="353.4" cy="503.3" r="1.9"/><circle cx="356.8" cy="517.8" r="1.9"/><circle cx="354.2" cy="522.9" r="1.9"/><circle cx="348.6" cy="525.0" r="1.9"/></g>
<g class="c46"><circle cx="373.8" cy="488.2" r="1.9"/><circle cx="369.0" cy="477.9" r="1.9"/><circle cx="359.9" cy="468.0" r="1.9"/><circle cx="392.3" cy="477.8" r="1.9"/><circle cx="388.8" cy="474.0" r="1.9"/><circle cx="373.5" cy="466.8" r="1.9"/></g>
<g class="c47"><circle cx="389.9" cy="449.7" r="1.9"/><circle cx="430.1" cy="446.6" r="1.9"/><circle cx="409.1" cy="451.0" r="1.9"/><circle cx="384.6" cy="436.9" r="1.9"/><circle cx="423.0" cy="445.5" r="1.9"/><circle cx="423.1" cy="443.6" r="1.9"/></g>
<g class="c2"><circle cx="423.5" cy="409.1" r="1.9"/></g>
<g class="c27"><circle cx="465.3" cy="489.5" r="1.9"/><circle cx="445.5" cy="469.9" r="1.9"/><circle cx="441.2" cy="520.4" r="1.9"/><circle cx="474.0" cy="482.3" r="1.9"/><circle cx="455.0" cy="502.7" r="1.9"/><circle cx="463.4" cy="498.8" r="1.9"/></g>
<g class="c27"><circle cx="453.6" cy="502.6" r="1.9"/><circle cx="460.2" cy="491.8" r="1.9"/><circle cx="466.3" cy="482.9" r="1.9"/><circle cx="485.2" cy="498.0" r="1.9"/><circle cx="451.3" cy="501.5" r="1.9"/><circle cx="433.6" cy="491.3" r="1.9"/></g>
<g class="c24"><circle cx="434.5" cy="512.4" r="1.9"/><circle cx="404.3" cy="482.5" r="1.9"/><circle cx="434.5" cy="507.6" r="1.9"/><circle cx="415.4" cy="500.8" r="1.9"/><circle cx="459.2" cy="505.3" r="1.9"/><circle cx="442.8" cy="494.6" r="1.9"/></g>
<g class="c22"><circle cx="364.7" cy="494.8" r="1.9"/><circle cx="333.8" cy="491.2" r="1.9"/><circle cx="361.5" cy="508.5" r="1.9"/><circle cx="347.6" cy="517.4" r="1.9"/><circle cx="334.1" cy="495.9" r="1.9"/><circle cx="371.6" cy="476.7" r="1.9"/></g>
<g class="c30"><circle cx="378.4" cy="486.5" r="1.9"/><circle cx="419.6" cy="516.8" r="1.9"/><circle cx="423.7" cy="488.9" r="1.9"/><circle cx="379.2" cy="493.5" r="1.9"/><circle cx="376.9" cy="511.5" r="1.9"/><circle cx="387.8" cy="469.7" r="1.9"/></g>
<g class="c30"><circle cx="408.3" cy="486.4" r="1.9"/><circle cx="392.9" cy="514.6" r="1.9"/><circle cx="454.4" cy="470.7" r="1.9"/><circle cx="414.0" cy="494.1" r="1.9"/><circle cx="387.3" cy="514.8" r="1.9"/><circle cx="433.0" cy="488.0" r="1.9"/></g>
<g class="c27"><circle cx="449.8" cy="485.1" r="1.9"/><circle cx="438.2" cy="471.3" r="1.9"/><circle cx="451.9" cy="441.1" r="1.9"/><circle cx="430.3" cy="517.2" r="1.9"/><circle cx="445.4" cy="491.9" r="1.9"/><circle cx="437.9" cy="499.6" r="1.9"/></g>
<g class="c22"><circle cx="384.8" cy="461.2" r="1.9"/><circle cx="396.1" cy="492.0" r="1.9"/><circle cx="403.5" cy="470.2" r="1.9"/><circle cx="374.9" cy="504.8" r="1.9"/><circle cx="371.3" cy="500.7" r="1.9"/><circle cx="397.8" cy="478.2" r="1.9"/></g>
<g class="c24"><circle cx="437.0" cy="529.6" r="1.9"/><circle cx="436.8" cy="514.7" r="1.9"/><circle cx="435.4" cy="488.9" r="1.9"/><circle cx="452.8" cy="481.1" r="1.9"/><circle cx="451.5" cy="493.9" r="1.9"/><circle cx="424.2" cy="517.7" r="1.9"/></g>
<g class="c46"><circle cx="352.5" cy="477.3" r="1.9"/><circle cx="361.4" cy="480.2" r="1.9"/><circle cx="353.8" cy="485.1" r="1.9"/><circle cx="334.2" cy="484.2" r="1.9"/><circle cx="355.7" cy="479.2" r="1.9"/><circle cx="378.9" cy="474.7" r="1.9"/></g>
<g class="c30"><circle cx="420.3" cy="511.3" r="1.9"/><circle cx="407.9" cy="492.3" r="1.9"/><circle cx="414.3" cy="507.9" r="1.9"/><circle cx="389.5" cy="484.6" r="1.9"/><circle cx="386.5" cy="503.4" r="1.9"/><circle cx="403.6" cy="478.4" r="1.9"/></g>
<g class="c30"><circle cx="380.2" cy="475.9" r="1.9"/><circle cx="421.1" cy="498.3" r="1.9"/><circle cx="447.9" cy="482.7" r="1.9"/><circle cx="368.0" cy="468.5" r="1.9"/><circle cx="396.9" cy="502.5" r="1.9"/><circle cx="379.0" cy="464.1" r="1.9"/></g>
<g class="c27"><circle cx="407.7" cy="495.7" r="1.9"/><circle cx="396.3" cy="500.0" r="1.9"/><circle cx="454.2" cy="476.1" r="1.9"/><circle cx="442.0" cy="443.6" r="1.9"/><circle cx="440.6" cy="471.8" r="1.9"/><circle cx="459.4" cy="452.2" r="1.9"/></g>
<g class="c24"><circle cx="455.8" cy="525.9" r="1.9"/><circle cx="434.6" cy="505.6" r="1.9"/><circle cx="465.0" cy="499.0" r="1.9"/><circle cx="451.6" cy="516.7" r="1.9"/><circle cx="464.7" cy="496.3" r="1.9"/><circle cx="443.3" cy="514.2" r="1.9"/></g>
<g class="c47"><circle cx="419.3" cy="437.0" r="1.9"/><circle cx="442.6" cy="450.1" r="1.9"/><circle cx="399.5" cy="450.0" r="1.9"/><circle cx="424.9" cy="462.1" r="1.9"/><circle cx="417.6" cy="456.8" r="1.9"/><circle cx="424.8" cy="426.3" r="1.9"/></g>
<g class="c47"><circle cx="418.1" cy="478.8" r="1.9"/><circle cx="441.5" cy="482.3" r="1.9"/><circle cx="401.8" cy="458.2" r="1.9"/><circle cx="423.3" cy="474.0" r="1.9"/><circle cx="406.2" cy="479.6" r="1.9"/><circle cx="416.1" cy="496.6" r="1.9"/></g>
<g class="c22"><circle cx="343.3" cy="490.2" r="1.9"/><circle cx="396.8" cy="520.2" r="1.9"/><circle cx="384.8" cy="490.4" r="1.9"/><circle cx="348.6" cy="507.1" r="1.9"/><circle cx="390.2" cy="489.6" r="1.9"/><circle cx="322.5" cy="487.9" r="1.9"/></g>
<g class="c27"><circle cx="457.6" cy="466.9" r="1.9"/><circle cx="420.1" cy="480.7" r="1.9"/><circle cx="451.3" cy="466.9" r="1.9"/><circle cx="452.0" cy="454.3" r="1.9"/><circle cx="434.0" cy="474.6" r="1.9"/><circle cx="460.9" cy="457.6" r="1.9"/></g>
<g class="c27"><circle cx="452.9" cy="499.3" r="1.9"/><circle cx="439.2" cy="506.4" r="1.9"/><circle cx="460.6" cy="487.4" r="1.9"/><circle cx="462.0" cy="499.2" r="1.9"/><circle cx="463.1" cy="493.7" r="1.9"/><circle cx="447.4" cy="476.4" r="1.9"/></g>
<g class="c24"><circle cx="478.6" cy="494.8" r="1.9"/><circle cx="460.9" cy="527.4" r="1.9"/><circle cx="479.6" cy="532.6" r="1.9"/><circle cx="474.2" cy="529.0" r="1.9"/><circle cx="470.0" cy="530.6" r="1.9"/><circle cx="443.9" cy="531.5" r="1.9"/></g>
<g class="c30"><circle cx="374.1" cy="496.5" r="1.9"/><circle cx="386.7" cy="468.7" r="1.9"/><circle cx="440.7" cy="481.4" r="1.9"/><circle cx="411.4" cy="479.2" r="1.9"/><circle cx="379.9" cy="491.1" r="1.9"/><circle cx="458.1" cy="505.1" r="1.9"/></g>
<g class="c38"><circle cx="373.3" cy="494.0" r="1.9"/><circle cx="369.9" cy="502.6" r="1.9"/><circle cx="348.5" cy="528.0" r="1.9"/><circle cx="389.2" cy="496.7" r="1.9"/><circle cx="383.7" cy="504.0" r="1.9"/><circle cx="370.5" cy="503.1" r="1.9"/></g>
<g class="c38"><circle cx="339.9" cy="498.2" r="1.9"/><circle cx="408.0" cy="500.4" r="1.9"/><circle cx="401.4" cy="496.5" r="1.9"/><circle cx="351.2" cy="492.1" r="1.9"/><circle cx="354.5" cy="495.6" r="1.9"/><circle cx="379.3" cy="514.2" r="1.9"/></g>
<g class="c38"><circle cx="383.9" cy="505.8" r="1.9"/><circle cx="372.2" cy="509.9" r="1.9"/><circle cx="389.1" cy="519.8" r="1.9"/><circle cx="379.5" cy="498.3" r="1.9"/><circle cx="379.3" cy="502.6" r="1.9"/><circle cx="391.3" cy="467.3" r="1.9"/></g>
<g class="c30"><circle cx="414.7" cy="512.4" r="1.9"/><circle cx="420.4" cy="493.5" r="1.9"/><circle cx="407.8" cy="490.9" r="1.9"/><circle cx="443.0" cy="475.9" r="1.9"/><circle cx="431.7" cy="507.2" r="1.9"/><circle cx="411.9" cy="517.9" r="1.9"/></g>
<g class="c47"><circle cx="404.2" cy="481.0" r="1.9"/><circle cx="398.8" cy="454.6" r="1.9"/><circle cx="439.8" cy="445.5" r="1.9"/><circle cx="427.1" cy="421.9" r="1.9"/><circle cx="434.8" cy="417.8" r="1.9"/><circle cx="435.8" cy="428.1" r="1.9"/></g>
<g class="c30"><circle cx="397.7" cy="509.1" r="1.9"/><circle cx="407.5" cy="497.1" r="1.9"/><circle cx="408.1" cy="500.3" r="1.9"/><circle cx="442.2" cy="481.7" r="1.9"/><circle cx="417.8" cy="461.8" r="1.9"/><circle cx="384.6" cy="505.7" r="1.9"/></g>
<g class="c46"><circle cx="374.4" cy="477.4" r="1.9"/><circle cx="376.9" cy="474.1" r="1.9"/><circle cx="353.9" cy="485.1" r="1.9"/><circle cx="374.2" cy="488.6" r="1.9"/><circle cx="344.1" cy="464.2" r="1.9"/><circle cx="335.2" cy="488.3" r="1.9"/></g>
<g class="c46"><circle cx="385.8" cy="469.4" r="1.9"/><circle cx="387.1" cy="476.6" r="1.9"/><circle cx="392.5" cy="483.0" r="1.9"/><circle cx="387.7" cy="479.7" r="1.9"/><circle cx="382.7" cy="490.8" r="1.9"/><circle cx="373.6" cy="481.2" r="1.9"/></g>
<g class="c46"><circle cx="384.4" cy="458.9" r="1.9"/><circle cx="397.5" cy="486.8" r="1.9"/><circle cx="385.6" cy="481.8" r="1.9"/><circle cx="386.3" cy="475.7" r="1.9"/><circle cx="403.8" cy="483.2" r="1.9"/><circle cx="376.1" cy="469.4" r="1.9"/></g>
<g class="c24"><circle cx="465.6" cy="508.0" r="1.9"/><circle cx="481.8" cy="502.1" r="1.9"/><circle cx="467.7" cy="506.0" r="1.9"/><circle cx="452.7" cy="494.5" r="1.9"/><circle cx="477.2" cy="495.2" r="1.9"/><circle cx="471.1" cy="529.2" r="1.9"/></g>
<g class="c24"><circle cx="476.7" cy="505.5" r="1.9"/><circle cx="471.3" cy="531.1" r="1.9"/><circle cx="452.2" cy="503.1" r="1.9"/><circle cx="434.7" cy="513.3" r="1.9"/><circle cx="465.7" cy="506.7" r="1.9"/><circle cx="457.1" cy="492.4" r="1.9"/></g>
<g class="c46"><circle cx="350.8" cy="484.0" r="1.9"/><circle cx="326.7" cy="480.6" r="1.9"/><circle cx="405.5" cy="485.9" r="1.9"/><circle cx="334.7" cy="487.2" r="1.9"/><circle cx="391.0" cy="483.7" r="1.9"/><circle cx="359.8" cy="482.1" r="1.9"/></g>
<g class="c46"><circle cx="344.8" cy="455.1" r="1.9"/><circle cx="350.0" cy="452.8" r="1.9"/><circle cx="376.0" cy="467.7" r="1.9"/><circle cx="395.5" cy="458.7" r="1.9"/><circle cx="353.7" cy="462.3" r="1.9"/><circle cx="340.3" cy="467.5" r="1.9"/></g>
<g class="c27"><circle cx="443.5" cy="512.3" r="1.9"/><circle cx="436.3" cy="494.3" r="1.9"/><circle cx="436.7" cy="492.5" r="1.9"/><circle cx="444.7" cy="481.3" r="1.9"/><circle cx="409.3" cy="491.8" r="1.9"/><circle cx="421.0" cy="493.4" r="1.9"/></g>
<g class="c22"><circle cx="384.3" cy="522.2" r="1.9"/><circle cx="388.2" cy="498.6" r="1.9"/><circle cx="401.9" cy="477.9" r="1.9"/><circle cx="360.2" cy="500.6" r="1.9"/><circle cx="403.3" cy="490.6" r="1.9"/><circle cx="327.9" cy="477.5" r="1.9"/></g>
<g class="c24"><circle cx="490.1" cy="492.9" r="1.9"/><circle cx="455.6" cy="525.4" r="1.9"/><circle cx="469.7" cy="531.9" r="1.9"/><circle cx="467.7" cy="529.1" r="1.9"/><circle cx="491.6" cy="509.3" r="1.9"/><circle cx="432.0" cy="498.6" r="1.9"/></g>
<g class="c30"><circle cx="380.8" cy="486.7" r="1.9"/><circle cx="387.8" cy="509.4" r="1.9"/><circle cx="413.4" cy="514.5" r="1.9"/><circle cx="429.1" cy="491.4" r="1.9"/><circle cx="470.5" cy="493.0" r="1.9"/><circle cx="393.8" cy="453.7" r="1.9"/></g>
<g class="c46"><circle cx="329.8" cy="482.1" r="1.9"/><circle cx="363.4" cy="480.1" r="1.9"/><circle cx="388.3" cy="476.1" r="1.9"/><circle cx="318.9" cy="456.6" r="1.9"/><circle cx="367.1" cy="480.4" r="1.9"/><circle cx="323.4" cy="472.1" r="1.9"/></g>
<g class="c46"><circle cx="323.9" cy="485.6" r="1.9"/><circle cx="380.0" cy="474.9" r="1.9"/><circle cx="384.1" cy="492.2" r="1.9"/><circle cx="359.1" cy="487.6" r="1.9"/><circle cx="356.3" cy="480.1" r="1.9"/><circle cx="379.8" cy="480.4" r="1.9"/></g>
<g class="c22"><circle cx="337.0" cy="499.3" r="1.9"/><circle cx="335.7" cy="510.0" r="1.9"/><circle cx="351.1" cy="485.5" r="1.9"/><circle cx="330.5" cy="495.0" r="1.9"/><circle cx="379.2" cy="499.4" r="1.9"/><circle cx="326.9" cy="516.2" r="1.9"/></g>
<g class="c47"><circle cx="392.1" cy="451.2" r="1.9"/><circle cx="403.1" cy="465.6" r="1.9"/><circle cx="390.7" cy="476.0" r="1.9"/><circle cx="403.3" cy="458.2" r="1.9"/><circle cx="394.7" cy="461.8" r="1.9"/><circle cx="394.4" cy="459.2" r="1.9"/></g>
<g class="c38"><circle cx="347.0" cy="511.4" r="1.9"/><circle cx="373.5" cy="506.8" r="1.9"/><circle cx="378.0" cy="513.8" r="1.9"/><circle cx="358.1" cy="514.7" r="1.9"/><circle cx="311.8" cy="504.5" r="1.9"/><circle cx="371.7" cy="497.9" r="1.9"/></g>
<g class="c38"><circle cx="341.7" cy="514.8" r="1.9"/><circle cx="318.1" cy="502.3" r="1.9"/><circle cx="405.9" cy="504.5" r="1.9"/><circle cx="396.1" cy="514.4" r="1.9"/><circle cx="334.7" cy="502.0" r="1.9"/><circle cx="392.4" cy="515.6" r="1.9"/></g>
<g class="c47"><circle cx="398.1" cy="486.6" r="1.9"/><circle cx="440.3" cy="463.0" r="1.9"/><circle cx="414.7" cy="481.2" r="1.9"/><circle cx="414.9" cy="472.2" r="1.9"/><circle cx="424.6" cy="471.0" r="1.9"/><circle cx="404.6" cy="459.5" r="1.9"/></g>
<g class="c24"><circle cx="431.8" cy="524.6" r="1.9"/><circle cx="481.5" cy="504.5" r="1.9"/><circle cx="454.2" cy="518.7" r="1.9"/><circle cx="457.5" cy="502.3" r="1.9"/><circle cx="465.6" cy="498.2" r="1.9"/><circle cx="487.2" cy="507.8" r="1.9"/></g>
<g class="c27"><circle cx="425.4" cy="514.6" r="1.9"/><circle cx="449.4" cy="502.9" r="1.9"/><circle cx="469.2" cy="486.8" r="1.9"/><circle cx="471.4" cy="489.5" r="1.9"/><circle cx="445.7" cy="504.4" r="1.9"/><circle cx="459.4" cy="485.0" r="1.9"/></g>
<g class="c22"><circle cx="350.1" cy="509.6" r="1.9"/><circle cx="390.7" cy="505.6" r="1.9"/><circle cx="368.7" cy="491.3" r="1.9"/><circle cx="408.6" cy="507.3" r="1.9"/><circle cx="387.8" cy="493.9" r="1.9"/><circle cx="372.7" cy="505.2" r="1.9"/></g>
<g class="c27"><circle cx="417.0" cy="518.0" r="1.9"/><circle cx="411.8" cy="502.3" r="1.9"/><circle cx="399.2" cy="516.8" r="1.9"/><circle cx="406.8" cy="502.2" r="1.9"/><circle cx="407.1" cy="499.7" r="1.9"/><circle cx="417.9" cy="484.0" r="1.9"/></g>
<g class="c38"><circle cx="326.6" cy="506.2" r="1.9"/><circle cx="342.6" cy="513.7" r="1.9"/><circle cx="339.3" cy="521.4" r="1.9"/><circle cx="365.1" cy="498.4" r="1.9"/><circle cx="402.2" cy="518.3" r="1.9"/><circle cx="386.1" cy="521.0" r="1.9"/></g>
<g class="c22"><circle cx="329.1" cy="470.5" r="1.9"/><circle cx="393.3" cy="465.8" r="1.9"/><circle cx="391.4" cy="485.4" r="1.9"/><circle cx="375.9" cy="479.6" r="1.9"/><circle cx="363.0" cy="467.8" r="1.9"/><circle cx="364.1" cy="478.5" r="1.9"/></g>
<g class="c27"><circle cx="431.2" cy="493.6" r="1.9"/><circle cx="429.1" cy="487.9" r="1.9"/><circle cx="421.8" cy="465.2" r="1.9"/><circle cx="440.5" cy="447.2" r="1.9"/><circle cx="429.5" cy="487.2" r="1.9"/><circle cx="446.4" cy="447.8" r="1.9"/></g>
<g class="c30"><circle cx="404.2" cy="468.6" r="1.9"/><circle cx="417.5" cy="474.8" r="1.9"/><circle cx="416.8" cy="462.0" r="1.9"/><circle cx="394.0" cy="476.2" r="1.9"/><circle cx="400.2" cy="499.7" r="1.9"/><circle cx="386.4" cy="498.5" r="1.9"/></g>
<g class="c24"><circle cx="432.9" cy="516.8" r="1.9"/><circle cx="452.5" cy="507.8" r="1.9"/><circle cx="461.3" cy="518.7" r="1.9"/><circle cx="462.5" cy="530.6" r="1.9"/><circle cx="493.2" cy="513.6" r="1.9"/><circle cx="449.2" cy="506.0" r="1.9"/></g>
<g class="c47"><circle cx="441.0" cy="449.3" r="1.9"/><circle cx="405.4" cy="447.4" r="1.9"/><circle cx="449.3" cy="422.1" r="1.9"/><circle cx="444.7" cy="430.6" r="1.9"/><circle cx="414.2" cy="481.1" r="1.9"/><circle cx="433.8" cy="440.9" r="1.9"/></g>
<g class="c47"><circle cx="430.2" cy="455.1" r="1.9"/><circle cx="457.7" cy="451.4" r="1.9"/><circle cx="427.4" cy="452.0" r="1.9"/><circle cx="438.0" cy="457.1" r="1.9"/><circle cx="401.4" cy="441.5" r="1.9"/><circle cx="442.7" cy="454.9" r="1.9"/></g>
<g class="c24"><circle cx="462.4" cy="518.0" r="1.9"/><circle cx="467.7" cy="522.9" r="1.9"/><circle cx="464.4" cy="522.4" r="1.9"/><circle cx="457.5" cy="506.7" r="1.9"/><circle cx="477.1" cy="516.2" r="1.9"/><circle cx="440.6" cy="518.5" r="1.9"/></g>
<g class="c27"><circle cx="432.8" cy="510.4" r="1.9"/></g>
<g class="c47"><circle cx="424.7" cy="423.8" r="1.9"/><circle cx="412.8" cy="451.7" r="1.9"/><circle cx="422.9" cy="468.2" r="1.9"/><circle cx="409.5" cy="430.1" r="1.9"/><circle cx="427.3" cy="436.3" r="1.9"/><circle cx="387.0" cy="427.7" r="1.9"/></g>
<g class="c47"><circle cx="413.5" cy="449.0" r="1.9"/><circle cx="421.4" cy="477.1" r="1.9"/><circle cx="397.6" cy="495.3" r="1.9"/><circle cx="422.2" cy="486.5" r="1.9"/><circle cx="404.1" cy="468.8" r="1.9"/><circle cx="393.7" cy="470.3" r="1.9"/></g>
<g class="c47"><circle cx="414.9" cy="495.9" r="1.9"/><circle cx="407.1" cy="481.5" r="1.9"/><circle cx="393.1" cy="497.1" r="1.9"/><circle cx="396.3" cy="460.9" r="1.9"/><circle cx="401.7" cy="492.8" r="1.9"/><circle cx="413.6" cy="477.4" r="1.9"/></g>
<g class="c38"><circle cx="393.7" cy="509.5" r="1.9"/><circle cx="366.4" cy="507.2" r="1.9"/><circle cx="355.6" cy="490.5" r="1.9"/><circle cx="369.1" cy="506.9" r="1.9"/><circle cx="388.4" cy="519.4" r="1.9"/><circle cx="331.4" cy="525.3" r="1.9"/></g>
<g class="c46"><circle cx="350.8" cy="459.6" r="1.9"/><circle cx="346.3" cy="455.0" r="1.9"/><circle cx="394.8" cy="464.8" r="1.9"/><circle cx="335.9" cy="451.7" r="1.9"/><circle cx="335.9" cy="455.1" r="1.9"/><circle cx="338.1" cy="448.2" r="1.9"/></g>
<g class="c24"><circle cx="473.7" cy="531.6" r="1.9"/><circle cx="452.5" cy="531.2" r="1.9"/><circle cx="463.5" cy="503.7" r="1.9"/><circle cx="457.1" cy="505.8" r="1.9"/><circle cx="465.3" cy="502.7" r="1.9"/><circle cx="459.1" cy="518.0" r="1.9"/></g>
<g class="c47"><circle cx="423.9" cy="456.4" r="1.9"/><circle cx="413.3" cy="455.9" r="1.9"/><circle cx="411.3" cy="455.0" r="1.9"/><circle cx="449.1" cy="456.8" r="1.9"/><circle cx="435.0" cy="425.4" r="1.9"/><circle cx="427.0" cy="441.8" r="1.9"/></g>
<g class="c47"><circle cx="428.5" cy="497.3" r="1.9"/><circle cx="445.1" cy="469.2" r="1.9"/><circle cx="409.4" cy="443.3" r="1.9"/><circle cx="423.5" cy="463.6" r="1.9"/><circle cx="409.2" cy="462.4" r="1.9"/><circle cx="417.9" cy="492.9" r="1.9"/></g>
<g class="c46"><circle cx="376.9" cy="472.6" r="1.9"/><circle cx="358.5" cy="471.8" r="1.9"/><circle cx="365.4" cy="458.1" r="1.9"/><circle cx="362.9" cy="454.9" r="1.9"/><circle cx="355.2" cy="472.6" r="1.9"/><circle cx="347.3" cy="474.7" r="1.9"/></g>
<polygon points="369.7,472.2 370.5,474.8 373.2,474.8 371.1,476.5 371.9,479.0 369.7,477.5 367.5,479.0 368.2,476.5 366.1,474.8 368.8,474.8" fill="#b2df8a" fill-opacity=".85" stroke="#262626" stroke-width=".8"/>
<polygon points="361.9,494.9 362.8,497.5 365.5,497.5 363.3,499.1 364.1,501.7 361.9,500.2 359.7,501.7 360.5,499.1 358.3,497.5 361.0,497.5" fill="#fbbe72" fill-opacity=".85" stroke="#262626" stroke-width=".8"/>
<polygon points="366.8,502.2 367.7,504.8 370.3,504.8 368.2,506.5 369.0,509.0 366.8,507.5 364.6,509.0 365.4,506.5 363.2,504.8 365.9,504.8" fill="#f79cab" fill-opacity=".85" stroke="#262626" stroke-width=".8"/>
<polygon points="406.8,488.2 407.7,490.8 410.3,490.8 408.2,492.5 409.0,495.0 406.8,493.5 404.6,495.0 405.4,492.5 403.2,490.8 405.9,490.8" fill="#6d371b" fill-opacity=".85" stroke="#262626" stroke-width=".8"/>
<polygon points="420.1,455.1 421.0,457.7 423.7,457.7 421.5,459.4 422.3,461.9 420.1,460.4 417.9,461.9 418.7,459.4 416.5,457.7 419.2,457.7" fill="#c9b1d6" fill-opacity=".85" stroke="#262626" stroke-width=".8"/>
<polygon points="444.8,480.0 445.7,482.6 448.3,482.6 446.2,484.2 447.0,486.8 444.8,485.3 442.6,486.8 443.4,484.2 441.2,482.6 443.9,482.6" fill="#ffff99" fill-opacity=".85" stroke="#262626" stroke-width=".8"/>
<polygon points="453.2,507.8 454.1,510.3 456.8,510.4 454.6,512.0 455.4,514.6 453.2,513.1 451.0,514.6 451.8,512.0 449.7,510.4 452.3,510.3" fill="#a6cee3" fill-opacity=".85" stroke="#262626" stroke-width=".8"/>
<rect x="537.2" y="403.3" width="198.5" height="146.7" fill="#fff" stroke="#929292" stroke-width="1.15"/>
<g class="c46"><circle cx="650.5" cy="461.2" r="1.9"/><circle cx="633.2" cy="433.1" r="1.9"/><circle cx="619.1" cy="466.4" r="1.9"/><circle cx="638.6" cy="449.9" r="1.9"/><circle cx="638.1" cy="458.7" r="1.9"/><circle cx="650.3" cy="456.7" r="1.9"/></g>
<g class="c49"><circle cx="570.5" cy="505.3" r="1.9"/><circle cx="614.2" cy="497.0" r="1.9"/><circle cx="619.3" cy="493.6" r="1.9"/><circle cx="600.8" cy="503.7" r="1.9"/><circle cx="613.3" cy="501.0" r="1.9"/><circle cx="635.5" cy="510.1" r="1.9"/></g>
<g class="c24"><circle cx="555.8" cy="510.2" r="1.9"/><circle cx="566.2" cy="493.8" r="1.9"/><circle cx="586.4" cy="476.3" r="1.9"/><circle cx="563.8" cy="502.6" r="1.9"/><circle cx="583.3" cy="483.5" r="1.9"/><circle cx="579.2" cy="479.5" r="1.9"/></g>
<g class="c49"><circle cx="576.9" cy="490.5" r="1.9"/><circle cx="609.9" cy="483.8" r="1.9"/><circle cx="616.7" cy="495.1" r="1.9"/><circle cx="619.1" cy="493.0" r="1.9"/><circle cx="599.4" cy="508.0" r="1.9"/><circle cx="625.1" cy="515.4" r="1.9"/></g>
<g class="c46"><circle cx="666.2" cy="448.5" r="1.9"/><circle cx="665.2" cy="472.3" r="1.9"/><circle cx="657.5" cy="493.7" r="1.9"/><circle cx="639.5" cy="468.5" r="1.9"/><circle cx="643.9" cy="456.8" r="1.9"/><circle cx="668.8" cy="464.5" r="1.9"/></g>
<g class="c24"><circle cx="558.8" cy="480.2" r="1.9"/><circle cx="576.2" cy="475.9" r="1.9"/><circle cx="574.1" cy="490.3" r="1.9"/><circle cx="593.3" cy="506.1" r="1.9"/><circle cx="588.5" cy="487.2" r="1.9"/><circle cx="599.2" cy="480.2" r="1.9"/></g>
<g class="c49"><circle cx="621.8" cy="520.3" r="1.9"/><circle cx="626.1" cy="504.6" r="1.9"/><circle cx="618.0" cy="529.0" r="1.9"/><circle cx="606.8" cy="497.5" r="1.9"/><circle cx="593.4" cy="483.9" r="1.9"/><circle cx="590.3" cy="509.7" r="1.9"/></g>
<g class="c48"><circle cx="621.5" cy="495.0" r="1.9"/><circle cx="632.0" cy="493.1" r="1.9"/><circle cx="648.2" cy="464.1" r="1.9"/><circle cx="644.5" cy="503.2" r="1.9"/><circle cx="661.8" cy="515.7" r="1.9"/><circle cx="645.1" cy="496.6" r="1.9"/></g>
<g class="c50"><circle cx="599.4" cy="481.7" r="1.9"/><circle cx="611.0" cy="455.9" r="1.9"/><circle cx="599.2" cy="469.9" r="1.9"/><circle cx="629.7" cy="435.7" r="1.9"/><circle cx="606.3" cy="483.5" r="1.9"/><circle cx="595.2" cy="435.8" r="1.9"/></g>
<g class="c46"><circle cx="687.8" cy="450.7" r="1.9"/><circle cx="707.4" cy="479.5" r="1.9"/><circle cx="689.7" cy="479.4" r="1.9"/><circle cx="663.6" cy="499.0" r="1.9"/><circle cx="656.8" cy="460.3" r="1.9"/><circle cx="686.3" cy="513.7" r="1.9"/></g>
<g class="c50"><circle cx="623.2" cy="452.9" r="1.9"/><circle cx="578.3" cy="456.3" r="1.9"/><circle cx="622.6" cy="441.5" r="1.9"/><circle cx="599.5" cy="471.0" r="1.9"/><circle cx="624.0" cy="438.3" r="1.9"/><circle cx="612.5" cy="444.6" r="1.9"/></g>
<g class="c46"><circle cx="660.9" cy="432.0" r="1.9"/><circle cx="661.0" cy="462.1" r="1.9"/><circle cx="654.5" cy="463.8" r="1.9"/><circle cx="631.0" cy="474.5" r="1.9"/><circle cx="667.1" cy="484.1" r="1.9"/><circle cx="661.6" cy="484.5" r="1.9"/></g>
<g class="c49"><circle cx="576.6" cy="510.7" r="1.9"/><circle cx="608.9" cy="485.6" r="1.9"/><circle cx="603.7" cy="492.1" r="1.9"/><circle cx="598.2" cy="506.9" r="1.9"/><circle cx="575.5" cy="517.6" r="1.9"/><circle cx="588.8" cy="515.2" r="1.9"/></g>
<g class="c49"><circle cx="615.4" cy="499.5" r="1.9"/><circle cx="620.3" cy="501.4" r="1.9"/><circle cx="586.9" cy="509.7" r="1.9"/><circle cx="592.5" cy="505.7" r="1.9"/><circle cx="615.6" cy="480.8" r="1.9"/><circle cx="608.4" cy="512.3" r="1.9"/></g>
<g class="c48"><circle cx="662.6" cy="495.3" r="1.9"/><circle cx="656.6" cy="473.6" r="1.9"/><circle cx="609.4" cy="481.1" r="1.9"/><circle cx="646.0" cy="481.3" r="1.9"/><circle cx="647.3" cy="540.8" r="1.9"/><circle cx="651.8" cy="509.0" r="1.9"/></g>
<g class="c46"><circle cx="700.8" cy="454.9" r="1.9"/><circle cx="697.0" cy="478.4" r="1.9"/><circle cx="682.9" cy="466.8" r="1.9"/><circle cx="677.8" cy="486.2" r="1.9"/><circle cx="680.9" cy="457.0" r="1.9"/><circle cx="681.6" cy="496.3" r="1.9"/></g>
<g class="c50"><circle cx="606.9" cy="453.4" r="1.9"/><circle cx="599.1" cy="466.2" r="1.9"/><circle cx="620.0" cy="444.7" r="1.9"/><circle cx="584.8" cy="426.7" r="1.9"/><circle cx="605.0" cy="465.8" r="1.9"/><circle cx="601.9" cy="451.8" r="1.9"/></g>
<g class="c24"><circle cx="578.6" cy="491.8" r="1.9"/><circle cx="572.9" cy="494.0" r="1.9"/><circle cx="585.6" cy="500.9" r="1.9"/><circle cx="574.5" cy="491.0" r="1.9"/><circle cx="599.3" cy="491.1" r="1.9"/><circle cx="599.1" cy="487.8" r="1.9"/></g>
<g class="c24"><circle cx="584.4" cy="506.3" r="1.9"/><circle cx="574.5" cy="519.3" r="1.9"/><circle cx="553.4" cy="471.2" r="1.9"/><circle cx="592.7" cy="473.4" r="1.9"/><circle cx="572.7" cy="481.5" r="1.9"/><circle cx="588.0" cy="470.2" r="1.9"/></g>
<g class="c24"><circle cx="587.2" cy="485.8" r="1.9"/><circle cx="582.9" cy="461.7" r="1.9"/><circle cx="583.1" cy="478.7" r="1.9"/><circle cx="572.2" cy="468.6" r="1.9"/><circle cx="575.6" cy="474.7" r="1.9"/><circle cx="606.4" cy="471.1" r="1.9"/></g>
<g class="c46"><circle cx="663.9" cy="480.6" r="1.9"/><circle cx="665.2" cy="462.9" r="1.9"/><circle cx="645.6" cy="456.2" r="1.9"/><circle cx="662.9" cy="465.6" r="1.9"/><circle cx="682.4" cy="458.6" r="1.9"/><circle cx="691.7" cy="460.9" r="1.9"/></g>
<g class="c48"><circle cx="635.9" cy="496.7" r="1.9"/><circle cx="641.5" cy="498.8" r="1.9"/><circle cx="675.2" cy="500.4" r="1.9"/><circle cx="623.8" cy="478.3" r="1.9"/><circle cx="611.7" cy="478.3" r="1.9"/><circle cx="634.5" cy="486.7" r="1.9"/></g>
<g class="c46"><circle cx="658.6" cy="466.6" r="1.9"/><circle cx="646.8" cy="427.2" r="1.9"/><circle cx="665.6" cy="467.2" r="1.9"/><circle cx="653.8" cy="477.2" r="1.9"/><circle cx="661.7" cy="458.1" r="1.9"/><circle cx="669.4" cy="426.0" r="1.9"/></g>
<g class="c48"><circle cx="620.3" cy="498.6" r="1.9"/><circle cx="607.0" cy="512.1" r="1.9"/></g>
<g class="c50"><circle cx="608.0" cy="436.4" r="1.9"/><circle cx="639.0" cy="438.9" r="1.9"/><circle cx="617.3" cy="439.3" r="1.9"/><circle cx="606.2" cy="439.0" r="1.9"/><circle cx="633.6" cy="444.5" r="1.9"/><circle cx="582.3" cy="462.1" r="1.9"/></g>
<g class="c38"><circle cx="711.8" cy="458.5" r="1.9"/><circle cx="685.9" cy="470.5" r="1.9"/><circle cx="701.0" cy="492.8" r="1.9"/><circle cx="699.1" cy="468.8" r="1.9"/><circle cx="676.7" cy="488.6" r="1.9"/><circle cx="694.5" cy="482.4" r="1.9"/></g>
<g class="c50"><circle cx="630.1" cy="465.6" r="1.9"/><circle cx="619.1" cy="432.1" r="1.9"/><circle cx="616.4" cy="457.3" r="1.9"/><circle cx="598.5" cy="439.0" r="1.9"/><circle cx="597.9" cy="423.2" r="1.9"/><circle cx="603.2" cy="460.3" r="1.9"/></g>
<g class="c50"><circle cx="634.2" cy="437.1" r="1.9"/><circle cx="596.2" cy="476.6" r="1.9"/><circle cx="622.2" cy="448.7" r="1.9"/><circle cx="621.3" cy="431.2" r="1.9"/><circle cx="600.3" cy="456.7" r="1.9"/><circle cx="568.6" cy="439.1" r="1.9"/></g>
<g class="c46"><circle cx="679.6" cy="460.4" r="1.9"/><circle cx="681.3" cy="498.6" r="1.9"/><circle cx="644.4" cy="449.9" r="1.9"/><circle cx="636.2" cy="458.2" r="1.9"/><circle cx="645.0" cy="467.8" r="1.9"/><circle cx="646.9" cy="461.4" r="1.9"/></g>
<g class="c49"><circle cx="578.0" cy="504.6" r="1.9"/><circle cx="602.9" cy="525.6" r="1.9"/><circle cx="598.4" cy="496.6" r="1.9"/><circle cx="622.3" cy="515.5" r="1.9"/><circle cx="598.7" cy="517.5" r="1.9"/><circle cx="602.7" cy="516.5" r="1.9"/></g>
<g class="c38"><circle cx="699.9" cy="452.5" r="1.9"/><circle cx="679.4" cy="469.5" r="1.9"/><circle cx="693.7" cy="470.0" r="1.9"/><circle cx="651.5" cy="516.5" r="1.9"/><circle cx="667.2" cy="514.1" r="1.9"/><circle cx="707.9" cy="480.1" r="1.9"/></g>
<g class="c24"><circle cx="554.9" cy="497.3" r="1.9"/><circle cx="571.1" cy="473.2" r="1.9"/><circle cx="540.7" cy="454.7" r="1.9"/><circle cx="552.3" cy="490.6" r="1.9"/><circle cx="599.7" cy="472.4" r="1.9"/><circle cx="576.4" cy="504.9" r="1.9"/></g>
<g class="c46"><circle cx="683.8" cy="467.5" r="1.9"/><circle cx="657.5" cy="466.5" r="1.9"/><circle cx="667.9" cy="453.7" r="1.9"/><circle cx="690.2" cy="464.7" r="1.9"/><circle cx="669.8" cy="457.8" r="1.9"/><circle cx="662.7" cy="476.6" r="1.9"/></g>
<g class="c29"><circle cx="638.8" cy="543.5" r="1.9"/><circle cx="633.3" cy="538.0" r="1.9"/><circle cx="641.7" cy="538.9" r="1.9"/></g>
<g class="c38"><circle cx="699.5" cy="467.5" r="1.9"/><circle cx="685.0" cy="479.4" r="1.9"/><circle cx="700.0" cy="483.9" r="1.9"/><circle cx="678.6" cy="457.1" r="1.9"/><circle cx="698.0" cy="472.3" r="1.9"/><circle cx="673.8" cy="484.4" r="1.9"/></g>
<g class="c46"><circle cx="701.3" cy="479.7" r="1.9"/><circle cx="680.9" cy="472.3" r="1.9"/><circle cx="659.9" cy="474.7" r="1.9"/><circle cx="658.6" cy="460.2" r="1.9"/><circle cx="690.8" cy="468.7" r="1.9"/><circle cx="686.8" cy="434.0" r="1.9"/></g>
<g class="c48"><circle cx="647.7" cy="475.5" r="1.9"/><circle cx="643.5" cy="511.8" r="1.9"/><circle cx="656.1" cy="492.5" r="1.9"/><circle cx="648.7" cy="497.6" r="1.9"/><circle cx="656.1" cy="486.4" r="1.9"/><circle cx="653.5" cy="518.0" r="1.9"/></g>
<g class="c50"><circle cx="600.4" cy="442.3" r="1.9"/><circle cx="581.0" cy="458.8" r="1.9"/><circle cx="646.9" cy="452.1" r="1.9"/><circle cx="581.6" cy="452.0" r="1.9"/><circle cx="592.7" cy="449.0" r="1.9"/><circle cx="599.0" cy="464.9" r="1.9"/></g>
<g class="c24"><circle cx="579.4" cy="493.3" r="1.9"/><circle cx="564.8" cy="461.0" r="1.9"/><circle cx="577.4" cy="488.0" r="1.9"/><circle cx="563.5" cy="474.6" r="1.9"/><circle cx="583.1" cy="494.6" r="1.9"/><circle cx="587.6" cy="488.1" r="1.9"/></g>
<g class="c50"><circle cx="593.9" cy="464.9" r="1.9"/><circle cx="612.8" cy="444.6" r="1.9"/><circle cx="588.8" cy="439.1" r="1.9"/><circle cx="617.9" cy="466.6" r="1.9"/><circle cx="596.3" cy="434.7" r="1.9"/><circle cx="576.3" cy="423.9" r="1.9"/></g>
<g class="c50"><circle cx="609.2" cy="452.6" r="1.9"/><circle cx="607.0" cy="441.1" r="1.9"/><circle cx="603.7" cy="449.8" r="1.9"/><circle cx="600.9" cy="438.4" r="1.9"/><circle cx="588.3" cy="457.7" r="1.9"/><circle cx="593.6" cy="453.0" r="1.9"/></g>
<g class="c48"><circle cx="618.6" cy="483.8" r="1.9"/><circle cx="648.2" cy="503.5" r="1.9"/><circle cx="634.6" cy="471.2" r="1.9"/><circle cx="623.0" cy="499.7" r="1.9"/><circle cx="674.3" cy="508.9" r="1.9"/><circle cx="663.7" cy="500.4" r="1.9"/></g>
<g class="c50"><circle cx="590.2" cy="457.7" r="1.9"/><circle cx="643.8" cy="421.4" r="1.9"/><circle cx="622.3" cy="417.0" r="1.9"/><circle cx="626.8" cy="458.2" r="1.9"/><circle cx="572.5" cy="473.1" r="1.9"/><circle cx="580.1" cy="458.6" r="1.9"/></g>
<g class="c50"><circle cx="591.2" cy="441.2" r="1.9"/><circle cx="621.6" cy="455.4" r="1.9"/><circle cx="631.7" cy="441.1" r="1.9"/><circle cx="633.6" cy="445.2" r="1.9"/><circle cx="586.1" cy="432.7" r="1.9"/><circle cx="629.9" cy="444.2" r="1.9"/></g>
<g class="c24"><circle cx="579.3" cy="466.1" r="1.9"/><circle cx="553.9" cy="474.3" r="1.9"/><circle cx="554.7" cy="500.7" r="1.9"/><circle cx="588.2" cy="485.8" r="1.9"/><circle cx="604.5" cy="482.8" r="1.9"/><circle cx="573.1" cy="460.6" r="1.9"/></g>
<g class="c46"><circle cx="659.4" cy="469.2" r="1.9"/><circle cx="670.9" cy="440.5" r="1.9"/><circle cx="688.5" cy="449.3" r="1.9"/><circle cx="650.0" cy="429.3" r="1.9"/><circle cx="693.3" cy="452.7" r="1.9"/><circle cx="667.1" cy="483.3" r="1.9"/></g>
<g class="c46"><circle cx="654.0" cy="463.8" r="1.9"/><circle cx="633.9" cy="475.4" r="1.9"/><circle cx="649.0" cy="471.4" r="1.9"/><circle cx="674.5" cy="464.2" r="1.9"/><circle cx="645.0" cy="490.2" r="1.9"/><circle cx="664.5" cy="487.3" r="1.9"/></g>
<g class="c38"><circle cx="680.3" cy="479.4" r="1.9"/><circle cx="671.8" cy="489.1" r="1.9"/><circle cx="686.8" cy="479.5" r="1.9"/><circle cx="699.6" cy="484.9" r="1.9"/><circle cx="683.5" cy="500.3" r="1.9"/><circle cx="706.8" cy="488.5" r="1.9"/></g>
<g class="c24"><circle cx="587.8" cy="482.0" r="1.9"/><circle cx="557.6" cy="503.2" r="1.9"/><circle cx="587.6" cy="487.0" r="1.9"/><circle cx="557.0" cy="459.3" r="1.9"/><circle cx="550.7" cy="490.0" r="1.9"/><circle cx="570.4" cy="477.0" r="1.9"/></g>
<g class="c48"><circle cx="637.7" cy="498.1" r="1.9"/><circle cx="634.4" cy="511.4" r="1.9"/><circle cx="620.7" cy="493.2" r="1.9"/><circle cx="627.3" cy="474.9" r="1.9"/><circle cx="676.2" cy="519.4" r="1.9"/><circle cx="652.7" cy="491.6" r="1.9"/></g>
<g class="c24"><circle cx="576.3" cy="481.8" r="1.9"/><circle cx="569.3" cy="519.1" r="1.9"/><circle cx="579.4" cy="471.9" r="1.9"/><circle cx="597.2" cy="493.6" r="1.9"/><circle cx="589.2" cy="479.7" r="1.9"/><circle cx="598.0" cy="485.9" r="1.9"/></g>
<g class="c49"><circle cx="595.4" cy="478.6" r="1.9"/><circle cx="587.7" cy="502.6" r="1.9"/><circle cx="610.0" cy="504.5" r="1.9"/><circle cx="615.1" cy="519.7" r="1.9"/><circle cx="564.6" cy="498.0" r="1.9"/><circle cx="599.2" cy="496.5" r="1.9"/></g>
<g class="c49"><circle cx="572.7" cy="505.7" r="1.9"/><circle cx="592.1" cy="505.4" r="1.9"/><circle cx="602.4" cy="508.0" r="1.9"/><circle cx="603.3" cy="513.1" r="1.9"/><circle cx="611.9" cy="503.0" r="1.9"/><circle cx="615.5" cy="505.6" r="1.9"/></g>
<g class="c48"><circle cx="638.8" cy="493.5" r="1.9"/><circle cx="657.6" cy="495.5" r="1.9"/><circle cx="649.8" cy="465.9" r="1.9"/><circle cx="648.7" cy="499.6" r="1.9"/><circle cx="623.4" cy="468.9" r="1.9"/><circle cx="659.0" cy="502.9" r="1.9"/></g>
<g class="c46"><circle cx="682.8" cy="475.5" r="1.9"/><circle cx="650.5" cy="460.7" r="1.9"/><circle cx="657.7" cy="507.2" r="1.9"/><circle cx="675.8" cy="484.2" r="1.9"/><circle cx="644.2" cy="468.7" r="1.9"/><circle cx="681.8" cy="434.2" r="1.9"/></g>
<g class="c48"><circle cx="645.7" cy="475.5" r="1.9"/><circle cx="661.5" cy="498.7" r="1.9"/><circle cx="653.8" cy="472.8" r="1.9"/><circle cx="638.0" cy="469.0" r="1.9"/><circle cx="634.7" cy="533.7" r="1.9"/><circle cx="659.2" cy="501.9" r="1.9"/></g>
<g class="c24"><circle cx="554.5" cy="498.7" r="1.9"/><circle cx="577.6" cy="501.6" r="1.9"/><circle cx="580.7" cy="506.7" r="1.9"/><circle cx="591.0" cy="490.1" r="1.9"/><circle cx="584.2" cy="496.2" r="1.9"/><circle cx="583.5" cy="489.7" r="1.9"/></g>
<g class="c50"><circle cx="600.0" cy="457.1" r="1.9"/><circle cx="591.9" cy="422.0" r="1.9"/><circle cx="587.5" cy="461.5" r="1.9"/><circle cx="630.5" cy="451.7" r="1.9"/><circle cx="626.2" cy="460.5" r="1.9"/><circle cx="614.2" cy="445.3" r="1.9"/></g>
<g class="c48"><circle cx="630.3" cy="469.1" r="1.9"/><circle cx="628.1" cy="454.3" r="1.9"/><circle cx="623.4" cy="469.3" r="1.9"/><circle cx="635.4" cy="441.7" r="1.9"/><circle cx="623.3" cy="459.2" r="1.9"/><circle cx="617.3" cy="471.1" r="1.9"/></g>
<g class="c50"><circle cx="616.5" cy="427.0" r="1.9"/><circle cx="595.0" cy="448.8" r="1.9"/><circle cx="599.4" cy="465.1" r="1.9"/><circle cx="616.0" cy="458.9" r="1.9"/><circle cx="625.6" cy="469.9" r="1.9"/><circle cx="624.2" cy="447.9" r="1.9"/></g>
<g class="c50"><circle cx="636.7" cy="451.6" r="1.9"/><circle cx="579.4" cy="443.1" r="1.9"/><circle cx="580.7" cy="455.4" r="1.9"/><circle cx="622.3" cy="433.2" r="1.9"/><circle cx="609.1" cy="464.9" r="1.9"/><circle cx="605.0" cy="471.4" r="1.9"/></g>
<g class="c24"><circle cx="567.0" cy="477.7" r="1.9"/><circle cx="582.9" cy="485.3" r="1.9"/><circle cx="589.7" cy="480.7" r="1.9"/><circle cx="569.9" cy="513.5" r="1.9"/><circle cx="566.9" cy="489.5" r="1.9"/><circle cx="570.3" cy="476.7" r="1.9"/></g>
<g class="c46"><circle cx="661.1" cy="471.2" r="1.9"/><circle cx="715.7" cy="471.3" r="1.9"/><circle cx="679.1" cy="489.7" r="1.9"/><circle cx="639.0" cy="460.4" r="1.9"/><circle cx="662.7" cy="432.7" r="1.9"/><circle cx="676.9" cy="459.5" r="1.9"/></g>
<g class="c46"><circle cx="668.9" cy="473.4" r="1.9"/><circle cx="691.5" cy="476.1" r="1.9"/><circle cx="667.7" cy="463.9" r="1.9"/><circle cx="647.9" cy="471.4" r="1.9"/><circle cx="669.6" cy="467.3" r="1.9"/><circle cx="726.7" cy="460.3" r="1.9"/></g>
<g class="c50"><circle cx="635.6" cy="445.9" r="1.9"/><circle cx="592.6" cy="429.3" r="1.9"/><circle cx="604.0" cy="446.9" r="1.9"/><circle cx="626.3" cy="437.9" r="1.9"/><circle cx="592.2" cy="425.9" r="1.9"/><circle cx="608.4" cy="448.9" r="1.9"/></g>
<g class="c24"><circle cx="606.2" cy="472.8" r="1.9"/><circle cx="580.1" cy="470.7" r="1.9"/><circle cx="571.7" cy="465.4" r="1.9"/><circle cx="570.4" cy="487.0" r="1.9"/><circle cx="557.2" cy="452.0" r="1.9"/><circle cx="559.4" cy="474.5" r="1.9"/></g>
<g class="c24"><circle cx="567.6" cy="453.6" r="1.9"/><circle cx="585.4" cy="491.8" r="1.9"/><circle cx="570.4" cy="475.1" r="1.9"/><circle cx="540.2" cy="472.1" r="1.9"/><circle cx="554.6" cy="480.7" r="1.9"/><circle cx="563.4" cy="474.2" r="1.9"/></g>
<g class="c38"><circle cx="694.8" cy="475.7" r="1.9"/><circle cx="690.4" cy="477.7" r="1.9"/><circle cx="714.7" cy="489.0" r="1.9"/><circle cx="691.1" cy="457.8" r="1.9"/><circle cx="711.8" cy="479.4" r="1.9"/><circle cx="686.8" cy="511.2" r="1.9"/></g>
<g class="c49"><circle cx="584.2" cy="503.2" r="1.9"/><circle cx="594.7" cy="506.6" r="1.9"/><circle cx="603.7" cy="502.6" r="1.9"/><circle cx="601.3" cy="497.2" r="1.9"/><circle cx="583.3" cy="499.5" r="1.9"/><circle cx="605.3" cy="489.9" r="1.9"/></g>
<g class="c49"><circle cx="591.8" cy="500.6" r="1.9"/><circle cx="599.0" cy="520.0" r="1.9"/><circle cx="595.0" cy="522.9" r="1.9"/><circle cx="601.3" cy="518.0" r="1.9"/><circle cx="586.5" cy="521.7" r="1.9"/><circle cx="620.7" cy="472.6" r="1.9"/></g>
<g class="c46"><circle cx="667.5" cy="462.7" r="1.9"/><circle cx="682.4" cy="472.2" r="1.9"/><circle cx="654.0" cy="462.8" r="1.9"/><circle cx="689.6" cy="515.6" r="1.9"/><circle cx="701.8" cy="447.5" r="1.9"/><circle cx="664.0" cy="439.0" r="1.9"/></g>
<g class="c24"><circle cx="555.1" cy="467.4" r="1.9"/><circle cx="609.4" cy="463.2" r="1.9"/><circle cx="589.5" cy="465.4" r="1.9"/><circle cx="548.1" cy="471.5" r="1.9"/><circle cx="595.8" cy="488.7" r="1.9"/><circle cx="556.3" cy="479.8" r="1.9"/></g>
<g class="c38"><circle cx="716.8" cy="464.3" r="1.9"/><circle cx="685.7" cy="484.3" r="1.9"/><circle cx="685.9" cy="508.9" r="1.9"/><circle cx="698.8" cy="513.6" r="1.9"/><circle cx="692.4" cy="485.7" r="1.9"/><circle cx="708.7" cy="487.7" r="1.9"/></g>
<g class="c50"><circle cx="637.7" cy="438.9" r="1.9"/><circle cx="618.2" cy="452.3" r="1.9"/><circle cx="631.2" cy="461.7" r="1.9"/><circle cx="622.0" cy="453.4" r="1.9"/><circle cx="648.7" cy="437.0" r="1.9"/><circle cx="644.0" cy="429.5" r="1.9"/></g>
<g class="c46"><circle cx="659.2" cy="416.4" r="1.9"/><circle cx="648.4" cy="475.2" r="1.9"/><circle cx="672.5" cy="483.8" r="1.9"/><circle cx="672.2" cy="461.8" r="1.9"/><circle cx="653.4" cy="454.5" r="1.9"/><circle cx="662.1" cy="480.3" r="1.9"/></g>
<g class="c48"><circle cx="632.8" cy="473.0" r="1.9"/><circle cx="656.1" cy="481.6" r="1.9"/><circle cx="653.0" cy="506.2" r="1.9"/><circle cx="628.8" cy="484.4" r="1.9"/><circle cx="638.0" cy="485.5" r="1.9"/><circle cx="620.8" cy="503.6" r="1.9"/></g>
<g class="c48"><circle cx="630.6" cy="506.1" r="1.9"/><circle cx="641.0" cy="461.6" r="1.9"/><circle cx="628.5" cy="493.1" r="1.9"/><circle cx="654.9" cy="510.2" r="1.9"/><circle cx="621.6" cy="493.5" r="1.9"/><circle cx="635.0" cy="468.9" r="1.9"/></g>
<g class="c50"><circle cx="600.9" cy="431.4" r="1.9"/><circle cx="618.6" cy="435.1" r="1.9"/><circle cx="604.6" cy="444.5" r="1.9"/><circle cx="601.5" cy="442.5" r="1.9"/><circle cx="633.2" cy="438.1" r="1.9"/><circle cx="626.6" cy="452.0" r="1.9"/></g>
<g class="c48"><circle cx="610.8" cy="484.7" r="1.9"/><circle cx="637.6" cy="460.1" r="1.9"/><circle cx="648.3" cy="449.0" r="1.9"/><circle cx="636.1" cy="454.5" r="1.9"/><circle cx="630.5" cy="479.2" r="1.9"/><circle cx="616.6" cy="459.5" r="1.9"/></g>
<g class="c38"><circle cx="711.1" cy="499.9" r="1.9"/><circle cx="692.1" cy="495.3" r="1.9"/><circle cx="693.3" cy="477.6" r="1.9"/><circle cx="708.1" cy="436.5" r="1.9"/><circle cx="671.3" cy="499.6" r="1.9"/><circle cx="712.4" cy="491.1" r="1.9"/></g>
<g class="c38"><circle cx="697.3" cy="470.7" r="1.9"/><circle cx="683.0" cy="487.5" r="1.9"/><circle cx="700.4" cy="475.2" r="1.9"/><circle cx="680.1" cy="487.0" r="1.9"/><circle cx="708.8" cy="476.7" r="1.9"/><circle cx="687.6" cy="492.3" r="1.9"/></g>
<g class="c49"><circle cx="606.6" cy="509.6" r="1.9"/><circle cx="611.2" cy="523.7" r="1.9"/><circle cx="584.8" cy="510.0" r="1.9"/><circle cx="601.2" cy="513.2" r="1.9"/><circle cx="600.8" cy="510.9" r="1.9"/><circle cx="589.8" cy="497.1" r="1.9"/></g>
<g class="c38"><circle cx="698.2" cy="429.4" r="1.9"/><circle cx="683.9" cy="511.8" r="1.9"/><circle cx="663.9" cy="474.4" r="1.9"/><circle cx="679.3" cy="490.6" r="1.9"/><circle cx="703.3" cy="467.0" r="1.9"/><circle cx="668.8" cy="501.7" r="1.9"/></g>
<g class="c24"><circle cx="584.7" cy="503.5" r="1.9"/><circle cx="567.2" cy="472.1" r="1.9"/><circle cx="612.9" cy="499.0" r="1.9"/><circle cx="585.0" cy="464.2" r="1.9"/><circle cx="573.0" cy="483.5" r="1.9"/><circle cx="561.2" cy="471.0" r="1.9"/></g>
<g class="c38"><circle cx="714.2" cy="488.1" r="1.9"/><circle cx="700.2" cy="468.9" r="1.9"/><circle cx="704.1" cy="480.9" r="1.9"/><circle cx="707.0" cy="464.9" r="1.9"/><circle cx="679.5" cy="477.6" r="1.9"/><circle cx="706.0" cy="502.9" r="1.9"/></g>
<g class="c46"><circle cx="688.0" cy="468.5" r="1.9"/><circle cx="643.0" cy="446.8" r="1.9"/><circle cx="649.1" cy="448.5" r="1.9"/><circle cx="679.2" cy="460.5" r="1.9"/><circle cx="655.5" cy="475.4" r="1.9"/><circle cx="626.5" cy="485.0" r="1.9"/></g>
<g class="c50"><circle cx="592.5" cy="442.1" r="1.9"/><circle cx="633.6" cy="463.4" r="1.9"/><circle cx="613.2" cy="449.4" r="1.9"/><circle cx="611.5" cy="458.7" r="1.9"/><circle cx="631.1" cy="464.5" r="1.9"/><circle cx="615.2" cy="455.6" r="1.9"/></g>
<g class="c50"><circle cx="613.9" cy="469.9" r="1.9"/><circle cx="631.0" cy="449.5" r="1.9"/><circle cx="605.3" cy="464.6" r="1.9"/><circle cx="606.7" cy="483.8" r="1.9"/><circle cx="635.1" cy="453.0" r="1.9"/><circle cx="596.9" cy="445.8" r="1.9"/></g>
<g class="c50"><circle cx="607.2" cy="439.5" r="1.9"/><circle cx="600.2" cy="460.2" r="1.9"/><circle cx="621.3" cy="426.1" r="1.9"/><circle cx="613.6" cy="433.1" r="1.9"/><circle cx="628.7" cy="462.5" r="1.9"/><circle cx="622.9" cy="435.6" r="1.9"/></g>
<g class="c49"><circle cx="635.9" cy="531.1" r="1.9"/><circle cx="601.5" cy="498.4" r="1.9"/><circle cx="621.3" cy="496.4" r="1.9"/><circle cx="575.5" cy="487.5" r="1.9"/><circle cx="618.1" cy="515.7" r="1.9"/><circle cx="613.3" cy="505.2" r="1.9"/></g>
<g class="c48"><circle cx="631.8" cy="479.4" r="1.9"/><circle cx="648.5" cy="498.3" r="1.9"/><circle cx="626.7" cy="518.3" r="1.9"/><circle cx="644.6" cy="475.0" r="1.9"/><circle cx="642.3" cy="467.6" r="1.9"/><circle cx="622.5" cy="483.0" r="1.9"/></g>
<g class="c38"><circle cx="693.5" cy="493.8" r="1.9"/><circle cx="693.4" cy="511.6" r="1.9"/><circle cx="701.5" cy="498.2" r="1.9"/><circle cx="704.8" cy="466.0" r="1.9"/><circle cx="729.0" cy="483.1" r="1.9"/><circle cx="669.4" cy="524.2" r="1.9"/></g>
<g class="c50"><circle cx="602.6" cy="456.6" r="1.9"/><circle cx="612.8" cy="454.8" r="1.9"/><circle cx="606.8" cy="458.0" r="1.9"/><circle cx="638.3" cy="431.3" r="1.9"/><circle cx="639.9" cy="454.9" r="1.9"/><circle cx="605.7" cy="465.3" r="1.9"/></g>
<g class="c38"><circle cx="724.7" cy="472.4" r="1.9"/><circle cx="690.8" cy="479.6" r="1.9"/><circle cx="680.0" cy="489.2" r="1.9"/><circle cx="709.5" cy="484.9" r="1.9"/><circle cx="675.7" cy="463.4" r="1.9"/><circle cx="651.5" cy="522.5" r="1.9"/></g>
<g class="c38"><circle cx="678.3" cy="442.6" r="1.9"/><circle cx="682.1" cy="500.2" r="1.9"/><circle cx="692.1" cy="529.2" r="1.9"/><circle cx="687.4" cy="460.6" r="1.9"/><circle cx="705.4" cy="469.8" r="1.9"/><circle cx="672.1" cy="510.4" r="1.9"/></g>
<g class="c24"><circle cx="595.0" cy="475.6" r="1.9"/><circle cx="574.5" cy="436.1" r="1.9"/><circle cx="568.1" cy="472.5" r="1.9"/><circle cx="576.7" cy="461.7" r="1.9"/><circle cx="603.3" cy="472.0" r="1.9"/><circle cx="588.3" cy="480.1" r="1.9"/></g>
<g class="c50"><circle cx="573.5" cy="453.5" r="1.9"/><circle cx="612.2" cy="425.1" r="1.9"/><circle cx="599.8" cy="432.7" r="1.9"/><circle cx="568.4" cy="437.0" r="1.9"/><circle cx="592.6" cy="455.0" r="1.9"/><circle cx="597.5" cy="439.4" r="1.9"/></g>
<g class="c24"><circle cx="581.9" cy="476.3" r="1.9"/><circle cx="578.6" cy="467.1" r="1.9"/><circle cx="583.5" cy="455.1" r="1.9"/><circle cx="571.9" cy="493.7" r="1.9"/><circle cx="592.0" cy="505.9" r="1.9"/><circle cx="576.4" cy="513.2" r="1.9"/></g>
<g class="c49"><circle cx="598.7" cy="504.9" r="1.9"/><circle cx="595.8" cy="510.1" r="1.9"/><circle cx="594.3" cy="506.8" r="1.9"/><circle cx="596.6" cy="510.6" r="1.9"/><circle cx="590.9" cy="504.8" r="1.9"/><circle cx="568.4" cy="514.6" r="1.9"/></g>
<g class="c46"><circle cx="672.5" cy="459.4" r="1.9"/><circle cx="678.6" cy="502.6" r="1.9"/><circle cx="652.0" cy="448.2" r="1.9"/><circle cx="664.1" cy="481.3" r="1.9"/><circle cx="635.2" cy="470.3" r="1.9"/><circle cx="677.0" cy="486.6" r="1.9"/></g>
<g class="c48"><circle cx="637.8" cy="472.1" r="1.9"/><circle cx="640.7" cy="515.8" r="1.9"/><circle cx="650.0" cy="521.1" r="1.9"/><circle cx="647.4" cy="511.0" r="1.9"/><circle cx="646.8" cy="468.9" r="1.9"/><circle cx="625.9" cy="522.6" r="1.9"/></g>
<g class="c50"><circle cx="607.5" cy="500.8" r="1.9"/><circle cx="598.2" cy="460.2" r="1.9"/><circle cx="625.0" cy="452.3" r="1.9"/><circle cx="600.5" cy="449.6" r="1.9"/><circle cx="623.8" cy="465.0" r="1.9"/><circle cx="630.4" cy="435.0" r="1.9"/></g>
<g class="c46"><circle cx="693.4" cy="476.5" r="1.9"/><circle cx="701.8" cy="465.6" r="1.9"/><circle cx="663.3" cy="481.4" r="1.9"/><circle cx="686.8" cy="454.3" r="1.9"/><circle cx="675.5" cy="462.6" r="1.9"/><circle cx="688.6" cy="467.2" r="1.9"/></g>
<g class="c48"><circle cx="644.1" cy="469.1" r="1.9"/><circle cx="632.1" cy="503.2" r="1.9"/><circle cx="616.3" cy="521.9" r="1.9"/><circle cx="643.8" cy="500.4" r="1.9"/><circle cx="646.3" cy="469.6" r="1.9"/><circle cx="655.6" cy="460.8" r="1.9"/></g>
<g class="c46"><circle cx="665.0" cy="455.0" r="1.9"/><circle cx="672.7" cy="450.5" r="1.9"/><circle cx="648.8" cy="459.2" r="1.9"/><circle cx="666.7" cy="474.3" r="1.9"/><circle cx="657.0" cy="490.1" r="1.9"/><circle cx="675.3" cy="465.6" r="1.9"/></g>
<g class="c48"><circle cx="651.3" cy="492.5" r="1.9"/><circle cx="635.4" cy="455.3" r="1.9"/><circle cx="672.7" cy="506.0" r="1.9"/><circle cx="602.5" cy="483.6" r="1.9"/><circle cx="638.1" cy="462.4" r="1.9"/><circle cx="629.8" cy="452.2" r="1.9"/></g>
<g class="c24"><circle cx="582.0" cy="465.7" r="1.9"/><circle cx="571.3" cy="484.8" r="1.9"/><circle cx="557.3" cy="500.3" r="1.9"/><circle cx="553.2" cy="465.5" r="1.9"/><circle cx="552.5" cy="481.4" r="1.9"/><circle cx="594.4" cy="496.0" r="1.9"/></g>
<g class="c24"><circle cx="587.4" cy="520.4" r="1.9"/><circle cx="560.8" cy="497.8" r="1.9"/><circle cx="559.7" cy="500.2" r="1.9"/><circle cx="579.7" cy="492.1" r="1.9"/><circle cx="574.2" cy="514.7" r="1.9"/><circle cx="570.8" cy="511.2" r="1.9"/></g>
<g class="c48"><circle cx="648.2" cy="498.4" r="1.9"/><circle cx="623.8" cy="477.4" r="1.9"/><circle cx="631.0" cy="490.5" r="1.9"/><circle cx="644.6" cy="492.4" r="1.9"/><circle cx="612.6" cy="486.3" r="1.9"/><circle cx="638.1" cy="463.3" r="1.9"/></g>
<g class="c46"><circle cx="686.3" cy="477.3" r="1.9"/><circle cx="653.3" cy="485.4" r="1.9"/><circle cx="663.9" cy="477.9" r="1.9"/><circle cx="651.1" cy="462.3" r="1.9"/><circle cx="665.1" cy="498.0" r="1.9"/><circle cx="650.5" cy="442.8" r="1.9"/></g>
<g class="c50"><circle cx="569.1" cy="447.6" r="1.9"/><circle cx="631.8" cy="469.3" r="1.9"/><circle cx="583.2" cy="455.5" r="1.9"/><circle cx="609.2" cy="454.0" r="1.9"/><circle cx="634.5" cy="468.3" r="1.9"/><circle cx="622.8" cy="477.9" r="1.9"/></g>
<g class="c50"><circle cx="597.0" cy="448.5" r="1.9"/><circle cx="589.5" cy="450.4" r="1.9"/><circle cx="617.8" cy="455.0" r="1.9"/><circle cx="593.7" cy="445.5" r="1.9"/><circle cx="628.2" cy="449.4" r="1.9"/><circle cx="577.4" cy="448.6" r="1.9"/></g>
<g class="c50"><circle cx="632.6" cy="465.0" r="1.9"/><circle cx="610.7" cy="446.2" r="1.9"/><circle cx="584.8" cy="449.4" r="1.9"/><circle cx="600.3" cy="431.8" r="1.9"/><circle cx="608.3" cy="452.5" r="1.9"/><circle cx="585.0" cy="441.7" r="1.9"/></g>
<g class="c48"><circle cx="639.0" cy="514.7" r="1.9"/><circle cx="614.6" cy="527.0" r="1.9"/><circle cx="649.3" cy="466.4" r="1.9"/><circle cx="632.0" cy="490.2" r="1.9"/><circle cx="635.2" cy="478.1" r="1.9"/><circle cx="638.7" cy="488.8" r="1.9"/></g>
<g class="c38"><circle cx="693.1" cy="473.3" r="1.9"/><circle cx="685.4" cy="486.5" r="1.9"/><circle cx="692.6" cy="463.2" r="1.9"/><circle cx="667.2" cy="502.8" r="1.9"/><circle cx="675.1" cy="507.2" r="1.9"/><circle cx="696.0" cy="507.3" r="1.9"/></g>
<g class="c38"><circle cx="693.7" cy="480.0" r="1.9"/><circle cx="709.8" cy="495.1" r="1.9"/><circle cx="681.3" cy="500.6" r="1.9"/><circle cx="661.9" cy="490.5" r="1.9"/><circle cx="719.1" cy="482.4" r="1.9"/><circle cx="691.8" cy="467.9" r="1.9"/></g>
<g class="c48"><circle cx="658.6" cy="498.4" r="1.9"/><circle cx="659.3" cy="476.8" r="1.9"/><circle cx="642.8" cy="482.7" r="1.9"/><circle cx="675.2" cy="490.8" r="1.9"/><circle cx="652.8" cy="527.8" r="1.9"/><circle cx="629.3" cy="492.3" r="1.9"/></g>
<g class="c48"><circle cx="646.7" cy="503.6" r="1.9"/><circle cx="639.8" cy="456.3" r="1.9"/><circle cx="659.0" cy="477.6" r="1.9"/><circle cx="620.8" cy="507.6" r="1.9"/><circle cx="643.6" cy="513.1" r="1.9"/><circle cx="617.8" cy="466.5" r="1.9"/></g>
<g class="c49"><circle cx="610.5" cy="477.4" r="1.9"/><circle cx="605.0" cy="509.4" r="1.9"/><circle cx="626.5" cy="519.6" r="1.9"/><circle cx="610.5" cy="484.4" r="1.9"/><circle cx="623.3" cy="523.4" r="1.9"/><circle cx="624.7" cy="516.8" r="1.9"/></g>
<g class="c46"><circle cx="667.4" cy="459.9" r="1.9"/><circle cx="671.5" cy="519.2" r="1.9"/><circle cx="663.8" cy="472.3" r="1.9"/><circle cx="655.6" cy="463.5" r="1.9"/><circle cx="652.7" cy="474.4" r="1.9"/><circle cx="671.7" cy="482.4" r="1.9"/></g>
<g class="c48"><circle cx="663.5" cy="522.5" r="1.9"/><circle cx="638.9" cy="480.3" r="1.9"/><circle cx="652.4" cy="450.4" r="1.9"/><circle cx="625.4" cy="475.2" r="1.9"/><circle cx="631.2" cy="480.7" r="1.9"/><circle cx="652.5" cy="473.9" r="1.9"/></g>
<g class="c49"><circle cx="605.1" cy="485.1" r="1.9"/><circle cx="600.6" cy="478.9" r="1.9"/><circle cx="591.9" cy="480.1" r="1.9"/><circle cx="614.8" cy="487.9" r="1.9"/><circle cx="601.0" cy="502.0" r="1.9"/><circle cx="599.3" cy="506.1" r="1.9"/></g>
<g class="c46"><circle cx="651.7" cy="442.8" r="1.9"/><circle cx="673.9" cy="447.4" r="1.9"/><circle cx="668.7" cy="472.4" r="1.9"/><circle cx="705.3" cy="460.2" r="1.9"/><circle cx="655.1" cy="478.8" r="1.9"/><circle cx="652.4" cy="442.0" r="1.9"/></g>
<g class="c50"><circle cx="611.2" cy="457.1" r="1.9"/><circle cx="612.2" cy="467.9" r="1.9"/><circle cx="621.4" cy="483.0" r="1.9"/><circle cx="577.3" cy="463.8" r="1.9"/><circle cx="594.5" cy="458.8" r="1.9"/><circle cx="621.5" cy="431.1" r="1.9"/></g>
<g class="c38"><circle cx="676.6" cy="520.9" r="1.9"/><circle cx="692.2" cy="511.7" r="1.9"/><circle cx="693.7" cy="487.5" r="1.9"/><circle cx="707.6" cy="488.4" r="1.9"/><circle cx="668.3" cy="526.0" r="1.9"/><circle cx="696.5" cy="459.3" r="1.9"/></g>
<g class="c38"><circle cx="696.6" cy="445.0" r="1.9"/><circle cx="691.9" cy="466.1" r="1.9"/><circle cx="710.7" cy="509.7" r="1.9"/><circle cx="707.3" cy="465.0" r="1.9"/><circle cx="713.0" cy="490.9" r="1.9"/><circle cx="681.0" cy="534.0" r="1.9"/></g>
<g class="c48"><circle cx="625.3" cy="469.7" r="1.9"/><circle cx="628.2" cy="522.1" r="1.9"/><circle cx="633.1" cy="497.9" r="1.9"/><circle cx="636.9" cy="499.4" r="1.9"/><circle cx="654.0" cy="479.3" r="1.9"/><circle cx="657.6" cy="523.1" r="1.9"/></g>
<g class="c50"><circle cx="610.0" cy="421.8" r="1.9"/><circle cx="590.7" cy="442.1" r="1.9"/><circle cx="615.6" cy="443.3" r="1.9"/><circle cx="618.6" cy="447.3" r="1.9"/><circle cx="609.2" cy="449.8" r="1.9"/><circle cx="589.2" cy="447.3" r="1.9"/></g>
<g class="c46"><circle cx="663.5" cy="434.5" r="1.9"/><circle cx="645.3" cy="463.6" r="1.9"/><circle cx="655.6" cy="530.0" r="1.9"/><circle cx="702.4" cy="456.9" r="1.9"/><circle cx="659.2" cy="512.4" r="1.9"/><circle cx="676.5" cy="454.8" r="1.9"/></g>
<g class="c50"><circle cx="606.8" cy="433.5" r="1.9"/><circle cx="578.5" cy="464.0" r="1.9"/><circle cx="619.5" cy="470.9" r="1.9"/><circle cx="596.4" cy="473.3" r="1.9"/><circle cx="650.8" cy="421.6" r="1.9"/><circle cx="598.4" cy="435.8" r="1.9"/></g>
<g class="c46"><circle cx="679.0" cy="457.7" r="1.9"/><circle cx="675.2" cy="485.5" r="1.9"/><circle cx="693.8" cy="470.6" r="1.9"/><circle cx="670.3" cy="453.1" r="1.9"/><circle cx="697.3" cy="456.8" r="1.9"/><circle cx="675.4" cy="470.5" r="1.9"/></g>
<g class="c50"><circle cx="595.9" cy="446.1" r="1.9"/><circle cx="634.2" cy="438.9" r="1.9"/><circle cx="665.3" cy="417.8" r="1.9"/><circle cx="644.3" cy="431.7" r="1.9"/><circle cx="595.3" cy="465.9" r="1.9"/><circle cx="627.5" cy="459.0" r="1.9"/></g>
<g class="c38"><circle cx="704.9" cy="475.5" r="1.9"/><circle cx="681.5" cy="465.8" r="1.9"/><circle cx="681.0" cy="498.8" r="1.9"/><circle cx="633.0" cy="495.8" r="1.9"/><circle cx="671.6" cy="500.7" r="1.9"/><circle cx="687.3" cy="475.3" r="1.9"/></g>
<g class="c46"><circle cx="672.3" cy="481.3" r="1.9"/><circle cx="664.5" cy="433.5" r="1.9"/><circle cx="673.6" cy="480.8" r="1.9"/><circle cx="669.0" cy="453.5" r="1.9"/><circle cx="661.9" cy="466.4" r="1.9"/><circle cx="703.8" cy="479.8" r="1.9"/></g>
<g class="c38"><circle cx="699.4" cy="496.2" r="1.9"/><circle cx="693.0" cy="507.6" r="1.9"/><circle cx="698.9" cy="479.3" r="1.9"/><circle cx="702.8" cy="479.8" r="1.9"/><circle cx="668.2" cy="480.6" r="1.9"/><circle cx="704.5" cy="506.2" r="1.9"/></g>
<g class="c50"><circle cx="583.3" cy="448.6" r="1.9"/><circle cx="621.1" cy="471.9" r="1.9"/><circle cx="589.7" cy="437.4" r="1.9"/><circle cx="639.2" cy="431.8" r="1.9"/><circle cx="553.2" cy="455.5" r="1.9"/><circle cx="626.3" cy="451.9" r="1.9"/></g>
<g class="c46"><circle cx="670.5" cy="484.0" r="1.9"/><circle cx="658.5" cy="486.7" r="1.9"/><circle cx="660.8" cy="487.7" r="1.9"/><circle cx="659.1" cy="533.5" r="1.9"/><circle cx="673.3" cy="445.7" r="1.9"/><circle cx="669.7" cy="457.1" r="1.9"/></g>
<g class="c46"><circle cx="678.0" cy="455.9" r="1.9"/><circle cx="671.0" cy="478.2" r="1.9"/><circle cx="676.6" cy="473.0" r="1.9"/><circle cx="663.4" cy="478.9" r="1.9"/><circle cx="705.6" cy="463.4" r="1.9"/><circle cx="678.8" cy="462.4" r="1.9"/></g>
<g class="c49"><circle cx="596.0" cy="501.4" r="1.9"/><circle cx="600.0" cy="494.0" r="1.9"/><circle cx="592.2" cy="511.5" r="1.9"/><circle cx="622.1" cy="503.7" r="1.9"/><circle cx="614.5" cy="518.0" r="1.9"/><circle cx="582.2" cy="521.1" r="1.9"/></g>
<g class="c50"><circle cx="578.9" cy="435.0" r="1.9"/><circle cx="595.7" cy="433.2" r="1.9"/><circle cx="613.0" cy="437.2" r="1.9"/><circle cx="604.8" cy="436.7" r="1.9"/><circle cx="584.8" cy="427.4" r="1.9"/><circle cx="595.6" cy="462.4" r="1.9"/></g>
<g class="c48"><circle cx="661.5" cy="495.7" r="1.9"/><circle cx="621.8" cy="494.3" r="1.9"/><circle cx="652.2" cy="452.1" r="1.9"/><circle cx="658.7" cy="514.0" r="1.9"/><circle cx="631.7" cy="487.7" r="1.9"/><circle cx="645.3" cy="504.1" r="1.9"/></g>
<g class="c38"><circle cx="700.9" cy="500.8" r="1.9"/><circle cx="699.0" cy="503.3" r="1.9"/><circle cx="696.8" cy="479.3" r="1.9"/><circle cx="708.9" cy="505.5" r="1.9"/><circle cx="696.6" cy="484.8" r="1.9"/><circle cx="674.6" cy="500.4" r="1.9"/></g>
<g class="c38"><circle cx="730.2" cy="474.5" r="1.9"/><circle cx="690.5" cy="451.3" r="1.9"/><circle cx="676.5" cy="510.7" r="1.9"/><circle cx="698.1" cy="503.5" r="1.9"/><circle cx="676.1" cy="496.0" r="1.9"/><circle cx="677.2" cy="506.8" r="1.9"/></g>
<g class="c50"><circle cx="618.3" cy="439.9" r="1.9"/><circle cx="584.2" cy="464.2" r="1.9"/><circle cx="604.4" cy="464.8" r="1.9"/><circle cx="638.6" cy="440.8" r="1.9"/><circle cx="581.2" cy="449.2" r="1.9"/><circle cx="578.6" cy="443.3" r="1.9"/></g>
<g class="c49"><circle cx="586.5" cy="492.1" r="1.9"/><circle cx="565.8" cy="504.2" r="1.9"/><circle cx="613.4" cy="476.8" r="1.9"/><circle cx="622.0" cy="509.3" r="1.9"/><circle cx="594.1" cy="501.2" r="1.9"/><circle cx="609.1" cy="500.4" r="1.9"/></g>
<g class="c49"><circle cx="590.8" cy="499.7" r="1.9"/><circle cx="594.7" cy="482.4" r="1.9"/><circle cx="610.4" cy="487.5" r="1.9"/><circle cx="611.5" cy="504.6" r="1.9"/><circle cx="592.3" cy="512.8" r="1.9"/><circle cx="612.1" cy="503.5" r="1.9"/></g>
<g class="c48"><circle cx="650.1" cy="532.3" r="1.9"/><circle cx="612.8" cy="478.9" r="1.9"/><circle cx="628.6" cy="520.7" r="1.9"/><circle cx="638.8" cy="509.8" r="1.9"/><circle cx="658.4" cy="508.5" r="1.9"/><circle cx="592.0" cy="483.3" r="1.9"/></g>
<g class="c38"><circle cx="695.5" cy="498.3" r="1.9"/><circle cx="673.8" cy="516.0" r="1.9"/><circle cx="684.7" cy="460.2" r="1.9"/><circle cx="676.1" cy="498.9" r="1.9"/><circle cx="680.2" cy="499.6" r="1.9"/><circle cx="679.9" cy="512.6" r="1.9"/></g>
<g class="c38"><circle cx="685.6" cy="477.4" r="1.9"/><circle cx="692.8" cy="481.5" r="1.9"/><circle cx="680.7" cy="478.2" r="1.9"/><circle cx="677.1" cy="496.7" r="1.9"/><circle cx="683.2" cy="486.3" r="1.9"/><circle cx="697.4" cy="493.7" r="1.9"/></g>
<g class="c48"><circle cx="650.8" cy="459.2" r="1.9"/><circle cx="621.7" cy="483.7" r="1.9"/><circle cx="653.6" cy="470.4" r="1.9"/><circle cx="638.4" cy="467.7" r="1.9"/><circle cx="643.4" cy="458.6" r="1.9"/><circle cx="630.0" cy="524.6" r="1.9"/></g>
<g class="c48"><circle cx="624.5" cy="473.9" r="1.9"/><circle cx="627.2" cy="518.5" r="1.9"/><circle cx="626.6" cy="478.1" r="1.9"/><circle cx="638.8" cy="495.9" r="1.9"/><circle cx="647.3" cy="509.8" r="1.9"/><circle cx="623.6" cy="504.6" r="1.9"/></g>
<g class="c50"><circle cx="631.8" cy="448.6" r="1.9"/><circle cx="633.9" cy="454.7" r="1.9"/><circle cx="601.8" cy="456.6" r="1.9"/><circle cx="596.3" cy="421.9" r="1.9"/><circle cx="612.9" cy="459.4" r="1.9"/><circle cx="626.8" cy="456.2" r="1.9"/></g>
<g class="c24"><circle cx="553.5" cy="499.9" r="1.9"/><circle cx="572.1" cy="465.6" r="1.9"/><circle cx="575.4" cy="515.3" r="1.9"/><circle cx="580.8" cy="495.7" r="1.9"/><circle cx="558.9" cy="516.1" r="1.9"/><circle cx="595.5" cy="493.8" r="1.9"/></g>
<g class="c49"><circle cx="622.6" cy="526.8" r="1.9"/><circle cx="593.1" cy="498.6" r="1.9"/><circle cx="633.7" cy="506.8" r="1.9"/><circle cx="574.9" cy="510.3" r="1.9"/><circle cx="604.2" cy="492.8" r="1.9"/><circle cx="648.4" cy="503.1" r="1.9"/></g>
<g class="c50"><circle cx="616.0" cy="446.8" r="1.9"/><circle cx="612.7" cy="479.6" r="1.9"/><circle cx="625.5" cy="457.5" r="1.9"/><circle cx="608.8" cy="470.2" r="1.9"/><circle cx="587.8" cy="459.7" r="1.9"/><circle cx="577.8" cy="430.8" r="1.9"/></g>
<g class="c50"><circle cx="598.4" cy="424.3" r="1.9"/><circle cx="594.8" cy="443.9" r="1.9"/><circle cx="605.6" cy="458.6" r="1.9"/><circle cx="583.0" cy="458.1" r="1.9"/><circle cx="603.4" cy="459.5" r="1.9"/><circle cx="611.7" cy="462.4" r="1.9"/></g>
<g class="c46"><circle cx="676.5" cy="459.7" r="1.9"/><circle cx="694.3" cy="459.9" r="1.9"/><circle cx="631.3" cy="448.7" r="1.9"/><circle cx="675.3" cy="490.9" r="1.9"/><circle cx="672.3" cy="501.5" r="1.9"/><circle cx="648.6" cy="427.6" r="1.9"/></g>
<g class="c49"><circle cx="603.9" cy="491.2" r="1.9"/><circle cx="599.0" cy="488.7" r="1.9"/><circle cx="614.1" cy="498.0" r="1.9"/><circle cx="600.3" cy="540.8" r="1.9"/><circle cx="618.9" cy="514.0" r="1.9"/><circle cx="616.7" cy="528.0" r="1.9"/></g>
<g class="c24"><circle cx="569.6" cy="491.4" r="1.9"/><circle cx="562.4" cy="490.4" r="1.9"/><circle cx="562.4" cy="460.1" r="1.9"/><circle cx="575.8" cy="484.9" r="1.9"/><circle cx="576.6" cy="451.5" r="1.9"/><circle cx="572.9" cy="510.4" r="1.9"/></g>
<g class="c46"><circle cx="661.2" cy="473.2" r="1.9"/><circle cx="669.7" cy="479.0" r="1.9"/><circle cx="657.3" cy="454.6" r="1.9"/><circle cx="674.2" cy="459.0" r="1.9"/><circle cx="688.3" cy="475.8" r="1.9"/><circle cx="656.5" cy="441.5" r="1.9"/></g>
<g class="c49"><circle cx="621.9" cy="482.3" r="1.9"/><circle cx="613.6" cy="498.3" r="1.9"/><circle cx="587.2" cy="492.6" r="1.9"/><circle cx="613.1" cy="471.3" r="1.9"/><circle cx="628.5" cy="526.3" r="1.9"/><circle cx="598.2" cy="513.0" r="1.9"/></g>
<g class="c49"><circle cx="613.8" cy="511.5" r="1.9"/><circle cx="598.5" cy="497.8" r="1.9"/><circle cx="595.6" cy="501.5" r="1.9"/><circle cx="611.5" cy="501.7" r="1.9"/><circle cx="604.3" cy="492.8" r="1.9"/><circle cx="616.2" cy="514.1" r="1.9"/></g>
<g class="c48"><circle cx="622.9" cy="494.8" r="1.9"/><circle cx="635.1" cy="506.6" r="1.9"/><circle cx="632.5" cy="461.2" r="1.9"/><circle cx="616.3" cy="490.6" r="1.9"/><circle cx="630.2" cy="480.2" r="1.9"/><circle cx="624.9" cy="500.3" r="1.9"/></g>
<g class="c48"><circle cx="656.6" cy="516.2" r="1.9"/><circle cx="624.3" cy="491.9" r="1.9"/><circle cx="637.8" cy="477.4" r="1.9"/><circle cx="655.2" cy="477.7" r="1.9"/><circle cx="649.3" cy="470.4" r="1.9"/><circle cx="633.1" cy="482.5" r="1.9"/></g>
<g class="c48"><circle cx="645.1" cy="514.7" r="1.9"/><circle cx="630.2" cy="472.5" r="1.9"/><circle cx="640.4" cy="497.5" r="1.9"/><circle cx="629.0" cy="474.4" r="1.9"/><circle cx="652.0" cy="506.5" r="1.9"/><circle cx="623.4" cy="474.6" r="1.9"/></g>
<g class="c46"><circle cx="688.8" cy="477.8" r="1.9"/><circle cx="692.7" cy="461.9" r="1.9"/><circle cx="676.5" cy="470.2" r="1.9"/><circle cx="695.6" cy="477.8" r="1.9"/><circle cx="654.8" cy="451.3" r="1.9"/><circle cx="663.8" cy="484.9" r="1.9"/></g>
<g class="c46"><circle cx="693.7" cy="462.2" r="1.9"/><circle cx="658.7" cy="473.1" r="1.9"/><circle cx="705.8" cy="447.6" r="1.9"/><circle cx="668.5" cy="482.4" r="1.9"/><circle cx="680.4" cy="451.7" r="1.9"/><circle cx="686.0" cy="469.4" r="1.9"/></g>
<g class="c50"><circle cx="628.7" cy="465.6" r="1.9"/><circle cx="619.2" cy="481.9" r="1.9"/><circle cx="605.7" cy="421.9" r="1.9"/><circle cx="599.6" cy="458.5" r="1.9"/><circle cx="579.0" cy="452.3" r="1.9"/><circle cx="562.7" cy="470.3" r="1.9"/></g>
<g class="c50"><circle cx="622.4" cy="437.3" r="1.9"/><circle cx="554.1" cy="455.8" r="1.9"/><circle cx="575.7" cy="466.6" r="1.9"/><circle cx="596.7" cy="420.1" r="1.9"/><circle cx="624.2" cy="448.9" r="1.9"/><circle cx="632.1" cy="455.7" r="1.9"/></g>
<g class="c24"><circle cx="569.8" cy="483.3" r="1.9"/><circle cx="543.9" cy="503.0" r="1.9"/><circle cx="592.9" cy="472.0" r="1.9"/><circle cx="571.3" cy="488.8" r="1.9"/><circle cx="584.1" cy="487.1" r="1.9"/><circle cx="573.3" cy="479.7" r="1.9"/></g>
<g class="c48"><circle cx="669.6" cy="511.8" r="1.9"/><circle cx="596.3" cy="485.7" r="1.9"/><circle cx="628.2" cy="497.4" r="1.9"/><circle cx="651.9" cy="489.1" r="1.9"/><circle cx="641.4" cy="489.6" r="1.9"/><circle cx="636.2" cy="524.1" r="1.9"/></g>
<g class="c38"><circle cx="697.2" cy="499.5" r="1.9"/><circle cx="689.1" cy="477.1" r="1.9"/><circle cx="671.5" cy="501.9" r="1.9"/><circle cx="726.0" cy="468.6" r="1.9"/><circle cx="726.1" cy="490.0" r="1.9"/><circle cx="686.7" cy="483.4" r="1.9"/></g>
<g class="c50"><circle cx="620.1" cy="448.9" r="1.9"/><circle cx="615.3" cy="479.8" r="1.9"/><circle cx="615.7" cy="430.8" r="1.9"/><circle cx="588.1" cy="434.9" r="1.9"/><circle cx="624.4" cy="457.5" r="1.9"/><circle cx="587.0" cy="449.3" r="1.9"/></g>
<g class="c50"><circle cx="627.0" cy="464.8" r="1.9"/><circle cx="622.0" cy="419.2" r="1.9"/><circle cx="657.8" cy="453.2" r="1.9"/><circle cx="631.4" cy="447.3" r="1.9"/><circle cx="556.7" cy="434.4" r="1.9"/><circle cx="628.4" cy="430.3" r="1.9"/></g>
<g class="c24"><circle cx="562.3" cy="508.6" r="1.9"/><circle cx="588.5" cy="483.7" r="1.9"/><circle cx="570.6" cy="489.7" r="1.9"/><circle cx="572.0" cy="488.6" r="1.9"/><circle cx="580.7" cy="485.5" r="1.9"/><circle cx="583.4" cy="500.9" r="1.9"/></g>
<g class="c50"><circle cx="599.2" cy="427.0" r="1.9"/><circle cx="607.2" cy="469.4" r="1.9"/><circle cx="595.8" cy="434.8" r="1.9"/><circle cx="594.6" cy="462.6" r="1.9"/><circle cx="590.8" cy="448.2" r="1.9"/><circle cx="581.5" cy="437.7" r="1.9"/></g>
<g class="c38"><circle cx="687.8" cy="509.8" r="1.9"/><circle cx="701.8" cy="442.9" r="1.9"/><circle cx="690.2" cy="489.7" r="1.9"/><circle cx="673.9" cy="473.7" r="1.9"/><circle cx="676.4" cy="507.3" r="1.9"/><circle cx="697.9" cy="449.0" r="1.9"/></g>
<g class="c49"><circle cx="602.0" cy="525.5" r="1.9"/><circle cx="628.6" cy="507.6" r="1.9"/><circle cx="627.6" cy="512.7" r="1.9"/><circle cx="587.2" cy="476.6" r="1.9"/><circle cx="574.4" cy="501.6" r="1.9"/><circle cx="620.5" cy="541.3" r="1.9"/></g>
<g class="c49"><circle cx="624.3" cy="521.8" r="1.9"/><circle cx="601.7" cy="502.7" r="1.9"/><circle cx="596.5" cy="479.2" r="1.9"/><circle cx="616.8" cy="511.7" r="1.9"/><circle cx="638.0" cy="511.5" r="1.9"/><circle cx="613.7" cy="526.1" r="1.9"/></g>
<g class="c48"><circle cx="628.8" cy="506.3" r="1.9"/><circle cx="621.2" cy="501.7" r="1.9"/><circle cx="629.4" cy="495.2" r="1.9"/><circle cx="590.6" cy="522.0" r="1.9"/><circle cx="619.4" cy="493.8" r="1.9"/><circle cx="624.1" cy="512.1" r="1.9"/></g>
<g class="c50"><circle cx="631.5" cy="443.0" r="1.9"/><circle cx="589.7" cy="441.0" r="1.9"/><circle cx="622.4" cy="446.5" r="1.9"/><circle cx="638.9" cy="443.8" r="1.9"/><circle cx="643.7" cy="440.2" r="1.9"/><circle cx="582.6" cy="461.3" r="1.9"/></g>
<g class="c50"><circle cx="605.6" cy="437.6" r="1.9"/><circle cx="608.8" cy="443.2" r="1.9"/><circle cx="589.8" cy="460.4" r="1.9"/><circle cx="560.5" cy="444.4" r="1.9"/><circle cx="612.0" cy="452.0" r="1.9"/><circle cx="589.3" cy="438.1" r="1.9"/></g>
<g class="c50"><circle cx="617.1" cy="453.3" r="1.9"/><circle cx="592.1" cy="445.1" r="1.9"/><circle cx="602.7" cy="463.0" r="1.9"/><circle cx="610.4" cy="455.5" r="1.9"/><circle cx="598.4" cy="448.8" r="1.9"/><circle cx="573.5" cy="451.0" r="1.9"/></g>
<g class="c46"><circle cx="652.0" cy="485.9" r="1.9"/><circle cx="654.6" cy="471.5" r="1.9"/><circle cx="661.5" cy="471.4" r="1.9"/><circle cx="664.0" cy="467.4" r="1.9"/><circle cx="682.6" cy="463.0" r="1.9"/><circle cx="683.5" cy="433.1" r="1.9"/></g>
<g class="c48"><circle cx="637.4" cy="483.5" r="1.9"/><circle cx="611.4" cy="493.1" r="1.9"/><circle cx="638.0" cy="484.6" r="1.9"/><circle cx="620.8" cy="478.9" r="1.9"/><circle cx="599.0" cy="474.8" r="1.9"/><circle cx="646.0" cy="470.9" r="1.9"/></g>
<g class="c48"><circle cx="620.5" cy="498.3" r="1.9"/><circle cx="613.1" cy="504.4" r="1.9"/><circle cx="624.2" cy="517.7" r="1.9"/><circle cx="609.2" cy="502.7" r="1.9"/><circle cx="621.5" cy="487.2" r="1.9"/><circle cx="635.6" cy="492.2" r="1.9"/></g>
<g class="c50"><circle cx="585.0" cy="432.7" r="1.9"/><circle cx="581.2" cy="458.3" r="1.9"/><circle cx="609.9" cy="469.9" r="1.9"/><circle cx="573.3" cy="458.4" r="1.9"/></g>
<g class="c38"><circle cx="665.7" cy="499.4" r="1.9"/><circle cx="696.4" cy="477.6" r="1.9"/><circle cx="692.7" cy="458.7" r="1.9"/><circle cx="696.4" cy="491.1" r="1.9"/><circle cx="658.5" cy="450.8" r="1.9"/><circle cx="661.6" cy="528.2" r="1.9"/></g>
<g class="c24"><circle cx="585.3" cy="492.8" r="1.9"/><circle cx="580.8" cy="488.4" r="1.9"/><circle cx="574.3" cy="473.6" r="1.9"/><circle cx="580.8" cy="479.4" r="1.9"/><circle cx="574.6" cy="478.0" r="1.9"/><circle cx="578.0" cy="489.7" r="1.9"/></g>
<g class="c46"><circle cx="687.4" cy="457.2" r="1.9"/><circle cx="658.2" cy="468.1" r="1.9"/><circle cx="673.1" cy="485.2" r="1.9"/><circle cx="692.2" cy="475.3" r="1.9"/><circle cx="680.9" cy="463.5" r="1.9"/><circle cx="677.9" cy="472.7" r="1.9"/></g>
<g class="c48"><circle cx="643.0" cy="469.5" r="1.9"/><circle cx="623.0" cy="481.3" r="1.9"/><circle cx="640.9" cy="476.6" r="1.9"/><circle cx="625.2" cy="460.9" r="1.9"/><circle cx="654.5" cy="500.4" r="1.9"/><circle cx="637.1" cy="491.9" r="1.9"/></g>
<g class="c38"><circle cx="684.3" cy="453.2" r="1.9"/><circle cx="710.0" cy="500.1" r="1.9"/><circle cx="677.6" cy="509.0" r="1.9"/><circle cx="690.1" cy="473.7" r="1.9"/><circle cx="705.6" cy="476.3" r="1.9"/><circle cx="665.2" cy="504.7" r="1.9"/></g>
<g class="c50"><circle cx="628.5" cy="471.5" r="1.9"/><circle cx="603.1" cy="468.6" r="1.9"/><circle cx="606.9" cy="453.0" r="1.9"/><circle cx="616.9" cy="431.9" r="1.9"/><circle cx="586.0" cy="448.6" r="1.9"/><circle cx="585.9" cy="473.2" r="1.9"/></g>
<g class="c49"><circle cx="606.6" cy="495.1" r="1.9"/><circle cx="579.1" cy="493.4" r="1.9"/><circle cx="559.6" cy="494.0" r="1.9"/><circle cx="606.9" cy="532.2" r="1.9"/><circle cx="586.5" cy="517.2" r="1.9"/><circle cx="607.1" cy="496.2" r="1.9"/></g>
<g class="c46"><circle cx="682.4" cy="464.8" r="1.9"/><circle cx="678.4" cy="439.7" r="1.9"/><circle cx="654.0" cy="485.4" r="1.9"/><circle cx="670.2" cy="468.9" r="1.9"/><circle cx="642.3" cy="465.9" r="1.9"/><circle cx="651.7" cy="496.0" r="1.9"/></g>
<g class="c46"><circle cx="686.2" cy="479.3" r="1.9"/><circle cx="697.0" cy="470.0" r="1.9"/><circle cx="700.4" cy="452.3" r="1.9"/><circle cx="699.8" cy="486.9" r="1.9"/><circle cx="680.6" cy="458.5" r="1.9"/><circle cx="686.4" cy="471.9" r="1.9"/></g>
<g class="c38"><circle cx="668.1" cy="480.9" r="1.9"/><circle cx="672.1" cy="514.2" r="1.9"/><circle cx="670.2" cy="492.1" r="1.9"/><circle cx="705.9" cy="487.5" r="1.9"/><circle cx="709.3" cy="495.7" r="1.9"/><circle cx="701.3" cy="455.7" r="1.9"/></g>
<g class="c49"><circle cx="599.1" cy="500.4" r="1.9"/><circle cx="628.6" cy="487.9" r="1.9"/><circle cx="637.2" cy="472.5" r="1.9"/><circle cx="592.4" cy="491.9" r="1.9"/><circle cx="610.4" cy="521.7" r="1.9"/><circle cx="629.1" cy="519.7" r="1.9"/></g>
<g class="c50"><circle cx="614.8" cy="444.4" r="1.9"/><circle cx="611.2" cy="452.3" r="1.9"/><circle cx="601.1" cy="482.9" r="1.9"/><circle cx="612.9" cy="431.4" r="1.9"/><circle cx="628.3" cy="466.7" r="1.9"/><circle cx="632.1" cy="439.5" r="1.9"/></g>
<g class="c48"><circle cx="666.5" cy="493.1" r="1.9"/><circle cx="616.4" cy="505.0" r="1.9"/><circle cx="612.4" cy="494.7" r="1.9"/><circle cx="621.9" cy="494.4" r="1.9"/><circle cx="633.7" cy="497.1" r="1.9"/><circle cx="634.1" cy="516.0" r="1.9"/></g>
<g class="c50"><circle cx="608.2" cy="480.6" r="1.9"/><circle cx="633.5" cy="473.1" r="1.9"/><circle cx="635.6" cy="460.8" r="1.9"/><circle cx="635.1" cy="416.6" r="1.9"/><circle cx="565.2" cy="458.3" r="1.9"/><circle cx="608.0" cy="453.6" r="1.9"/></g>
<g class="c24"><circle cx="591.3" cy="486.8" r="1.9"/><circle cx="554.0" cy="496.0" r="1.9"/><circle cx="566.4" cy="456.8" r="1.9"/><circle cx="573.7" cy="515.8" r="1.9"/><circle cx="572.1" cy="469.6" r="1.9"/><circle cx="590.9" cy="482.5" r="1.9"/></g>
<g class="c46"><circle cx="665.5" cy="473.0" r="1.9"/><circle cx="673.3" cy="461.3" r="1.9"/><circle cx="647.9" cy="450.5" r="1.9"/><circle cx="659.7" cy="465.4" r="1.9"/><circle cx="669.8" cy="479.5" r="1.9"/><circle cx="657.2" cy="468.8" r="1.9"/></g>
<g class="c24"><circle cx="540.2" cy="493.4" r="1.9"/><circle cx="582.7" cy="511.7" r="1.9"/><circle cx="546.4" cy="466.0" r="1.9"/><circle cx="553.9" cy="480.0" r="1.9"/><circle cx="593.8" cy="494.5" r="1.9"/><circle cx="567.2" cy="474.3" r="1.9"/></g>
<g class="c48"><circle cx="646.6" cy="457.9" r="1.9"/><circle cx="629.8" cy="506.7" r="1.9"/><circle cx="630.8" cy="502.8" r="1.9"/><circle cx="621.6" cy="482.0" r="1.9"/><circle cx="639.2" cy="488.8" r="1.9"/><circle cx="628.6" cy="473.5" r="1.9"/></g>
<g class="c38"><circle cx="701.7" cy="480.6" r="1.9"/><circle cx="703.4" cy="507.6" r="1.9"/><circle cx="704.3" cy="482.5" r="1.9"/><circle cx="696.0" cy="493.2" r="1.9"/><circle cx="705.9" cy="484.9" r="1.9"/><circle cx="680.0" cy="483.9" r="1.9"/></g>
<g class="c49"><circle cx="598.0" cy="520.1" r="1.9"/><circle cx="602.6" cy="530.3" r="1.9"/><circle cx="587.8" cy="522.2" r="1.9"/><circle cx="569.4" cy="518.4" r="1.9"/><circle cx="620.0" cy="506.4" r="1.9"/><circle cx="594.2" cy="517.2" r="1.9"/></g>
<g class="c50"><circle cx="613.8" cy="445.8" r="1.9"/><circle cx="616.5" cy="455.1" r="1.9"/><circle cx="622.7" cy="438.5" r="1.9"/><circle cx="595.3" cy="445.3" r="1.9"/><circle cx="624.3" cy="447.5" r="1.9"/><circle cx="617.8" cy="472.2" r="1.9"/></g>
<g class="c38"><circle cx="685.9" cy="497.4" r="1.9"/><circle cx="701.3" cy="459.8" r="1.9"/><circle cx="697.9" cy="460.0" r="1.9"/><circle cx="661.8" cy="512.7" r="1.9"/><circle cx="698.5" cy="463.5" r="1.9"/><circle cx="672.9" cy="485.6" r="1.9"/></g>
<g class="c49"><circle cx="603.9" cy="519.0" r="1.9"/><circle cx="602.4" cy="503.4" r="1.9"/><circle cx="602.4" cy="503.7" r="1.9"/><circle cx="609.0" cy="505.3" r="1.9"/><circle cx="615.9" cy="507.9" r="1.9"/></g>
<g class="c49"><circle cx="604.2" cy="496.0" r="1.9"/><circle cx="617.8" cy="507.9" r="1.9"/><circle cx="572.7" cy="530.7" r="1.9"/><circle cx="608.1" cy="501.3" r="1.9"/><circle cx="598.2" cy="477.6" r="1.9"/><circle cx="615.5" cy="533.1" r="1.9"/></g>
<g class="c50"><circle cx="617.7" cy="438.3" r="1.9"/><circle cx="626.3" cy="446.2" r="1.9"/><circle cx="563.8" cy="472.4" r="1.9"/><circle cx="623.7" cy="455.6" r="1.9"/><circle cx="592.5" cy="456.2" r="1.9"/><circle cx="632.9" cy="443.7" r="1.9"/></g>
<g class="c46"><circle cx="667.7" cy="470.2" r="1.9"/><circle cx="654.4" cy="475.8" r="1.9"/><circle cx="683.5" cy="470.3" r="1.9"/><circle cx="646.7" cy="477.1" r="1.9"/><circle cx="657.9" cy="476.2" r="1.9"/><circle cx="679.4" cy="434.7" r="1.9"/></g>
<g class="c46"><circle cx="697.6" cy="454.6" r="1.9"/><circle cx="686.8" cy="466.3" r="1.9"/><circle cx="675.1" cy="459.2" r="1.9"/><circle cx="697.6" cy="460.9" r="1.9"/><circle cx="668.0" cy="463.6" r="1.9"/><circle cx="683.3" cy="460.6" r="1.9"/></g>
<g class="c24"><circle cx="604.1" cy="475.4" r="1.9"/><circle cx="579.3" cy="503.9" r="1.9"/><circle cx="578.0" cy="472.1" r="1.9"/><circle cx="548.0" cy="483.4" r="1.9"/><circle cx="576.8" cy="478.1" r="1.9"/><circle cx="614.3" cy="467.6" r="1.9"/></g>
<g class="c48"><circle cx="640.2" cy="490.2" r="1.9"/><circle cx="651.1" cy="472.3" r="1.9"/><circle cx="643.5" cy="491.1" r="1.9"/><circle cx="622.0" cy="486.5" r="1.9"/><circle cx="610.2" cy="463.5" r="1.9"/><circle cx="640.6" cy="483.4" r="1.9"/></g>
<g class="c38"><circle cx="697.9" cy="458.6" r="1.9"/><circle cx="701.9" cy="487.6" r="1.9"/><circle cx="708.6" cy="468.1" r="1.9"/><circle cx="701.2" cy="477.0" r="1.9"/><circle cx="697.9" cy="500.0" r="1.9"/><circle cx="688.9" cy="462.6" r="1.9"/></g>
<g class="c48"><circle cx="622.9" cy="510.0" r="1.9"/><circle cx="606.8" cy="485.6" r="1.9"/><circle cx="621.9" cy="500.2" r="1.9"/><circle cx="616.5" cy="494.6" r="1.9"/><circle cx="615.3" cy="497.1" r="1.9"/><circle cx="618.9" cy="513.6" r="1.9"/></g>
<g class="c38"><circle cx="695.6" cy="469.3" r="1.9"/><circle cx="681.3" cy="474.2" r="1.9"/><circle cx="680.9" cy="484.5" r="1.9"/><circle cx="703.0" cy="486.1" r="1.9"/><circle cx="705.0" cy="475.5" r="1.9"/><circle cx="692.4" cy="481.1" r="1.9"/></g>
<g class="c38"><circle cx="716.8" cy="452.5" r="1.9"/><circle cx="678.7" cy="496.4" r="1.9"/><circle cx="690.8" cy="484.9" r="1.9"/><circle cx="697.5" cy="473.9" r="1.9"/><circle cx="680.6" cy="482.5" r="1.9"/><circle cx="690.1" cy="494.4" r="1.9"/></g>
<g class="c48"><circle cx="653.7" cy="512.4" r="1.9"/><circle cx="645.8" cy="479.2" r="1.9"/><circle cx="652.8" cy="440.1" r="1.9"/><circle cx="646.0" cy="462.8" r="1.9"/><circle cx="661.5" cy="494.8" r="1.9"/><circle cx="600.9" cy="485.1" r="1.9"/></g>
<g class="c48"><circle cx="640.4" cy="517.1" r="1.9"/><circle cx="612.9" cy="508.3" r="1.9"/><circle cx="638.4" cy="494.7" r="1.9"/><circle cx="606.1" cy="502.1" r="1.9"/><circle cx="627.8" cy="473.9" r="1.9"/><circle cx="641.5" cy="465.7" r="1.9"/></g>
<g class="c24"><circle cx="576.9" cy="432.4" r="1.9"/><circle cx="586.2" cy="468.1" r="1.9"/><circle cx="570.3" cy="447.0" r="1.9"/><circle cx="575.7" cy="480.2" r="1.9"/><circle cx="586.3" cy="465.0" r="1.9"/><circle cx="606.3" cy="476.6" r="1.9"/></g>
<g class="c50"><circle cx="605.0" cy="442.8" r="1.9"/><circle cx="591.9" cy="422.8" r="1.9"/><circle cx="589.6" cy="437.4" r="1.9"/><circle cx="612.8" cy="464.6" r="1.9"/><circle cx="608.4" cy="442.1" r="1.9"/><circle cx="578.3" cy="430.4" r="1.9"/></g>
<g class="c50"><circle cx="584.7" cy="470.9" r="1.9"/><circle cx="597.4" cy="435.6" r="1.9"/><circle cx="616.9" cy="461.2" r="1.9"/><circle cx="617.5" cy="446.2" r="1.9"/><circle cx="605.3" cy="471.5" r="1.9"/><circle cx="613.7" cy="446.4" r="1.9"/></g>
<g class="c46"><circle cx="673.6" cy="489.8" r="1.9"/><circle cx="658.1" cy="462.8" r="1.9"/><circle cx="676.1" cy="481.9" r="1.9"/><circle cx="674.8" cy="484.1" r="1.9"/><circle cx="673.7" cy="483.5" r="1.9"/><circle cx="664.8" cy="466.0" r="1.9"/></g>
<g class="c48"><circle cx="651.6" cy="479.9" r="1.9"/><circle cx="633.8" cy="495.9" r="1.9"/><circle cx="641.4" cy="491.2" r="1.9"/><circle cx="608.8" cy="484.0" r="1.9"/><circle cx="637.8" cy="462.9" r="1.9"/><circle cx="638.9" cy="475.7" r="1.9"/></g>
<g class="c50"><circle cx="584.5" cy="440.8" r="1.9"/><circle cx="598.0" cy="454.1" r="1.9"/><circle cx="580.4" cy="458.1" r="1.9"/><circle cx="621.2" cy="469.5" r="1.9"/><circle cx="587.4" cy="431.7" r="1.9"/><circle cx="606.0" cy="460.7" r="1.9"/></g>
<g class="c46"><circle cx="657.6" cy="488.7" r="1.9"/><circle cx="660.3" cy="433.3" r="1.9"/><circle cx="667.7" cy="446.3" r="1.9"/><circle cx="639.7" cy="461.7" r="1.9"/><circle cx="661.2" cy="481.1" r="1.9"/><circle cx="667.6" cy="484.8" r="1.9"/></g>
<g class="c49"><circle cx="598.4" cy="510.9" r="1.9"/><circle cx="621.8" cy="532.0" r="1.9"/><circle cx="605.7" cy="480.8" r="1.9"/><circle cx="590.2" cy="482.7" r="1.9"/><circle cx="597.8" cy="475.1" r="1.9"/><circle cx="624.8" cy="476.9" r="1.9"/></g>
<g class="c48"><circle cx="650.9" cy="496.3" r="1.9"/><circle cx="650.5" cy="474.8" r="1.9"/><circle cx="633.6" cy="511.4" r="1.9"/><circle cx="640.2" cy="445.8" r="1.9"/><circle cx="618.8" cy="497.1" r="1.9"/><circle cx="639.0" cy="468.8" r="1.9"/></g>
<g class="c46"><circle cx="691.2" cy="489.0" r="1.9"/><circle cx="673.2" cy="471.6" r="1.9"/><circle cx="725.0" cy="481.2" r="1.9"/><circle cx="686.4" cy="455.4" r="1.9"/><circle cx="671.8" cy="480.2" r="1.9"/><circle cx="688.4" cy="461.7" r="1.9"/></g>
<g class="c50"><circle cx="625.3" cy="444.1" r="1.9"/><circle cx="588.8" cy="453.2" r="1.9"/><circle cx="619.3" cy="463.1" r="1.9"/><circle cx="602.3" cy="456.5" r="1.9"/><circle cx="611.1" cy="460.2" r="1.9"/><circle cx="619.9" cy="444.2" r="1.9"/></g>
<g class="c48"><circle cx="636.6" cy="505.8" r="1.9"/><circle cx="647.0" cy="505.8" r="1.9"/><circle cx="633.1" cy="511.7" r="1.9"/><circle cx="615.3" cy="513.6" r="1.9"/><circle cx="630.6" cy="490.2" r="1.9"/><circle cx="642.1" cy="513.8" r="1.9"/></g>
<g class="c48"><circle cx="625.5" cy="461.9" r="1.9"/><circle cx="655.8" cy="495.6" r="1.9"/><circle cx="597.3" cy="471.8" r="1.9"/><circle cx="641.1" cy="475.5" r="1.9"/><circle cx="636.0" cy="495.5" r="1.9"/><circle cx="664.1" cy="449.7" r="1.9"/></g>
<g class="c48"><circle cx="632.0" cy="470.3" r="1.9"/><circle cx="609.7" cy="492.7" r="1.9"/><circle cx="629.9" cy="500.6" r="1.9"/><circle cx="621.8" cy="474.7" r="1.9"/><circle cx="650.9" cy="513.6" r="1.9"/><circle cx="661.3" cy="491.9" r="1.9"/></g>
<g class="c24"><circle cx="597.9" cy="482.8" r="1.9"/><circle cx="578.5" cy="461.5" r="1.9"/><circle cx="580.4" cy="486.4" r="1.9"/><circle cx="559.4" cy="501.4" r="1.9"/><circle cx="540.2" cy="471.9" r="1.9"/><circle cx="553.1" cy="505.1" r="1.9"/></g>
<g class="c48"><circle cx="612.4" cy="503.6" r="1.9"/><circle cx="624.2" cy="472.4" r="1.9"/><circle cx="613.6" cy="506.9" r="1.9"/><circle cx="638.5" cy="491.0" r="1.9"/><circle cx="671.3" cy="503.2" r="1.9"/><circle cx="653.1" cy="464.4" r="1.9"/></g>
<g class="c46"><circle cx="669.7" cy="465.0" r="1.9"/><circle cx="675.1" cy="482.3" r="1.9"/><circle cx="618.1" cy="427.3" r="1.9"/><circle cx="648.4" cy="505.2" r="1.9"/><circle cx="665.2" cy="473.8" r="1.9"/><circle cx="667.4" cy="478.3" r="1.9"/></g>
<g class="c48"><circle cx="652.4" cy="462.7" r="1.9"/><circle cx="657.1" cy="479.2" r="1.9"/><circle cx="667.5" cy="486.4" r="1.9"/><circle cx="626.0" cy="485.8" r="1.9"/><circle cx="653.4" cy="514.0" r="1.9"/><circle cx="640.3" cy="498.2" r="1.9"/></g>
<g class="c49"><circle cx="605.1" cy="502.6" r="1.9"/><circle cx="609.6" cy="492.9" r="1.9"/><circle cx="594.4" cy="512.4" r="1.9"/><circle cx="565.2" cy="496.7" r="1.9"/><circle cx="603.3" cy="508.7" r="1.9"/><circle cx="591.1" cy="498.9" r="1.9"/></g>
<g class="c38"><circle cx="676.4" cy="478.5" r="1.9"/><circle cx="708.7" cy="454.8" r="1.9"/><circle cx="682.4" cy="501.7" r="1.9"/><circle cx="685.2" cy="500.9" r="1.9"/><circle cx="649.0" cy="471.1" r="1.9"/><circle cx="726.2" cy="492.6" r="1.9"/></g>
<g class="c49"><circle cx="597.0" cy="509.2" r="1.9"/><circle cx="592.8" cy="513.8" r="1.9"/><circle cx="613.0" cy="516.2" r="1.9"/><circle cx="619.6" cy="501.5" r="1.9"/><circle cx="602.4" cy="489.6" r="1.9"/><circle cx="585.0" cy="516.9" r="1.9"/></g>
<g class="c50"><circle cx="641.2" cy="449.0" r="1.9"/><circle cx="569.9" cy="456.3" r="1.9"/><circle cx="611.8" cy="445.8" r="1.9"/><circle cx="584.8" cy="443.1" r="1.9"/><circle cx="610.5" cy="438.3" r="1.9"/><circle cx="608.1" cy="459.2" r="1.9"/></g>
<g class="c48"><circle cx="620.0" cy="489.8" r="1.9"/><circle cx="650.7" cy="468.6" r="1.9"/><circle cx="629.2" cy="475.4" r="1.9"/><circle cx="638.6" cy="497.5" r="1.9"/><circle cx="681.5" cy="511.6" r="1.9"/><circle cx="647.4" cy="467.9" r="1.9"/></g>
<g class="c50"><circle cx="598.8" cy="466.1" r="1.9"/><circle cx="638.0" cy="447.6" r="1.9"/><circle cx="586.6" cy="462.3" r="1.9"/><circle cx="603.5" cy="443.8" r="1.9"/><circle cx="625.0" cy="460.2" r="1.9"/><circle cx="637.2" cy="442.5" r="1.9"/></g>
<g class="c46"><circle cx="648.6" cy="445.1" r="1.9"/><circle cx="663.8" cy="455.8" r="1.9"/><circle cx="669.9" cy="478.5" r="1.9"/><circle cx="657.9" cy="456.0" r="1.9"/><circle cx="647.9" cy="461.1" r="1.9"/><circle cx="675.8" cy="497.1" r="1.9"/></g>
<g class="c50"><circle cx="590.4" cy="444.1" r="1.9"/><circle cx="588.4" cy="426.1" r="1.9"/><circle cx="592.8" cy="444.0" r="1.9"/><circle cx="570.3" cy="452.4" r="1.9"/><circle cx="601.7" cy="458.0" r="1.9"/><circle cx="586.1" cy="450.0" r="1.9"/></g>
<g class="c49"><circle cx="607.9" cy="502.6" r="1.9"/><circle cx="608.4" cy="516.7" r="1.9"/><circle cx="609.2" cy="508.8" r="1.9"/><circle cx="604.2" cy="473.3" r="1.9"/><circle cx="604.1" cy="491.3" r="1.9"/><circle cx="606.3" cy="492.5" r="1.9"/></g>
<g class="c50"><circle cx="610.2" cy="447.7" r="1.9"/><circle cx="639.2" cy="457.7" r="1.9"/><circle cx="598.4" cy="452.3" r="1.9"/><circle cx="609.7" cy="452.1" r="1.9"/><circle cx="603.2" cy="482.0" r="1.9"/><circle cx="607.0" cy="467.7" r="1.9"/></g>
<g class="c38"><circle cx="697.2" cy="474.1" r="1.9"/><circle cx="680.6" cy="516.4" r="1.9"/><circle cx="657.3" cy="511.6" r="1.9"/><circle cx="708.8" cy="479.4" r="1.9"/><circle cx="693.3" cy="492.5" r="1.9"/><circle cx="656.9" cy="453.3" r="1.9"/></g>
<g class="c49"><circle cx="589.0" cy="535.2" r="1.9"/><circle cx="607.3" cy="527.6" r="1.9"/><circle cx="605.5" cy="523.1" r="1.9"/><circle cx="602.7" cy="488.6" r="1.9"/><circle cx="553.7" cy="494.9" r="1.9"/><circle cx="601.9" cy="486.7" r="1.9"/></g>
<g class="c50"><circle cx="608.8" cy="440.7" r="1.9"/><circle cx="605.4" cy="450.9" r="1.9"/><circle cx="626.4" cy="452.1" r="1.9"/><circle cx="614.6" cy="458.8" r="1.9"/><circle cx="596.8" cy="443.1" r="1.9"/><circle cx="604.1" cy="436.1" r="1.9"/></g>
<g class="c48"><circle cx="642.2" cy="522.7" r="1.9"/><circle cx="656.4" cy="478.0" r="1.9"/><circle cx="617.4" cy="483.3" r="1.9"/><circle cx="652.0" cy="500.5" r="1.9"/><circle cx="645.8" cy="473.3" r="1.9"/><circle cx="636.2" cy="481.9" r="1.9"/></g>
<g class="c46"><circle cx="676.7" cy="461.1" r="1.9"/><circle cx="691.9" cy="460.7" r="1.9"/><circle cx="663.5" cy="472.1" r="1.9"/><circle cx="668.3" cy="498.1" r="1.9"/><circle cx="642.3" cy="457.6" r="1.9"/><circle cx="656.2" cy="460.8" r="1.9"/></g>
<g class="c50"><circle cx="603.4" cy="473.3" r="1.9"/><circle cx="569.3" cy="453.7" r="1.9"/><circle cx="627.7" cy="450.2" r="1.9"/><circle cx="638.6" cy="420.9" r="1.9"/><circle cx="628.8" cy="422.6" r="1.9"/><circle cx="594.1" cy="453.9" r="1.9"/></g>
<g class="c48"><circle cx="653.9" cy="492.5" r="1.9"/><circle cx="644.3" cy="488.3" r="1.9"/><circle cx="660.3" cy="498.3" r="1.9"/><circle cx="641.1" cy="504.0" r="1.9"/><circle cx="613.8" cy="477.4" r="1.9"/><circle cx="641.8" cy="501.3" r="1.9"/></g>
<g class="c38"><circle cx="657.1" cy="496.8" r="1.9"/><circle cx="685.1" cy="465.9" r="1.9"/><circle cx="674.5" cy="522.3" r="1.9"/><circle cx="703.1" cy="482.5" r="1.9"/><circle cx="680.7" cy="508.9" r="1.9"/><circle cx="699.8" cy="492.2" r="1.9"/></g>
<g class="c48"><circle cx="631.2" cy="465.1" r="1.9"/><circle cx="642.0" cy="494.2" r="1.9"/><circle cx="635.9" cy="477.2" r="1.9"/><circle cx="639.2" cy="474.3" r="1.9"/><circle cx="623.0" cy="470.7" r="1.9"/><circle cx="651.3" cy="477.7" r="1.9"/></g>
<g class="c24"><circle cx="581.9" cy="472.4" r="1.9"/><circle cx="569.3" cy="462.9" r="1.9"/><circle cx="582.3" cy="501.2" r="1.9"/><circle cx="593.0" cy="470.7" r="1.9"/><circle cx="579.5" cy="474.3" r="1.9"/><circle cx="570.1" cy="500.8" r="1.9"/></g>
<g class="c48"><circle cx="648.5" cy="501.5" r="1.9"/><circle cx="629.8" cy="483.1" r="1.9"/><circle cx="606.0" cy="491.5" r="1.9"/><circle cx="614.4" cy="496.0" r="1.9"/><circle cx="625.1" cy="490.7" r="1.9"/><circle cx="617.9" cy="457.9" r="1.9"/></g>
<g class="c48"><circle cx="632.7" cy="515.6" r="1.9"/><circle cx="639.2" cy="478.9" r="1.9"/><circle cx="636.8" cy="504.8" r="1.9"/><circle cx="633.5" cy="452.8" r="1.9"/><circle cx="604.5" cy="471.8" r="1.9"/><circle cx="643.2" cy="448.6" r="1.9"/></g>
<g class="c46"><circle cx="705.7" cy="487.7" r="1.9"/><circle cx="652.2" cy="448.0" r="1.9"/><circle cx="655.2" cy="488.8" r="1.9"/><circle cx="666.5" cy="461.5" r="1.9"/><circle cx="656.4" cy="420.6" r="1.9"/><circle cx="642.5" cy="462.2" r="1.9"/></g>
<g class="c38"><circle cx="692.8" cy="504.4" r="1.9"/><circle cx="677.7" cy="467.0" r="1.9"/><circle cx="712.9" cy="498.5" r="1.9"/><circle cx="663.5" cy="459.1" r="1.9"/><circle cx="682.3" cy="492.6" r="1.9"/><circle cx="691.3" cy="480.1" r="1.9"/></g>
<g class="c46"><circle cx="644.5" cy="443.3" r="1.9"/><circle cx="669.6" cy="473.9" r="1.9"/><circle cx="669.9" cy="448.3" r="1.9"/><circle cx="653.7" cy="475.1" r="1.9"/><circle cx="658.7" cy="477.3" r="1.9"/><circle cx="671.4" cy="498.5" r="1.9"/></g>
<g class="c48"><circle cx="639.5" cy="462.5" r="1.9"/><circle cx="642.0" cy="421.8" r="1.9"/><circle cx="641.1" cy="480.9" r="1.9"/><circle cx="607.0" cy="473.0" r="1.9"/><circle cx="642.9" cy="485.5" r="1.9"/><circle cx="623.4" cy="476.4" r="1.9"/></g>
<g class="c46"><circle cx="671.5" cy="477.6" r="1.9"/><circle cx="659.3" cy="481.7" r="1.9"/><circle cx="680.3" cy="501.1" r="1.9"/></g>
<g class="c49"><circle cx="586.8" cy="505.0" r="1.9"/><circle cx="594.1" cy="503.4" r="1.9"/><circle cx="584.6" cy="509.1" r="1.9"/><circle cx="615.0" cy="496.1" r="1.9"/><circle cx="587.0" cy="510.8" r="1.9"/><circle cx="582.4" cy="520.3" r="1.9"/></g>
<g class="c48"><circle cx="629.5" cy="474.8" r="1.9"/><circle cx="633.7" cy="494.6" r="1.9"/><circle cx="610.0" cy="479.1" r="1.9"/><circle cx="652.6" cy="442.5" r="1.9"/><circle cx="626.3" cy="513.8" r="1.9"/><circle cx="633.5" cy="487.7" r="1.9"/></g>
<g class="c38"><circle cx="685.7" cy="478.4" r="1.9"/><circle cx="728.9" cy="478.4" r="1.9"/><circle cx="712.2" cy="490.1" r="1.9"/><circle cx="696.9" cy="480.8" r="1.9"/><circle cx="689.3" cy="455.7" r="1.9"/><circle cx="692.1" cy="491.5" r="1.9"/></g>
<g class="c38"><circle cx="711.7" cy="488.1" r="1.9"/><circle cx="684.9" cy="477.9" r="1.9"/><circle cx="714.0" cy="496.6" r="1.9"/><circle cx="679.4" cy="499.8" r="1.9"/><circle cx="678.5" cy="476.6" r="1.9"/><circle cx="699.1" cy="487.7" r="1.9"/></g>
<g class="c48"><circle cx="637.9" cy="466.4" r="1.9"/><circle cx="647.7" cy="519.0" r="1.9"/><circle cx="639.8" cy="505.2" r="1.9"/><circle cx="643.9" cy="496.6" r="1.9"/><circle cx="630.5" cy="436.0" r="1.9"/><circle cx="620.0" cy="471.2" r="1.9"/></g>
<g class="c49"><circle cx="606.5" cy="519.3" r="1.9"/><circle cx="634.1" cy="524.1" r="1.9"/><circle cx="639.2" cy="516.4" r="1.9"/><circle cx="615.4" cy="485.3" r="1.9"/><circle cx="596.3" cy="507.5" r="1.9"/><circle cx="602.6" cy="521.8" r="1.9"/></g>
<g class="c38"><circle cx="723.3" cy="485.4" r="1.9"/><circle cx="720.4" cy="467.7" r="1.9"/><circle cx="687.6" cy="473.0" r="1.9"/><circle cx="710.1" cy="480.6" r="1.9"/></g>
<g class="c46"><circle cx="658.8" cy="454.6" r="1.9"/><circle cx="672.0" cy="461.2" r="1.9"/><circle cx="648.8" cy="479.7" r="1.9"/><circle cx="663.3" cy="479.6" r="1.9"/><circle cx="670.4" cy="482.9" r="1.9"/><circle cx="657.2" cy="476.8" r="1.9"/></g>
<g class="c50"><circle cx="586.3" cy="454.4" r="1.9"/><circle cx="624.3" cy="434.8" r="1.9"/><circle cx="593.3" cy="465.0" r="1.9"/><circle cx="625.4" cy="439.5" r="1.9"/><circle cx="628.1" cy="431.7" r="1.9"/><circle cx="585.9" cy="468.3" r="1.9"/></g>
<g class="c49"><circle cx="595.6" cy="477.2" r="1.9"/><circle cx="569.8" cy="519.6" r="1.9"/><circle cx="617.8" cy="516.5" r="1.9"/><circle cx="571.8" cy="523.9" r="1.9"/><circle cx="621.7" cy="509.2" r="1.9"/><circle cx="586.9" cy="490.4" r="1.9"/></g>
<g class="c48"><circle cx="616.0" cy="465.0" r="1.9"/><circle cx="632.4" cy="488.4" r="1.9"/><circle cx="637.7" cy="469.0" r="1.9"/><circle cx="631.8" cy="487.8" r="1.9"/><circle cx="641.9" cy="524.6" r="1.9"/><circle cx="649.6" cy="529.2" r="1.9"/></g>
<g class="c50"><circle cx="624.5" cy="450.9" r="1.9"/><circle cx="604.4" cy="470.7" r="1.9"/><circle cx="614.5" cy="474.6" r="1.9"/><circle cx="591.9" cy="467.8" r="1.9"/><circle cx="600.8" cy="454.2" r="1.9"/><circle cx="582.1" cy="466.9" r="1.9"/></g>
<g class="c50"><circle cx="617.2" cy="438.7" r="1.9"/><circle cx="633.4" cy="417.0" r="1.9"/><circle cx="626.0" cy="468.7" r="1.9"/><circle cx="620.9" cy="456.0" r="1.9"/><circle cx="597.4" cy="439.7" r="1.9"/><circle cx="613.3" cy="423.3" r="1.9"/></g>
<g class="c49"><circle cx="612.3" cy="495.5" r="1.9"/><circle cx="615.6" cy="509.2" r="1.9"/><circle cx="602.2" cy="496.4" r="1.9"/><circle cx="617.7" cy="510.6" r="1.9"/><circle cx="594.9" cy="498.3" r="1.9"/><circle cx="626.7" cy="499.7" r="1.9"/></g>
<g class="c48"><circle cx="660.5" cy="505.9" r="1.9"/><circle cx="639.4" cy="484.4" r="1.9"/><circle cx="635.9" cy="541.0" r="1.9"/><circle cx="613.4" cy="485.5" r="1.9"/><circle cx="633.0" cy="465.8" r="1.9"/><circle cx="643.7" cy="521.9" r="1.9"/></g>
<g class="c49"><circle cx="582.9" cy="522.8" r="1.9"/><circle cx="543.0" cy="506.2" r="1.9"/><circle cx="594.6" cy="533.9" r="1.9"/><circle cx="642.7" cy="479.8" r="1.9"/><circle cx="613.0" cy="486.1" r="1.9"/><circle cx="557.5" cy="443.6" r="1.9"/></g>
<g class="c50"><circle cx="584.8" cy="455.7" r="1.9"/><circle cx="604.9" cy="464.5" r="1.9"/><circle cx="582.8" cy="443.1" r="1.9"/><circle cx="614.4" cy="443.3" r="1.9"/><circle cx="588.8" cy="450.6" r="1.9"/><circle cx="614.4" cy="455.5" r="1.9"/></g>
<g class="c38"><circle cx="684.1" cy="471.6" r="1.9"/><circle cx="672.0" cy="498.8" r="1.9"/><circle cx="700.8" cy="506.8" r="1.9"/><circle cx="692.4" cy="501.9" r="1.9"/><circle cx="690.9" cy="483.8" r="1.9"/><circle cx="655.0" cy="523.4" r="1.9"/></g>
<g class="c50"><circle cx="614.1" cy="471.5" r="1.9"/><circle cx="616.2" cy="463.2" r="1.9"/><circle cx="594.7" cy="464.2" r="1.9"/><circle cx="605.6" cy="424.0" r="1.9"/><circle cx="643.3" cy="456.1" r="1.9"/><circle cx="617.6" cy="464.5" r="1.9"/></g>
<g class="c49"><circle cx="590.6" cy="486.9" r="1.9"/><circle cx="649.2" cy="520.0" r="1.9"/><circle cx="640.4" cy="525.0" r="1.9"/><circle cx="622.2" cy="475.0" r="1.9"/><circle cx="616.0" cy="472.6" r="1.9"/><circle cx="603.1" cy="486.1" r="1.9"/></g>
<g class="c50"><circle cx="636.0" cy="412.0" r="1.9"/><circle cx="626.0" cy="468.3" r="1.9"/><circle cx="609.2" cy="432.2" r="1.9"/><circle cx="611.8" cy="454.8" r="1.9"/><circle cx="628.7" cy="442.2" r="1.9"/><circle cx="598.2" cy="465.4" r="1.9"/></g>
<g class="c50"><circle cx="595.5" cy="456.2" r="1.9"/><circle cx="605.3" cy="445.3" r="1.9"/><circle cx="587.2" cy="463.0" r="1.9"/><circle cx="602.9" cy="431.9" r="1.9"/><circle cx="591.2" cy="435.0" r="1.9"/><circle cx="575.5" cy="457.8" r="1.9"/></g>
<g class="c49"><circle cx="599.4" cy="484.8" r="1.9"/><circle cx="611.7" cy="490.9" r="1.9"/><circle cx="613.6" cy="488.4" r="1.9"/><circle cx="631.0" cy="512.7" r="1.9"/><circle cx="642.6" cy="528.2" r="1.9"/><circle cx="620.8" cy="517.2" r="1.9"/></g>
<g class="c48"><circle cx="623.5" cy="475.1" r="1.9"/><circle cx="642.3" cy="515.1" r="1.9"/><circle cx="659.6" cy="533.0" r="1.9"/><circle cx="649.4" cy="486.2" r="1.9"/><circle cx="606.4" cy="489.2" r="1.9"/><circle cx="626.2" cy="487.7" r="1.9"/></g>
<g class="c48"><circle cx="636.6" cy="479.3" r="1.9"/><circle cx="631.3" cy="496.3" r="1.9"/><circle cx="615.8" cy="466.0" r="1.9"/><circle cx="634.0" cy="476.9" r="1.9"/><circle cx="609.2" cy="482.9" r="1.9"/><circle cx="627.4" cy="473.0" r="1.9"/></g>
<g class="c46"><circle cx="642.2" cy="454.0" r="1.9"/><circle cx="651.3" cy="490.6" r="1.9"/><circle cx="670.7" cy="475.2" r="1.9"/><circle cx="677.4" cy="495.3" r="1.9"/><circle cx="664.2" cy="484.8" r="1.9"/><circle cx="673.9" cy="463.0" r="1.9"/></g>
<g class="c50"><circle cx="540.2" cy="479.2" r="1.9"/><circle cx="628.3" cy="427.0" r="1.9"/><circle cx="630.5" cy="474.0" r="1.9"/><circle cx="651.2" cy="438.5" r="1.9"/><circle cx="593.0" cy="463.1" r="1.9"/><circle cx="623.1" cy="455.7" r="1.9"/></g>
<g class="c48"><circle cx="626.8" cy="503.4" r="1.9"/><circle cx="609.4" cy="475.0" r="1.9"/><circle cx="617.5" cy="474.2" r="1.9"/><circle cx="627.8" cy="457.6" r="1.9"/><circle cx="631.0" cy="476.3" r="1.9"/><circle cx="644.5" cy="507.4" r="1.9"/></g>
<g class="c46"><circle cx="697.1" cy="443.7" r="1.9"/><circle cx="698.7" cy="473.8" r="1.9"/><circle cx="675.1" cy="481.9" r="1.9"/><circle cx="677.9" cy="459.6" r="1.9"/><circle cx="696.2" cy="462.2" r="1.9"/><circle cx="671.5" cy="480.9" r="1.9"/></g>
<g class="c46"><circle cx="667.6" cy="449.5" r="1.9"/><circle cx="671.0" cy="435.0" r="1.9"/><circle cx="654.4" cy="455.2" r="1.9"/><circle cx="680.3" cy="466.4" r="1.9"/><circle cx="682.4" cy="509.1" r="1.9"/><circle cx="656.1" cy="487.4" r="1.9"/></g>
<g class="c49"><circle cx="593.2" cy="503.4" r="1.9"/><circle cx="595.8" cy="499.5" r="1.9"/><circle cx="591.5" cy="492.7" r="1.9"/><circle cx="609.9" cy="504.7" r="1.9"/><circle cx="622.0" cy="520.5" r="1.9"/><circle cx="599.8" cy="521.2" r="1.9"/></g>
<g class="c48"><circle cx="638.5" cy="494.4" r="1.9"/><circle cx="614.4" cy="475.7" r="1.9"/><circle cx="639.1" cy="458.4" r="1.9"/><circle cx="650.4" cy="496.8" r="1.9"/><circle cx="637.8" cy="472.4" r="1.9"/><circle cx="648.3" cy="484.6" r="1.9"/></g>
<g class="c49"><circle cx="619.6" cy="483.0" r="1.9"/><circle cx="607.8" cy="490.7" r="1.9"/><circle cx="603.2" cy="494.6" r="1.9"/><circle cx="599.6" cy="497.5" r="1.9"/><circle cx="592.8" cy="508.7" r="1.9"/><circle cx="612.1" cy="477.9" r="1.9"/></g>
<g class="c48"><circle cx="649.2" cy="475.2" r="1.9"/><circle cx="643.6" cy="513.6" r="1.9"/><circle cx="614.7" cy="481.8" r="1.9"/><circle cx="650.5" cy="488.2" r="1.9"/><circle cx="643.6" cy="484.4" r="1.9"/><circle cx="639.0" cy="474.1" r="1.9"/></g>
<g class="c46"><circle cx="633.5" cy="468.2" r="1.9"/><circle cx="658.4" cy="460.6" r="1.9"/><circle cx="654.8" cy="447.9" r="1.9"/><circle cx="668.6" cy="454.4" r="1.9"/><circle cx="710.4" cy="458.5" r="1.9"/><circle cx="668.0" cy="480.5" r="1.9"/></g>
<g class="c24"><circle cx="603.4" cy="473.6" r="1.9"/><circle cx="578.9" cy="473.1" r="1.9"/><circle cx="589.8" cy="469.5" r="1.9"/><circle cx="563.0" cy="460.1" r="1.9"/><circle cx="603.2" cy="474.4" r="1.9"/><circle cx="580.1" cy="453.1" r="1.9"/></g>
<g class="c50"><circle cx="590.9" cy="461.1" r="1.9"/><circle cx="634.5" cy="442.6" r="1.9"/><circle cx="591.5" cy="469.9" r="1.9"/><circle cx="621.9" cy="444.9" r="1.9"/><circle cx="603.9" cy="435.0" r="1.9"/><circle cx="606.4" cy="427.7" r="1.9"/></g>
<g class="c49"><circle cx="590.8" cy="530.7" r="1.9"/><circle cx="620.0" cy="508.3" r="1.9"/><circle cx="604.7" cy="542.2" r="1.9"/><circle cx="608.8" cy="513.2" r="1.9"/><circle cx="579.5" cy="533.0" r="1.9"/><circle cx="604.3" cy="519.9" r="1.9"/></g>
<g class="c48"><circle cx="622.0" cy="485.5" r="1.9"/><circle cx="631.7" cy="480.7" r="1.9"/><circle cx="647.5" cy="510.6" r="1.9"/><circle cx="618.0" cy="495.2" r="1.9"/><circle cx="638.1" cy="486.0" r="1.9"/><circle cx="620.9" cy="472.6" r="1.9"/></g>
<g class="c24"><circle cx="578.8" cy="476.9" r="1.9"/><circle cx="574.9" cy="482.3" r="1.9"/><circle cx="557.8" cy="500.7" r="1.9"/><circle cx="593.1" cy="503.2" r="1.9"/><circle cx="581.5" cy="457.0" r="1.9"/><circle cx="561.3" cy="453.8" r="1.9"/></g>
<g class="c50"><circle cx="618.0" cy="455.8" r="1.9"/><circle cx="610.9" cy="482.2" r="1.9"/><circle cx="577.7" cy="464.5" r="1.9"/><circle cx="633.1" cy="453.4" r="1.9"/><circle cx="582.5" cy="457.2" r="1.9"/><circle cx="599.2" cy="457.8" r="1.9"/></g>
<g class="c46"><circle cx="675.2" cy="439.8" r="1.9"/><circle cx="646.2" cy="454.7" r="1.9"/><circle cx="649.0" cy="434.6" r="1.9"/><circle cx="667.6" cy="453.3" r="1.9"/><circle cx="641.3" cy="461.7" r="1.9"/><circle cx="664.7" cy="478.5" r="1.9"/></g>
<g class="c24"><circle cx="540.2" cy="470.0" r="1.9"/><circle cx="578.7" cy="477.1" r="1.9"/><circle cx="563.0" cy="501.8" r="1.9"/><circle cx="585.1" cy="481.8" r="1.9"/><circle cx="583.3" cy="477.6" r="1.9"/><circle cx="565.7" cy="467.1" r="1.9"/></g>
<g class="c46"><circle cx="663.1" cy="463.7" r="1.9"/><circle cx="663.0" cy="497.2" r="1.9"/><circle cx="662.9" cy="475.9" r="1.9"/><circle cx="638.0" cy="449.2" r="1.9"/><circle cx="667.2" cy="477.0" r="1.9"/><circle cx="679.7" cy="422.9" r="1.9"/></g>
<g class="c46"><circle cx="654.2" cy="428.6" r="1.9"/><circle cx="670.0" cy="459.5" r="1.9"/><circle cx="725.0" cy="484.6" r="1.9"/><circle cx="659.9" cy="471.1" r="1.9"/><circle cx="666.9" cy="486.1" r="1.9"/><circle cx="656.1" cy="481.9" r="1.9"/></g>
<g class="c48"><circle cx="654.7" cy="484.6" r="1.9"/><circle cx="630.7" cy="487.6" r="1.9"/><circle cx="636.7" cy="489.9" r="1.9"/><circle cx="624.9" cy="473.7" r="1.9"/><circle cx="647.7" cy="513.8" r="1.9"/><circle cx="631.2" cy="479.5" r="1.9"/></g>
<g class="c49"><circle cx="640.7" cy="537.8" r="1.9"/><circle cx="600.8" cy="504.8" r="1.9"/><circle cx="619.9" cy="481.2" r="1.9"/><circle cx="605.3" cy="517.8" r="1.9"/><circle cx="594.0" cy="503.8" r="1.9"/><circle cx="615.2" cy="492.1" r="1.9"/></g>
<g class="c49"><circle cx="616.8" cy="499.1" r="1.9"/><circle cx="610.1" cy="525.9" r="1.9"/><circle cx="609.4" cy="477.8" r="1.9"/><circle cx="628.6" cy="508.6" r="1.9"/><circle cx="589.1" cy="486.4" r="1.9"/><circle cx="601.7" cy="496.6" r="1.9"/></g>
<g class="c38"><circle cx="700.2" cy="473.7" r="1.9"/><circle cx="686.9" cy="497.5" r="1.9"/><circle cx="701.4" cy="505.2" r="1.9"/><circle cx="704.6" cy="488.4" r="1.9"/><circle cx="706.6" cy="483.0" r="1.9"/><circle cx="689.4" cy="478.1" r="1.9"/></g>
<g class="c46"><circle cx="714.3" cy="477.3" r="1.9"/><circle cx="660.5" cy="452.1" r="1.9"/><circle cx="686.1" cy="470.3" r="1.9"/><circle cx="664.8" cy="467.2" r="1.9"/><circle cx="674.7" cy="485.9" r="1.9"/><circle cx="688.7" cy="486.2" r="1.9"/></g>
<g class="c48"><circle cx="628.3" cy="471.0" r="1.9"/><circle cx="628.2" cy="477.0" r="1.9"/><circle cx="650.5" cy="494.7" r="1.9"/><circle cx="640.1" cy="441.7" r="1.9"/><circle cx="593.8" cy="487.7" r="1.9"/><circle cx="683.8" cy="531.6" r="1.9"/></g>
<g class="c38"><circle cx="665.0" cy="492.6" r="1.9"/><circle cx="697.3" cy="502.7" r="1.9"/><circle cx="697.2" cy="502.3" r="1.9"/><circle cx="689.8" cy="503.7" r="1.9"/><circle cx="680.1" cy="485.2" r="1.9"/><circle cx="684.4" cy="463.2" r="1.9"/></g>
<g class="c50"><circle cx="627.5" cy="428.1" r="1.9"/><circle cx="589.8" cy="444.5" r="1.9"/><circle cx="630.7" cy="458.3" r="1.9"/><circle cx="605.3" cy="420.3" r="1.9"/><circle cx="598.5" cy="450.2" r="1.9"/><circle cx="610.3" cy="458.1" r="1.9"/></g>
<g class="c50"><circle cx="608.6" cy="466.9" r="1.9"/><circle cx="617.3" cy="465.1" r="1.9"/><circle cx="618.5" cy="459.0" r="1.9"/><circle cx="630.5" cy="431.0" r="1.9"/><circle cx="614.8" cy="452.1" r="1.9"/><circle cx="605.4" cy="479.1" r="1.9"/></g>
<g class="c49"><circle cx="608.9" cy="508.9" r="1.9"/><circle cx="576.7" cy="499.8" r="1.9"/><circle cx="620.4" cy="509.2" r="1.9"/><circle cx="582.4" cy="500.7" r="1.9"/><circle cx="601.7" cy="485.0" r="1.9"/><circle cx="591.7" cy="482.7" r="1.9"/></g>
<g class="c50"><circle cx="604.4" cy="466.6" r="1.9"/><circle cx="627.0" cy="457.1" r="1.9"/><circle cx="599.3" cy="468.2" r="1.9"/><circle cx="595.6" cy="445.9" r="1.9"/><circle cx="618.1" cy="462.4" r="1.9"/><circle cx="638.0" cy="445.5" r="1.9"/></g>
<g class="c48"><circle cx="642.9" cy="453.3" r="1.9"/><circle cx="656.1" cy="489.6" r="1.9"/><circle cx="644.1" cy="461.5" r="1.9"/><circle cx="620.6" cy="486.0" r="1.9"/><circle cx="633.3" cy="480.3" r="1.9"/><circle cx="655.3" cy="460.2" r="1.9"/></g>
<g class="c46"><circle cx="656.0" cy="484.4" r="1.9"/><circle cx="682.1" cy="456.3" r="1.9"/><circle cx="668.6" cy="493.9" r="1.9"/><circle cx="652.0" cy="451.9" r="1.9"/><circle cx="667.1" cy="450.0" r="1.9"/><circle cx="647.1" cy="438.8" r="1.9"/></g>
<g class="c48"><circle cx="659.9" cy="478.5" r="1.9"/><circle cx="633.3" cy="506.0" r="1.9"/><circle cx="639.5" cy="483.8" r="1.9"/><circle cx="653.4" cy="488.6" r="1.9"/><circle cx="637.1" cy="487.2" r="1.9"/><circle cx="651.3" cy="484.2" r="1.9"/></g>
<g class="c24"><circle cx="590.3" cy="494.7" r="1.9"/><circle cx="565.2" cy="464.3" r="1.9"/><circle cx="575.0" cy="475.4" r="1.9"/><circle cx="585.3" cy="495.5" r="1.9"/><circle cx="580.5" cy="474.7" r="1.9"/><circle cx="555.3" cy="477.5" r="1.9"/></g>
<g class="c49"><circle cx="594.2" cy="518.2" r="1.9"/><circle cx="599.3" cy="508.9" r="1.9"/><circle cx="589.3" cy="516.6" r="1.9"/><circle cx="606.0" cy="500.7" r="1.9"/><circle cx="585.1" cy="509.8" r="1.9"/><circle cx="592.0" cy="509.1" r="1.9"/></g>
<g class="c48"><circle cx="653.6" cy="469.7" r="1.9"/><circle cx="639.2" cy="484.7" r="1.9"/><circle cx="663.2" cy="513.8" r="1.9"/><circle cx="636.3" cy="486.3" r="1.9"/><circle cx="645.5" cy="506.9" r="1.9"/><circle cx="675.1" cy="496.6" r="1.9"/></g>
<g class="c50"><circle cx="591.4" cy="462.8" r="1.9"/><circle cx="627.0" cy="474.8" r="1.9"/><circle cx="626.1" cy="459.2" r="1.9"/><circle cx="608.7" cy="447.1" r="1.9"/><circle cx="607.3" cy="433.5" r="1.9"/><circle cx="599.4" cy="432.4" r="1.9"/></g>
<g class="c50"><circle cx="590.7" cy="457.1" r="1.9"/><circle cx="588.2" cy="448.1" r="1.9"/><circle cx="607.0" cy="427.6" r="1.9"/><circle cx="615.3" cy="456.5" r="1.9"/><circle cx="616.8" cy="428.6" r="1.9"/><circle cx="601.3" cy="448.8" r="1.9"/></g>
<g class="c48"><circle cx="633.0" cy="462.2" r="1.9"/><circle cx="630.7" cy="464.1" r="1.9"/><circle cx="621.5" cy="475.2" r="1.9"/><circle cx="609.6" cy="475.3" r="1.9"/><circle cx="618.0" cy="470.3" r="1.9"/><circle cx="637.0" cy="453.8" r="1.9"/></g>
<g class="c46"><circle cx="655.4" cy="466.4" r="1.9"/><circle cx="661.4" cy="453.2" r="1.9"/><circle cx="643.9" cy="470.7" r="1.9"/><circle cx="646.5" cy="452.6" r="1.9"/><circle cx="647.4" cy="469.5" r="1.9"/><circle cx="678.3" cy="454.1" r="1.9"/></g>
<g class="c46"><circle cx="678.5" cy="467.0" r="1.9"/><circle cx="682.0" cy="487.1" r="1.9"/><circle cx="657.9" cy="454.8" r="1.9"/><circle cx="664.9" cy="489.9" r="1.9"/><circle cx="646.4" cy="455.8" r="1.9"/><circle cx="672.6" cy="455.2" r="1.9"/></g>
<g class="c24"><circle cx="593.0" cy="491.2" r="1.9"/><circle cx="592.5" cy="506.7" r="1.9"/><circle cx="569.4" cy="490.9" r="1.9"/><circle cx="594.7" cy="520.3" r="1.9"/><circle cx="588.9" cy="516.2" r="1.9"/><circle cx="586.1" cy="500.9" r="1.9"/></g>
<g class="c49"><circle cx="564.0" cy="509.9" r="1.9"/><circle cx="597.7" cy="500.4" r="1.9"/><circle cx="589.0" cy="504.1" r="1.9"/><circle cx="575.9" cy="513.5" r="1.9"/><circle cx="574.5" cy="514.0" r="1.9"/><circle cx="604.4" cy="513.5" r="1.9"/></g>
<g class="c48"><circle cx="628.7" cy="464.3" r="1.9"/><circle cx="635.6" cy="495.6" r="1.9"/><circle cx="614.1" cy="466.2" r="1.9"/><circle cx="640.9" cy="498.3" r="1.9"/><circle cx="640.1" cy="500.9" r="1.9"/><circle cx="636.8" cy="490.7" r="1.9"/></g>
<g class="c48"><circle cx="642.2" cy="464.5" r="1.9"/><circle cx="632.9" cy="513.2" r="1.9"/><circle cx="633.0" cy="471.9" r="1.9"/><circle cx="600.3" cy="477.5" r="1.9"/><circle cx="631.6" cy="477.6" r="1.9"/><circle cx="612.8" cy="466.2" r="1.9"/></g>
<g class="c46"><circle cx="657.3" cy="441.6" r="1.9"/><circle cx="660.7" cy="476.0" r="1.9"/><circle cx="687.5" cy="508.0" r="1.9"/><circle cx="653.3" cy="467.3" r="1.9"/><circle cx="682.0" cy="500.9" r="1.9"/><circle cx="666.9" cy="462.6" r="1.9"/></g>
<g class="c46"><circle cx="646.8" cy="445.6" r="1.9"/><circle cx="663.5" cy="467.7" r="1.9"/><circle cx="648.6" cy="456.7" r="1.9"/><circle cx="656.1" cy="433.7" r="1.9"/><circle cx="674.6" cy="463.9" r="1.9"/><circle cx="672.4" cy="454.2" r="1.9"/></g>
<g class="c46"><circle cx="661.0" cy="444.6" r="1.9"/><circle cx="691.8" cy="474.2" r="1.9"/><circle cx="650.2" cy="450.0" r="1.9"/><circle cx="670.3" cy="485.5" r="1.9"/><circle cx="662.6" cy="451.7" r="1.9"/><circle cx="663.7" cy="473.6" r="1.9"/></g>
<g class="c50"><circle cx="604.1" cy="461.3" r="1.9"/><circle cx="634.1" cy="443.1" r="1.9"/><circle cx="586.5" cy="420.0" r="1.9"/><circle cx="591.7" cy="432.5" r="1.9"/><circle cx="623.8" cy="430.7" r="1.9"/><circle cx="614.1" cy="444.1" r="1.9"/></g>
<g class="c50"><circle cx="626.5" cy="443.8" r="1.9"/><circle cx="571.3" cy="446.7" r="1.9"/><circle cx="607.0" cy="425.4" r="1.9"/><circle cx="603.7" cy="441.4" r="1.9"/><circle cx="591.0" cy="436.1" r="1.9"/><circle cx="610.3" cy="452.0" r="1.9"/></g>
<g class="c49"><circle cx="597.0" cy="493.1" r="1.9"/><circle cx="617.7" cy="524.7" r="1.9"/><circle cx="585.4" cy="516.4" r="1.9"/><circle cx="581.6" cy="507.0" r="1.9"/><circle cx="628.5" cy="537.4" r="1.9"/><circle cx="614.4" cy="505.4" r="1.9"/></g>
<g class="c48"><circle cx="653.1" cy="462.8" r="1.9"/><circle cx="637.8" cy="468.6" r="1.9"/><circle cx="645.7" cy="515.9" r="1.9"/><circle cx="640.6" cy="482.6" r="1.9"/><circle cx="649.7" cy="509.4" r="1.9"/><circle cx="641.2" cy="526.7" r="1.9"/></g>
<g class="c50"><circle cx="591.7" cy="459.2" r="1.9"/><circle cx="592.4" cy="476.1" r="1.9"/><circle cx="622.7" cy="441.5" r="1.9"/><circle cx="594.0" cy="459.8" r="1.9"/><circle cx="635.2" cy="434.3" r="1.9"/><circle cx="635.1" cy="453.1" r="1.9"/></g>
<g class="c46"><circle cx="664.0" cy="455.2" r="1.9"/><circle cx="658.0" cy="480.9" r="1.9"/><circle cx="663.7" cy="475.3" r="1.9"/><circle cx="695.6" cy="448.2" r="1.9"/><circle cx="654.9" cy="463.8" r="1.9"/><circle cx="670.5" cy="518.6" r="1.9"/></g>
<g class="c49"><circle cx="599.7" cy="502.6" r="1.9"/><circle cx="619.4" cy="505.3" r="1.9"/><circle cx="646.4" cy="512.9" r="1.9"/><circle cx="589.6" cy="527.1" r="1.9"/><circle cx="638.0" cy="504.1" r="1.9"/><circle cx="593.2" cy="530.2" r="1.9"/></g>
<g class="c48"><circle cx="655.8" cy="506.9" r="1.9"/><circle cx="636.5" cy="517.3" r="1.9"/><circle cx="658.2" cy="508.8" r="1.9"/><circle cx="630.1" cy="468.4" r="1.9"/><circle cx="672.9" cy="441.3" r="1.9"/><circle cx="629.2" cy="458.0" r="1.9"/></g>
<g class="c38"><circle cx="690.9" cy="528.2" r="1.9"/><circle cx="706.4" cy="482.6" r="1.9"/><circle cx="660.0" cy="505.4" r="1.9"/><circle cx="687.6" cy="482.8" r="1.9"/><circle cx="686.4" cy="506.9" r="1.9"/><circle cx="647.7" cy="502.5" r="1.9"/></g>
<g class="c24"><circle cx="606.2" cy="472.0" r="1.9"/><circle cx="582.0" cy="460.0" r="1.9"/><circle cx="591.7" cy="469.1" r="1.9"/><circle cx="576.1" cy="505.3" r="1.9"/><circle cx="561.2" cy="483.5" r="1.9"/><circle cx="604.3" cy="485.5" r="1.9"/></g>
<g class="c24"><circle cx="593.4" cy="491.8" r="1.9"/><circle cx="597.9" cy="498.2" r="1.9"/><circle cx="584.9" cy="488.5" r="1.9"/><circle cx="559.4" cy="506.2" r="1.9"/><circle cx="589.0" cy="484.8" r="1.9"/><circle cx="579.6" cy="477.3" r="1.9"/></g>
<g class="c46"><circle cx="686.6" cy="486.8" r="1.9"/><circle cx="658.1" cy="537.8" r="1.9"/><circle cx="701.2" cy="468.6" r="1.9"/><circle cx="673.6" cy="462.6" r="1.9"/><circle cx="663.1" cy="465.6" r="1.9"/><circle cx="680.2" cy="468.7" r="1.9"/></g>
<g class="c48"><circle cx="629.6" cy="506.7" r="1.9"/><circle cx="649.0" cy="497.7" r="1.9"/><circle cx="646.3" cy="488.9" r="1.9"/><circle cx="630.4" cy="514.2" r="1.9"/><circle cx="619.0" cy="470.8" r="1.9"/><circle cx="642.7" cy="510.8" r="1.9"/></g>
<g class="c24"><circle cx="565.6" cy="509.1" r="1.9"/><circle cx="579.7" cy="481.6" r="1.9"/><circle cx="553.6" cy="495.8" r="1.9"/><circle cx="589.7" cy="482.9" r="1.9"/><circle cx="589.2" cy="482.3" r="1.9"/><circle cx="556.4" cy="465.8" r="1.9"/></g>
<g class="c38"><circle cx="656.7" cy="481.5" r="1.9"/><circle cx="705.6" cy="493.4" r="1.9"/><circle cx="704.9" cy="456.1" r="1.9"/><circle cx="670.4" cy="495.9" r="1.9"/><circle cx="678.7" cy="472.5" r="1.9"/><circle cx="669.7" cy="477.6" r="1.9"/></g>
<g class="c50"><circle cx="622.5" cy="471.9" r="1.9"/><circle cx="592.4" cy="457.7" r="1.9"/><circle cx="613.4" cy="426.7" r="1.9"/><circle cx="597.1" cy="453.0" r="1.9"/><circle cx="595.4" cy="452.8" r="1.9"/><circle cx="596.7" cy="449.6" r="1.9"/></g>
<g class="c24"><circle cx="561.4" cy="496.8" r="1.9"/><circle cx="571.7" cy="496.7" r="1.9"/><circle cx="582.4" cy="508.0" r="1.9"/><circle cx="571.8" cy="469.6" r="1.9"/><circle cx="575.6" cy="499.5" r="1.9"/><circle cx="572.3" cy="462.5" r="1.9"/></g>
<g class="c50"><circle cx="632.2" cy="448.9" r="1.9"/><circle cx="606.0" cy="456.8" r="1.9"/><circle cx="618.3" cy="463.2" r="1.9"/><circle cx="582.2" cy="448.6" r="1.9"/><circle cx="616.3" cy="458.1" r="1.9"/><circle cx="626.4" cy="479.8" r="1.9"/></g>
<g class="c49"><circle cx="599.2" cy="504.8" r="1.9"/><circle cx="602.8" cy="487.7" r="1.9"/><circle cx="594.2" cy="490.8" r="1.9"/><circle cx="592.8" cy="520.0" r="1.9"/><circle cx="607.7" cy="529.7" r="1.9"/><circle cx="600.5" cy="522.2" r="1.9"/></g>
<g class="c49"><circle cx="593.5" cy="506.9" r="1.9"/><circle cx="620.9" cy="528.8" r="1.9"/><circle cx="610.2" cy="503.6" r="1.9"/><circle cx="616.0" cy="502.1" r="1.9"/><circle cx="594.7" cy="499.3" r="1.9"/><circle cx="597.4" cy="477.3" r="1.9"/></g>
<g class="c50"><circle cx="649.0" cy="451.5" r="1.9"/><circle cx="614.8" cy="465.2" r="1.9"/><circle cx="622.0" cy="455.0" r="1.9"/><circle cx="619.4" cy="466.5" r="1.9"/><circle cx="600.7" cy="462.8" r="1.9"/><circle cx="586.2" cy="433.3" r="1.9"/></g>
<g class="c46"><circle cx="673.4" cy="479.5" r="1.9"/><circle cx="680.0" cy="451.8" r="1.9"/><circle cx="695.4" cy="447.2" r="1.9"/><circle cx="667.1" cy="473.7" r="1.9"/><circle cx="669.9" cy="481.8" r="1.9"/><circle cx="670.9" cy="483.8" r="1.9"/></g>
<g class="c46"><circle cx="666.1" cy="478.3" r="1.9"/><circle cx="661.0" cy="466.6" r="1.9"/><circle cx="678.6" cy="444.8" r="1.9"/><circle cx="655.6" cy="470.7" r="1.9"/><circle cx="709.7" cy="511.3" r="1.9"/><circle cx="697.0" cy="500.5" r="1.9"/></g>
<g class="c48"><circle cx="640.6" cy="501.1" r="1.9"/><circle cx="641.6" cy="485.6" r="1.9"/><circle cx="642.4" cy="438.0" r="1.9"/><circle cx="645.0" cy="506.7" r="1.9"/><circle cx="657.4" cy="514.9" r="1.9"/><circle cx="656.3" cy="517.4" r="1.9"/></g>
<g class="c50"><circle cx="574.5" cy="431.9" r="1.9"/><circle cx="600.8" cy="421.3" r="1.9"/><circle cx="579.5" cy="463.3" r="1.9"/><circle cx="602.1" cy="460.4" r="1.9"/><circle cx="598.9" cy="422.1" r="1.9"/><circle cx="597.0" cy="441.0" r="1.9"/></g>
<g class="c49"><circle cx="610.5" cy="475.0" r="1.9"/><circle cx="614.6" cy="530.2" r="1.9"/><circle cx="592.4" cy="504.4" r="1.9"/><circle cx="584.3" cy="470.9" r="1.9"/><circle cx="626.2" cy="516.0" r="1.9"/><circle cx="619.6" cy="494.4" r="1.9"/></g>
<g class="c24"><circle cx="602.0" cy="481.6" r="1.9"/><circle cx="573.1" cy="478.4" r="1.9"/><circle cx="562.4" cy="492.7" r="1.9"/><circle cx="566.9" cy="478.5" r="1.9"/><circle cx="593.0" cy="480.4" r="1.9"/><circle cx="562.4" cy="514.7" r="1.9"/></g>
<g class="c46"><circle cx="660.8" cy="450.3" r="1.9"/><circle cx="645.3" cy="454.6" r="1.9"/><circle cx="655.6" cy="464.7" r="1.9"/><circle cx="669.9" cy="477.2" r="1.9"/><circle cx="661.7" cy="482.3" r="1.9"/><circle cx="667.0" cy="480.2" r="1.9"/></g>
<g class="c48"><circle cx="647.1" cy="469.0" r="1.9"/><circle cx="638.1" cy="479.5" r="1.9"/><circle cx="647.7" cy="495.4" r="1.9"/><circle cx="702.7" cy="512.0" r="1.9"/><circle cx="667.6" cy="522.5" r="1.9"/><circle cx="636.1" cy="521.4" r="1.9"/></g>
<g class="c49"><circle cx="627.8" cy="525.6" r="1.9"/><circle cx="629.0" cy="505.0" r="1.9"/><circle cx="606.8" cy="522.3" r="1.9"/><circle cx="605.4" cy="490.6" r="1.9"/><circle cx="596.2" cy="499.5" r="1.9"/><circle cx="593.9" cy="524.5" r="1.9"/></g>
<g class="c46"><circle cx="665.2" cy="443.3" r="1.9"/><circle cx="650.3" cy="491.4" r="1.9"/><circle cx="662.1" cy="456.0" r="1.9"/><circle cx="664.7" cy="455.2" r="1.9"/><circle cx="713.9" cy="507.0" r="1.9"/><circle cx="659.3" cy="440.6" r="1.9"/></g>
<g class="c49"><circle cx="612.8" cy="480.3" r="1.9"/><circle cx="599.1" cy="474.0" r="1.9"/><circle cx="596.9" cy="502.6" r="1.9"/><circle cx="597.9" cy="490.5" r="1.9"/><circle cx="620.5" cy="502.4" r="1.9"/><circle cx="615.2" cy="512.1" r="1.9"/></g>
<g class="c46"><circle cx="633.6" cy="437.5" r="1.9"/><circle cx="652.9" cy="448.9" r="1.9"/><circle cx="673.0" cy="456.0" r="1.9"/><circle cx="665.7" cy="482.9" r="1.9"/><circle cx="653.4" cy="463.3" r="1.9"/><circle cx="668.2" cy="475.9" r="1.9"/></g>
<g class="c46"><circle cx="661.0" cy="450.4" r="1.9"/><circle cx="667.6" cy="488.8" r="1.9"/><circle cx="654.1" cy="441.5" r="1.9"/><circle cx="668.1" cy="469.0" r="1.9"/><circle cx="647.4" cy="454.1" r="1.9"/><circle cx="666.8" cy="457.1" r="1.9"/></g>
<g class="c50"><circle cx="588.2" cy="436.6" r="1.9"/><circle cx="610.2" cy="464.7" r="1.9"/><circle cx="601.2" cy="437.8" r="1.9"/><circle cx="621.0" cy="473.8" r="1.9"/><circle cx="600.2" cy="438.0" r="1.9"/><circle cx="600.5" cy="455.9" r="1.9"/></g>
<g class="c46"><circle cx="649.0" cy="469.3" r="1.9"/><circle cx="675.6" cy="448.5" r="1.9"/><circle cx="642.3" cy="427.3" r="1.9"/><circle cx="692.5" cy="460.8" r="1.9"/><circle cx="639.5" cy="457.4" r="1.9"/><circle cx="646.5" cy="453.2" r="1.9"/></g>
<g class="c38"><circle cx="683.0" cy="471.8" r="1.9"/><circle cx="686.0" cy="484.2" r="1.9"/><circle cx="696.1" cy="458.7" r="1.9"/><circle cx="663.4" cy="487.6" r="1.9"/><circle cx="705.3" cy="507.0" r="1.9"/><circle cx="700.5" cy="486.3" r="1.9"/></g>
<g class="c48"><circle cx="654.2" cy="492.7" r="1.9"/><circle cx="622.5" cy="469.5" r="1.9"/><circle cx="640.7" cy="518.4" r="1.9"/><circle cx="646.3" cy="487.0" r="1.9"/><circle cx="657.9" cy="483.0" r="1.9"/><circle cx="634.9" cy="488.9" r="1.9"/></g>
<g class="c46"><circle cx="646.7" cy="460.0" r="1.9"/><circle cx="639.3" cy="449.0" r="1.9"/><circle cx="697.5" cy="463.5" r="1.9"/><circle cx="694.2" cy="477.7" r="1.9"/><circle cx="693.3" cy="477.5" r="1.9"/><circle cx="672.9" cy="480.0" r="1.9"/></g>
<g class="c50"><circle cx="592.9" cy="462.5" r="1.9"/><circle cx="579.3" cy="462.4" r="1.9"/><circle cx="570.2" cy="448.8" r="1.9"/><circle cx="626.9" cy="438.9" r="1.9"/><circle cx="621.9" cy="451.9" r="1.9"/><circle cx="622.3" cy="435.3" r="1.9"/></g>
<g class="c38"><circle cx="674.7" cy="512.3" r="1.9"/><circle cx="678.8" cy="486.5" r="1.9"/><circle cx="670.9" cy="498.8" r="1.9"/><circle cx="684.3" cy="514.9" r="1.9"/><circle cx="660.3" cy="496.8" r="1.9"/><circle cx="673.8" cy="498.6" r="1.9"/></g>
<g class="c49"><circle cx="608.4" cy="502.9" r="1.9"/><circle cx="600.7" cy="475.7" r="1.9"/><circle cx="612.2" cy="481.3" r="1.9"/><circle cx="601.3" cy="513.6" r="1.9"/><circle cx="574.4" cy="441.7" r="1.9"/><circle cx="619.7" cy="504.4" r="1.9"/></g>
<g class="c24"><circle cx="607.1" cy="471.2" r="1.9"/><circle cx="588.7" cy="469.6" r="1.9"/><circle cx="573.8" cy="440.3" r="1.9"/><circle cx="597.9" cy="466.8" r="1.9"/><circle cx="605.8" cy="468.6" r="1.9"/><circle cx="566.3" cy="467.6" r="1.9"/></g>
<g class="c48"><circle cx="638.3" cy="479.3" r="1.9"/><circle cx="614.1" cy="472.2" r="1.9"/><circle cx="619.6" cy="464.9" r="1.9"/><circle cx="603.2" cy="473.1" r="1.9"/><circle cx="666.6" cy="506.6" r="1.9"/><circle cx="665.7" cy="489.1" r="1.9"/></g>
<g class="c46"><circle cx="694.4" cy="472.0" r="1.9"/><circle cx="666.1" cy="478.1" r="1.9"/><circle cx="662.2" cy="459.1" r="1.9"/><circle cx="678.3" cy="488.9" r="1.9"/><circle cx="653.7" cy="466.8" r="1.9"/><circle cx="643.8" cy="443.8" r="1.9"/></g>
<g class="c50"><circle cx="623.7" cy="470.0" r="1.9"/><circle cx="610.1" cy="464.7" r="1.9"/><circle cx="596.6" cy="424.1" r="1.9"/><circle cx="614.0" cy="439.7" r="1.9"/><circle cx="608.8" cy="438.5" r="1.9"/><circle cx="613.5" cy="468.1" r="1.9"/></g>
<g class="c48"><circle cx="641.5" cy="503.7" r="1.9"/><circle cx="654.5" cy="478.0" r="1.9"/><circle cx="648.2" cy="506.9" r="1.9"/><circle cx="629.9" cy="504.3" r="1.9"/><circle cx="629.1" cy="495.3" r="1.9"/><circle cx="639.3" cy="491.0" r="1.9"/></g>
<g class="c50"><circle cx="624.0" cy="490.8" r="1.9"/><circle cx="617.8" cy="447.8" r="1.9"/><circle cx="606.9" cy="446.0" r="1.9"/><circle cx="624.2" cy="454.0" r="1.9"/><circle cx="604.1" cy="436.3" r="1.9"/><circle cx="586.1" cy="438.0" r="1.9"/></g>
<g class="c48"><circle cx="639.5" cy="482.0" r="1.9"/><circle cx="655.6" cy="502.6" r="1.9"/><circle cx="620.5" cy="499.0" r="1.9"/><circle cx="651.9" cy="494.9" r="1.9"/><circle cx="658.1" cy="484.6" r="1.9"/><circle cx="634.4" cy="534.3" r="1.9"/></g>
<g class="c49"><circle cx="608.1" cy="485.1" r="1.9"/><circle cx="625.6" cy="501.9" r="1.9"/><circle cx="637.4" cy="479.2" r="1.9"/><circle cx="573.0" cy="459.9" r="1.9"/><circle cx="591.5" cy="498.0" r="1.9"/><circle cx="600.6" cy="515.7" r="1.9"/></g>
<g class="c49"><circle cx="603.9" cy="493.1" r="1.9"/><circle cx="612.5" cy="496.2" r="1.9"/><circle cx="601.4" cy="505.3" r="1.9"/><circle cx="607.3" cy="509.6" r="1.9"/><circle cx="617.0" cy="482.0" r="1.9"/><circle cx="610.7" cy="518.4" r="1.9"/></g>
<g class="c50"><circle cx="642.2" cy="448.5" r="1.9"/><circle cx="652.8" cy="443.9" r="1.9"/><circle cx="610.8" cy="467.9" r="1.9"/><circle cx="627.2" cy="464.5" r="1.9"/><circle cx="579.1" cy="454.6" r="1.9"/><circle cx="596.6" cy="454.5" r="1.9"/></g>
<g class="c48"><circle cx="659.5" cy="505.0" r="1.9"/><circle cx="624.9" cy="488.9" r="1.9"/><circle cx="613.2" cy="525.7" r="1.9"/><circle cx="643.3" cy="513.4" r="1.9"/><circle cx="623.9" cy="482.4" r="1.9"/><circle cx="624.8" cy="539.4" r="1.9"/></g>
<g class="c38"><circle cx="678.9" cy="499.4" r="1.9"/><circle cx="701.9" cy="488.3" r="1.9"/><circle cx="692.1" cy="448.4" r="1.9"/><circle cx="715.8" cy="485.8" r="1.9"/><circle cx="671.0" cy="492.2" r="1.9"/><circle cx="689.1" cy="508.2" r="1.9"/></g>
<g class="c48"><circle cx="625.8" cy="473.9" r="1.9"/><circle cx="647.6" cy="485.8" r="1.9"/><circle cx="645.4" cy="477.2" r="1.9"/><circle cx="616.8" cy="483.7" r="1.9"/><circle cx="630.8" cy="462.6" r="1.9"/><circle cx="628.5" cy="466.4" r="1.9"/></g>
<g class="c38"><circle cx="691.0" cy="481.6" r="1.9"/><circle cx="700.9" cy="494.7" r="1.9"/><circle cx="684.4" cy="497.3" r="1.9"/><circle cx="706.4" cy="509.8" r="1.9"/><circle cx="689.9" cy="480.4" r="1.9"/><circle cx="691.5" cy="472.9" r="1.9"/></g>
<g class="c38"><circle cx="670.1" cy="511.0" r="1.9"/><circle cx="700.7" cy="465.6" r="1.9"/><circle cx="674.7" cy="449.8" r="1.9"/><circle cx="688.7" cy="483.2" r="1.9"/><circle cx="703.9" cy="500.2" r="1.9"/><circle cx="694.1" cy="460.0" r="1.9"/></g>
<g class="c24"><circle cx="580.5" cy="477.3" r="1.9"/><circle cx="579.3" cy="445.9" r="1.9"/><circle cx="607.4" cy="470.5" r="1.9"/><circle cx="571.6" cy="471.2" r="1.9"/><circle cx="580.3" cy="468.9" r="1.9"/><circle cx="573.0" cy="523.0" r="1.9"/></g>
<g class="c50"><circle cx="599.9" cy="455.5" r="1.9"/><circle cx="579.2" cy="450.5" r="1.9"/><circle cx="601.7" cy="476.6" r="1.9"/><circle cx="583.3" cy="427.1" r="1.9"/><circle cx="616.8" cy="425.7" r="1.9"/><circle cx="589.2" cy="475.2" r="1.9"/></g>
<g class="c50"><circle cx="607.7" cy="459.0" r="1.9"/><circle cx="621.7" cy="441.3" r="1.9"/><circle cx="624.6" cy="425.9" r="1.9"/><circle cx="616.3" cy="466.8" r="1.9"/><circle cx="599.9" cy="430.8" r="1.9"/><circle cx="603.8" cy="457.0" r="1.9"/></g>
<g class="c48"><circle cx="653.9" cy="525.9" r="1.9"/><circle cx="604.9" cy="479.3" r="1.9"/><circle cx="636.9" cy="473.4" r="1.9"/><circle cx="604.1" cy="483.7" r="1.9"/><circle cx="645.5" cy="528.8" r="1.9"/><circle cx="651.3" cy="516.8" r="1.9"/></g>
<g class="c48"><circle cx="631.9" cy="488.3" r="1.9"/><circle cx="624.4" cy="495.0" r="1.9"/><circle cx="648.1" cy="465.0" r="1.9"/><circle cx="625.2" cy="487.0" r="1.9"/><circle cx="650.0" cy="475.4" r="1.9"/><circle cx="633.1" cy="482.3" r="1.9"/></g>
<g class="c38"><circle cx="693.0" cy="502.1" r="1.9"/><circle cx="669.3" cy="498.4" r="1.9"/><circle cx="690.2" cy="485.6" r="1.9"/><circle cx="666.0" cy="512.3" r="1.9"/><circle cx="685.1" cy="526.6" r="1.9"/><circle cx="684.2" cy="462.8" r="1.9"/></g>
<g class="c50"><circle cx="599.8" cy="473.9" r="1.9"/><circle cx="596.1" cy="445.2" r="1.9"/><circle cx="596.4" cy="473.1" r="1.9"/><circle cx="635.8" cy="445.1" r="1.9"/><circle cx="621.2" cy="477.4" r="1.9"/><circle cx="571.4" cy="446.4" r="1.9"/></g>
<g class="c46"><circle cx="690.1" cy="466.0" r="1.9"/><circle cx="674.5" cy="465.5" r="1.9"/><circle cx="684.2" cy="441.7" r="1.9"/><circle cx="667.4" cy="486.7" r="1.9"/><circle cx="673.2" cy="485.0" r="1.9"/><circle cx="664.5" cy="454.5" r="1.9"/></g>
<g class="c49"><circle cx="586.2" cy="472.9" r="1.9"/><circle cx="613.2" cy="527.6" r="1.9"/><circle cx="656.4" cy="526.3" r="1.9"/><circle cx="628.1" cy="524.6" r="1.9"/><circle cx="557.4" cy="492.7" r="1.9"/><circle cx="609.8" cy="505.1" r="1.9"/></g>
<g class="c24"><circle cx="558.2" cy="452.7" r="1.9"/><circle cx="581.1" cy="491.5" r="1.9"/><circle cx="565.3" cy="454.6" r="1.9"/><circle cx="559.9" cy="471.9" r="1.9"/><circle cx="593.8" cy="476.3" r="1.9"/><circle cx="604.9" cy="482.9" r="1.9"/></g>
<g class="c38"><circle cx="692.5" cy="457.5" r="1.9"/><circle cx="715.6" cy="497.5" r="1.9"/><circle cx="691.4" cy="505.4" r="1.9"/><circle cx="711.2" cy="494.8" r="1.9"/><circle cx="698.3" cy="476.1" r="1.9"/><circle cx="686.7" cy="465.6" r="1.9"/></g>
<g class="c38"><circle cx="711.9" cy="462.2" r="1.9"/><circle cx="676.1" cy="491.9" r="1.9"/><circle cx="684.6" cy="489.9" r="1.9"/><circle cx="720.0" cy="489.8" r="1.9"/><circle cx="682.9" cy="486.3" r="1.9"/><circle cx="701.3" cy="480.0" r="1.9"/></g>
<g class="c51"><circle cx="553.6" cy="428.2" r="1.9"/></g>
<g class="c24"><circle cx="577.7" cy="465.0" r="1.9"/><circle cx="544.9" cy="482.0" r="1.9"/><circle cx="561.7" cy="473.8" r="1.9"/><circle cx="574.5" cy="497.8" r="1.9"/><circle cx="587.3" cy="473.3" r="1.9"/><circle cx="589.9" cy="483.9" r="1.9"/></g>
<g class="c38"><circle cx="680.7" cy="495.2" r="1.9"/><circle cx="685.9" cy="487.2" r="1.9"/><circle cx="695.7" cy="452.9" r="1.9"/><circle cx="703.2" cy="488.1" r="1.9"/><circle cx="706.6" cy="476.1" r="1.9"/><circle cx="680.1" cy="498.0" r="1.9"/></g>
<g class="c49"><circle cx="615.4" cy="474.7" r="1.9"/><circle cx="572.6" cy="500.2" r="1.9"/><circle cx="593.7" cy="519.9" r="1.9"/><circle cx="614.4" cy="495.3" r="1.9"/><circle cx="597.2" cy="462.5" r="1.9"/><circle cx="590.5" cy="507.5" r="1.9"/></g>
<g class="c49"><circle cx="594.1" cy="506.5" r="1.9"/><circle cx="577.5" cy="510.6" r="1.9"/><circle cx="616.1" cy="502.9" r="1.9"/><circle cx="612.5" cy="497.0" r="1.9"/><circle cx="591.7" cy="496.8" r="1.9"/><circle cx="589.1" cy="503.2" r="1.9"/></g>
<g class="c48"><circle cx="642.7" cy="506.5" r="1.9"/><circle cx="614.2" cy="516.9" r="1.9"/><circle cx="653.0" cy="477.1" r="1.9"/><circle cx="630.5" cy="457.4" r="1.9"/><circle cx="609.9" cy="473.5" r="1.9"/><circle cx="636.6" cy="490.6" r="1.9"/></g>
<g class="c49"><circle cx="618.0" cy="498.8" r="1.9"/><circle cx="598.7" cy="484.9" r="1.9"/><circle cx="611.7" cy="510.6" r="1.9"/><circle cx="615.7" cy="494.9" r="1.9"/><circle cx="615.2" cy="536.1" r="1.9"/><circle cx="624.1" cy="495.0" r="1.9"/></g>
<g class="c24"><circle cx="567.4" cy="496.1" r="1.9"/><circle cx="543.2" cy="447.7" r="1.9"/><circle cx="586.8" cy="487.9" r="1.9"/><circle cx="572.6" cy="475.6" r="1.9"/><circle cx="567.2" cy="470.4" r="1.9"/><circle cx="590.2" cy="466.4" r="1.9"/></g>
<g class="c50"><circle cx="553.2" cy="446.9" r="1.9"/><circle cx="612.3" cy="467.3" r="1.9"/><circle cx="601.8" cy="440.3" r="1.9"/><circle cx="603.2" cy="461.3" r="1.9"/><circle cx="571.2" cy="453.0" r="1.9"/><circle cx="586.0" cy="424.6" r="1.9"/></g>
<g class="c48"><circle cx="640.8" cy="500.5" r="1.9"/><circle cx="622.6" cy="504.0" r="1.9"/><circle cx="629.2" cy="486.5" r="1.9"/><circle cx="651.1" cy="520.4" r="1.9"/><circle cx="634.2" cy="521.0" r="1.9"/><circle cx="628.0" cy="484.5" r="1.9"/></g>
<g class="c48"><circle cx="636.2" cy="476.6" r="1.9"/><circle cx="646.5" cy="495.3" r="1.9"/><circle cx="613.5" cy="479.2" r="1.9"/><circle cx="632.8" cy="530.4" r="1.9"/><circle cx="645.0" cy="500.6" r="1.9"/><circle cx="628.9" cy="467.2" r="1.9"/></g>
<g class="c38"><circle cx="719.9" cy="475.8" r="1.9"/><circle cx="678.3" cy="480.0" r="1.9"/><circle cx="700.1" cy="482.2" r="1.9"/><circle cx="684.8" cy="491.9" r="1.9"/><circle cx="704.8" cy="489.1" r="1.9"/><circle cx="675.0" cy="464.4" r="1.9"/></g>
<g class="c49"><circle cx="605.7" cy="504.0" r="1.9"/><circle cx="629.9" cy="499.1" r="1.9"/><circle cx="580.0" cy="526.9" r="1.9"/><circle cx="596.5" cy="505.2" r="1.9"/><circle cx="594.8" cy="502.8" r="1.9"/><circle cx="607.0" cy="481.3" r="1.9"/></g>
<g class="c48"><circle cx="664.8" cy="530.6" r="1.9"/><circle cx="647.2" cy="518.5" r="1.9"/><circle cx="641.9" cy="497.9" r="1.9"/><circle cx="624.9" cy="459.0" r="1.9"/><circle cx="618.4" cy="477.7" r="1.9"/><circle cx="641.9" cy="498.2" r="1.9"/></g>
<g class="c50"><circle cx="613.4" cy="413.4" r="1.9"/><circle cx="602.2" cy="427.1" r="1.9"/><circle cx="608.1" cy="444.0" r="1.9"/><circle cx="580.4" cy="443.4" r="1.9"/><circle cx="590.6" cy="452.8" r="1.9"/><circle cx="586.3" cy="456.0" r="1.9"/></g>
<g class="c50"><circle cx="639.2" cy="451.0" r="1.9"/><circle cx="600.0" cy="467.6" r="1.9"/><circle cx="632.7" cy="430.1" r="1.9"/><circle cx="600.1" cy="447.4" r="1.9"/><circle cx="612.7" cy="460.0" r="1.9"/><circle cx="620.5" cy="440.0" r="1.9"/></g>
<g class="c49"><circle cx="598.4" cy="488.4" r="1.9"/><circle cx="584.7" cy="495.4" r="1.9"/><circle cx="582.0" cy="509.3" r="1.9"/><circle cx="593.1" cy="522.3" r="1.9"/><circle cx="572.8" cy="518.0" r="1.9"/><circle cx="596.0" cy="480.7" r="1.9"/></g>
<g class="c49"><circle cx="617.2" cy="517.2" r="1.9"/><circle cx="600.7" cy="484.1" r="1.9"/><circle cx="592.9" cy="491.9" r="1.9"/><circle cx="592.8" cy="512.6" r="1.9"/><circle cx="598.9" cy="508.4" r="1.9"/><circle cx="600.6" cy="494.4" r="1.9"/></g>
<g class="c48"><circle cx="637.6" cy="449.7" r="1.9"/><circle cx="620.3" cy="491.1" r="1.9"/><circle cx="640.3" cy="495.5" r="1.9"/><circle cx="647.5" cy="503.0" r="1.9"/><circle cx="618.5" cy="499.2" r="1.9"/><circle cx="658.6" cy="486.5" r="1.9"/></g>
<g class="c46"><circle cx="646.8" cy="463.1" r="1.9"/><circle cx="659.4" cy="493.6" r="1.9"/><circle cx="677.4" cy="461.7" r="1.9"/><circle cx="675.8" cy="508.9" r="1.9"/><circle cx="654.5" cy="477.8" r="1.9"/><circle cx="644.6" cy="476.3" r="1.9"/></g>
<g class="c24"><circle cx="584.5" cy="463.5" r="1.9"/><circle cx="580.4" cy="478.5" r="1.9"/><circle cx="580.6" cy="483.9" r="1.9"/><circle cx="540.2" cy="457.9" r="1.9"/><circle cx="548.8" cy="475.0" r="1.9"/><circle cx="595.3" cy="498.0" r="1.9"/></g>
<g class="c48"><circle cx="658.5" cy="533.1" r="1.9"/><circle cx="638.4" cy="464.9" r="1.9"/><circle cx="646.8" cy="465.6" r="1.9"/><circle cx="624.8" cy="490.8" r="1.9"/><circle cx="663.4" cy="486.8" r="1.9"/><circle cx="639.1" cy="499.9" r="1.9"/></g>
<g class="c49"><circle cx="610.3" cy="480.6" r="1.9"/><circle cx="638.0" cy="535.4" r="1.9"/><circle cx="621.6" cy="507.6" r="1.9"/><circle cx="626.1" cy="497.6" r="1.9"/><circle cx="610.9" cy="490.1" r="1.9"/><circle cx="609.4" cy="529.0" r="1.9"/></g>
<g class="c24"><circle cx="599.4" cy="466.9" r="1.9"/><circle cx="585.9" cy="509.1" r="1.9"/><circle cx="586.0" cy="477.2" r="1.9"/><circle cx="592.0" cy="467.7" r="1.9"/><circle cx="566.6" cy="495.1" r="1.9"/><circle cx="584.3" cy="489.6" r="1.9"/></g>
<g class="c50"><circle cx="620.2" cy="459.4" r="1.9"/><circle cx="603.9" cy="470.3" r="1.9"/><circle cx="640.2" cy="427.8" r="1.9"/><circle cx="623.4" cy="418.8" r="1.9"/><circle cx="599.2" cy="466.0" r="1.9"/><circle cx="613.1" cy="458.3" r="1.9"/></g>
<g class="c50"><circle cx="597.3" cy="464.8" r="1.9"/><circle cx="605.1" cy="433.0" r="1.9"/><circle cx="631.3" cy="427.4" r="1.9"/><circle cx="612.9" cy="465.9" r="1.9"/><circle cx="627.9" cy="461.8" r="1.9"/><circle cx="631.0" cy="447.8" r="1.9"/></g>
<g class="c46"><circle cx="671.1" cy="477.1" r="1.9"/><circle cx="693.8" cy="470.4" r="1.9"/><circle cx="716.3" cy="477.3" r="1.9"/><circle cx="703.9" cy="455.8" r="1.9"/><circle cx="681.3" cy="504.4" r="1.9"/><circle cx="667.4" cy="463.1" r="1.9"/></g>
<g class="c49"><circle cx="608.4" cy="492.7" r="1.9"/><circle cx="631.8" cy="530.0" r="1.9"/><circle cx="600.5" cy="520.3" r="1.9"/><circle cx="611.8" cy="496.1" r="1.9"/><circle cx="619.4" cy="479.4" r="1.9"/><circle cx="599.3" cy="498.6" r="1.9"/></g>
<g class="c49"><circle cx="584.9" cy="514.5" r="1.9"/><circle cx="599.7" cy="498.8" r="1.9"/><circle cx="607.4" cy="496.0" r="1.9"/><circle cx="599.4" cy="504.8" r="1.9"/><circle cx="578.1" cy="496.5" r="1.9"/><circle cx="587.9" cy="506.3" r="1.9"/></g>
<polygon points="607.2,449.6 608.1,452.1 610.8,452.2 608.6,453.8 609.4,456.4 607.2,454.8 605.0,456.4 605.8,453.8 603.7,452.2 606.3,452.1" fill="#9a5009" fill-opacity=".85" stroke="#262626" stroke-width=".8"/>
<polygon points="636.6,485.1 637.4,487.7 640.1,487.7 638.0,489.4 638.8,491.9 636.6,490.4 634.4,491.9 635.1,489.4 633.0,487.7 635.7,487.7" fill="#41255f" fill-opacity=".85" stroke="#262626" stroke-width=".8"/>
<polygon points="606.6,497.8 607.4,500.3 610.1,500.4 608.0,502.0 608.8,504.6 606.6,503.1 604.4,504.6 605.1,502.0 603.0,500.4 605.7,500.3" fill="#6d371b" fill-opacity=".85" stroke="#262626" stroke-width=".8"/>
<polygon points="589.2,482.9 590.1,485.5 592.8,485.5 590.6,487.1 591.4,489.7 589.2,488.2 587.0,489.7 587.8,487.1 585.7,485.5 588.3,485.5" fill="#a6cee3" fill-opacity=".85" stroke="#262626" stroke-width=".8"/>
<polygon points="670.6,473.4 671.4,475.9 674.1,476.0 672.0,477.6 672.8,480.1 670.6,478.6 668.4,480.1 669.1,477.6 667.0,476.0 669.7,475.9" fill="#b2df8a" fill-opacity=".85" stroke="#262626" stroke-width=".8"/>
<polygon points="683.2,479.6 684.1,482.1 686.8,482.2 684.6,483.8 685.4,486.4 683.2,484.8 681.0,486.4 681.8,483.8 679.7,482.2 682.3,482.1" fill="#f79cab" fill-opacity=".85" stroke="#262626" stroke-width=".8"/>
<rect x="763.7" y="403.3" width="197.1" height="146.3" fill="#fff" stroke="#929292" stroke-width="1.15"/>
<g class="c26"><circle cx="839.8" cy="454.4" r="1.9"/><circle cx="854.8" cy="458.9" r="1.9"/><circle cx="837.1" cy="436.6" r="1.9"/><circle cx="861.7" cy="418.0" r="1.9"/><circle cx="853.8" cy="425.6" r="1.9"/><circle cx="869.7" cy="442.8" r="1.9"/></g>
<g class="c2"><circle cx="848.7" cy="508.2" r="1.9"/><circle cx="849.3" cy="510.7" r="1.9"/><circle cx="857.0" cy="492.1" r="1.9"/><circle cx="871.3" cy="486.0" r="1.9"/><circle cx="864.1" cy="485.0" r="1.9"/><circle cx="853.4" cy="493.6" r="1.9"/></g>
<g class="c38"><circle cx="832.2" cy="501.2" r="1.9"/><circle cx="800.0" cy="486.0" r="1.9"/><circle cx="834.8" cy="497.5" r="1.9"/><circle cx="825.8" cy="474.1" r="1.9"/><circle cx="798.4" cy="485.4" r="1.9"/><circle cx="803.6" cy="477.1" r="1.9"/></g>
<g class="c38"><circle cx="802.7" cy="475.4" r="1.9"/><circle cx="785.2" cy="503.0" r="1.9"/><circle cx="795.0" cy="478.7" r="1.9"/><circle cx="829.4" cy="519.0" r="1.9"/><circle cx="821.7" cy="505.3" r="1.9"/><circle cx="816.3" cy="524.8" r="1.9"/></g>
<g class="c38"><circle cx="824.5" cy="515.0" r="1.9"/><circle cx="826.2" cy="502.9" r="1.9"/><circle cx="784.4" cy="492.6" r="1.9"/><circle cx="800.3" cy="481.3" r="1.9"/><circle cx="845.9" cy="482.8" r="1.9"/><circle cx="814.0" cy="518.9" r="1.9"/></g>
<g class="c52"><circle cx="886.7" cy="463.8" r="1.9"/><circle cx="881.8" cy="480.5" r="1.9"/><circle cx="879.8" cy="483.4" r="1.9"/><circle cx="883.7" cy="473.5" r="1.9"/><circle cx="873.6" cy="466.4" r="1.9"/><circle cx="918.7" cy="438.4" r="1.9"/></g>
<g class="c2"><circle cx="843.9" cy="490.9" r="1.9"/><circle cx="863.1" cy="515.0" r="1.9"/><circle cx="847.3" cy="520.0" r="1.9"/><circle cx="874.8" cy="483.2" r="1.9"/><circle cx="851.2" cy="479.0" r="1.9"/><circle cx="859.8" cy="492.5" r="1.9"/></g>
<g class="c26"><circle cx="852.7" cy="469.9" r="1.9"/><circle cx="864.2" cy="440.5" r="1.9"/><circle cx="831.1" cy="457.9" r="1.9"/><circle cx="838.7" cy="430.6" r="1.9"/><circle cx="828.9" cy="447.7" r="1.9"/><circle cx="867.1" cy="456.9" r="1.9"/></g>
<g class="c52"><circle cx="873.7" cy="454.6" r="1.9"/><circle cx="955.0" cy="479.6" r="1.9"/><circle cx="897.2" cy="419.0" r="1.9"/><circle cx="901.7" cy="488.1" r="1.9"/><circle cx="955.3" cy="459.2" r="1.9"/><circle cx="889.5" cy="461.3" r="1.9"/></g>
<g class="c2"><circle cx="906.6" cy="487.3" r="1.9"/><circle cx="874.1" cy="510.9" r="1.9"/><circle cx="882.7" cy="499.9" r="1.9"/><circle cx="864.0" cy="476.8" r="1.9"/><circle cx="880.4" cy="496.1" r="1.9"/><circle cx="905.5" cy="500.1" r="1.9"/></g>
<g class="c2"><circle cx="875.0" cy="502.6" r="1.9"/><circle cx="880.6" cy="494.8" r="1.9"/><circle cx="866.2" cy="491.8" r="1.9"/><circle cx="881.9" cy="488.6" r="1.9"/><circle cx="872.5" cy="505.1" r="1.9"/><circle cx="889.6" cy="521.0" r="1.9"/></g>
<g class="c2"><circle cx="858.1" cy="500.3" r="1.9"/><circle cx="862.2" cy="495.1" r="1.9"/><circle cx="907.4" cy="510.6" r="1.9"/><circle cx="883.5" cy="494.6" r="1.9"/><circle cx="900.8" cy="505.3" r="1.9"/><circle cx="876.9" cy="503.0" r="1.9"/></g>
<g class="c52"><circle cx="871.1" cy="475.3" r="1.9"/><circle cx="884.5" cy="443.8" r="1.9"/><circle cx="906.5" cy="495.7" r="1.9"/><circle cx="896.0" cy="427.8" r="1.9"/><circle cx="929.7" cy="452.5" r="1.9"/><circle cx="892.5" cy="443.6" r="1.9"/></g>
<g class="c52"><circle cx="893.4" cy="470.5" r="1.9"/><circle cx="895.5" cy="474.6" r="1.9"/><circle cx="914.9" cy="440.7" r="1.9"/><circle cx="939.5" cy="462.2" r="1.9"/><circle cx="910.7" cy="449.4" r="1.9"/><circle cx="899.9" cy="464.7" r="1.9"/></g>
<g class="c38"><circle cx="815.6" cy="524.4" r="1.9"/><circle cx="819.4" cy="485.9" r="1.9"/><circle cx="802.1" cy="486.3" r="1.9"/><circle cx="770.2" cy="489.0" r="1.9"/><circle cx="840.8" cy="508.8" r="1.9"/><circle cx="833.2" cy="517.4" r="1.9"/></g>
<g class="c2"><circle cx="909.3" cy="517.3" r="1.9"/><circle cx="895.3" cy="493.3" r="1.9"/><circle cx="887.8" cy="521.5" r="1.9"/><circle cx="860.5" cy="498.8" r="1.9"/></g>
<g class="c52"><circle cx="873.5" cy="455.2" r="1.9"/><circle cx="913.4" cy="476.9" r="1.9"/><circle cx="940.9" cy="463.9" r="1.9"/><circle cx="916.9" cy="464.4" r="1.9"/><circle cx="909.8" cy="460.6" r="1.9"/><circle cx="901.3" cy="483.7" r="1.9"/></g>
<g class="c2"><circle cx="887.8" cy="480.8" r="1.9"/><circle cx="885.3" cy="498.3" r="1.9"/><circle cx="865.8" cy="502.8" r="1.9"/><circle cx="905.3" cy="510.6" r="1.9"/><circle cx="910.8" cy="502.6" r="1.9"/><circle cx="869.3" cy="499.6" r="1.9"/></g>
<g class="c38"><circle cx="775.5" cy="501.1" r="1.9"/><circle cx="826.3" cy="475.1" r="1.9"/><circle cx="820.6" cy="480.4" r="1.9"/><circle cx="799.2" cy="510.6" r="1.9"/><circle cx="824.9" cy="506.2" r="1.9"/><circle cx="811.5" cy="485.6" r="1.9"/></g>
<g class="c2"><circle cx="877.0" cy="504.0" r="1.9"/><circle cx="850.7" cy="491.9" r="1.9"/><circle cx="877.2" cy="521.0" r="1.9"/><circle cx="851.9" cy="518.4" r="1.9"/><circle cx="856.2" cy="486.5" r="1.9"/><circle cx="851.2" cy="499.8" r="1.9"/></g>
<g class="c2"><circle cx="861.5" cy="481.6" r="1.9"/><circle cx="878.9" cy="472.2" r="1.9"/><circle cx="885.0" cy="496.3" r="1.9"/><circle cx="862.8" cy="492.3" r="1.9"/><circle cx="852.7" cy="474.7" r="1.9"/><circle cx="892.7" cy="524.4" r="1.9"/></g>
<g class="c26"><circle cx="857.2" cy="446.2" r="1.9"/><circle cx="833.9" cy="441.9" r="1.9"/><circle cx="829.1" cy="460.7" r="1.9"/><circle cx="847.4" cy="457.1" r="1.9"/><circle cx="805.2" cy="425.4" r="1.9"/><circle cx="824.7" cy="443.7" r="1.9"/></g>
<g class="c26"><circle cx="853.9" cy="428.2" r="1.9"/><circle cx="856.1" cy="440.8" r="1.9"/><circle cx="851.1" cy="438.6" r="1.9"/><circle cx="844.5" cy="431.9" r="1.9"/><circle cx="874.6" cy="453.0" r="1.9"/><circle cx="847.4" cy="458.5" r="1.9"/></g>
<g class="c38"><circle cx="768.1" cy="495.6" r="1.9"/><circle cx="773.8" cy="509.6" r="1.9"/><circle cx="811.1" cy="492.3" r="1.9"/><circle cx="801.6" cy="479.1" r="1.9"/><circle cx="799.8" cy="502.9" r="1.9"/><circle cx="838.8" cy="480.8" r="1.9"/></g>
<g class="c52"><circle cx="892.2" cy="440.3" r="1.9"/><circle cx="907.2" cy="438.2" r="1.9"/><circle cx="943.6" cy="458.2" r="1.9"/><circle cx="919.8" cy="430.8" r="1.9"/><circle cx="880.4" cy="433.9" r="1.9"/><circle cx="906.5" cy="493.8" r="1.9"/></g>
<g class="c2"><circle cx="885.0" cy="479.1" r="1.9"/><circle cx="924.8" cy="505.5" r="1.9"/><circle cx="891.2" cy="489.7" r="1.9"/><circle cx="875.5" cy="479.2" r="1.9"/><circle cx="908.6" cy="490.1" r="1.9"/><circle cx="866.1" cy="472.9" r="1.9"/></g>
<g class="c52"><circle cx="892.4" cy="492.1" r="1.9"/><circle cx="886.1" cy="431.6" r="1.9"/><circle cx="887.5" cy="429.3" r="1.9"/><circle cx="954.9" cy="477.2" r="1.9"/><circle cx="878.3" cy="486.3" r="1.9"/><circle cx="923.4" cy="435.3" r="1.9"/></g>
<g class="c38"><circle cx="813.0" cy="523.4" r="1.9"/><circle cx="784.9" cy="511.9" r="1.9"/><circle cx="835.9" cy="507.2" r="1.9"/><circle cx="820.3" cy="521.5" r="1.9"/><circle cx="839.3" cy="479.3" r="1.9"/><circle cx="830.3" cy="502.9" r="1.9"/></g>
<g class="c38"><circle cx="808.3" cy="486.8" r="1.9"/><circle cx="812.0" cy="481.4" r="1.9"/><circle cx="828.5" cy="505.3" r="1.9"/><circle cx="845.3" cy="500.9" r="1.9"/><circle cx="781.3" cy="491.1" r="1.9"/><circle cx="794.4" cy="493.2" r="1.9"/></g>
<g class="c52"><circle cx="892.1" cy="467.6" r="1.9"/><circle cx="926.1" cy="471.7" r="1.9"/><circle cx="896.9" cy="455.7" r="1.9"/><circle cx="924.7" cy="470.5" r="1.9"/><circle cx="941.9" cy="489.7" r="1.9"/><circle cx="907.6" cy="458.8" r="1.9"/></g>
<g class="c52"><circle cx="901.2" cy="445.5" r="1.9"/><circle cx="950.2" cy="444.0" r="1.9"/><circle cx="946.4" cy="453.3" r="1.9"/><circle cx="912.2" cy="427.6" r="1.9"/><circle cx="899.9" cy="445.9" r="1.9"/><circle cx="928.6" cy="467.6" r="1.9"/></g>
<g class="c38"><circle cx="831.4" cy="497.8" r="1.9"/><circle cx="832.6" cy="536.0" r="1.9"/><circle cx="776.7" cy="469.4" r="1.9"/><circle cx="835.5" cy="477.8" r="1.9"/><circle cx="801.2" cy="523.3" r="1.9"/><circle cx="803.1" cy="479.0" r="1.9"/></g>
<g class="c2"><circle cx="903.0" cy="504.2" r="1.9"/><circle cx="883.2" cy="512.7" r="1.9"/><circle cx="906.2" cy="501.5" r="1.9"/><circle cx="874.6" cy="479.5" r="1.9"/><circle cx="901.7" cy="518.1" r="1.9"/><circle cx="869.7" cy="496.9" r="1.9"/></g>
<g class="c38"><circle cx="806.1" cy="518.2" r="1.9"/><circle cx="797.5" cy="483.8" r="1.9"/><circle cx="814.2" cy="492.0" r="1.9"/><circle cx="836.6" cy="484.6" r="1.9"/><circle cx="785.2" cy="493.6" r="1.9"/><circle cx="835.6" cy="516.7" r="1.9"/></g>
<g class="c26"><circle cx="811.8" cy="461.3" r="1.9"/><circle cx="833.2" cy="488.2" r="1.9"/><circle cx="855.2" cy="481.0" r="1.9"/><circle cx="818.4" cy="445.3" r="1.9"/><circle cx="816.3" cy="455.6" r="1.9"/><circle cx="836.9" cy="460.2" r="1.9"/></g>
<g class="c26"><circle cx="806.6" cy="461.4" r="1.9"/><circle cx="838.2" cy="467.8" r="1.9"/><circle cx="855.3" cy="454.4" r="1.9"/><circle cx="850.5" cy="450.2" r="1.9"/><circle cx="824.8" cy="461.7" r="1.9"/><circle cx="828.0" cy="461.8" r="1.9"/></g>
<g class="c38"><circle cx="802.1" cy="484.3" r="1.9"/><circle cx="835.5" cy="474.8" r="1.9"/><circle cx="836.2" cy="495.2" r="1.9"/><circle cx="837.1" cy="483.7" r="1.9"/><circle cx="820.7" cy="522.0" r="1.9"/><circle cx="823.4" cy="481.2" r="1.9"/></g>
<g class="c38"><circle cx="810.2" cy="487.4" r="1.9"/><circle cx="839.0" cy="491.9" r="1.9"/><circle cx="844.4" cy="497.8" r="1.9"/><circle cx="783.3" cy="499.7" r="1.9"/><circle cx="796.7" cy="513.6" r="1.9"/><circle cx="806.7" cy="494.7" r="1.9"/></g>
<g class="c26"><circle cx="826.2" cy="462.9" r="1.9"/><circle cx="782.6" cy="446.1" r="1.9"/><circle cx="855.5" cy="482.0" r="1.9"/><circle cx="848.7" cy="461.8" r="1.9"/><circle cx="839.8" cy="459.9" r="1.9"/><circle cx="845.7" cy="476.9" r="1.9"/></g>
<g class="c26"><circle cx="838.7" cy="443.8" r="1.9"/><circle cx="838.3" cy="461.8" r="1.9"/><circle cx="796.9" cy="452.3" r="1.9"/><circle cx="826.9" cy="469.4" r="1.9"/><circle cx="801.0" cy="450.3" r="1.9"/><circle cx="797.5" cy="448.5" r="1.9"/></g>
<g class="c26"><circle cx="812.6" cy="450.4" r="1.9"/><circle cx="779.1" cy="469.9" r="1.9"/><circle cx="830.9" cy="458.9" r="1.9"/><circle cx="840.9" cy="471.3" r="1.9"/><circle cx="851.6" cy="466.3" r="1.9"/><circle cx="794.8" cy="450.1" r="1.9"/></g>
<g class="c52"><circle cx="929.4" cy="490.4" r="1.9"/><circle cx="935.1" cy="452.5" r="1.9"/><circle cx="932.5" cy="450.9" r="1.9"/><circle cx="883.1" cy="431.3" r="1.9"/><circle cx="939.2" cy="498.1" r="1.9"/><circle cx="935.9" cy="461.2" r="1.9"/></g>
<g class="c38"><circle cx="784.4" cy="485.1" r="1.9"/><circle cx="816.8" cy="477.5" r="1.9"/><circle cx="782.1" cy="511.1" r="1.9"/><circle cx="803.6" cy="473.8" r="1.9"/><circle cx="826.8" cy="514.7" r="1.9"/><circle cx="828.3" cy="519.2" r="1.9"/></g>
<g class="c52"><circle cx="913.1" cy="445.1" r="1.9"/><circle cx="921.8" cy="448.3" r="1.9"/><circle cx="906.6" cy="432.8" r="1.9"/><circle cx="912.0" cy="475.2" r="1.9"/><circle cx="932.8" cy="465.1" r="1.9"/><circle cx="903.3" cy="456.7" r="1.9"/></g>
<g class="c2"><circle cx="858.7" cy="463.2" r="1.9"/><circle cx="853.7" cy="473.5" r="1.9"/><circle cx="913.0" cy="496.7" r="1.9"/><circle cx="857.0" cy="480.6" r="1.9"/><circle cx="896.4" cy="482.6" r="1.9"/><circle cx="870.1" cy="491.9" r="1.9"/></g>
<g class="c26"><circle cx="827.9" cy="459.2" r="1.9"/><circle cx="831.8" cy="423.1" r="1.9"/><circle cx="803.0" cy="454.5" r="1.9"/><circle cx="799.2" cy="456.5" r="1.9"/><circle cx="796.8" cy="442.3" r="1.9"/><circle cx="809.3" cy="441.0" r="1.9"/></g>
<g class="c26"><circle cx="817.3" cy="443.2" r="1.9"/><circle cx="838.5" cy="481.6" r="1.9"/><circle cx="794.6" cy="460.3" r="1.9"/><circle cx="849.6" cy="475.6" r="1.9"/><circle cx="851.4" cy="449.4" r="1.9"/><circle cx="854.0" cy="469.9" r="1.9"/></g>
<g class="c2"><circle cx="902.5" cy="496.5" r="1.9"/><circle cx="889.9" cy="506.6" r="1.9"/><circle cx="901.3" cy="491.9" r="1.9"/><circle cx="879.2" cy="510.4" r="1.9"/><circle cx="882.2" cy="495.2" r="1.9"/><circle cx="957.3" cy="473.9" r="1.9"/></g>
<g class="c52"><circle cx="876.3" cy="431.7" r="1.9"/><circle cx="929.1" cy="469.6" r="1.9"/><circle cx="896.9" cy="473.6" r="1.9"/><circle cx="888.9" cy="466.5" r="1.9"/><circle cx="892.5" cy="484.9" r="1.9"/><circle cx="916.1" cy="464.4" r="1.9"/></g>
<g class="c2"><circle cx="860.6" cy="504.4" r="1.9"/><circle cx="880.8" cy="491.3" r="1.9"/><circle cx="869.4" cy="501.1" r="1.9"/><circle cx="881.6" cy="491.7" r="1.9"/><circle cx="890.0" cy="492.9" r="1.9"/><circle cx="879.1" cy="486.3" r="1.9"/></g>
<g class="c38"><circle cx="814.9" cy="502.3" r="1.9"/><circle cx="844.6" cy="510.9" r="1.9"/><circle cx="822.5" cy="484.0" r="1.9"/><circle cx="818.5" cy="466.8" r="1.9"/><circle cx="833.6" cy="480.0" r="1.9"/><circle cx="827.8" cy="494.4" r="1.9"/></g>
<g class="c26"><circle cx="830.1" cy="437.3" r="1.9"/><circle cx="800.1" cy="443.6" r="1.9"/><circle cx="804.0" cy="473.0" r="1.9"/><circle cx="835.8" cy="453.1" r="1.9"/><circle cx="842.1" cy="449.5" r="1.9"/><circle cx="843.2" cy="467.7" r="1.9"/></g>
<g class="c26"><circle cx="829.8" cy="468.6" r="1.9"/><circle cx="844.6" cy="436.2" r="1.9"/><circle cx="860.9" cy="447.6" r="1.9"/><circle cx="852.2" cy="418.7" r="1.9"/><circle cx="884.0" cy="441.3" r="1.9"/><circle cx="848.2" cy="471.5" r="1.9"/></g>
<g class="c52"><circle cx="944.1" cy="440.9" r="1.9"/><circle cx="895.0" cy="459.5" r="1.9"/><circle cx="919.1" cy="477.7" r="1.9"/><circle cx="874.5" cy="445.1" r="1.9"/><circle cx="924.4" cy="461.5" r="1.9"/><circle cx="912.2" cy="462.8" r="1.9"/></g>
<g class="c52"><circle cx="885.8" cy="461.9" r="1.9"/><circle cx="921.1" cy="472.9" r="1.9"/><circle cx="911.9" cy="446.6" r="1.9"/><circle cx="910.3" cy="451.8" r="1.9"/><circle cx="957.8" cy="497.0" r="1.9"/><circle cx="897.6" cy="464.2" r="1.9"/></g>
<g class="c38"><circle cx="781.1" cy="478.4" r="1.9"/><circle cx="783.9" cy="471.5" r="1.9"/><circle cx="780.9" cy="509.8" r="1.9"/><circle cx="802.1" cy="514.8" r="1.9"/><circle cx="805.1" cy="480.9" r="1.9"/><circle cx="814.3" cy="503.9" r="1.9"/></g>
<g class="c52"><circle cx="894.6" cy="462.1" r="1.9"/><circle cx="877.1" cy="484.0" r="1.9"/><circle cx="928.2" cy="438.8" r="1.9"/><circle cx="919.7" cy="464.5" r="1.9"/><circle cx="897.1" cy="484.6" r="1.9"/><circle cx="893.8" cy="425.6" r="1.9"/></g>
<g class="c52"><circle cx="902.4" cy="431.2" r="1.9"/><circle cx="877.5" cy="464.9" r="1.9"/><circle cx="936.1" cy="447.0" r="1.9"/><circle cx="889.1" cy="460.4" r="1.9"/><circle cx="878.2" cy="469.7" r="1.9"/><circle cx="893.4" cy="467.2" r="1.9"/></g>
<g class="c52"><circle cx="906.6" cy="483.7" r="1.9"/><circle cx="902.7" cy="477.5" r="1.9"/><circle cx="900.7" cy="491.1" r="1.9"/><circle cx="872.9" cy="481.2" r="1.9"/><circle cx="893.3" cy="486.2" r="1.9"/><circle cx="863.2" cy="455.8" r="1.9"/></g>
<g class="c2"><circle cx="871.3" cy="514.3" r="1.9"/><circle cx="869.0" cy="480.5" r="1.9"/><circle cx="864.9" cy="493.7" r="1.9"/><circle cx="863.3" cy="510.5" r="1.9"/><circle cx="901.3" cy="509.8" r="1.9"/><circle cx="865.3" cy="505.1" r="1.9"/></g>
<g class="c38"><circle cx="818.0" cy="504.5" r="1.9"/><circle cx="814.4" cy="479.0" r="1.9"/><circle cx="837.5" cy="509.2" r="1.9"/><circle cx="810.7" cy="515.9" r="1.9"/><circle cx="827.5" cy="498.4" r="1.9"/><circle cx="853.7" cy="496.0" r="1.9"/></g>
<g class="c38"><circle cx="812.3" cy="483.9" r="1.9"/><circle cx="767.9" cy="489.4" r="1.9"/><circle cx="844.0" cy="485.3" r="1.9"/><circle cx="824.6" cy="471.1" r="1.9"/><circle cx="782.5" cy="477.0" r="1.9"/><circle cx="832.3" cy="485.5" r="1.9"/></g>
<g class="c2"><circle cx="893.4" cy="503.8" r="1.9"/><circle cx="851.4" cy="495.6" r="1.9"/><circle cx="873.4" cy="449.5" r="1.9"/><circle cx="915.2" cy="495.7" r="1.9"/><circle cx="887.8" cy="494.6" r="1.9"/><circle cx="884.7" cy="486.1" r="1.9"/></g>
<g class="c26"><circle cx="873.7" cy="468.2" r="1.9"/><circle cx="838.5" cy="456.8" r="1.9"/><circle cx="855.1" cy="456.2" r="1.9"/><circle cx="827.8" cy="471.6" r="1.9"/><circle cx="864.8" cy="439.9" r="1.9"/><circle cx="811.7" cy="458.9" r="1.9"/></g>
<g class="c38"><circle cx="794.4" cy="470.1" r="1.9"/><circle cx="787.4" cy="505.5" r="1.9"/><circle cx="834.6" cy="519.3" r="1.9"/><circle cx="819.2" cy="501.1" r="1.9"/><circle cx="810.1" cy="505.6" r="1.9"/><circle cx="814.7" cy="484.5" r="1.9"/></g>
<g class="c52"><circle cx="894.8" cy="476.9" r="1.9"/><circle cx="895.5" cy="417.0" r="1.9"/><circle cx="905.5" cy="429.9" r="1.9"/><circle cx="923.6" cy="461.2" r="1.9"/><circle cx="934.2" cy="463.8" r="1.9"/><circle cx="915.5" cy="463.6" r="1.9"/></g>
<g class="c2"><circle cx="857.7" cy="506.8" r="1.9"/><circle cx="874.0" cy="485.7" r="1.9"/><circle cx="865.3" cy="509.1" r="1.9"/><circle cx="847.1" cy="511.3" r="1.9"/><circle cx="855.8" cy="505.9" r="1.9"/><circle cx="862.1" cy="502.3" r="1.9"/></g>
<g class="c2"><circle cx="863.2" cy="500.3" r="1.9"/><circle cx="856.8" cy="489.6" r="1.9"/><circle cx="884.1" cy="507.6" r="1.9"/><circle cx="851.3" cy="506.8" r="1.9"/><circle cx="861.8" cy="498.1" r="1.9"/><circle cx="851.6" cy="474.8" r="1.9"/></g>
<g class="c26"><circle cx="838.6" cy="465.2" r="1.9"/><circle cx="839.7" cy="439.9" r="1.9"/><circle cx="817.3" cy="444.7" r="1.9"/><circle cx="854.2" cy="453.9" r="1.9"/><circle cx="831.9" cy="466.7" r="1.9"/><circle cx="838.3" cy="451.4" r="1.9"/></g>
<g class="c38"><circle cx="839.3" cy="497.3" r="1.9"/><circle cx="780.0" cy="486.0" r="1.9"/><circle cx="815.1" cy="494.3" r="1.9"/><circle cx="786.8" cy="488.2" r="1.9"/><circle cx="827.7" cy="493.5" r="1.9"/><circle cx="842.2" cy="495.7" r="1.9"/></g>
<g class="c2"><circle cx="885.4" cy="500.4" r="1.9"/><circle cx="869.2" cy="510.9" r="1.9"/><circle cx="873.9" cy="490.2" r="1.9"/><circle cx="868.0" cy="471.1" r="1.9"/><circle cx="874.3" cy="491.1" r="1.9"/><circle cx="861.2" cy="492.5" r="1.9"/></g>
<g class="c38"><circle cx="817.1" cy="490.7" r="1.9"/><circle cx="817.8" cy="511.6" r="1.9"/><circle cx="823.5" cy="491.5" r="1.9"/><circle cx="809.3" cy="491.2" r="1.9"/><circle cx="826.2" cy="503.0" r="1.9"/><circle cx="820.0" cy="516.4" r="1.9"/></g>
<g class="c26"><circle cx="830.2" cy="466.2" r="1.9"/><circle cx="835.0" cy="460.9" r="1.9"/><circle cx="816.1" cy="438.4" r="1.9"/><circle cx="829.5" cy="461.9" r="1.9"/><circle cx="822.6" cy="443.5" r="1.9"/><circle cx="801.8" cy="432.0" r="1.9"/></g>
<g class="c2"><circle cx="846.8" cy="485.4" r="1.9"/><circle cx="857.1" cy="521.9" r="1.9"/><circle cx="879.6" cy="494.4" r="1.9"/><circle cx="868.7" cy="486.8" r="1.9"/><circle cx="854.3" cy="514.4" r="1.9"/><circle cx="863.0" cy="489.4" r="1.9"/></g>
<g class="c2"><circle cx="884.7" cy="513.7" r="1.9"/><circle cx="862.8" cy="492.3" r="1.9"/><circle cx="863.3" cy="459.8" r="1.9"/><circle cx="849.9" cy="503.5" r="1.9"/><circle cx="854.4" cy="494.8" r="1.9"/><circle cx="864.1" cy="519.0" r="1.9"/></g>
<g class="c38"><circle cx="854.4" cy="480.1" r="1.9"/><circle cx="830.2" cy="470.1" r="1.9"/><circle cx="805.7" cy="510.4" r="1.9"/><circle cx="797.9" cy="490.8" r="1.9"/><circle cx="852.7" cy="488.9" r="1.9"/><circle cx="822.1" cy="504.5" r="1.9"/></g>
<g class="c26"><circle cx="810.4" cy="466.1" r="1.9"/><circle cx="857.9" cy="424.0" r="1.9"/><circle cx="845.9" cy="443.4" r="1.9"/><circle cx="842.1" cy="437.3" r="1.9"/><circle cx="858.2" cy="425.7" r="1.9"/><circle cx="863.7" cy="448.2" r="1.9"/></g>
<g class="c26"><circle cx="858.4" cy="452.8" r="1.9"/><circle cx="855.9" cy="480.0" r="1.9"/><circle cx="866.7" cy="434.3" r="1.9"/><circle cx="842.0" cy="442.9" r="1.9"/><circle cx="853.3" cy="453.9" r="1.9"/><circle cx="852.6" cy="465.8" r="1.9"/></g>
<g class="c2"><circle cx="863.7" cy="505.4" r="1.9"/><circle cx="893.3" cy="491.7" r="1.9"/><circle cx="881.9" cy="514.6" r="1.9"/><circle cx="864.4" cy="486.4" r="1.9"/><circle cx="853.5" cy="498.1" r="1.9"/><circle cx="903.6" cy="511.8" r="1.9"/></g>
<g class="c38"><circle cx="790.3" cy="483.3" r="1.9"/><circle cx="832.6" cy="479.0" r="1.9"/><circle cx="831.9" cy="506.3" r="1.9"/><circle cx="840.1" cy="513.2" r="1.9"/><circle cx="828.7" cy="497.4" r="1.9"/><circle cx="800.9" cy="491.4" r="1.9"/></g>
<g class="c38"><circle cx="807.9" cy="479.5" r="1.9"/><circle cx="817.5" cy="477.4" r="1.9"/><circle cx="778.3" cy="465.3" r="1.9"/><circle cx="812.2" cy="467.8" r="1.9"/><circle cx="809.5" cy="485.9" r="1.9"/><circle cx="844.4" cy="497.9" r="1.9"/></g>
<g class="c26"><circle cx="847.3" cy="440.6" r="1.9"/><circle cx="862.5" cy="430.0" r="1.9"/><circle cx="819.3" cy="444.5" r="1.9"/></g>
<g class="c26"><circle cx="876.7" cy="449.7" r="1.9"/><circle cx="853.1" cy="446.7" r="1.9"/><circle cx="866.0" cy="445.2" r="1.9"/><circle cx="833.5" cy="427.0" r="1.9"/><circle cx="869.2" cy="440.3" r="1.9"/><circle cx="867.4" cy="443.1" r="1.9"/></g>
<g class="c38"><circle cx="789.5" cy="505.6" r="1.9"/><circle cx="826.2" cy="476.9" r="1.9"/><circle cx="808.8" cy="510.5" r="1.9"/><circle cx="824.2" cy="466.1" r="1.9"/><circle cx="822.1" cy="485.2" r="1.9"/><circle cx="829.9" cy="496.7" r="1.9"/></g>
<g class="c2"><circle cx="888.7" cy="498.8" r="1.9"/><circle cx="892.6" cy="515.7" r="1.9"/><circle cx="911.2" cy="509.7" r="1.9"/><circle cx="886.5" cy="489.0" r="1.9"/><circle cx="897.1" cy="487.2" r="1.9"/><circle cx="903.2" cy="502.7" r="1.9"/></g>
<g class="c52"><circle cx="922.5" cy="417.2" r="1.9"/><circle cx="956.5" cy="469.3" r="1.9"/><circle cx="910.8" cy="465.6" r="1.9"/><circle cx="931.0" cy="481.7" r="1.9"/><circle cx="935.2" cy="463.2" r="1.9"/><circle cx="932.5" cy="448.8" r="1.9"/></g>
<g class="c26"><circle cx="859.8" cy="456.5" r="1.9"/><circle cx="847.6" cy="448.3" r="1.9"/><circle cx="841.2" cy="451.8" r="1.9"/><circle cx="822.5" cy="438.8" r="1.9"/><circle cx="767.6" cy="483.3" r="1.9"/><circle cx="848.8" cy="444.4" r="1.9"/></g>
<g class="c52"><circle cx="940.0" cy="485.4" r="1.9"/><circle cx="888.8" cy="429.3" r="1.9"/><circle cx="925.3" cy="485.9" r="1.9"/><circle cx="902.7" cy="467.5" r="1.9"/><circle cx="896.5" cy="447.2" r="1.9"/><circle cx="937.3" cy="432.8" r="1.9"/></g>
<g class="c52"><circle cx="864.0" cy="467.7" r="1.9"/><circle cx="949.5" cy="475.8" r="1.9"/><circle cx="922.4" cy="442.4" r="1.9"/><circle cx="931.8" cy="474.6" r="1.9"/><circle cx="857.7" cy="459.0" r="1.9"/><circle cx="886.1" cy="460.5" r="1.9"/></g>
<g class="c38"><circle cx="848.3" cy="506.1" r="1.9"/><circle cx="845.8" cy="496.8" r="1.9"/><circle cx="838.6" cy="470.2" r="1.9"/></g>
<g class="c38"><circle cx="849.2" cy="465.5" r="1.9"/><circle cx="842.9" cy="486.8" r="1.9"/><circle cx="842.8" cy="481.4" r="1.9"/><circle cx="848.5" cy="478.3" r="1.9"/><circle cx="832.0" cy="469.8" r="1.9"/><circle cx="841.9" cy="490.4" r="1.9"/></g>
<g class="c2"><circle cx="867.0" cy="490.4" r="1.9"/><circle cx="868.4" cy="498.7" r="1.9"/><circle cx="866.7" cy="516.9" r="1.9"/><circle cx="894.7" cy="507.9" r="1.9"/><circle cx="881.4" cy="493.3" r="1.9"/><circle cx="886.1" cy="499.2" r="1.9"/></g>
<g class="c52"><circle cx="896.7" cy="440.3" r="1.9"/><circle cx="906.9" cy="428.9" r="1.9"/><circle cx="887.0" cy="454.8" r="1.9"/><circle cx="941.1" cy="456.0" r="1.9"/><circle cx="898.7" cy="464.0" r="1.9"/><circle cx="929.2" cy="470.5" r="1.9"/></g>
<g class="c52"><circle cx="893.1" cy="475.2" r="1.9"/><circle cx="893.7" cy="484.7" r="1.9"/><circle cx="898.4" cy="481.3" r="1.9"/><circle cx="878.4" cy="469.2" r="1.9"/><circle cx="908.4" cy="434.2" r="1.9"/><circle cx="867.0" cy="448.5" r="1.9"/></g>
<g class="c26"><circle cx="792.4" cy="461.4" r="1.9"/><circle cx="800.1" cy="441.3" r="1.9"/><circle cx="833.8" cy="440.2" r="1.9"/><circle cx="863.8" cy="441.6" r="1.9"/><circle cx="849.4" cy="428.1" r="1.9"/><circle cx="862.2" cy="454.7" r="1.9"/></g>
<g class="c26"><circle cx="826.9" cy="451.1" r="1.9"/><circle cx="825.6" cy="462.6" r="1.9"/><circle cx="826.3" cy="443.0" r="1.9"/><circle cx="838.5" cy="446.2" r="1.9"/><circle cx="807.8" cy="469.6" r="1.9"/><circle cx="785.0" cy="443.3" r="1.9"/></g>
<g class="c26"><circle cx="847.7" cy="429.9" r="1.9"/><circle cx="823.6" cy="451.4" r="1.9"/><circle cx="826.8" cy="461.6" r="1.9"/><circle cx="817.7" cy="441.0" r="1.9"/><circle cx="804.1" cy="454.2" r="1.9"/><circle cx="818.6" cy="442.6" r="1.9"/></g>
<g class="c26"><circle cx="826.8" cy="446.7" r="1.9"/><circle cx="802.0" cy="437.2" r="1.9"/><circle cx="844.6" cy="456.1" r="1.9"/><circle cx="802.8" cy="439.9" r="1.9"/><circle cx="834.7" cy="450.2" r="1.9"/><circle cx="797.8" cy="459.0" r="1.9"/></g>
<g class="c38"><circle cx="824.3" cy="508.6" r="1.9"/><circle cx="803.2" cy="447.2" r="1.9"/><circle cx="767.5" cy="484.8" r="1.9"/><circle cx="818.8" cy="477.2" r="1.9"/><circle cx="809.3" cy="490.1" r="1.9"/><circle cx="834.0" cy="472.1" r="1.9"/></g>
<g class="c2"><circle cx="899.0" cy="510.6" r="1.9"/><circle cx="872.0" cy="502.4" r="1.9"/><circle cx="889.3" cy="503.8" r="1.9"/><circle cx="903.8" cy="499.0" r="1.9"/><circle cx="875.6" cy="496.3" r="1.9"/><circle cx="907.1" cy="512.0" r="1.9"/></g>
<g class="c52"><circle cx="899.7" cy="477.8" r="1.9"/><circle cx="879.1" cy="448.0" r="1.9"/><circle cx="873.9" cy="455.1" r="1.9"/><circle cx="915.3" cy="485.9" r="1.9"/><circle cx="893.8" cy="460.3" r="1.9"/><circle cx="886.2" cy="445.9" r="1.9"/></g>
<g class="c2"><circle cx="866.9" cy="485.6" r="1.9"/><circle cx="854.0" cy="493.9" r="1.9"/><circle cx="869.4" cy="498.5" r="1.9"/><circle cx="877.3" cy="500.7" r="1.9"/><circle cx="882.6" cy="516.5" r="1.9"/><circle cx="890.2" cy="512.0" r="1.9"/></g>
<g class="c2"><circle cx="871.6" cy="483.1" r="1.9"/><circle cx="867.8" cy="465.8" r="1.9"/><circle cx="879.2" cy="486.2" r="1.9"/><circle cx="858.3" cy="485.9" r="1.9"/><circle cx="868.5" cy="487.5" r="1.9"/><circle cx="860.0" cy="502.4" r="1.9"/></g>
<polygon points="837.4,447.1 838.3,449.7 841.0,449.7 838.9,451.4 839.6,453.9 837.4,452.4 835.2,453.9 836.0,451.4 833.9,449.7 836.6,449.7" fill="#a6cee3" fill-opacity=".85" stroke="#262626" stroke-width=".8"/>
<polygon points="823.7,490.0 824.5,492.6 827.2,492.6 825.1,494.2 825.9,496.8 823.7,495.3 821.5,496.8 822.2,494.2 820.1,492.6 822.8,492.6" fill="#f79cab" fill-opacity=".85" stroke="#262626" stroke-width=".8"/>
<polygon points="894.8,462.2 895.7,464.8 898.3,464.8 896.2,466.5 897.0,469.0 894.8,467.5 892.6,469.0 893.4,466.5 891.2,464.8 893.9,464.8" fill="#6d371b" fill-opacity=".85" stroke="#262626" stroke-width=".8"/>
<polygon points="874.3,494.9 875.2,497.5 877.9,497.5 875.8,499.1 876.5,501.7 874.3,500.2 872.1,501.7 872.9,499.1 870.8,497.5 873.5,497.5" fill="#c9b1d6" fill-opacity=".85" stroke="#262626" stroke-width=".8"/>
<rect x="993.3" y="403.3" width="197.0" height="146.2" fill="#fff" stroke="#929292" stroke-width="1.15"/>
<g class="c13"><circle cx="1178.7" cy="488.9" r="1.9"/><circle cx="1138.2" cy="479.2" r="1.9"/><circle cx="1132.6" cy="480.1" r="1.9"/><circle cx="1136.2" cy="479.9" r="1.9"/><circle cx="1148.9" cy="483.5" r="1.9"/><circle cx="1140.1" cy="492.9" r="1.9"/></g>
<g class="c19"><circle cx="1138.5" cy="448.9" r="1.9"/><circle cx="1131.1" cy="444.2" r="1.9"/><circle cx="1091.2" cy="434.0" r="1.9"/><circle cx="1115.3" cy="463.7" r="1.9"/><circle cx="1119.2" cy="440.1" r="1.9"/><circle cx="1099.0" cy="437.7" r="1.9"/></g>
<g class="c27"><circle cx="1025.7" cy="487.7" r="1.9"/><circle cx="1054.5" cy="472.8" r="1.9"/><circle cx="1062.5" cy="479.6" r="1.9"/><circle cx="1047.4" cy="448.9" r="1.9"/><circle cx="1057.0" cy="475.7" r="1.9"/><circle cx="1042.5" cy="484.1" r="1.9"/></g>
<g class="c8"><circle cx="1022.3" cy="466.8" r="1.9"/><circle cx="1048.6" cy="463.1" r="1.9"/><circle cx="1040.9" cy="447.0" r="1.9"/><circle cx="1031.9" cy="453.2" r="1.9"/><circle cx="1055.2" cy="468.1" r="1.9"/><circle cx="1045.9" cy="480.7" r="1.9"/></g>
<g class="c27"><circle cx="1062.1" cy="504.5" r="1.9"/><circle cx="1051.2" cy="479.0" r="1.9"/><circle cx="1038.0" cy="496.2" r="1.9"/><circle cx="1041.5" cy="473.4" r="1.9"/><circle cx="1009.5" cy="492.8" r="1.9"/><circle cx="1059.5" cy="512.8" r="1.9"/></g>
<g class="c29"><circle cx="1079.3" cy="461.4" r="1.9"/><circle cx="1074.9" cy="475.6" r="1.9"/><circle cx="1096.4" cy="446.6" r="1.9"/><circle cx="1095.8" cy="471.2" r="1.9"/><circle cx="1092.5" cy="455.5" r="1.9"/><circle cx="1092.3" cy="469.5" r="1.9"/></g>
<g class="c19"><circle cx="1112.2" cy="462.6" r="1.9"/><circle cx="1125.0" cy="439.1" r="1.9"/><circle cx="1132.9" cy="473.6" r="1.9"/><circle cx="1101.3" cy="457.2" r="1.9"/><circle cx="1116.1" cy="451.6" r="1.9"/><circle cx="1136.0" cy="445.9" r="1.9"/></g>
<g class="c19"><circle cx="1095.4" cy="460.0" r="1.9"/><circle cx="1119.9" cy="442.8" r="1.9"/><circle cx="1158.7" cy="453.1" r="1.9"/><circle cx="1121.5" cy="457.5" r="1.9"/><circle cx="1125.9" cy="440.0" r="1.9"/><circle cx="1131.5" cy="445.8" r="1.9"/></g>
<g class="c19"><circle cx="1123.3" cy="439.3" r="1.9"/><circle cx="1140.6" cy="468.9" r="1.9"/><circle cx="1095.8" cy="450.0" r="1.9"/><circle cx="1163.7" cy="452.0" r="1.9"/><circle cx="1106.3" cy="450.8" r="1.9"/><circle cx="1123.0" cy="454.8" r="1.9"/></g>
<g class="c8"><circle cx="1021.4" cy="460.2" r="1.9"/><circle cx="1070.9" cy="461.1" r="1.9"/><circle cx="1035.9" cy="475.6" r="1.9"/><circle cx="1067.3" cy="469.8" r="1.9"/><circle cx="1056.9" cy="487.3" r="1.9"/><circle cx="1039.1" cy="451.0" r="1.9"/></g>
<g class="c19"><circle cx="1119.2" cy="448.7" r="1.9"/><circle cx="1138.6" cy="465.4" r="1.9"/><circle cx="1129.9" cy="444.1" r="1.9"/><circle cx="1080.4" cy="433.8" r="1.9"/><circle cx="1142.5" cy="442.6" r="1.9"/><circle cx="1135.9" cy="464.4" r="1.9"/></g>
<g class="c8"><circle cx="1065.3" cy="463.7" r="1.9"/><circle cx="1057.0" cy="435.7" r="1.9"/><circle cx="1080.9" cy="436.0" r="1.9"/><circle cx="1060.8" cy="472.6" r="1.9"/><circle cx="1034.4" cy="485.7" r="1.9"/><circle cx="1064.0" cy="451.1" r="1.9"/></g>
<g class="c27"><circle cx="1033.3" cy="475.4" r="1.9"/><circle cx="1036.6" cy="495.7" r="1.9"/><circle cx="1074.3" cy="519.6" r="1.9"/><circle cx="1019.9" cy="482.8" r="1.9"/><circle cx="1036.9" cy="471.7" r="1.9"/><circle cx="1026.9" cy="488.8" r="1.9"/></g>
<g class="c29"><circle cx="1065.9" cy="433.8" r="1.9"/><circle cx="1075.0" cy="470.3" r="1.9"/><circle cx="1089.8" cy="473.1" r="1.9"/><circle cx="1098.8" cy="467.4" r="1.9"/><circle cx="1087.8" cy="473.0" r="1.9"/><circle cx="1097.0" cy="456.8" r="1.9"/></g>
<g class="c27"><circle cx="1003.2" cy="501.2" r="1.9"/><circle cx="1016.6" cy="506.5" r="1.9"/><circle cx="1029.4" cy="499.2" r="1.9"/><circle cx="1014.6" cy="492.6" r="1.9"/><circle cx="1039.1" cy="499.3" r="1.9"/><circle cx="1006.8" cy="504.7" r="1.9"/></g>
<g class="c27"><circle cx="1051.3" cy="507.6" r="1.9"/><circle cx="1037.1" cy="509.5" r="1.9"/><circle cx="1035.0" cy="496.5" r="1.9"/><circle cx="1026.9" cy="502.4" r="1.9"/><circle cx="1062.9" cy="531.1" r="1.9"/></g>
<g class="c13"><circle cx="1144.4" cy="496.5" r="1.9"/><circle cx="1155.5" cy="504.4" r="1.9"/><circle cx="1119.5" cy="474.9" r="1.9"/><circle cx="1136.3" cy="471.0" r="1.9"/><circle cx="1118.6" cy="468.0" r="1.9"/><circle cx="1158.3" cy="475.6" r="1.9"/></g>
<g class="c8"><circle cx="1069.3" cy="456.1" r="1.9"/><circle cx="1050.3" cy="446.5" r="1.9"/><circle cx="1052.4" cy="465.5" r="1.9"/><circle cx="1040.4" cy="480.7" r="1.9"/><circle cx="1046.3" cy="443.1" r="1.9"/><circle cx="1059.9" cy="464.5" r="1.9"/></g>
<g class="c19"><circle cx="1155.1" cy="438.0" r="1.9"/><circle cx="1143.3" cy="433.9" r="1.9"/><circle cx="1138.7" cy="454.2" r="1.9"/><circle cx="1104.1" cy="428.0" r="1.9"/><circle cx="1107.3" cy="427.1" r="1.9"/><circle cx="1154.4" cy="452.2" r="1.9"/></g>
<g class="c8"><circle cx="1045.1" cy="476.8" r="1.9"/><circle cx="1065.6" cy="456.2" r="1.9"/><circle cx="1043.3" cy="464.4" r="1.9"/><circle cx="1052.7" cy="464.5" r="1.9"/><circle cx="1070.6" cy="461.3" r="1.9"/><circle cx="1051.6" cy="443.4" r="1.9"/></g>
<g class="c19"><circle cx="1141.0" cy="452.5" r="1.9"/><circle cx="1160.7" cy="458.1" r="1.9"/><circle cx="1127.0" cy="464.9" r="1.9"/><circle cx="1101.2" cy="447.1" r="1.9"/><circle cx="1107.1" cy="434.8" r="1.9"/><circle cx="1137.5" cy="455.8" r="1.9"/></g>
<g class="c8"><circle cx="1053.0" cy="449.6" r="1.9"/><circle cx="1073.2" cy="433.7" r="1.9"/><circle cx="1029.2" cy="464.5" r="1.9"/><circle cx="1075.8" cy="450.7" r="1.9"/><circle cx="1040.5" cy="459.3" r="1.9"/><circle cx="1066.8" cy="444.2" r="1.9"/></g>
<g class="c19"><circle cx="1157.3" cy="454.1" r="1.9"/><circle cx="1135.1" cy="448.2" r="1.9"/><circle cx="1130.3" cy="438.3" r="1.9"/><circle cx="1121.8" cy="460.8" r="1.9"/><circle cx="1112.2" cy="432.5" r="1.9"/><circle cx="1126.8" cy="468.3" r="1.9"/></g>
<g class="c54"><circle cx="1111.4" cy="487.7" r="1.9"/><circle cx="1082.8" cy="505.1" r="1.9"/><circle cx="1084.0" cy="507.5" r="1.9"/><circle cx="1083.8" cy="498.8" r="1.9"/><circle cx="1123.8" cy="495.9" r="1.9"/><circle cx="1111.8" cy="501.5" r="1.9"/></g>
<g class="c29"><circle cx="1079.5" cy="468.3" r="1.9"/><circle cx="1103.0" cy="451.5" r="1.9"/><circle cx="1098.4" cy="473.9" r="1.9"/><circle cx="1084.8" cy="457.1" r="1.9"/><circle cx="1085.8" cy="446.7" r="1.9"/><circle cx="1092.1" cy="465.8" r="1.9"/></g>
<g class="c8"><circle cx="1065.3" cy="446.6" r="1.9"/><circle cx="1049.6" cy="460.6" r="1.9"/><circle cx="1060.6" cy="447.0" r="1.9"/><circle cx="1051.6" cy="468.5" r="1.9"/><circle cx="1026.0" cy="461.4" r="1.9"/><circle cx="1035.8" cy="465.1" r="1.9"/></g>
<g class="c13"><circle cx="1130.4" cy="466.8" r="1.9"/><circle cx="1119.9" cy="492.6" r="1.9"/><circle cx="1121.7" cy="477.9" r="1.9"/><circle cx="1155.0" cy="466.7" r="1.9"/><circle cx="1157.1" cy="463.2" r="1.9"/><circle cx="1167.9" cy="453.0" r="1.9"/></g>
<g class="c8"><circle cx="1068.7" cy="472.4" r="1.9"/><circle cx="1067.4" cy="464.2" r="1.9"/><circle cx="1063.7" cy="448.6" r="1.9"/><circle cx="1063.2" cy="452.0" r="1.9"/><circle cx="1071.9" cy="481.5" r="1.9"/><circle cx="1022.5" cy="477.9" r="1.9"/></g>
<g class="c8"><circle cx="1029.8" cy="452.3" r="1.9"/><circle cx="1066.2" cy="452.2" r="1.9"/><circle cx="1077.6" cy="482.7" r="1.9"/><circle cx="1065.7" cy="468.4" r="1.9"/><circle cx="1052.9" cy="454.1" r="1.9"/><circle cx="1069.5" cy="474.8" r="1.9"/></g>
<g class="c54"><circle cx="1086.5" cy="527.1" r="1.9"/><circle cx="1128.8" cy="507.0" r="1.9"/><circle cx="1080.0" cy="529.0" r="1.9"/><circle cx="1110.7" cy="499.1" r="1.9"/><circle cx="1084.8" cy="519.1" r="1.9"/><circle cx="1146.2" cy="512.6" r="1.9"/></g>
<g class="c29"><circle cx="1069.0" cy="473.0" r="1.9"/><circle cx="1084.8" cy="433.1" r="1.9"/><circle cx="1094.3" cy="444.2" r="1.9"/><circle cx="1095.8" cy="454.3" r="1.9"/><circle cx="1072.8" cy="486.5" r="1.9"/><circle cx="1080.2" cy="448.4" r="1.9"/></g>
<g class="c8"><circle cx="1059.1" cy="447.0" r="1.9"/><circle cx="1066.3" cy="466.9" r="1.9"/><circle cx="1055.1" cy="462.9" r="1.9"/><circle cx="1042.8" cy="464.9" r="1.9"/><circle cx="1036.7" cy="462.9" r="1.9"/><circle cx="1068.2" cy="451.1" r="1.9"/></g>
<g class="c19"><circle cx="1151.7" cy="435.7" r="1.9"/><circle cx="1116.4" cy="451.1" r="1.9"/><circle cx="1153.1" cy="453.0" r="1.9"/><circle cx="1167.8" cy="442.8" r="1.9"/><circle cx="1154.0" cy="432.9" r="1.9"/><circle cx="1146.8" cy="463.0" r="1.9"/></g>
<g class="c13"><circle cx="1169.5" cy="475.5" r="1.9"/><circle cx="1148.4" cy="499.7" r="1.9"/><circle cx="1128.8" cy="494.4" r="1.9"/><circle cx="1166.0" cy="480.7" r="1.9"/><circle cx="1149.6" cy="493.7" r="1.9"/><circle cx="1149.5" cy="475.5" r="1.9"/></g>
<g class="c8"><circle cx="1075.7" cy="474.5" r="1.9"/><circle cx="1066.7" cy="467.8" r="1.9"/><circle cx="1017.7" cy="462.9" r="1.9"/><circle cx="1068.9" cy="480.3" r="1.9"/><circle cx="1067.3" cy="469.7" r="1.9"/><circle cx="1060.9" cy="475.9" r="1.9"/></g>
<g class="c13"><circle cx="1132.8" cy="487.0" r="1.9"/><circle cx="1136.8" cy="487.7" r="1.9"/><circle cx="1145.8" cy="479.7" r="1.9"/><circle cx="1158.1" cy="484.2" r="1.9"/><circle cx="1121.4" cy="483.7" r="1.9"/><circle cx="1155.6" cy="481.2" r="1.9"/></g>
<g class="c54"><circle cx="1112.1" cy="524.2" r="1.9"/><circle cx="1115.2" cy="519.3" r="1.9"/><circle cx="1108.4" cy="522.7" r="1.9"/><circle cx="1096.4" cy="503.8" r="1.9"/><circle cx="1118.7" cy="510.8" r="1.9"/><circle cx="1112.1" cy="519.0" r="1.9"/></g>
<g class="c29"><circle cx="1093.6" cy="438.0" r="1.9"/><circle cx="1093.2" cy="470.9" r="1.9"/><circle cx="1097.3" cy="447.4" r="1.9"/><circle cx="1067.5" cy="453.3" r="1.9"/><circle cx="1090.8" cy="462.0" r="1.9"/><circle cx="1089.9" cy="470.9" r="1.9"/></g>
<g class="c19"><circle cx="1161.4" cy="462.5" r="1.9"/></g>
<g class="c19"><circle cx="1127.4" cy="445.8" r="1.9"/><circle cx="1111.2" cy="470.2" r="1.9"/><circle cx="1119.1" cy="445.0" r="1.9"/><circle cx="1133.3" cy="465.3" r="1.9"/><circle cx="1093.1" cy="443.6" r="1.9"/><circle cx="1141.8" cy="459.2" r="1.9"/></g>
<g class="c19"><circle cx="1155.3" cy="460.2" r="1.9"/><circle cx="1152.5" cy="454.2" r="1.9"/><circle cx="1141.3" cy="434.8" r="1.9"/><circle cx="1121.4" cy="442.2" r="1.9"/><circle cx="1096.2" cy="435.9" r="1.9"/><circle cx="1171.3" cy="436.5" r="1.9"/></g>
<g class="c13"><circle cx="1168.7" cy="487.8" r="1.9"/><circle cx="1167.4" cy="491.2" r="1.9"/><circle cx="1139.0" cy="502.3" r="1.9"/><circle cx="1152.3" cy="484.7" r="1.9"/><circle cx="1129.3" cy="493.9" r="1.9"/><circle cx="1178.9" cy="498.6" r="1.9"/></g>
<g class="c19"><circle cx="1116.8" cy="443.5" r="1.9"/><circle cx="1109.7" cy="447.2" r="1.9"/><circle cx="1110.7" cy="458.8" r="1.9"/><circle cx="1098.5" cy="440.0" r="1.9"/><circle cx="1146.1" cy="461.0" r="1.9"/><circle cx="1116.9" cy="437.7" r="1.9"/></g>
<g class="c13"><circle cx="1157.3" cy="486.7" r="1.9"/><circle cx="1147.5" cy="478.1" r="1.9"/><circle cx="1147.2" cy="499.3" r="1.9"/><circle cx="1126.0" cy="485.2" r="1.9"/><circle cx="1153.1" cy="480.4" r="1.9"/><circle cx="1136.0" cy="489.7" r="1.9"/></g>
<g class="c8"><circle cx="1050.3" cy="451.6" r="1.9"/><circle cx="1053.8" cy="464.8" r="1.9"/><circle cx="1046.9" cy="445.1" r="1.9"/><circle cx="1036.1" cy="460.8" r="1.9"/><circle cx="1032.3" cy="461.4" r="1.9"/><circle cx="1070.2" cy="449.6" r="1.9"/></g>
<g class="c8"><circle cx="1055.2" cy="446.1" r="1.9"/><circle cx="1064.0" cy="466.7" r="1.9"/><circle cx="1039.1" cy="457.5" r="1.9"/><circle cx="1060.4" cy="468.8" r="1.9"/><circle cx="1024.9" cy="491.3" r="1.9"/><circle cx="1061.4" cy="482.6" r="1.9"/></g>
<g class="c8"><circle cx="1041.9" cy="469.7" r="1.9"/><circle cx="1038.7" cy="470.2" r="1.9"/><circle cx="1064.4" cy="454.8" r="1.9"/><circle cx="1052.5" cy="461.8" r="1.9"/><circle cx="1050.4" cy="437.8" r="1.9"/><circle cx="1053.1" cy="448.4" r="1.9"/></g>
<g class="c29"><circle cx="1066.9" cy="476.0" r="1.9"/><circle cx="1072.5" cy="452.5" r="1.9"/><circle cx="1085.1" cy="455.3" r="1.9"/><circle cx="1080.2" cy="453.9" r="1.9"/><circle cx="1080.4" cy="458.1" r="1.9"/><circle cx="1111.5" cy="448.3" r="1.9"/></g>
<g class="c8"><circle cx="1019.6" cy="435.4" r="1.9"/><circle cx="1054.9" cy="454.5" r="1.9"/><circle cx="1034.7" cy="456.0" r="1.9"/><circle cx="1043.4" cy="452.8" r="1.9"/><circle cx="1045.8" cy="467.7" r="1.9"/><circle cx="1077.3" cy="476.8" r="1.9"/></g>
<g class="c27"><circle cx="1060.3" cy="490.3" r="1.9"/><circle cx="1050.8" cy="484.2" r="1.9"/><circle cx="1027.2" cy="485.9" r="1.9"/><circle cx="1006.6" cy="493.0" r="1.9"/><circle cx="1036.2" cy="502.0" r="1.9"/><circle cx="1008.5" cy="489.4" r="1.9"/></g>
<g class="c53"><circle cx="1088.9" cy="483.0" r="1.9"/><circle cx="1096.4" cy="480.4" r="1.9"/><circle cx="1080.2" cy="494.6" r="1.9"/><circle cx="1096.3" cy="479.7" r="1.9"/><circle cx="1089.6" cy="495.8" r="1.9"/><circle cx="1101.5" cy="475.3" r="1.9"/></g>
<g class="c27"><circle cx="1064.9" cy="477.0" r="1.9"/><circle cx="1071.7" cy="489.6" r="1.9"/><circle cx="1061.2" cy="485.4" r="1.9"/><circle cx="1029.6" cy="477.5" r="1.9"/><circle cx="1024.8" cy="492.6" r="1.9"/><circle cx="1065.0" cy="506.8" r="1.9"/></g>
<g class="c27"><circle cx="1051.6" cy="508.4" r="1.9"/><circle cx="1043.1" cy="491.4" r="1.9"/><circle cx="1023.6" cy="490.4" r="1.9"/><circle cx="1020.3" cy="492.3" r="1.9"/><circle cx="1051.1" cy="509.3" r="1.9"/><circle cx="1049.7" cy="493.5" r="1.9"/></g>
<g class="c27"><circle cx="1033.1" cy="477.2" r="1.9"/><circle cx="1030.5" cy="491.9" r="1.9"/><circle cx="1030.3" cy="480.9" r="1.9"/><circle cx="1037.7" cy="497.2" r="1.9"/><circle cx="1045.7" cy="507.9" r="1.9"/><circle cx="1075.8" cy="495.6" r="1.9"/></g>
<g class="c17"><circle cx="1132.3" cy="409.6" r="1.9"/></g>
<g class="c8"><circle cx="1064.2" cy="459.1" r="1.9"/><circle cx="1058.1" cy="444.6" r="1.9"/><circle cx="1065.4" cy="462.7" r="1.9"/><circle cx="1074.4" cy="472.3" r="1.9"/><circle cx="1061.4" cy="462.4" r="1.9"/><circle cx="1021.7" cy="466.5" r="1.9"/></g>
<g class="c27"><circle cx="1059.9" cy="507.3" r="1.9"/><circle cx="1038.5" cy="501.4" r="1.9"/><circle cx="1024.3" cy="466.8" r="1.9"/><circle cx="1063.4" cy="514.9" r="1.9"/><circle cx="1063.0" cy="487.3" r="1.9"/><circle cx="1068.8" cy="479.9" r="1.9"/></g>
<g class="c13"><circle cx="1119.8" cy="480.2" r="1.9"/><circle cx="1166.6" cy="477.0" r="1.9"/><circle cx="1125.2" cy="502.6" r="1.9"/><circle cx="1156.8" cy="473.8" r="1.9"/><circle cx="1126.3" cy="499.2" r="1.9"/><circle cx="1139.1" cy="513.2" r="1.9"/></g>
<g class="c27"><circle cx="1018.9" cy="503.1" r="1.9"/><circle cx="1042.2" cy="510.8" r="1.9"/><circle cx="1006.2" cy="486.0" r="1.9"/><circle cx="1044.8" cy="512.7" r="1.9"/><circle cx="1069.1" cy="506.9" r="1.9"/><circle cx="1051.4" cy="499.1" r="1.9"/></g>
<g class="c53"><circle cx="1085.8" cy="483.6" r="1.9"/><circle cx="1100.6" cy="476.2" r="1.9"/><circle cx="1098.3" cy="474.6" r="1.9"/><circle cx="1100.5" cy="490.2" r="1.9"/><circle cx="1072.5" cy="481.6" r="1.9"/><circle cx="1092.0" cy="490.2" r="1.9"/></g>
<g class="c13"><circle cx="1149.6" cy="454.9" r="1.9"/><circle cx="1114.4" cy="503.6" r="1.9"/><circle cx="1144.2" cy="519.4" r="1.9"/><circle cx="1151.4" cy="519.3" r="1.9"/><circle cx="1131.8" cy="502.2" r="1.9"/><circle cx="1144.7" cy="504.4" r="1.9"/></g>
<g class="c53"><circle cx="1089.4" cy="481.4" r="1.9"/><circle cx="1096.3" cy="496.1" r="1.9"/><circle cx="1106.1" cy="470.1" r="1.9"/><circle cx="1102.9" cy="486.6" r="1.9"/><circle cx="1091.2" cy="492.3" r="1.9"/><circle cx="1083.7" cy="477.7" r="1.9"/></g>
<g class="c8"><circle cx="1072.5" cy="469.0" r="1.9"/><circle cx="1050.1" cy="478.0" r="1.9"/><circle cx="1013.9" cy="465.4" r="1.9"/><circle cx="1055.6" cy="446.0" r="1.9"/><circle cx="1045.9" cy="452.5" r="1.9"/><circle cx="1058.3" cy="478.6" r="1.9"/></g>
<g class="c13"><circle cx="1117.1" cy="473.2" r="1.9"/><circle cx="1109.4" cy="482.2" r="1.9"/><circle cx="1149.0" cy="496.7" r="1.9"/><circle cx="1164.0" cy="479.8" r="1.9"/><circle cx="1133.4" cy="485.2" r="1.9"/><circle cx="1119.8" cy="477.8" r="1.9"/></g>
<g class="c19"><circle cx="1139.6" cy="423.1" r="1.9"/></g>
<g class="c29"><circle cx="1081.0" cy="444.8" r="1.9"/><circle cx="1105.6" cy="469.7" r="1.9"/><circle cx="1100.6" cy="476.4" r="1.9"/><circle cx="1081.2" cy="459.6" r="1.9"/><circle cx="1099.4" cy="468.7" r="1.9"/><circle cx="1091.5" cy="455.5" r="1.9"/></g>
<g class="c54"><circle cx="1105.8" cy="500.5" r="1.9"/><circle cx="1101.2" cy="516.2" r="1.9"/><circle cx="1095.2" cy="513.9" r="1.9"/><circle cx="1120.1" cy="514.0" r="1.9"/><circle cx="1122.6" cy="501.0" r="1.9"/><circle cx="1099.4" cy="531.3" r="1.9"/></g>
<g class="c27"><circle cx="1031.2" cy="499.1" r="1.9"/><circle cx="1054.6" cy="480.7" r="1.9"/><circle cx="1006.8" cy="501.2" r="1.9"/><circle cx="1021.1" cy="506.0" r="1.9"/><circle cx="1051.7" cy="496.0" r="1.9"/><circle cx="1019.0" cy="504.3" r="1.9"/></g>
<g class="c54"><circle cx="1086.3" cy="504.8" r="1.9"/><circle cx="1077.5" cy="509.5" r="1.9"/><circle cx="1099.2" cy="496.2" r="1.9"/><circle cx="1081.2" cy="488.8" r="1.9"/><circle cx="1112.6" cy="494.3" r="1.9"/><circle cx="1111.3" cy="500.1" r="1.9"/></g>
<g class="c29"><circle cx="1076.7" cy="437.8" r="1.9"/><circle cx="1101.9" cy="456.3" r="1.9"/><circle cx="1099.9" cy="470.1" r="1.9"/><circle cx="1088.4" cy="465.0" r="1.9"/><circle cx="1098.5" cy="473.8" r="1.9"/><circle cx="1084.8" cy="465.5" r="1.9"/></g>
<g class="c19"><circle cx="1129.8" cy="459.1" r="1.9"/><circle cx="1149.7" cy="447.2" r="1.9"/><circle cx="1137.8" cy="448.2" r="1.9"/><circle cx="1141.0" cy="430.6" r="1.9"/><circle cx="1127.4" cy="459.6" r="1.9"/><circle cx="1097.5" cy="437.8" r="1.9"/></g>
<g class="c27"><circle cx="1046.3" cy="491.9" r="1.9"/><circle cx="1026.3" cy="481.3" r="1.9"/><circle cx="1050.3" cy="478.9" r="1.9"/><circle cx="1069.1" cy="481.8" r="1.9"/><circle cx="1039.7" cy="499.8" r="1.9"/><circle cx="1024.7" cy="471.6" r="1.9"/></g>
<g class="c27"><circle cx="1038.9" cy="477.7" r="1.9"/><circle cx="1021.9" cy="505.5" r="1.9"/><circle cx="1022.3" cy="500.2" r="1.9"/><circle cx="1065.1" cy="496.9" r="1.9"/><circle cx="1055.0" cy="489.0" r="1.9"/><circle cx="1074.7" cy="505.8" r="1.9"/></g>
<g class="c29"><circle cx="1096.6" cy="449.5" r="1.9"/><circle cx="1103.2" cy="442.0" r="1.9"/><circle cx="1101.1" cy="455.5" r="1.9"/></g>
<g class="c13"><circle cx="1104.1" cy="476.6" r="1.9"/><circle cx="1137.1" cy="469.8" r="1.9"/><circle cx="1155.2" cy="479.0" r="1.9"/><circle cx="1131.5" cy="492.4" r="1.9"/><circle cx="1106.0" cy="479.2" r="1.9"/><circle cx="1140.2" cy="487.4" r="1.9"/></g>
<g class="c29"><circle cx="1097.7" cy="473.4" r="1.9"/><circle cx="1091.1" cy="446.4" r="1.9"/><circle cx="1068.2" cy="456.8" r="1.9"/><circle cx="1076.4" cy="455.5" r="1.9"/><circle cx="1059.0" cy="452.7" r="1.9"/><circle cx="1083.6" cy="469.6" r="1.9"/></g>
<g class="c8"><circle cx="1069.3" cy="463.6" r="1.9"/><circle cx="1055.3" cy="475.5" r="1.9"/><circle cx="1031.3" cy="469.6" r="1.9"/><circle cx="1034.8" cy="450.6" r="1.9"/><circle cx="1044.3" cy="465.9" r="1.9"/><circle cx="1027.8" cy="461.1" r="1.9"/></g>
<g class="c13"><circle cx="1182.6" cy="489.2" r="1.9"/><circle cx="1182.8" cy="487.4" r="1.9"/><circle cx="1159.5" cy="477.8" r="1.9"/><circle cx="1129.9" cy="496.6" r="1.9"/></g>
<g class="c13"><circle cx="1124.3" cy="466.8" r="1.9"/><circle cx="1108.1" cy="478.3" r="1.9"/><circle cx="1158.4" cy="496.6" r="1.9"/><circle cx="1117.1" cy="488.9" r="1.9"/><circle cx="1132.8" cy="481.3" r="1.9"/><circle cx="1120.3" cy="491.1" r="1.9"/></g>
<g class="c19"><circle cx="1116.4" cy="451.8" r="1.9"/><circle cx="1140.0" cy="456.7" r="1.9"/><circle cx="1098.0" cy="460.8" r="1.9"/><circle cx="1103.2" cy="434.7" r="1.9"/><circle cx="1132.8" cy="459.3" r="1.9"/><circle cx="1123.4" cy="422.4" r="1.9"/></g>
<g class="c19"><circle cx="1099.7" cy="430.2" r="1.9"/><circle cx="1095.9" cy="448.8" r="1.9"/><circle cx="1111.0" cy="460.9" r="1.9"/><circle cx="1152.7" cy="438.3" r="1.9"/><circle cx="1163.4" cy="419.2" r="1.9"/><circle cx="1137.7" cy="455.8" r="1.9"/></g>
<g class="c53"><circle cx="1081.0" cy="478.8" r="1.9"/><circle cx="1075.1" cy="477.8" r="1.9"/></g>
<g class="c13"><circle cx="1118.4" cy="501.9" r="1.9"/><circle cx="1134.1" cy="509.3" r="1.9"/><circle cx="1142.3" cy="489.3" r="1.9"/><circle cx="1152.6" cy="495.4" r="1.9"/><circle cx="1174.7" cy="502.8" r="1.9"/><circle cx="1126.7" cy="502.5" r="1.9"/></g>
<g class="c54"><circle cx="1124.0" cy="505.2" r="1.9"/></g>
<g class="c12"><circle cx="1180.2" cy="476.0" r="1.9"/></g>
<g class="c27"><circle cx="1035.8" cy="484.7" r="1.9"/><circle cx="1018.6" cy="481.9" r="1.9"/><circle cx="1006.2" cy="492.0" r="1.9"/><circle cx="1054.5" cy="495.3" r="1.9"/><circle cx="1056.2" cy="493.0" r="1.9"/><circle cx="1058.2" cy="482.8" r="1.9"/></g>
<g class="c8"><circle cx="1051.5" cy="458.2" r="1.9"/><circle cx="1046.3" cy="439.0" r="1.9"/><circle cx="1069.6" cy="458.4" r="1.9"/><circle cx="1060.0" cy="454.7" r="1.9"/><circle cx="1046.1" cy="470.1" r="1.9"/><circle cx="1058.2" cy="470.2" r="1.9"/></g>
<g class="c53"><circle cx="1086.5" cy="477.5" r="1.9"/><circle cx="1103.7" cy="484.8" r="1.9"/><circle cx="1085.8" cy="488.2" r="1.9"/><circle cx="1089.3" cy="489.8" r="1.9"/><circle cx="1093.7" cy="480.3" r="1.9"/><circle cx="1089.8" cy="480.1" r="1.9"/></g>
<g class="c54"><circle cx="1109.9" cy="527.2" r="1.9"/><circle cx="1141.4" cy="509.9" r="1.9"/><circle cx="1094.8" cy="535.4" r="1.9"/><circle cx="1097.5" cy="516.7" r="1.9"/><circle cx="1129.7" cy="511.7" r="1.9"/><circle cx="1124.2" cy="525.6" r="1.9"/></g>
<g class="c13"><circle cx="1118.0" cy="492.5" r="1.9"/><circle cx="1131.3" cy="464.3" r="1.9"/><circle cx="1121.6" cy="480.5" r="1.9"/><circle cx="1162.8" cy="452.4" r="1.9"/><circle cx="1112.6" cy="478.5" r="1.9"/><circle cx="1121.8" cy="494.8" r="1.9"/></g>
<g class="c19"><circle cx="1092.4" cy="447.5" r="1.9"/><circle cx="1131.3" cy="432.6" r="1.9"/><circle cx="1140.2" cy="441.5" r="1.9"/><circle cx="1145.7" cy="439.7" r="1.9"/><circle cx="1139.9" cy="442.1" r="1.9"/><circle cx="1140.8" cy="438.2" r="1.9"/></g>
<g class="c19"><circle cx="1127.5" cy="454.0" r="1.9"/><circle cx="1126.9" cy="444.4" r="1.9"/><circle cx="1131.7" cy="466.7" r="1.9"/><circle cx="1115.5" cy="431.0" r="1.9"/><circle cx="1101.7" cy="431.7" r="1.9"/><circle cx="1124.7" cy="466.1" r="1.9"/></g>
<g class="c27"><circle cx="1013.5" cy="484.8" r="1.9"/><circle cx="1027.5" cy="496.4" r="1.9"/><circle cx="1048.8" cy="496.8" r="1.9"/><circle cx="1041.3" cy="489.6" r="1.9"/><circle cx="1042.3" cy="492.0" r="1.9"/><circle cx="1014.6" cy="491.9" r="1.9"/></g>
<polygon points="1055.0,457.1 1055.9,459.7 1058.6,459.7 1056.4,461.4 1057.2,463.9 1055.0,462.4 1052.8,463.9 1053.6,461.4 1051.4,459.7 1054.1,459.7" fill="#861123" fill-opacity=".85" stroke="#262626" stroke-width=".8"/>
<polygon points="1087.2,458.9 1088.1,461.5 1090.8,461.5 1088.6,463.1 1089.4,465.7 1087.2,464.2 1085.0,465.7 1085.8,463.1 1083.7,461.5 1086.3,461.5" fill="#6d371b" fill-opacity=".85" stroke="#262626" stroke-width=".8"/>
<polygon points="1119.4,446.7 1120.3,449.2 1123.0,449.3 1120.9,450.9 1121.6,453.5 1119.4,451.9 1117.2,453.5 1118.0,450.9 1115.9,449.3 1118.6,449.2" fill="#22631d" fill-opacity=".85" stroke="#262626" stroke-width=".8"/>
<polygon points="1128.3,480.7 1129.2,483.2 1131.9,483.3 1129.8,484.9 1130.5,487.5 1128.3,485.9 1126.1,487.5 1126.9,484.9 1124.8,483.3 1127.5,483.2" fill="#16496d" fill-opacity=".85" stroke="#262626" stroke-width=".8"/>
<polygon points="1094.3,482.2 1095.2,484.8 1097.9,484.8 1095.8,486.5 1096.5,489.0 1094.3,487.5 1092.1,489.0 1092.9,486.5 1090.8,484.8 1093.5,484.8" fill="#fbbe72" fill-opacity=".85" stroke="#262626" stroke-width=".8"/>
<polygon points="1057.7,490.0 1058.5,492.6 1061.2,492.6 1059.1,494.2 1059.9,496.8 1057.7,495.3 1055.5,496.8 1056.2,494.2 1054.1,492.6 1056.8,492.6" fill="#ffff99" fill-opacity=".85" stroke="#262626" stroke-width=".8"/>
<polygon points="1105.7,499.6 1106.5,502.1 1109.2,502.2 1107.1,503.8 1107.9,506.4 1105.7,504.8 1103.5,506.4 1104.2,503.8 1102.1,502.2 1104.8,502.1" fill="#c9b1d6" fill-opacity=".85" stroke="#262626" stroke-width=".8"/>
</g>
<g class="lab"><text x="185.0" y="377.0" text-anchor="middle">MultiArith</text><text x="408.0" y="377.0" text-anchor="middle">GSM8K</text><text x="641.7" y="378.3" text-anchor="middle">AddSub</text><text x="862.0" y="376.0" text-anchor="middle">AQUA</text><text x="1092.6" y="374.0" text-anchor="middle">SingleEq</text><text x="189.4" y="572.5" text-anchor="middle">SVAMP</text><text x="412.2" y="573.7" text-anchor="middle">CSQA</text><text x="637.1" y="571.8" text-anchor="middle">StrategyQA</text><text x="864.4" y="571.8" text-anchor="middle">Last Letter Concatenation</text><text x="1095.9" y="568.5" text-anchor="middle">Coin Flip</text></g>
<text class="cap" x="196.7" y="624.2">Figure 5: Question clustering on ten datasets of reasoning tasks. Stars denote cluster centers.</text>
</svg>
</body></html>
